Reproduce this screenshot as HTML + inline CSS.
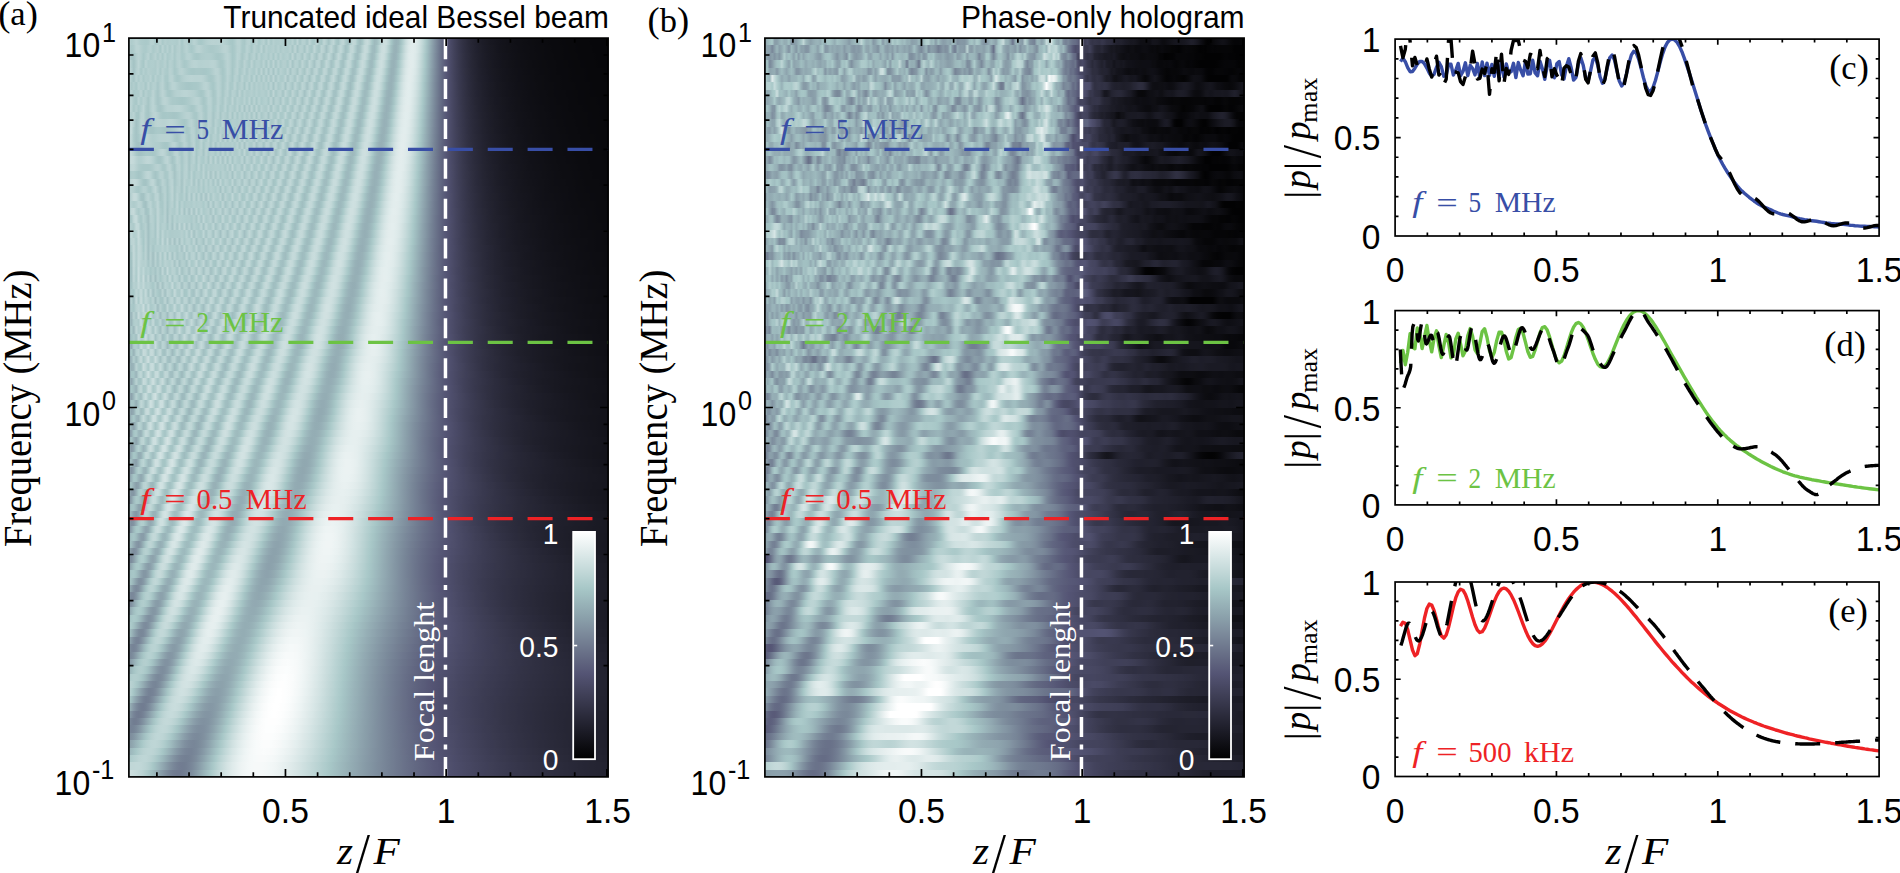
<!DOCTYPE html>
<html><head><meta charset="utf-8"><title>Bessel beam frequency response</title>
<style>
html,body{margin:0;padding:0;background:#fff}
#fig{position:relative;width:1900px;height:873px;overflow:hidden;background:#fff}
.hm{position:absolute;display:flex;flex-direction:column}
.hm i{display:block;flex:1 1 0;min-height:0}
svg{position:absolute;left:0;top:0}
</style></head><body><div id="fig">
<div class="hm" style="left:128.9px;top:38.1px;width:479.2px;height:738.8px">
<i style="background:linear-gradient(90deg,#bad3d3,#afcccc,#b4cfcf,#bad3d3,#b4cfcf,#adcbcb,#accaca,#aac9c9,#accaca,#b6d1d1,#b8d2d2,#a9c9c9,#aecbcb,#b9d2d2,#aac9c9,#b4cfcf,#afcccc,#b1cdcd,#b1cece,#b0cdcd,#aecbcb,#b8d2d2,#a7c7c7,#b5d0d0,#b6d0d0,#a8c8c8,#afcccc,#b9d3d3,#b4cfcf,#aac9c9,#a8c8c8,#adcbcb,#b3cece,#b6d1d1,#b9d2d2,#bad3d3,#b9d2d2,#b9d3d3,#bad3d3,#b8d2d2,#b4cfcf,#afcccc,#a9c8c8,#a7c7c7,#aecccc,#b9d2d2,#b8d2d2,#accaca,#a8c7c7,#b5d0d0,#b8d2d2,#a8c8c8,#afcccc,#bad3d3,#a8c8c8,#b1cece,#b8d2d2,#a6c6c6,#bbd4d4,#a9c8c8,#b5d0d0,#afcccc,#b0cdcd,#b3cece,#afcccc,#b1cece,#b2cece,#adcbcb,#b8d2d2,#a6c6c6,#bdd5d5,#a6c5c6,#b6d1d1,#b5d0d0,#a6c5c6,#bdd5d5,#accaca,#a9c8c8,#bfd6d6,#abc9c9,#a7c7c7,#bfd6d6,#b2cece,#a3c2c3,#b6d1d1,#bfd6d6,#a8c8c8,#a4c3c4,#b9d3d3,#c1d7d7,#accaca,#a2bfc1,#aecccc,#c2d8d8,#bfd6d6,#a8c8c8,#a0bdc0,#a9c8c8,#bfd6d6,#c7dbdb,#bcd4d4,#a7c7c7,#9ebabd,#a1bec0,#b0cdcd,#c4d9d9,#cddfdf,#c9dddd,#bad3d3,#a6c6c6,#9bb7bb,#97b1b7,#9bb6ba,#a4c3c4,#b5d0d0,#c8dcdc,#d6e5e5,#deeaea,#e2ecec,#e0ebeb,#d8e6e6,#cddfdf,#c0d7d7,#b0cdcd,#a2c0c2,#98b1b7,#8da2ac,#8293a2,#788597,#6e788e,#656b85,#5c607c,#555575,#4e4e6c,#474763,#42425b,#3d3d54,#38384d,#343447,#303042,#2d2d3e,#292939,#272735,#242432,#22222f,#20202c,#1e1e29,#1c1c27,#1b1b25,#1a1a23,#181821,#171720,#16161f,#15151d,#14141c,#13131b,#13131a,#121219,#111118,#111117,#101016,#0f0f15,#0f0f15,#0f0f14,#0e0e13,#0e0e13,#0d0d12,#0d0d12,#0d0d11,#0c0c11,#0c0c10,#0b0b10,#0b0b10,#0b0b0f,#0b0b0f,#0a0a0e,#0a0a0e,#0a0a0e,#0a0a0e,#0a0a0d,#09090d,#09090d,#09090c,#09090c,#09090c,#09090c,#08080b,#08080b,#08080b,#08080b,#08080b,#08080b,#07070a,#07070a,#07070a,#07070a,#07070a,#07070a,#070709,#070709)"></i>
<i style="background:linear-gradient(90deg,#b7d1d1,#abc9c9,#afcccc,#bad3d3,#bad3d3,#b3cece,#adcbcb,#abcaca,#b2cece,#b6d1d1,#abcaca,#b1cdcd,#b6d0d0,#a7c7c7,#bad3d3,#aac9c9,#b6d1d1,#a9c8c8,#bad3d3,#a9c8c8,#b3cece,#b6d0d0,#a9c8c8,#b2cece,#b8d2d2,#aecccc,#a8c8c8,#aecccc,#b7d1d1,#bad3d3,#b6d0d0,#b1cdcd,#aecccc,#accaca,#aac9c9,#abc9c9,#adcbcb,#afcccc,#b3cece,#b8d2d2,#bbd3d3,#b7d1d1,#aecbcb,#a7c7c7,#accaca,#b7d1d1,#b8d2d2,#aac9c9,#aac9c9,#b9d3d3,#b2cece,#a7c7c7,#b9d2d2,#b0cccc,#aac9c9,#bbd4d4,#a7c6c6,#b7d1d1,#aecccc,#b0cdcd,#b4cfcf,#accaca,#b6d1d1,#accaca,#b4cfcf,#b0cdcd,#afcccc,#b7d1d1,#a7c6c6,#bed5d5,#a6c5c6,#b6d0d0,#b5d0d0,#a6c5c6,#bdd5d5,#adcbcb,#a7c7c7,#bfd6d6,#adcbcb,#a6c5c5,#bdd5d5,#b6d0d0,#a3c1c3,#b2cece,#c1d7d7,#adcbcb,#a3c1c2,#b4d0d0,#c2d8d8,#b2cece,#a2c0c2,#a8c8c8,#bfd6d6,#c2d8d8,#b0cdcd,#a1bec1,#a4c2c3,#b7d1d1,#c7dbdb,#c3d9d9,#afcccc,#a0bdc0,#9ebabe,#a7c6c6,#bbd4d4,#cadddd,#cddfdf,#c3d9d9,#b1cdcd,#a1bfc1,#99b3b8,#97b1b7,#9ebabd,#a9c8c8,#bcd4d4,#cddfdf,#d9e7e7,#e0ebeb,#e1ecec,#deeaea,#d6e5e5,#cbdede,#bdd5d5,#aecbcb,#a1bec1,#96afb6,#8ba0ab,#8192a1,#778497,#6d778d,#646b84,#5c607c,#555575,#4e4e6b,#484863,#42425b,#3d3d54,#38384e,#343448,#303043,#2d2d3e,#2a2a3a,#272736,#252533,#222230,#20202d,#1f1f2a,#1d1d28,#1b1b26,#1a1a24,#191922,#181821,#17171f,#15151e,#14141c,#14141b,#13131a,#121219,#121218,#111117,#101017,#101016,#0f0f15,#0f0f14,#0e0e14,#0e0e13,#0e0e13,#0d0d12,#0d0d12,#0c0c11,#0c0c11,#0c0c10,#0c0c10,#0b0b10,#0b0b0f,#0b0b0f,#0a0a0e,#0a0a0e,#0a0a0e,#0a0a0e,#0a0a0d,#09090d,#09090d,#09090c,#09090c,#09090c,#08080c,#08080b,#08080b,#08080b,#08080b,#08080b,#08080b,#07070a,#07070a,#07070a,#07070a,#07070a,#07070a,#070709)"></i>
<i style="background:linear-gradient(90deg,#b7d1d1,#a7c6c7,#a5c4c5,#b2cece,#bad3d3,#b3cfcf,#a8c8c8,#b0cdcd,#bad3d3,#a9c8c8,#b0cccc,#b7d1d1,#aac9c9,#b7d1d1,#a9c8c8,#b9d3d3,#abcaca,#b0cdcd,#b6d1d1,#a9c8c8,#b5d0d0,#b5d0d0,#aac9c9,#adcbcb,#b6d1d1,#b8d2d2,#b1cece,#aac9c9,#a7c7c7,#a9c8c8,#aecbcb,#afcccc,#b0cdcd,#b1cdcd,#b0cdcd,#adcbcb,#a9c8c8,#a7c7c7,#a9c8c8,#aecbcb,#b6d1d1,#bad3d3,#b3cfcf,#a7c7c7,#abcaca,#b9d3d3,#b6d0d0,#a7c6c6,#b1cdcd,#bad3d3,#a8c7c7,#b1cdcd,#b8d2d2,#a7c6c6,#bad3d3,#abcaca,#b1cece,#b5d0d0,#aac9c9,#b8d2d2,#a8c8c8,#bad3d3,#a8c8c8,#b7d1d1,#adcbcb,#b1cece,#b5d0d0,#a7c7c7,#bed5d5,#a6c5c6,#b6d1d1,#b5d0d0,#a6c5c5,#bdd5d5,#aecccc,#a7c6c6,#bed6d6,#afcccc,#a4c3c4,#bcd4d4,#b9d2d2,#a4c2c3,#aecbcb,#c1d8d8,#b2cece,#a2c0c2,#afcccc,#c2d8d8,#b8d2d2,#a3c2c3,#a4c3c4,#bad3d3,#c4dada,#b6d1d1,#a3c2c3,#a1bec1,#afcccc,#c2d8d8,#c7dbdb,#b8d2d2,#a5c3c4,#9db9bd,#a2bfc1,#b1cece,#c4d9d9,#cddfdf,#cadddd,#bbd4d4,#a7c7c7,#9db8bc,#97b1b7,#99b3b9,#a1bfc1,#b0cdcd,#c2d8d8,#d1e2e2,#dce9e9,#e1ecec,#e1ecec,#dce9e9,#d4e3e3,#c8dcdc,#bad3d3,#aac9c9,#9fbcbf,#95adb4,#8a9faa,#8090a0,#768396,#6d768d,#646a84,#5c5f7c,#555575,#4e4e6c,#484863,#42425b,#3d3d55,#39394e,#353549,#313143,#2d2d3f,#2b2b3b,#282837,#252533,#232330,#21212e,#1f1f2b,#1d1d29,#1c1c26,#1a1a25,#191923,#181821,#171720,#16161e,#15151d,#14141c,#13131b,#13131a,#121219,#111118,#111117,#101016,#101015,#0f0f15,#0f0f14,#0e0e14,#0e0e13,#0d0d12,#0d0d12,#0d0d11,#0c0c11,#0c0c11,#0c0c10,#0b0b10,#0b0b0f,#0b0b0f,#0b0b0f,#0a0a0e,#0a0a0e,#0a0a0e,#0a0a0d,#09090d,#09090d,#09090d,#09090c,#09090c,#09090c,#08080c,#08080b,#08080b,#08080b,#08080b,#08080b,#08080b,#07070a,#07070a,#07070a,#07070a,#07070a,#07070a)"></i>
<i style="background:linear-gradient(90deg,#c3d9d9,#afcccc,#a4c3c4,#b0cccc,#bdd5d5,#afcccc,#a7c7c7,#bad3d3,#aecccc,#b0cdcd,#b1cece,#aecbcb,#b6d0d0,#aecbcb,#aecccc,#b7d1d1,#a9c8c8,#b6d1d1,#b2cece,#a8c8c8,#b4cfcf,#b8d2d2,#afcccc,#a8c8c8,#abcaca,#b2cece,#b7d1d1,#bad3d3,#b9d3d3,#b6d1d1,#b5d0d0,#b6d1d1,#b7d1d1,#b7d1d1,#b9d3d3,#bad3d3,#b7d1d1,#afcccc,#a8c7c7,#a8c8c8,#b2cece,#bad3d3,#b4cfcf,#a8c7c7,#adcbcb,#bad3d3,#afcccc,#a8c7c7,#bad3d3,#b0cdcd,#a8c8c8,#bcd4d4,#a9c8c8,#b3cfcf,#b3cfcf,#abc9c9,#bad3d3,#a6c6c6,#bbd4d4,#a6c6c6,#bcd4d4,#a6c6c6,#bad3d3,#aac9c9,#b4cfcf,#b3cece,#a8c8c8,#bdd5d5,#a5c4c5,#b7d1d1,#b4d0d0,#a6c5c5,#bdd5d5,#afcccc,#a6c5c6,#bed6d6,#b2cece,#a4c2c4,#b9d3d3,#bbd4d4,#a5c3c4,#aac9c9,#c0d7d7,#b6d1d1,#a3c1c3,#aac9c9,#c0d7d7,#bdd5d5,#a6c5c6,#a2c0c2,#b3cfcf,#c4d9d9,#bdd5d5,#a7c6c7,#a0bdc0,#a8c8c8,#bdd5d5,#c7dbdb,#bfd7d7,#accaca,#9fbcbf,#9ebabe,#a8c8c8,#bcd5d5,#cadddd,#cddfdf,#c4d9d9,#b2cece,#a2c0c2,#99b4b9,#97b1b7,#9cb7bc,#a5c5c5,#b6d1d1,#c8dcdc,#d6e5e5,#deeaea,#e2ecec,#e1ecec,#dbe8e8,#d1e2e2,#c5dada,#b7d1d1,#a8c8c8,#9db9bd,#93abb3,#899da9,#7f8f9f,#758295,#6c758c,#646a84,#5c5f7c,#555575,#4e4e6c,#484864,#43435c,#3e3e55,#39394f,#353549,#313144,#2e2e40,#2b2b3b,#282837,#262634,#242431,#21212e,#1f1f2b,#1e1e29,#1c1c27,#1b1b25,#1a1a23,#181822,#171720,#16161f,#15151e,#14141c,#14141b,#13131a,#121219,#121218,#111117,#101017,#101016,#0f0f15,#0f0f15,#0f0f14,#0e0e13,#0e0e13,#0d0d12,#0d0d12,#0d0d11,#0c0c11,#0c0c10,#0c0c10,#0b0b10,#0b0b0f,#0b0b0f,#0b0b0f,#0a0a0e,#0a0a0e,#0a0a0e,#0a0a0d,#0a0a0d,#09090d,#09090d,#09090c,#09090c,#09090c,#08080c,#08080c,#08080b,#08080b,#08080b,#08080b,#08080a,#07070a,#07070a,#07070a,#07070a,#07070a)"></i>
<i style="background:linear-gradient(90deg,#c4d9d9,#b3cfcf,#a4c2c4,#b3cfcf,#bad3d3,#a8c8c8,#b4d0d0,#accaca,#b5d0d0,#b1cdcd,#afcccc,#adcbcb,#b8d2d2,#a9c8c8,#b7d1d1,#aecccc,#abcaca,#b9d2d2,#b3cfcf,#a7c7c7,#adcbcb,#b7d1d1,#b9d2d2,#b3cfcf,#aecbcb,#a9c9c9,#a7c7c7,#a7c7c7,#a9c8c8,#a9c8c8,#a8c7c7,#a7c6c7,#a7c7c7,#a9c9c9,#adcbcb,#b4cfcf,#bad3d3,#b9d2d2,#aecbcb,#a6c6c6,#aecccc,#bbd4d4,#b4cfcf,#a6c6c6,#b2cece,#bbd3d3,#a8c8c8,#afcccc,#b9d3d3,#a7c6c7,#b7d1d1,#b0cdcd,#abcaca,#bad3d3,#a6c6c6,#bcd4d4,#a6c5c5,#bcd5d5,#a6c5c6,#bcd5d5,#a5c4c5,#bcd5d5,#a7c7c7,#b7d1d1,#b0cdcd,#abc9c9,#bdd5d5,#a5c4c5,#b8d2d2,#b4cfcf,#a6c5c5,#bdd5d5,#afcccc,#a6c5c5,#bed5d5,#b3cfcf,#a4c2c3,#b8d2d2,#bdd5d5,#a6c5c6,#a7c7c7,#bfd6d6,#bad3d3,#a4c3c4,#a7c6c6,#bdd5d5,#c0d7d7,#aac9c9,#a1bfc1,#adcbcb,#c2d8d8,#c1d8d8,#adcbcb,#a0bdc0,#a4c2c4,#b7d1d1,#c6dbdb,#c4dada,#b4cfcf,#a3c1c2,#9db9bd,#a3c1c2,#b3cfcf,#c5dada,#cddfdf,#c9dddd,#bcd4d4,#a9c8c8,#9dbabd,#97b1b7,#98b2b8,#9fbcbf,#abcaca,#bdd5d5,#cddfdf,#d9e7e7,#e0ebeb,#e2ecec,#dfebeb,#d9e7e7,#cfe0e0,#c2d8d8,#b4cfcf,#a6c5c6,#9cb7bc,#91a9b1,#879ba7,#7e8e9e,#758194,#6c758c,#636983,#5c5f7c,#555575,#4e4e6c,#484864,#43435c,#3e3e56,#3a3a50,#35354a,#323245,#2f2f40,#2c2c3c,#292938,#262635,#242432,#22222f,#20202c,#1e1e2a,#1d1d28,#1b1b26,#1a1a24,#191922,#181821,#17171f,#16161e,#15151d,#14141c,#13131b,#13131a,#121219,#111118,#111117,#101017,#101016,#0f0f15,#0f0f14,#0e0e14,#0e0e13,#0e0e13,#0d0d12,#0d0d12,#0c0c11,#0c0c11,#0c0c10,#0c0c10,#0b0b10,#0b0b0f,#0b0b0f,#0a0a0e,#0a0a0e,#0a0a0e,#0a0a0e,#0a0a0e,#0a0a0d,#09090d,#09090d,#09090c,#09090c,#09090c,#09090c,#08080c,#08080b,#08080b,#08080b,#08080b,#08080b,#08080b,#08080a,#07070a,#07070a)"></i>
<i style="background:linear-gradient(90deg,#c4dada,#b0cdcd,#a6c5c6,#b8d2d2,#adcbcb,#b8d2d2,#aac9c9,#b2cece,#afcccc,#b8d2d2,#a7c7c7,#b7d1d1,#accaca,#b0cdcd,#b9d3d3,#aac9c9,#a9c9c9,#b8d2d2,#b9d2d2,#adcbcb,#a7c7c7,#aac9c9,#b1cdcd,#b5d0d0,#b8d2d2,#bad3d3,#bbd4d4,#bad3d3,#b9d3d3,#bad3d3,#bad3d3,#b7d1d1,#b1cdcd,#aac9c9,#a7c7c7,#abc9c9,#b4cfcf,#bad3d3,#b3cece,#a7c7c7,#adcbcb,#bad3d3,#b0cdcd,#a7c7c7,#b8d2d2,#b3cfcf,#a7c6c7,#bbd4d4,#adcbcb,#adcbcb,#b9d2d2,#a6c6c6,#bcd5d5,#a6c6c6,#bad3d3,#a8c7c7,#bad3d3,#a7c7c7,#bbd3d3,#a6c5c6,#bdd5d5,#a6c5c6,#b9d3d3,#adcbcb,#adcbcb,#bcd4d4,#a5c3c4,#b9d3d3,#b3cfcf,#a6c5c6,#bdd5d5,#afcccc,#a5c5c5,#bdd5d5,#b4cfcf,#a3c2c3,#b6d1d1,#bed6d6,#a7c7c7,#a6c5c6,#bdd5d5,#bcd4d4,#a6c5c6,#a5c4c5,#bad3d3,#c2d8d8,#afcccc,#a1bfc1,#a8c8c8,#bed6d6,#c4d9d9,#b4cfcf,#a2c0c2,#a1bec1,#b0cccc,#c3d9d9,#c7dbdb,#bbd3d3,#a7c7c7,#9ebabe,#9fbcbf,#aac9c9,#bed6d6,#cbdede,#cddfdf,#c3d9d9,#b3cfcf,#a3c1c3,#9ab5ba,#97b0b7,#9ab5ba,#a3c1c3,#b2cece,#c3d9d9,#d2e2e2,#dce9e9,#e1ecec,#e2ecec,#deeaea,#d6e5e5,#ccdfdf,#c0d7d7,#b1cdcd,#a4c3c4,#9ab5ba,#90a7b0,#869aa6,#7d8c9d,#748094,#6b748b,#636983,#5c5f7b,#555575,#4e4e6c,#494964,#43435d,#3e3e56,#3a3a50,#36364b,#323246,#2f2f41,#2c2c3d,#292939,#272736,#252532,#22222f,#20202d,#1f1f2b,#1d1d29,#1c1c27,#1a1a25,#191923,#181821,#171720,#16161f,#15151d,#14141c,#14141b,#13131a,#121219,#121218,#111118,#101017,#101016,#101015,#0f0f15,#0f0f14,#0e0e14,#0e0e13,#0d0d12,#0d0d12,#0d0d12,#0d0d11,#0c0c11,#0c0c10,#0b0b10,#0b0b0f,#0b0b0f,#0b0b0f,#0b0b0f,#0a0a0e,#0a0a0e,#0a0a0e,#0a0a0d,#09090d,#09090d,#09090d,#09090d,#09090c,#09090c,#08080c,#08080b,#08080b,#08080b,#08080b,#08080b,#08080b,#08080a,#07070a,#07070a)"></i>
<i style="background:linear-gradient(90deg,#c3d9d9,#abc9c9,#b2cece,#a8c8c8,#b8d2d2,#b0cdcd,#b4cfcf,#a7c7c7,#bad3d3,#abc9c9,#b5d0d0,#b3cfcf,#a7c6c7,#b4cfcf,#bad3d3,#accaca,#a6c6c6,#b0cdcd,#bad3d3,#b9d3d3,#b3cfcf,#aecbcb,#abc9c9,#a9c8c8,#a7c6c7,#a6c6c6,#a7c7c7,#a8c8c8,#a9c8c8,#abcaca,#b1cdcd,#b8d2d2,#bbd4d4,#b6d0d0,#abcaca,#a7c7c7,#b0cdcd,#bad3d3,#b3cfcf,#a7c6c6,#b0cdcd,#bbd4d4,#aac9c9,#abcaca,#bcd4d4,#a9c8c8,#b1cdcd,#b7d1d1,#a6c6c6,#bcd5d5,#a7c7c7,#b8d2d2,#abc9c9,#b5d0d0,#aecbcb,#b4cfcf,#accaca,#b7d1d1,#a8c8c8,#bcd5d5,#a5c4c5,#bcd4d4,#aac9c9,#b0cdcd,#bad3d3,#a4c3c4,#bbd4d4,#b2cece,#a6c5c6,#bdd5d5,#afcccc,#a6c5c5,#bdd5d5,#b5d0d0,#a3c1c3,#b5d0d0,#bfd6d6,#a8c8c8,#a5c4c5,#bbd4d4,#bed6d6,#a8c7c7,#a3c2c3,#b6d1d1,#c2d8d8,#b4cfcf,#a2c0c2,#a5c4c5,#bad3d3,#c5dada,#b9d3d3,#a5c4c5,#9fbcbf,#a9c8c8,#bed5d5,#c8dcdc,#c0d7d7,#aecbcb,#a0bdc0,#9db9bd,#a4c3c4,#b6d0d0,#c7dbdb,#cee0e0,#c9dddd,#bcd4d4,#aac9c9,#9ebbbe,#98b2b8,#97b1b7,#9db9bd,#a7c7c7,#b9d3d3,#c9dddd,#d6e5e5,#deeaea,#e2eded,#e1ecec,#dce9e9,#d4e4e4,#cadddd,#bdd5d5,#aecccc,#a2c0c2,#99b3b8,#8fa5af,#8598a5,#7c8b9c,#737f93,#6b738b,#636983,#5b5e7b,#555574,#4e4e6c,#494965,#44445d,#3f3f57,#3a3a50,#36364b,#333346,#303042,#2c2c3d,#2a2a3a,#272736,#252533,#232330,#21212e,#1f1f2b,#1e1e29,#1c1c27,#1b1b25,#1a1a24,#191922,#171720,#17171f,#16161e,#15151d,#14141c,#13131b,#13131a,#121219,#111118,#111117,#101017,#101016,#0f0f15,#0f0f14,#0e0e14,#0e0e14,#0e0e13,#0d0d12,#0d0d12,#0d0d11,#0c0c11,#0c0c11,#0c0c10,#0c0c10,#0b0b10,#0b0b0f,#0b0b0f,#0a0a0e,#0a0a0e,#0a0a0e,#0a0a0e,#0a0a0e,#0a0a0d,#09090d,#09090d,#09090c,#09090c,#09090c,#09090c,#08080c,#08080b,#08080b,#08080b,#08080b,#08080b,#08080b,#08080a)"></i>
<i style="background:linear-gradient(90deg,#b6d1d1,#b8d2d2,#aac9c9,#aecccc,#afcccc,#bbd4d4,#a8c7c7,#b6d1d1,#accaca,#adcbcb,#bcd4d4,#afcccc,#a6c5c6,#b3cece,#bcd4d4,#b4cfcf,#a8c8c8,#a6c6c6,#accaca,#b3cece,#b6d1d1,#b7d1d1,#b9d3d3,#bbd4d4,#bbd4d4,#b9d2d2,#b7d1d1,#b5d0d0,#b0cdcd,#aac9c9,#a6c6c6,#aac9c9,#b6d0d0,#bcd4d4,#b3cfcf,#a7c6c6,#accaca,#bbd4d4,#b4cfcf,#a6c6c6,#b4cfcf,#b8d2d2,#a7c6c7,#b6d1d1,#b4cfcf,#a7c6c7,#bcd4d4,#a8c7c7,#b6d1d1,#aecbcb,#b0cdcd,#b4cfcf,#adcbcb,#b5d0d0,#adcbcb,#b2cece,#b2cece,#accaca,#b9d2d2,#a5c5c5,#bed5d5,#a7c7c7,#b4cfcf,#b7d1d1,#a5c4c5,#bdd5d5,#b0cdcd,#a6c6c6,#bed5d5,#afcccc,#a6c5c6,#bdd5d5,#b5d0d0,#a3c1c3,#b4cfcf,#c0d7d7,#aac9c9,#a4c3c4,#b9d3d3,#c0d7d7,#aac9c9,#a2c0c2,#b3cfcf,#c3d9d9,#b8d2d2,#a4c2c4,#a3c1c3,#b5d0d0,#c4dada,#bed6d6,#a9c8c8,#9fbcbf,#a5c3c4,#b8d2d2,#c6dbdb,#c5dada,#b5d0d0,#a4c2c4,#9db9bd,#a1bec0,#aecbcb,#c0d7d7,#ccdfdf,#cddfdf,#c3d9d9,#b3cece,#a3c1c3,#9ab5ba,#97b0b7,#99b4b9,#a1bfc1,#aecccc,#c0d7d7,#cee0e0,#d9e7e7,#e0ebeb,#e2eded,#e0ecec,#dae8e8,#d2e2e2,#c7dbdb,#bad3d3,#accaca,#a1bec0,#97b1b7,#8da4ad,#8497a4,#7b8a9b,#727e92,#6a738a,#636882,#5b5e7b,#555575,#4e4e6c,#494965,#44445e,#3f3f57,#3b3b51,#37374c,#333347,#303042,#2d2d3e,#2a2a3a,#282837,#252534,#232331,#22222f,#20202c,#1e1e2a,#1d1d28,#1b1b26,#1a1a24,#191923,#181821,#171720,#16161e,#15151d,#14141c,#14141b,#13131a,#121219,#121218,#111118,#111117,#101016,#101016,#0f0f15,#0f0f14,#0e0e14,#0e0e13,#0e0e13,#0d0d12,#0d0d12,#0d0d12,#0c0c11,#0c0c10,#0c0c10,#0b0b10,#0b0b10,#0b0b0f,#0b0b0f,#0b0b0f,#0a0a0e,#0a0a0e,#0a0a0e,#0a0a0d,#0a0a0d,#09090d,#09090d,#09090d,#09090c,#09090c,#08080c,#08080c,#08080b,#08080b,#08080b,#08080b,#08080b,#08080b)"></i>
<i style="background:linear-gradient(90deg,#b9d2d2,#b9d3d3,#adcbcb,#a7c7c7,#b9d3d3,#abcaca,#b7d1d1,#b3cece,#a6c5c5,#b3cfcf,#bcd5d5,#afcccc,#a6c5c6,#accaca,#b8d2d2,#bcd4d4,#b7d1d1,#afcccc,#abc9c9,#aac9c9,#a9c8c8,#a7c7c7,#a6c6c6,#a7c7c7,#aac9c9,#aecbcb,#b2cece,#b7d1d1,#bad3d3,#b8d2d2,#aecbcb,#a6c6c6,#accaca,#b9d3d3,#b8d2d2,#a9c8c8,#abc9c9,#bad3d3,#b0cdcd,#a8c7c7,#bad3d3,#afcccc,#a9c8c8,#bcd4d4,#a8c7c7,#b6d1d1,#b0cdcd,#accaca,#b8d2d2,#a8c8c8,#bbd4d4,#a6c6c6,#bad3d3,#a7c7c7,#b9d3d3,#abcaca,#b1cece,#b4d0d0,#a8c7c7,#bed5d5,#a5c4c5,#b7d1d1,#b4cfcf,#a6c5c6,#bed6d6,#adcbcb,#a7c7c7,#bfd6d6,#aecbcb,#a6c5c6,#bdd5d5,#b5d0d0,#a3c2c3,#b4cfcf,#c0d7d7,#abc9c9,#a3c2c3,#b8d2d2,#c1d7d7,#accaca,#a2c0c2,#b0cdcd,#c2d8d8,#bbd4d4,#a6c5c5,#a2bfc1,#b1cdcd,#c3d9d9,#c1d8d8,#aecbcb,#a0bec0,#a2c0c2,#b2cece,#c4d9d9,#c7dbdb,#bbd4d4,#a8c8c8,#9ebbbe,#9ebabe,#a7c6c6,#b9d2d2,#c8dcdc,#cee0e0,#c9dddd,#bbd4d4,#aac9c9,#9ebbbe,#98b2b8,#97b1b7,#9cb8bc,#a5c4c5,#b5d0d0,#c6dbdb,#d3e3e3,#dce9e9,#e1ecec,#e2eded,#dfebeb,#d8e6e6,#cfe0e0,#c4d9d9,#b7d1d1,#a9c8c8,#9fbcbf,#95aeb5,#8ca2ac,#8395a3,#7a899a,#727d91,#6a7289,#626882,#5b5e7b,#555575,#4f4f6d,#494965,#44445e,#404058,#3b3b52,#37374c,#343447,#303043,#2e2e3f,#2b2b3b,#282838,#262634,#242432,#22222f,#20202d,#1f1f2b,#1d1d29,#1c1c26,#1b1b25,#191923,#181822,#181821,#17171f,#16161e,#15151d,#14141c,#13131b,#13131a,#121219,#121218,#111117,#101017,#101016,#0f0f15,#0f0f15,#0f0f14,#0e0e14,#0e0e13,#0d0d13,#0d0d12,#0d0d12,#0d0d11,#0c0c11,#0c0c11,#0c0c10,#0b0b10,#0b0b0f,#0b0b0f,#0b0b0f,#0b0b0f,#0a0a0e,#0a0a0e,#0a0a0e,#0a0a0d,#09090d,#09090d,#09090d,#09090c,#09090c,#09090c,#09090c,#09090c,#08080c,#08080b,#08080b,#08080b,#08080b)"></i>
<i style="background:linear-gradient(90deg,#c0d7d7,#b8d2d2,#a9c8c8,#b4cfcf,#a8c8c8,#b2cece,#bdd5d5,#accaca,#a6c5c5,#b3cfcf,#bcd5d5,#b5d0d0,#a8c8c8,#a6c5c6,#abc9c9,#b3cfcf,#b8d2d2,#b8d2d2,#b8d2d2,#bad3d3,#bbd4d4,#bbd4d4,#b8d2d2,#b4cfcf,#b0cdcd,#abcaca,#a7c7c7,#a9c8c8,#b2cece,#bad3d3,#b7d1d1,#aac9c9,#a8c8c8,#b6d1d1,#b8d2d2,#a8c8c8,#aecccc,#bbd4d4,#aac9c9,#accaca,#bbd4d4,#a7c7c7,#b6d1d1,#b1cdcd,#aac9c9,#bbd3d3,#a6c6c6,#bcd5d5,#a5c4c5,#bcd4d4,#a6c5c6,#bdd5d5,#a5c5c5,#bcd4d4,#a6c6c6,#b8d2d2,#b0cccc,#accaca,#bbd4d4,#a4c3c4,#bad3d3,#b1cdcd,#a7c7c7,#bed6d6,#aac9c9,#a9c8c8,#bfd7d7,#accaca,#a6c5c6,#bdd5d5,#b5d0d0,#a4c2c3,#b3cfcf,#c0d7d7,#abcaca,#a3c2c3,#b7d1d1,#c1d8d8,#aecccc,#a2bfc2,#adcbcb,#c1d8d8,#bed5d5,#a7c7c7,#a1bec1,#accaca,#c1d7d7,#c4d9d9,#b3cfcf,#a2c0c2,#a0bdc0,#accaca,#c0d7d7,#c8dcdc,#c0d7d7,#afcccc,#a1bec1,#9db9bd,#a3c1c2,#b1cece,#c3d9d9,#cddfdf,#cddfdf,#c3d9d9,#b2cece,#a3c1c3,#9bb6ba,#97b0b7,#99b3b9,#a0bdc0,#abcaca,#bcd4d4,#cbdede,#d7e5e5,#deeaea,#e2ecec,#e2ecec,#deeaea,#d6e5e5,#ccdfdf,#c1d7d7,#b4cfcf,#a7c6c7,#9db9bd,#94acb4,#8ba0ab,#8294a2,#798899,#717c91,#697189,#626782,#5b5e7b,#555575,#4f4f6d,#494965,#44445e,#404058,#3c3c52,#38384d,#343448,#313143,#2e2e3f,#2b2b3c,#292939,#272735,#242432,#222230,#21212d,#1f1f2b,#1e1e29,#1d1d27,#1b1b25,#1a1a24,#191922,#181821,#171720,#16161f,#15151d,#14141c,#14141b,#13131a,#121219,#121219,#111118,#111117,#101016,#101016,#0f0f15,#0f0f15,#0f0f14,#0e0e14,#0e0e13,#0e0e13,#0d0d12,#0d0d12,#0c0c11,#0c0c11,#0c0c11,#0c0c10,#0c0c10,#0b0b10,#0b0b0f,#0b0b0f,#0a0a0e,#0a0a0e,#0a0a0e,#0a0a0e,#0a0a0e,#0a0a0d,#09090d,#09090d,#09090c,#09090c,#09090c,#09090c,#09090c,#08080c,#08080c,#08080b,#08080b)"></i>
<i style="background:linear-gradient(90deg,#b9d3d3,#b3cfcf,#b9d3d3,#a7c7c7,#a6c6c6,#bad3d3,#bbd4d4,#aac9c9,#a6c5c6,#afcccc,#bad3d3,#bcd4d4,#b5d0d0,#accaca,#a7c7c7,#a7c7c7,#a8c8c8,#a8c7c7,#a6c6c6,#a6c5c6,#a7c7c7,#abcaca,#b0cdcd,#b5d0d0,#b9d2d2,#b9d2d2,#b2cece,#a9c8c8,#a8c8c8,#b4cfcf,#bad3d3,#aecbcb,#a7c7c7,#b7d1d1,#b7d1d1,#a6c5c6,#b2cece,#bad3d3,#a7c6c6,#b7d1d1,#b1cdcd,#a9c8c8,#bcd4d4,#a6c6c6,#bbd4d4,#a7c7c7,#b8d2d2,#aac9c9,#b8d2d2,#aac9c9,#b9d2d2,#a6c6c6,#bdd5d5,#a5c5c5,#bdd5d5,#a9c8c8,#b1cdcd,#b8d2d2,#a5c4c5,#bdd5d5,#accaca,#a9c8c8,#bed6d6,#a9c8c8,#abcaca,#bfd6d6,#aac9c9,#a6c6c6,#bed6d6,#b5d0d0,#a3c2c3,#b3cece,#c0d7d7,#accaca,#a3c2c3,#b5d0d0,#c1d8d8,#b0cdcd,#a2c0c2,#abcaca,#c0d7d7,#bfd6d6,#aac9c9,#a1bec1,#a9c8c8,#bed6d6,#c5dada,#b7d1d1,#a4c3c4,#9fbcbf,#a7c7c7,#bbd4d4,#c7dbdb,#c4dada,#b5d0d0,#a4c3c4,#9db9bd,#9fbcbf,#aac9c9,#bdd5d5,#cadddd,#cee0e0,#c8dcdc,#bad3d3,#a9c8c8,#9ebbbe,#98b2b8,#97b1b7,#9bb7bb,#a4c2c4,#b2cece,#c3d9d9,#d0e1e1,#dae7e7,#e0ebeb,#e2eded,#e1ecec,#dce9e9,#d4e4e4,#cadddd,#bed6d6,#b1cdcd,#a5c4c5,#9cb7bc,#92aab2,#899ea9,#8192a1,#798798,#707b90,#697188,#616781,#5b5e7b,#555575,#4f4f6d,#4a4a66,#44445f,#404058,#3c3c53,#38384e,#353549,#313144,#2e2e40,#2c2c3c,#292939,#272736,#252533,#232330,#21212e,#20202c,#1e1e2a,#1d1d28,#1c1c26,#1a1a25,#191923,#181821,#171720,#16161f,#16161e,#15151d,#14141c,#13131b,#13131a,#121219,#121218,#111118,#111117,#101016,#101016,#0f0f15,#0f0f14,#0e0e14,#0e0e13,#0e0e13,#0e0e13,#0d0d12,#0d0d12,#0c0c11,#0c0c11,#0c0c10,#0c0c10,#0b0b10,#0b0b10,#0b0b0f,#0b0b0f,#0b0b0f,#0a0a0e,#0a0a0e,#0a0a0e,#0a0a0d,#0a0a0d,#0a0a0d,#09090d,#09090d,#09090c,#09090c,#09090c,#08080c,#08080b,#08080b,#08080b)"></i>
<i style="background:linear-gradient(90deg,#b1cece,#c3d9d9,#b4cfcf,#a3c1c3,#abc9c9,#bbd4d4,#bbd3d3,#adcbcb,#a6c5c5,#a7c7c7,#b0cdcd,#b9d2d2,#bcd4d4,#bbd3d3,#b9d2d2,#b9d2d2,#bbd4d4,#bdd5d5,#bcd4d4,#b8d2d2,#b4cfcf,#afcccc,#aac9c9,#a7c7c7,#accaca,#b6d1d1,#bad3d3,#b1cdcd,#a7c7c7,#b0cccc,#bbd4d4,#afcccc,#a6c6c6,#b9d2d2,#b6d0d0,#a6c5c6,#b8d2d2,#b0cdcd,#a9c9c9,#bdd5d5,#a6c6c6,#b8d2d2,#abcaca,#b2cece,#b2cece,#afcccc,#b4cfcf,#adcbcb,#b2cece,#b2cece,#aecbcb,#b9d2d2,#a6c5c6,#bdd5d5,#a6c5c5,#b8d2d2,#b3cfcf,#a7c6c6,#bed5d5,#a8c8c8,#adcbcb,#bfd6d6,#a6c6c6,#adcbcb,#bed6d6,#a8c8c8,#a8c8c8,#bfd6d6,#b3cfcf,#a3c1c3,#b3cfcf,#c0d7d7,#adcbcb,#a3c1c3,#b4cfcf,#c1d8d8,#b2cece,#a2c0c2,#a9c8c8,#bed6d6,#c0d7d7,#adcbcb,#a1bfc1,#a6c6c6,#bbd4d4,#c5dada,#bbd4d4,#a7c7c7,#a0bcbf,#a4c3c4,#b6d0d0,#c5dada,#c7dbdb,#bbd4d4,#a8c8c8,#9ebbbe,#9db9bd,#a5c4c5,#b6d0d0,#c6dbdb,#cee0e0,#ccdede,#c1d8d8,#b1cdcd,#a3c1c3,#9bb6ba,#97b0b7,#98b2b8,#9fbbbf,#a9c8c8,#b9d3d3,#c8dcdc,#d4e4e4,#dde9e9,#e1ecec,#e2eded,#e0ebeb,#dae7e7,#d1e2e2,#c7dbdb,#bbd4d4,#aecccc,#a3c1c3,#9ab5ba,#91a8b1,#889ca8,#8091a0,#788598,#707a90,#687088,#616681,#5b5d7b,#555575,#4f4f6d,#4a4a66,#45455f,#404059,#3c3c53,#39394e,#35354a,#323245,#2f2f41,#2c2c3d,#2a2a3a,#282837,#262634,#242431,#22222f,#20202c,#1f1f2a,#1d1d29,#1c1c27,#1b1b25,#1a1a24,#191922,#181821,#17171f,#16161e,#15151d,#15151d,#14141c,#13131a,#121219,#121219,#111118,#111117,#111117,#101016,#101016,#0f0f15,#0f0f14,#0e0e14,#0e0e13,#0e0e13,#0d0d13,#0d0d12,#0d0d12,#0d0d11,#0c0c11,#0c0c10,#0c0c10,#0b0b10,#0b0b0f,#0b0b0f,#0b0b0f,#0b0b0f,#0a0a0e,#0a0a0e,#0a0a0e,#0a0a0d,#0a0a0d,#09090d,#09090d,#09090d,#09090d,#09090c,#09090c,#09090c,#08080c,#08080b)"></i>
<i style="background:linear-gradient(90deg,#bed6d6,#c3d9d9,#adcbcb,#a4c3c4,#accaca,#bad3d3,#bdd5d5,#b5d0d0,#aac9c9,#a5c4c5,#a5c4c5,#a8c8c8,#abc9c9,#aac9c9,#a8c7c7,#a6c6c6,#a6c6c6,#a7c7c7,#aac9c9,#aecbcb,#b4cfcf,#b9d3d3,#b8d2d2,#b0cccc,#a7c7c7,#accaca,#b8d2d2,#b6d1d1,#a8c7c7,#adcbcb,#bcd5d5,#afcccc,#a7c6c6,#bad3d3,#afcccc,#abc9c9,#bcd5d5,#a6c6c6,#b5d0d0,#b0cdcd,#adcbcb,#b9d3d3,#a7c7c7,#bbd4d4,#a6c5c5,#bcd4d4,#a7c6c7,#bbd4d4,#a9c8c8,#b5d0d0,#b0cdcd,#abcaca,#bcd4d4,#a5c4c5,#bcd4d4,#accaca,#aac9c9,#bed6d6,#a6c6c6,#b1cece,#bcd4d4,#a5c3c4,#b1cdcd,#bfd6d6,#a7c7c7,#a9c8c8,#bfd6d6,#b2cece,#a3c1c3,#b4d0d0,#c1d7d7,#adcbcb,#a2c0c2,#b3cfcf,#c2d8d8,#b4cfcf,#a3c1c3,#a7c7c7,#bcd5d5,#c2d8d8,#b1cdcd,#a2c0c2,#a5c4c5,#b7d1d1,#c4dada,#bfd6d6,#abcaca,#a0bdc0,#a2c0c2,#b0cdcd,#c2d8d8,#c8dcdc,#c0d7d7,#aecbcb,#a0bec0,#9cb8bc,#a1bfc1,#afcccc,#c1d7d7,#ccdede,#cee0e0,#c6dbdb,#b9d2d2,#a8c8c8,#9ebbbe,#98b2b8,#97b0b6,#9bb6bb,#a3c1c3,#b0cdcd,#c0d7d7,#cddfdf,#d8e6e6,#dfebeb,#e2eded,#e2eded,#deeaea,#d8e6e6,#cfe0e0,#c4d9d9,#b8d2d2,#accaca,#a1bfc1,#98b3b8,#90a6af,#879ba7,#7f8f9f,#778497,#6f7a8f,#686f88,#616681,#5b5d7a,#555575,#4f4f6d,#4a4a66,#45455f,#414159,#3d3d54,#39394f,#36364a,#323246,#2f2f41,#2d2d3e,#2a2a3a,#282837,#262635,#242432,#22222f,#21212d,#1f1f2b,#1e1e29,#1d1d27,#1b1b26,#1a1a24,#191923,#181821,#171720,#16161f,#16161e,#15151d,#14141c,#14141b,#13131a,#121219,#121218,#111118,#111117,#101017,#101016,#101015,#0f0f15,#0f0f14,#0e0e14,#0e0e13,#0e0e13,#0d0d12,#0d0d12,#0d0d12,#0d0d11,#0c0c11,#0c0c10,#0c0c10,#0b0b10,#0b0b0f,#0b0b0f,#0b0b0f,#0b0b0f,#0a0a0e,#0a0a0e,#0a0a0e,#0a0a0e,#0a0a0d,#09090d,#09090d,#09090d,#09090c,#09090c,#09090c,#09090c,#09090c)"></i>
<i style="background:linear-gradient(90deg,#c2d8d8,#bed6d6,#accaca,#a5c3c5,#a8c8c8,#b4d0d0,#bdd5d5,#bfd6d6,#bad3d3,#b4cfcf,#b1cece,#b3cfcf,#b6d1d1,#b8d2d2,#b9d2d2,#b9d2d2,#b9d3d3,#b8d2d2,#b3cfcf,#abc9c9,#a7c6c6,#accaca,#b7d1d1,#bad3d3,#aecbcb,#a7c7c7,#b5d0d0,#b9d3d3,#a8c8c8,#abc9c9,#bdd5d5,#adcbcb,#abcaca,#bbd4d4,#a6c6c6,#b4cfcf,#b5d0d0,#a9c8c8,#bcd4d4,#a5c4c5,#bcd4d4,#a6c5c6,#bcd4d4,#a7c7c7,#bcd4d4,#a5c4c5,#bcd5d5,#a5c4c5,#bdd5d5,#a9c8c8,#b3cfcf,#b5d0d0,#a6c5c6,#bed6d6,#a8c8c8,#b1cdcd,#bcd4d4,#a4c3c4,#b5d0d0,#bad3d3,#a4c3c4,#b5d0d0,#bdd5d5,#a5c4c5,#abc9c9,#c0d7d7,#b1cdcd,#a3c2c3,#b5d0d0,#c0d7d7,#accaca,#a3c1c3,#b4cfcf,#c2d8d8,#b4cfcf,#a2c0c2,#a6c5c6,#bcd4d4,#c3d9d9,#b3cfcf,#a2c0c2,#a3c1c3,#b4cfcf,#c4d9d9,#c1d8d8,#afcccc,#a1bfc1,#a0bdc0,#accaca,#bfd6d6,#c8dcdc,#c3d9d9,#b3cfcf,#a3c1c3,#9db8bc,#9fbcbf,#a9c8c8,#bbd4d4,#c8dcdc,#cee0e0,#cadede,#c0d7d7,#b0cdcd,#a2c0c2,#9ab5ba,#96b0b6,#98b2b8,#9ebbbe,#a8c7c7,#b7d1d1,#c6dbdb,#d2e2e2,#dbe8e8,#e1ecec,#e3eded,#e1ecec,#dce9e9,#d5e4e4,#ccdfdf,#c1d8d8,#b6d0d0,#a9c8c8,#9fbcbf,#97b0b7,#8ea5ae,#8699a6,#7e8e9e,#768396,#6e798e,#676f87,#616680,#5b5d7a,#555575,#4f4f6d,#4a4a66,#454560,#41415a,#3d3d54,#3a3a4f,#36364b,#333346,#303042,#2d2d3e,#2b2b3b,#292938,#272735,#252533,#232330,#21212e,#20202c,#1e1e2a,#1d1d28,#1c1c27,#1b1b25,#1a1a24,#191922,#181821,#17171f,#16161e,#15151d,#15151d,#14141c,#13131b,#13131a,#121219,#111118,#111117,#111117,#101016,#101016,#0f0f15,#0f0f15,#0f0f14,#0e0e14,#0e0e13,#0d0d13,#0d0d12,#0d0d12,#0d0d12,#0d0d11,#0c0c11,#0c0c11,#0c0c10,#0b0b10,#0b0b0f,#0b0b0f,#0b0b0f,#0b0b0f,#0a0a0e,#0a0a0e,#0a0a0e,#0a0a0e,#0a0a0d,#0a0a0d,#09090d,#09090d,#09090c,#09090c,#09090c,#09090c)"></i>
<i style="background:linear-gradient(90deg,#c0d7d7,#bdd5d5,#afcccc,#a5c4c5,#a4c2c3,#a8c8c8,#b1cece,#b7d1d1,#b8d2d2,#b5d0d0,#b2cece,#b0cdcd,#b0cdcd,#aecbcb,#a9c8c8,#a6c6c6,#a7c7c7,#b0cdcd,#bad3d3,#bbd4d4,#b0cdcd,#a6c6c6,#accaca,#bad3d3,#b4cfcf,#a7c6c7,#b2cece,#bcd4d4,#a8c8c8,#accaca,#bbd4d4,#a7c7c7,#b4cfcf,#b7d1d1,#a6c5c6,#bbd4d4,#a6c5c6,#b9d2d2,#adcbcb,#b4cfcf,#afcccc,#b1cdcd,#afcccc,#b3cfcf,#adcbcb,#b9d2d2,#a7c6c6,#bdd5d5,#a5c3c4,#bad3d3,#aecccc,#accaca,#bdd5d5,#a5c3c4,#b5d0d0,#b7d1d1,#a4c3c4,#bbd3d3,#b7d1d1,#a4c2c3,#b7d1d1,#bbd4d4,#a5c3c4,#aecccc,#c1d7d7,#aecccc,#a3c1c3,#b6d0d0,#c0d7d7,#accaca,#a3c1c3,#b3cfcf,#c1d8d8,#b4d0d0,#a3c1c3,#a6c5c6,#bbd4d4,#c3d9d9,#b4cfcf,#a3c1c3,#a2c0c2,#b2cece,#c3d9d9,#c3d9d9,#b2cece,#a2c0c2,#9fbcbf,#a8c8c8,#bcd4d4,#c7dcdc,#c6dada,#b8d2d2,#a6c6c6,#9ebabe,#9ebabd,#a5c4c5,#b4d0d0,#c4d9d9,#cddfdf,#cddfdf,#c5dada,#b7d1d1,#a7c6c7,#9db9bd,#97b1b7,#97b0b6,#9bb6bb,#a2c1c2,#aecccc,#bdd5d5,#cbdede,#d6e5e5,#deeaea,#e2eded,#e3eded,#e0ebeb,#dae8e8,#d3e3e3,#cadddd,#bfd6d6,#b2cece,#a6c6c6,#9ebabe,#95aeb5,#8da3ad,#8598a5,#7d8d9d,#758295,#6e788e,#676e87,#606580,#5a5d7a,#555575,#4f4f6d,#4a4a66,#454560,#41415a,#3e3e55,#3a3a50,#37374b,#333347,#303043,#2e2e3f,#2b2b3c,#292939,#272736,#252534,#232331,#22222e,#20202c,#1f1f2a,#1d1d29,#1c1c27,#1b1b26,#1a1a24,#191923,#181821,#171720,#16161f,#16161e,#15151d,#14141c,#14141b,#13131a,#12121a,#121219,#111118,#111117,#101017,#101016,#101016,#0f0f15,#0f0f15,#0f0f14,#0e0e14,#0e0e13,#0d0d12,#0d0d12,#0d0d12,#0d0d12,#0c0c11,#0c0c11,#0c0c11,#0c0c10,#0b0b10,#0b0b0f,#0b0b0f,#0b0b0f,#0b0b0f,#0a0a0e,#0a0a0e,#0a0a0e,#0a0a0e,#0a0a0e,#0a0a0d,#09090d,#09090d,#09090c,#09090c,#09090c)"></i>
<i style="background:linear-gradient(90deg,#bfd6d6,#c2d8d8,#b7d1d1,#aac9c9,#a4c3c4,#a4c2c4,#a7c6c6,#aac9c9,#aac9c9,#a8c8c8,#a7c7c7,#abc9c9,#b2cece,#bbd4d4,#bed6d6,#b9d2d2,#accaca,#a5c4c5,#a9c9c9,#b9d2d2,#bcd4d4,#adcbcb,#a7c7c7,#b6d0d0,#b7d1d1,#a6c6c6,#b1cdcd,#bcd5d5,#a7c7c7,#b2cece,#b7d1d1,#a5c4c5,#bcd4d4,#abcaca,#b3cfcf,#b4cfcf,#a9c9c9,#b8d2d2,#a7c6c7,#bcd4d4,#a7c7c7,#bbd4d4,#a8c7c7,#b6d0d0,#aecbcb,#afcccc,#b9d3d3,#a6c5c6,#bed6d6,#a6c6c6,#b2cece,#b9d2d2,#a5c4c5,#bcd4d4,#b2cece,#a5c4c5,#bcd5d5,#b1cece,#a4c3c4,#bcd4d4,#b9d2d2,#a4c2c3,#b0cdcd,#c0d7d7,#accaca,#a4c2c4,#b8d2d2,#c0d7d7,#abc9c9,#a2c0c2,#b3cfcf,#c2d8d8,#b6d0d0,#a3c2c3,#a5c4c5,#b9d3d3,#c3d9d9,#b6d1d1,#a4c3c4,#a2c0c2,#b0cccc,#c1d8d8,#c4d9d9,#b6d0d0,#a4c3c4,#9fbcbf,#a6c5c6,#b7d1d1,#c5dada,#c7dbdb,#bdd5d5,#abcaca,#a0bdc0,#9db8bc,#a2bfc1,#aecccc,#bfd6d6,#cbdede,#cfe0e0,#cadddd,#bdd5d5,#adcbcb,#a1bec1,#9ab4b9,#96b0b6,#98b2b8,#9ebabe,#a6c6c6,#b5d0d0,#c4d9d9,#d0e1e1,#dae8e8,#e0ebeb,#e3eded,#e2ecec,#deeaea,#d9e7e7,#d1e2e2,#c7dbdb,#bcd4d4,#afcccc,#a4c3c4,#9cb8bc,#94adb4,#8ca1ac,#8496a4,#7c8b9c,#748194,#6d778d,#676e86,#606580,#5a5d7a,#555574,#4f4f6d,#4a4a66,#464660,#42425b,#3e3e56,#3a3a51,#37374c,#343447,#313143,#2e2e40,#2c2c3d,#2a2a3a,#282837,#262634,#242432,#22222f,#21212d,#1f1f2b,#1e1e29,#1d1d28,#1c1c26,#1b1b25,#1a1a23,#181822,#181821,#17171f,#16161e,#15151e,#15151d,#14141c,#14141b,#13131a,#121219,#121218,#111118,#111117,#101017,#101016,#101016,#0f0f15,#0f0f15,#0e0e14,#0e0e13,#0e0e13,#0d0d12,#0d0d12,#0d0d12,#0d0d11,#0c0c11,#0c0c11,#0c0c11,#0c0c10,#0b0b10,#0b0b0f,#0b0b0f,#0b0b0f,#0b0b0f,#0a0a0e,#0a0a0e,#0a0a0e,#0a0a0e,#0a0a0e,#0a0a0d,#0a0a0d,#09090d,#09090d,#09090c)"></i>
<i style="background:linear-gradient(90deg,#bed5d5,#c7dbdb,#c3d9d9,#bad3d3,#b3cfcf,#b3cfcf,#b8d2d2,#bed5d5,#c0d7d7,#bdd5d5,#b6d1d1,#adcbcb,#a6c6c6,#a6c5c6,#adcbcb,#b9d3d3,#bdd5d5,#b1cdcd,#a5c4c5,#abcaca,#bcd4d4,#b5d0d0,#a7c6c7,#b4cfcf,#b9d2d2,#a5c4c5,#b2cece,#b9d3d3,#a6c6c6,#bad3d3,#aecccc,#abcaca,#b9d2d2,#a6c5c5,#bed5d5,#a6c6c6,#bdd5d5,#a6c5c6,#bbd4d4,#a5c4c5,#bdd5d5,#a5c5c5,#bed6d6,#a6c6c6,#b8d2d2,#aecccc,#abc9c9,#bcd5d5,#a5c4c5,#bbd4d4,#b2cece,#a6c5c6,#bed5d5,#abcaca,#a8c8c8,#c0d7d7,#adcbcb,#a6c5c6,#bdd5d5,#b4cfcf,#a3c1c3,#b4d0d0,#c0d7d7,#aac9c9,#a4c3c4,#b9d2d2,#bfd6d6,#aac9c9,#a3c1c3,#b5d0d0,#c2d8d8,#b5d0d0,#a3c1c3,#a5c4c5,#b9d2d2,#c4d9d9,#b8d2d2,#a5c4c5,#a1bec1,#adcbcb,#c0d7d7,#c5dada,#b9d3d3,#a6c5c6,#9fbcbf,#a3c2c3,#b3cfcf,#c3d9d9,#c9dcdc,#c1d7d7,#b0cdcd,#a2bfc2,#9cb8bc,#9fbcbf,#a9c8c8,#bad3d3,#c8dcdc,#cee0e0,#ccdfdf,#c2d8d8,#b4cfcf,#a5c5c5,#9db9bd,#97b1b7,#97b0b6,#9ab5ba,#a2bfc2,#adcbcb,#bcd4d4,#cadddd,#d5e4e4,#dde9e9,#e1ecec,#e3eded,#e1ecec,#ddeaea,#d7e5e5,#cee0e0,#c4d9d9,#b8d2d2,#accaca,#a3c1c3,#9bb6bb,#93abb3,#8a9faa,#8294a2,#7b8a9b,#748093,#6d768d,#666d86,#606580,#5a5c7a,#545574,#4f4f6d,#4a4a67,#464661,#42425b,#3e3e56,#3b3b51,#37374c,#343448,#313144,#2f2f41,#2c2c3d,#2a2a3a,#282838,#262635,#242432,#232330,#21212e,#20202c,#1e1e2a,#1d1d29,#1c1c27,#1b1b25,#1a1a24,#191922,#181821,#171720,#16161f,#16161e,#15151d,#15151c,#14141c,#13131b,#13131a,#121219,#111118,#111118,#111117,#101017,#101016,#101016,#0f0f15,#0f0f14,#0e0e14,#0e0e13,#0e0e13,#0d0d12,#0d0d12,#0d0d12,#0d0d12,#0c0c11,#0c0c11,#0c0c11,#0c0c10,#0b0b10,#0b0b0f,#0b0b0f,#0b0b0f,#0b0b0f,#0a0a0e,#0a0a0e,#0a0a0e,#0a0a0e,#0a0a0e,#0a0a0e,#0a0a0d,#09090d,#09090d)"></i>
<i style="background:linear-gradient(90deg,#b4cfcf,#bfd6d6,#bfd6d6,#b7d1d1,#afcccc,#aac9c9,#a9c8c8,#a9c8c8,#a9c8c8,#abc9c9,#afcccc,#b6d0d0,#b9d2d2,#b3cfcf,#a9c8c8,#a9c8c8,#b7d1d1,#bcd4d4,#accaca,#a5c4c5,#b6d1d1,#b9d2d2,#a7c7c7,#b5d0d0,#bad3d3,#a5c4c5,#b6d0d0,#b2cece,#a8c8c8,#bed6d6,#a7c6c6,#bad3d3,#aac9c9,#b3cece,#afcccc,#b1cdcd,#b3cece,#b2cece,#b0cdcd,#b4cfcf,#a9c8c8,#bad3d3,#a5c4c5,#bfd6d6,#a7c7c7,#b5d0d0,#b5d0d0,#a5c4c5,#bed5d5,#aac9c9,#accaca,#bfd7d7,#a7c6c7,#adcbcb,#bed6d6,#a7c7c7,#a9c8c8,#c0d7d7,#b1cece,#a4c2c4,#b7d1d1,#bed5d5,#a7c7c7,#a5c4c5,#bcd4d4,#bfd6d6,#a9c8c8,#a3c1c3,#b4d0d0,#c2d8d8,#b5d0d0,#a3c2c3,#a5c4c5,#b9d2d2,#c3d9d9,#b8d2d2,#a5c4c5,#a1bec1,#accaca,#bfd6d6,#c6dbdb,#bbd4d4,#a7c7c7,#9fbcbf,#a2c0c2,#b0cdcd,#c2d8d8,#c9dddd,#c3d9d9,#b4cfcf,#a4c3c4,#9db9bd,#9ebabe,#a5c5c5,#b5d0d0,#c4d9d9,#cddfdf,#cee0e0,#c7dcdc,#bbd4d4,#abcaca,#a0bdc0,#99b3b9,#96afb6,#98b2b8,#9ebabe,#a6c6c6,#b5d0d0,#c3d9d9,#cfe0e0,#d8e6e6,#dfeaea,#e2eded,#e3eded,#e1ecec,#dbe8e8,#d4e3e3,#cbdede,#c1d7d7,#b6d0d0,#aac9c9,#a1bfc1,#99b4b9,#91a8b1,#899da9,#8193a1,#7a899a,#737f93,#6c768c,#666d86,#60647f,#5a5c7a,#545574,#4f4f6e,#4b4b67,#474761,#42425c,#3f3f56,#3b3b51,#38384d,#353549,#323245,#2f2f41,#2d2d3e,#2b2b3b,#292938,#272735,#252533,#232330,#22222e,#20202d,#1f1f2b,#1e1e29,#1d1d28,#1b1b26,#1a1a24,#191923,#181822,#181821,#171720,#16161f,#16161e,#15151d,#14141c,#14141b,#13131a,#121219,#121219,#111118,#111117,#111117,#101017,#101016,#101015,#0f0f15,#0f0f14,#0e0e14,#0e0e13,#0e0e13,#0d0d12,#0d0d12,#0d0d12,#0d0d12,#0d0d11,#0c0c11,#0c0c11,#0c0c10,#0b0b10,#0b0b0f,#0b0b0f,#0b0b0f,#0b0b0f,#0a0a0e,#0a0a0e,#0a0a0e,#0a0a0e,#0a0a0e,#0a0a0e,#0a0a0d,#09090d)"></i>
<i style="background:linear-gradient(90deg,#a6c5c6,#afcccc,#afcccc,#a9c9c9,#a6c5c6,#a7c7c7,#b0cdcd,#bad3d3,#bfd6d6,#b9d3d3,#accaca,#a5c4c5,#abcaca,#b8d2d2,#b7d1d1,#a9c8c8,#abcaca,#bcd4d4,#b6d0d0,#a5c3c4,#b2cece,#b8d2d2,#a6c5c6,#b7d1d1,#b8d2d2,#a6c6c6,#bbd4d4,#a7c7c7,#b2cece,#b4cfcf,#aac9c9,#bcd4d4,#a6c6c6,#bcd4d4,#a5c3c4,#bcd4d4,#a6c5c5,#bcd4d4,#a9c8c8,#b7d1d1,#b0cdcd,#abc9c9,#bad3d3,#a4c3c4,#bdd5d5,#adcbcb,#accaca,#bed6d6,#a5c4c5,#b2cece,#bbd4d4,#a4c3c4,#b4d0d0,#bed5d5,#a5c4c5,#adcbcb,#bfd6d6,#abcaca,#a4c3c4,#bbd4d4,#bdd5d5,#a6c5c6,#a6c6c6,#bcd5d5,#bdd5d5,#a7c6c7,#a4c2c3,#b7d1d1,#c3d9d9,#b5d0d0,#a3c1c2,#a4c3c4,#b8d2d2,#c4d9d9,#bad3d3,#a6c6c6,#a1bec1,#a9c9c9,#bdd5d5,#c5dada,#bdd5d5,#aac9c9,#a0bdc0,#a1bfc1,#adcbcb,#bed6d6,#c8dcdc,#c5dada,#b8d2d2,#a7c7c7,#9ebbbe,#9db8bd,#a2c0c2,#afcccc,#bfd6d6,#cbdede,#cfe0e0,#cbdede,#c0d7d7,#b1cdcd,#a3c2c3,#9bb7bb,#97b0b7,#97b0b7,#9bb6bb,#a2c0c2,#adcbcb,#bbd4d4,#c8dcdc,#d3e3e3,#dce9e9,#e1ecec,#e3eded,#e2eded,#deeaea,#d9e7e7,#d1e2e2,#c8dcdc,#bed6d6,#b3cfcf,#a7c7c7,#9fbcbf,#97b1b7,#8fa6af,#889ca8,#8192a1,#798899,#727e92,#6c758b,#656c85,#5f637f,#5a5c7a,#555574,#50506e,#4b4b68,#474762,#42425c,#3f3f56,#3b3b52,#38384d,#353549,#333346,#303042,#2e2e3f,#2b2b3c,#292939,#272736,#252533,#242431,#22222f,#21212d,#20202c,#1e1e2a,#1d1d28,#1c1c26,#1b1b25,#1a1a24,#191922,#181821,#171720,#17171f,#16161e,#15151d,#15151c,#14141b,#13131b,#13131a,#121219,#121219,#111118,#111118,#111117,#101016,#101016,#0f0f15,#0f0f15,#0f0f14,#0e0e14,#0e0e13,#0e0e13,#0d0d12,#0d0d12,#0d0d12,#0d0d12,#0d0d11,#0c0c11,#0c0c11,#0c0c10,#0b0b10,#0b0b0f,#0b0b0f,#0b0b0f,#0b0b0f,#0a0a0e,#0a0a0e,#0a0a0e,#0a0a0e,#0a0a0e,#0a0a0e,#0a0a0d)"></i>
<i style="background:linear-gradient(90deg,#b2cece,#c1d7d7,#c5dada,#c2d8d8,#b9d2d2,#aecbcb,#a5c5c5,#a4c3c4,#adcbcb,#bbd4d4,#c0d7d7,#b2cece,#a4c3c4,#aac9c9,#bad3d3,#b2cece,#a7c6c7,#b7d1d1,#bbd4d4,#a6c5c6,#b1cdcd,#b7d1d1,#a5c3c4,#bad3d3,#b1cdcd,#adcbcb,#bcd4d4,#a5c4c5,#bbd4d4,#a5c4c5,#bad3d3,#a9c8c8,#bad3d3,#aac9c9,#bad3d3,#a6c5c6,#bbd4d4,#a4c3c4,#bed6d6,#a7c7c7,#b8d2d2,#b3cece,#a7c7c7,#bdd5d5,#a5c4c5,#b4cfcf,#b9d3d3,#a5c3c4,#bbd4d4,#b6d0d0,#a4c2c3,#b9d2d2,#b8d2d2,#a3c2c3,#b4cfcf,#c0d7d7,#a8c8c8,#a6c6c6,#bdd5d5,#b9d3d3,#a4c3c4,#a8c8c8,#bfd6d6,#bdd5d5,#a6c5c6,#a4c2c4,#b7d1d1,#c2d8d8,#b3cfcf,#a3c1c3,#a5c4c5,#b9d2d2,#c4d9d9,#bad3d3,#a6c5c6,#a0bdc0,#a8c8c8,#bcd5d5,#c6dbdb,#bfd6d6,#accaca,#a0bdc0,#a0bcbf,#a9c8c8,#bcd4d4,#c8dcdc,#c8dcdc,#bcd4d4,#aac9c9,#9fbcbf,#9cb7bc,#a0bdc0,#abc9c9,#bcd4d4,#c9dcdc,#cee0e0,#cddfdf,#c4d9d9,#b7d1d1,#a8c8c8,#9fbbbf,#99b3b8,#96b0b6,#98b2b8,#9ebabe,#a6c5c6,#b3cfcf,#c2d8d8,#cee0e0,#d8e6e6,#dfeaea,#e2eded,#e3eded,#e1ecec,#dde9e9,#d7e6e6,#cfe1e1,#c6dbdb,#bbd4d4,#afcccc,#a5c4c5,#9ebabd,#96afb6,#8fa5ae,#879ba7,#80909f,#788698,#717d91,#6b748b,#656b85,#5f647f,#5a5c7a,#555575,#50506e,#4b4b68,#474761,#43435c,#3f3f57,#3c3c53,#39394e,#36364a,#333346,#303043,#2e2e3f,#2b2b3c,#292939,#282837,#262634,#242432,#232330,#21212e,#20202c,#1f1f2a,#1d1d28,#1c1c27,#1b1b26,#1a1a24,#191923,#191922,#181821,#171720,#16161f,#16161e,#15151d,#14141c,#14141b,#13131a,#13131a,#121219,#121219,#111118,#111117,#111117,#101016,#101016,#0f0f15,#0f0f14,#0e0e14,#0e0e14,#0e0e13,#0e0e13,#0e0e13,#0d0d12,#0d0d12,#0d0d12,#0d0d11,#0c0c11,#0c0c10,#0c0c10,#0b0b10,#0b0b0f,#0b0b0f,#0b0b0f,#0b0b0f,#0b0b0f,#0b0b0f,#0a0a0e,#0a0a0e,#0a0a0e,#0a0a0e)"></i>
<i style="background:linear-gradient(90deg,#b3cece,#b8d2d2,#b4cfcf,#abcaca,#a8c8c8,#aecccc,#b6d1d1,#b5d0d0,#abcaca,#a8c8c8,#b6d1d1,#bfd6d6,#afcccc,#a4c2c4,#b3cfcf,#b8d2d2,#a6c6c6,#b3cfcf,#bed5d5,#a7c6c6,#b5d0d0,#b4cfcf,#a5c4c5,#bcd4d4,#a7c7c7,#b8d2d2,#b1cdcd,#afcccc,#b6d0d0,#a8c8c8,#b7d1d1,#a8c8c8,#b8d2d2,#adcbcb,#b5d0d0,#b2cece,#abcaca,#b9d3d3,#a4c3c4,#bdd5d5,#a8c7c7,#b3cfcf,#bad3d3,#a4c3c4,#bcd4d4,#afcccc,#a5c4c5,#bed6d6,#aecccc,#a6c6c6,#bfd6d6,#b3cece,#a3c2c3,#b8d2d2,#bcd4d4,#a5c4c5,#a9c9c9,#c0d7d7,#b7d1d1,#a3c2c3,#abc9c9,#bfd7d7,#b9d2d2,#a5c3c4,#a5c4c5,#bad3d3,#c3d9d9,#b3cfcf,#a2c0c2,#a5c3c4,#b8d2d2,#c4d9d9,#bbd4d4,#a7c7c7,#a1bec0,#a8c7c7,#bbd4d4,#c5dada,#bfd7d7,#aecccc,#a1bfc1,#a0bdc0,#a8c7c7,#b9d3d3,#c6dbdb,#c8dcdc,#bed6d6,#aecbcb,#a2bfc2,#9db8bc,#9fbbbf,#a7c6c7,#b6d1d1,#c4dada,#cddfdf,#cee0e0,#c9dcdc,#bdd5d5,#aecccc,#a2c0c2,#9ab5ba,#96afb6,#96b0b6,#9bb6bb,#a2c0c2,#adcbcb,#bbd4d4,#c8dcdc,#d2e3e3,#dae8e8,#e0ebeb,#e3eded,#e3eded,#e1ecec,#dce8e8,#d4e4e4,#ccdede,#c2d8d8,#b8d2d2,#adcbcb,#a4c2c4,#9cb8bc,#95adb4,#8da3ad,#8598a5,#7e8e9e,#778597,#717c91,#6b748b,#656b85,#5f637f,#595c79,#545474,#4f4f6e,#4b4b68,#474762,#43435d,#404058,#3c3c53,#39394f,#36364b,#333347,#313143,#2e2e40,#2c2c3d,#2a2a3a,#282838,#272735,#252533,#232331,#22222f,#20202d,#1f1f2b,#1e1e29,#1d1d28,#1c1c26,#1b1b25,#1a1a24,#191923,#181822,#171720,#17171f,#16161e,#15151d,#15151c,#14141c,#14141b,#13131a,#13131a,#121219,#121218,#111118,#111117,#101016,#101016,#0f0f15,#0f0f15,#0f0f14,#0f0f14,#0e0e14,#0e0e13,#0e0e13,#0e0e13,#0d0d12,#0d0d12,#0d0d12,#0c0c11,#0c0c11,#0c0c10,#0c0c10,#0b0b10,#0b0b10,#0b0b0f,#0b0b0f,#0b0b0f,#0b0b0f,#0b0b0f,#0a0a0e,#0a0a0e,#0a0a0e)"></i>
<i style="background:linear-gradient(90deg,#a5c3c5,#b9d2d2,#c6dada,#c4dada,#b5d0d0,#a4c3c4,#a3c2c3,#b2cece,#bbd4d4,#afcccc,#a9c8c8,#bad3d3,#bbd4d4,#a6c5c5,#accaca,#bad3d3,#a6c6c6,#b1cece,#bdd5d5,#a7c6c6,#bbd4d4,#aecbcb,#aac9c9,#b8d2d2,#a5c4c5,#bed6d6,#a6c5c6,#bfd6d6,#a6c6c6,#bdd5d5,#a4c3c4,#bcd4d4,#a4c2c4,#bed5d5,#a6c6c6,#bad3d3,#b0cdcd,#accaca,#bbd4d4,#a3c2c3,#bbd3d3,#afcccc,#a8c8c8,#c0d7d7,#a9c8c8,#adcbcb,#bfd6d6,#a6c6c6,#aac9c9,#bfd7d7,#accaca,#a6c5c6,#bed6d6,#b9d2d2,#a3c2c3,#adcbcb,#c0d7d7,#b2cece,#a3c1c2,#afcccc,#c2d8d8,#b8d2d2,#a4c2c4,#a5c4c5,#bad3d3,#c1d8d8,#b1cdcd,#a2c0c2,#a6c5c6,#bad3d3,#c4dada,#bad3d3,#a6c6c6,#a0bdc0,#a7c6c6,#bad3d3,#c6dbdb,#c2d8d8,#b0cdcd,#a2c0c2,#9fbbbe,#a5c4c5,#b6d1d1,#c5dada,#c9dddd,#c2d8d8,#b2cece,#a3c2c3,#9cb8bc,#9db9bd,#a4c2c4,#b2cece,#c2d8d8,#ccdfdf,#cfe1e1,#cbdede,#c1d7d7,#b3cece,#a5c4c5,#9db9bd,#98b2b8,#96b0b6,#99b3b9,#9fbbbe,#a6c6c6,#b3cfcf,#c1d7d7,#cddfdf,#d7e5e5,#deeaea,#e2eded,#e4eeee,#e2eded,#deeaea,#d9e7e7,#d2e2e2,#c9dddd,#c0d7d7,#b6d0d0,#aac9c9,#a2bfc2,#9ab5ba,#93abb3,#8ba1ab,#8497a4,#7e8e9e,#778497,#707b90,#6a738a,#646a84,#5e627e,#595b79,#545474,#50506e,#4c4c68,#474763,#44445d,#404058,#3c3c53,#39394f,#36364b,#343447,#313144,#2f2f41,#2d2d3e,#2b2b3b,#292938,#272736,#252533,#242431,#22222f,#21212d,#20202c,#1f1f2a,#1d1d29,#1c1c27,#1b1b26,#1a1a24,#191923,#181822,#181821,#171720,#16161f,#16161e,#15151d,#15151d,#14141c,#14141b,#13131a,#121219,#121219,#111118,#111117,#101017,#101016,#101016,#101015,#0f0f15,#0f0f15,#0f0f14,#0e0e14,#0e0e14,#0e0e13,#0d0d13,#0d0d12,#0d0d12,#0d0d11,#0c0c11,#0c0c11,#0c0c10,#0c0c10,#0c0c10,#0b0b10,#0b0b10,#0b0b0f,#0b0b0f,#0b0b0f,#0b0b0f,#0a0a0e,#0a0a0e)"></i>
<i style="background:linear-gradient(90deg,#b2cece,#b3cfcf,#afcccc,#b3cfcf,#bcd5d5,#b9d2d2,#a6c5c6,#a2c0c2,#b4d0d0,#bbd4d4,#aac9c9,#b1cdcd,#c0d7d7,#aac9c9,#a9c8c8,#bad3d3,#a5c4c5,#b2cece,#b9d2d2,#a7c7c7,#c0d7d7,#a7c7c7,#b8d2d2,#abcaca,#b0cccc,#b1cdcd,#aecccc,#b5d0d0,#b0cdcd,#b3cfcf,#b3cece,#abcaca,#b8d2d2,#a5c3c4,#bed6d6,#a5c4c5,#bad3d3,#b3cece,#a8c8c8,#bfd6d6,#a5c4c5,#b0cdcd,#bbd4d4,#a4c2c4,#b6d1d1,#bcd4d4,#a4c3c4,#b3cfcf,#bed6d6,#a5c5c5,#a8c8c8,#bfd7d7,#b3cece,#a3c2c3,#b4cfcf,#c2d8d8,#aecbcb,#a2c0c2,#b1cece,#c1d8d8,#b4cfcf,#a3c1c3,#a7c7c7,#bed5d5,#c2d8d8,#afcccc,#a1bfc1,#a5c4c5,#b9d3d3,#c4dada,#bbd4d4,#a7c7c7,#a0bec0,#a7c6c7,#b9d3d3,#c5dada,#c1d8d8,#b1cece,#a3c1c3,#9fbcbf,#a5c4c5,#b5d0d0,#c4d9d9,#c9dcdc,#c3d9d9,#b4d0d0,#a5c4c5,#9ebabe,#9db9bd,#a2c0c2,#aecccc,#bdd5d5,#c9dddd,#cee0e0,#cddfdf,#c5dada,#b9d2d2,#aac9c9,#a0bdc0,#99b4b9,#96afb6,#97b0b6,#9bb6bb,#a2c0c2,#adcbcb,#bbd4d4,#c8dcdc,#d2e3e3,#dae8e8,#e0ebeb,#e2eded,#e3eded,#e1ecec,#ddeaea,#d7e6e6,#d0e1e1,#c7dbdb,#bcd5d5,#b2cece,#a7c7c7,#a0bdc0,#99b3b9,#92a9b2,#8ba0aa,#8396a3,#7c8c9c,#768396,#6f7a8f,#697289,#646a84,#5e637e,#595c79,#555574,#50506e,#4b4b68,#474762,#43435d,#404058,#3d3d54,#3a3a50,#37374c,#343448,#323245,#2f2f42,#2d2d3e,#2b2b3b,#292939,#272736,#262634,#242432,#232330,#22222e,#20202d,#1f1f2b,#1e1e29,#1d1d28,#1c1c26,#1b1b25,#1a1a23,#191922,#181821,#181820,#171720,#16161f,#16161e,#15151d,#14141c,#14141b,#13131a,#13131a,#121219,#121218,#111118,#111117,#111117,#101017,#101016,#101016,#0f0f15,#0f0f15,#0f0f14,#0e0e14,#0e0e13,#0e0e13,#0d0d12,#0d0d12,#0d0d12,#0d0d11,#0c0c11,#0c0c11,#0c0c11,#0c0c11,#0c0c10,#0c0c10,#0b0b10,#0b0b0f,#0b0b0f,#0b0b0f,#0b0b0f,#0a0a0e)"></i>
<i style="background:linear-gradient(90deg,#a6c6c6,#c1d7d7,#c5dada,#b4cfcf,#aac9c9,#b5d0d0,#b6d1d1,#a4c2c4,#a6c6c6,#bcd5d5,#b1cdcd,#abc9c9,#c1d7d7,#afcccc,#a9c8c8,#bad3d3,#a3c2c3,#b6d0d0,#b0cdcd,#adcbcb,#bdd5d5,#a7c7c7,#bfd6d6,#a4c3c4,#bcd5d5,#a3c1c3,#bdd5d5,#a4c3c4,#bfd6d6,#a6c6c6,#bcd5d5,#abcaca,#b1cdcd,#b6d0d0,#a5c3c4,#bed6d6,#a6c6c6,#b4cfcf,#bbd4d4,#a5c3c4,#bcd4d4,#b3cfcf,#a4c2c4,#bcd4d4,#b2cece,#a4c2c4,#bbd4d4,#bbd4d4,#a4c3c4,#b0cdcd,#c0d7d7,#abcaca,#a3c1c3,#b7d1d1,#c0d7d7,#aac9c9,#a4c2c4,#b7d1d1,#c2d8d8,#b1cdcd,#a1bfc1,#a8c8c8,#bed6d6,#c1d7d7,#aecccc,#a2c0c2,#a7c7c7,#bbd4d4,#c4dada,#b9d3d3,#a6c5c6,#a0bdc0,#a6c6c6,#bad3d3,#c6dbdb,#c3d9d9,#b3cfcf,#a3c1c3,#9ebabe,#a3c1c3,#b2cece,#c2d8d8,#cadddd,#c6dbdb,#b8d2d2,#a7c7c7,#9ebbbe,#9cb7bb,#a0bdc0,#a9c9c9,#bad3d3,#c7dbdb,#cfe0e0,#cfe0e0,#c9dcdc,#bdd5d5,#aecccc,#a3c1c2,#9bb6bb,#97b0b7,#96afb6,#99b4b9,#9fbcbf,#a7c7c7,#b4cfcf,#c1d7d7,#ccdfdf,#d6e5e5,#ddeaea,#e2eded,#e4eeee,#e3eded,#e0ebeb,#dbe8e8,#d4e4e4,#ccdfdf,#c3d9d9,#bad3d3,#b0cdcd,#a6c5c6,#9fbbbe,#97b1b7,#90a7b0,#899da9,#8294a2,#7b8b9b,#758295,#6f7a8f,#697289,#646a84,#5e627e,#595b79,#545474,#50506e,#4b4b68,#484863,#44445e,#414159,#3d3d55,#3a3a51,#37374c,#353549,#323245,#303042,#2d2d3f,#2c2c3c,#2a2a3a,#282837,#272735,#252533,#232331,#22222f,#21212d,#1f1f2b,#1e1e29,#1d1d28,#1c1c27,#1b1b26,#1a1a24,#1a1a23,#191922,#181821,#171720,#17171f,#16161e,#15151d,#15151c,#14141c,#13131b,#13131a,#13131a,#121219,#121219,#111118,#111118,#111117,#101017,#101016,#0f0f15,#0f0f15,#0f0f14,#0e0e14,#0e0e13,#0e0e13,#0e0e13,#0d0d12,#0d0d12,#0d0d12,#0d0d12,#0d0d12,#0c0c11,#0c0c11,#0c0c11,#0c0c10,#0b0b10,#0b0b10,#0b0b0f,#0b0b0f,#0b0b0f,#0a0a0e)"></i>
<i style="background:linear-gradient(90deg,#a2c0c2,#a9c8c8,#c0d7d7,#c7dcdc,#b1cdcd,#a7c7c7,#b7d1d1,#aecbcb,#a2bfc1,#b7d1d1,#b5d0d0,#a8c8c8,#c1d7d7,#afcccc,#adcbcb,#bad3d3,#a3c1c3,#bad3d3,#a6c5c5,#b8d2d2,#aecccc,#b5d0d0,#b3cfcf,#b1cece,#b0cdcd,#b1cdcd,#abcaca,#b6d0d0,#a7c6c6,#bed6d6,#a5c4c5,#bfd6d6,#aac9c9,#b1cdcd,#b9d2d2,#a3c1c3,#bcd4d4,#aecbcb,#a7c7c7,#c1d7d7,#aac9c9,#abc9c9,#c0d7d7,#a9c9c9,#a6c5c6,#bed6d6,#b1cece,#a3c1c3,#b8d2d2,#c0d7d7,#a8c7c7,#a6c5c6,#bdd5d5,#bcd4d4,#a5c4c5,#a4c3c4,#bad3d3,#c1d8d8,#aecccc,#a2c0c2,#adcbcb,#c0d7d7,#bfd6d6,#abc9c9,#a0bec0,#a7c7c7,#bcd4d4,#c5dada,#bad3d3,#a6c6c6,#a0bdc0,#a6c6c6,#b8d2d2,#c5dada,#c2d8d8,#b4cfcf,#a4c3c4,#9fbcbf,#a3c1c3,#b1cdcd,#c1d7d7,#c9dcdc,#c6dbdb,#bad3d3,#aac9c9,#a0bdc0,#9cb8bc,#9fbcbf,#a7c7c7,#b6d1d1,#c4d9d9,#ccdfdf,#cfe0e0,#cbdede,#c1d8d8,#b4d0d0,#a6c6c6,#9ebabe,#98b2b8,#96afb5,#97b1b7,#9cb7bc,#a3c1c3,#aecbcb,#bbd4d4,#c8dcdc,#d2e3e3,#dae8e8,#e0ebeb,#e3eded,#e3eded,#e2ecec,#deeaea,#d9e7e7,#d3e3e3,#cadede,#c1d8d8,#b7d1d1,#accaca,#a3c2c3,#9cb8bc,#96afb5,#8fa5af,#889ca8,#8193a1,#7b8a9b,#748194,#6e788e,#687088,#636983,#5e617e,#595b79,#545574,#50506f,#4c4c69,#484864,#44445e,#414159,#3d3d55,#3a3a50,#37374d,#353549,#333346,#303043,#2e2e40,#2c2c3d,#2a2a3b,#292938,#272736,#252533,#242431,#22222f,#21212d,#20202c,#1f1f2b,#1e1e29,#1d1d28,#1c1c27,#1b1b25,#1a1a24,#191923,#181821,#171720,#17171f,#16161e,#15151e,#15151d,#15151c,#14141c,#14141b,#13131b,#13131a,#121219,#121219,#111118,#111117,#101017,#101016,#101015,#0f0f15,#0f0f15,#0f0f14,#0f0f14,#0e0e14,#0e0e13,#0e0e13,#0e0e13,#0d0d13,#0d0d12,#0d0d12,#0d0d11,#0c0c11,#0c0c11,#0c0c10,#0c0c10,#0b0b10,#0b0b0f,#0b0b0f,#0b0b0f,#0b0b0f)"></i>
<i style="background:linear-gradient(90deg,#b2cece,#b1cdcd,#aecbcb,#c3d9d9,#c1d8d8,#a7c6c7,#afcccc,#b6d0d0,#a1bfc1,#b2cece,#b6d1d1,#a7c6c7,#c2d8d8,#accaca,#b5d0d0,#b5d0d0,#a6c6c6,#b9d3d3,#a3c1c3,#bdd5d5,#a4c3c4,#c0d7d7,#a6c5c6,#c1d7d7,#a5c4c5,#bdd5d5,#a6c5c6,#b5d0d0,#aecccc,#aac9c9,#bdd5d5,#a5c4c5,#bfd6d6,#aecbcb,#abc9c9,#bed6d6,#a4c3c4,#b1cdcd,#bbd4d4,#a4c2c4,#b4d0d0,#bed6d6,#a5c4c5,#b0cdcd,#c1d7d7,#a9c9c9,#a4c3c4,#bcd4d4,#b9d3d3,#a4c2c4,#aac9c9,#c1d8d8,#bad3d3,#a4c3c4,#a7c7c7,#bdd5d5,#bed6d6,#a9c8c8,#a1bfc1,#afcccc,#c2d8d8,#bfd6d6,#aac9c9,#a1bfc1,#a9c8c8,#bdd5d5,#c3d9d9,#b8d2d2,#a5c5c5,#a0bdc0,#a7c6c7,#bad3d3,#c6dbdb,#c4d9d9,#b4cfcf,#a4c2c4,#9ebabe,#a2bfc1,#afcccc,#c0d7d7,#c9dddd,#c8dcdc,#bdd5d5,#accaca,#a1bec1,#9cb7bb,#9db9bd,#a4c3c4,#b2cece,#c1d8d8,#ccdede,#d0e1e1,#cddfdf,#c5dada,#b8d2d2,#aac9c9,#a0bdc0,#99b4b9,#96afb6,#96b0b6,#9ab5ba,#a0bdc0,#a8c8c8,#b5d0d0,#c1d8d8,#ccdfdf,#d6e5e5,#dde9e9,#e2ecec,#e4eeee,#e4eeee,#e1ecec,#dde9e9,#d7e5e5,#cfe0e0,#c7dbdb,#bdd5d5,#b4cfcf,#aac9c9,#a2c0c2,#9bb7bb,#94adb4,#8da3ad,#869aa6,#8091a0,#798899,#738093,#6e788e,#687088,#636983,#5e627e,#595b79,#545474,#50506e,#4c4c68,#484863,#44445e,#41415a,#3e3e56,#3b3b52,#38384e,#36364a,#333347,#313143,#2f2f40,#2c2c3d,#2a2a3b,#292938,#272736,#262634,#242432,#232330,#22222f,#21212d,#1f1f2b,#1e1e2a,#1d1d28,#1c1c27,#1b1b25,#1a1a24,#191923,#191922,#181821,#171720,#171720,#16161f,#16161e,#15151d,#15151c,#14141c,#13131b,#13131a,#121219,#121219,#111118,#111117,#111117,#101017,#101016,#101016,#101016,#0f0f15,#0f0f15,#0f0f14,#0e0e14,#0e0e13,#0e0e13,#0d0d13,#0d0d12,#0d0d12,#0d0d11,#0c0c11,#0c0c11,#0c0c11,#0c0c10,#0c0c10,#0c0c10,#0b0b10,#0b0b10,#0b0b10)"></i>
<i style="background:linear-gradient(90deg,#a6c5c6,#bfd6d6,#b2cece,#b5d0d0,#c7dbdb,#afcccc,#a9c8c8,#b9d2d2,#a2c0c2,#b0cdcd,#b4cfcf,#a7c6c7,#c2d8d8,#a8c7c7,#bed6d6,#accaca,#b4cfcf,#adcbcb,#aecbcb,#afcccc,#afcccc,#b0cdcd,#b6d0d0,#adcbcb,#bcd5d5,#a6c5c6,#bfd6d6,#a3c2c3,#b8d2d2,#adcbcb,#a9c8c8,#bed6d6,#a5c4c5,#b9d3d3,#b8d2d2,#a4c3c4,#bdd5d5,#b2cece,#a3c1c3,#bbd4d4,#b4cfcf,#a3c1c3,#b8d2d2,#bed6d6,#a6c5c6,#abcaca,#c1d7d7,#b3cfcf,#a2bfc2,#afcccc,#c1d7d7,#b3cfcf,#a3c1c2,#accaca,#c2d8d8,#bdd5d5,#a7c6c6,#a2c0c2,#b2cece,#c2d8d8,#bbd4d4,#a7c7c7,#a1bec1,#accaca,#c0d7d7,#c5dada,#b8d2d2,#a5c4c5,#9fbcbf,#a6c5c6,#b8d2d2,#c5dada,#c4d9d9,#b6d0d0,#a5c4c5,#9fbcbf,#a2bfc2,#adcbcb,#bed5d5,#c8dcdc,#c8dcdc,#bed6d6,#afcccc,#a3c1c2,#9db9bd,#9db9bd,#a3c1c3,#afcccc,#bed5d5,#c9dcdc,#cee0e0,#cee0e0,#c8dcdc,#bdd5d5,#afcccc,#a4c2c3,#9cb7bc,#97b1b7,#95aeb5,#97b1b7,#9db8bc,#a4c2c4,#afcccc,#bcd4d4,#c8dcdc,#d3e3e3,#dae8e8,#e0ebeb,#e3eded,#e3eded,#e2eded,#dfebeb,#dbe8e8,#d5e4e4,#cddfdf,#c5dada,#bbd4d4,#b1cdcd,#a7c6c7,#a0bdc0,#99b4b9,#92aab2,#8ca1ac,#8699a6,#7f909f,#798799,#737f93,#6d778d,#686f87,#626882,#5d617d,#585a78,#545474,#50506e,#4c4c69,#494964,#45455f,#42425b,#3e3e56,#3b3b52,#38384e,#36364a,#333347,#313144,#2f2f41,#2d2d3e,#2b2b3c,#2a2a3a,#282837,#262635,#252533,#232331,#22222f,#21212d,#1f1f2b,#1e1e2a,#1d1d29,#1d1d27,#1c1c26,#1b1b25,#1a1a24,#191923,#191922,#181821,#171720,#16161f,#16161e,#15151d,#15151c,#14141c,#14141b,#13131a,#13131a,#121219,#121219,#121218,#111118,#111117,#111117,#101016,#101016,#0f0f15,#0f0f15,#0f0f14,#0e0e14,#0e0e13,#0e0e13,#0e0e13,#0d0d12,#0d0d12,#0d0d12,#0d0d12,#0d0d12,#0d0d11,#0c0c11,#0c0c11,#0c0c11,#0c0c10,#0c0c10,#0b0b10)"></i>
<i style="background:linear-gradient(90deg,#9bb7bb,#bad3d3,#bed5d5,#aecccc,#c5dada,#b6d1d1,#a7c7c7,#bbd3d3,#a2c0c2,#b1cdcd,#aecbcb,#aac9c9,#bdd5d5,#a7c7c7,#c3d9d9,#a6c5c6,#c0d7d7,#a4c2c3,#bcd4d4,#a2c0c2,#bcd5d5,#a4c2c3,#bdd5d5,#aac9c9,#b7d1d1,#b6d1d1,#a9c8c8,#bfd6d6,#a3c2c3,#b7d1d1,#b1cdcd,#a4c3c4,#bfd6d6,#abc9c9,#accaca,#c2d8d8,#a9c8c8,#abcaca,#c0d7d7,#aac9c9,#a5c3c4,#bdd5d5,#b5d0d0,#a3c1c3,#b3cfcf,#c2d8d8,#adcbcb,#a4c2c3,#b7d1d1,#c1d7d7,#accaca,#a1bfc1,#b0cccc,#c2d8d8,#b9d2d2,#a5c4c5,#a4c3c4,#b7d1d1,#c4dada,#b9d3d3,#a5c4c5,#a0bec0,#accaca,#bfd7d7,#c4d9d9,#b7d1d1,#a5c4c5,#a0bec0,#a8c7c7,#bad3d3,#c6dada,#c3d9d9,#b4d0d0,#a4c3c4,#9ebbbe,#a1bfc1,#adcbcb,#bed6d6,#c9dcdc,#c9dddd,#c0d7d7,#b0cdcd,#a3c1c3,#9cb8bc,#9cb7bc,#a1bfc1,#accaca,#bcd4d4,#c8dcdc,#cfe0e0,#d0e1e1,#cadddd,#c0d7d7,#b2cece,#a6c5c5,#9ebabe,#98b2b8,#96afb6,#97b1b7,#9bb6bb,#a1bfc1,#aac9c9,#b6d1d1,#c2d8d8,#cddfdf,#d6e5e5,#dde9e9,#e2ecec,#e4eeee,#e4eeee,#e2eded,#deeaea,#d8e6e6,#d1e2e2,#c9dddd,#c1d7d7,#b8d2d2,#aecccc,#a5c5c5,#9fbcbf,#98b2b8,#91a9b1,#8ba0ab,#8497a4,#7e8e9e,#788598,#727d92,#6c768c,#676f87,#626882,#5e617d,#595b79,#545574,#50506f,#4c4c69,#484864,#45455f,#41415a,#3e3e56,#3c3c52,#39394f,#37374b,#343448,#323245,#303042,#2e2e3f,#2c2c3c,#2a2a3a,#282837,#262635,#252533,#242431,#232330,#21212e,#20202d,#1f1f2b,#1e1e2a,#1d1d28,#1c1c27,#1b1b26,#1a1a24,#191923,#191922,#181821,#171720,#17171f,#16161f,#16161e,#15151d,#15151d,#14141c,#14141b,#13131b,#13131a,#121219,#121219,#111118,#111117,#111117,#101016,#101016,#101015,#0f0f15,#0f0f15,#0f0f14,#0f0f14,#0e0e14,#0e0e14,#0e0e13,#0e0e13,#0e0e13,#0d0d12,#0d0d12,#0d0d12,#0c0c11,#0c0c11,#0c0c11,#0c0c10,#0b0b10,#0b0b10)"></i>
<i style="background:linear-gradient(90deg,#9cb7bc,#aecbcb,#c4d9d9,#aecbcb,#c2d8d8,#bbd3d3,#a8c8c8,#bcd4d4,#a1bfc1,#b5d0d0,#a6c5c6,#b2cece,#b1cece,#b1cece,#b9d2d2,#b0cdcd,#b8d2d2,#aecccc,#b0cdcd,#b0cdcd,#a8c7c7,#b8d2d2,#a4c2c4,#c0d7d7,#a6c5c6,#bad3d3,#b5d0d0,#a8c7c7,#c0d7d7,#a5c4c5,#b0cdcd,#bad3d3,#a2c0c2,#b6d0d0,#bbd3d3,#a4c2c4,#b7d1d1,#bfd6d6,#a5c4c5,#aecbcb,#c0d7d7,#abcaca,#a3c1c2,#b9d2d2,#bdd5d5,#a6c5c6,#a6c5c6,#bed6d6,#c0d7d7,#a8c8c8,#a3c1c3,#b6d0d0,#c2d8d8,#b3cfcf,#a2c0c2,#a5c4c5,#bad3d3,#c4dada,#b8d2d2,#a5c3c4,#a2c0c2,#b0cdcd,#c1d8d8,#c3d9d9,#b3cfcf,#a3c1c3,#9fbcbf,#a8c7c7,#bbd4d4,#c7dbdb,#c5dada,#b6d1d1,#a5c4c5,#9ebbbe,#a0bdc0,#abc9c9,#bbd4d4,#c7dbdb,#c9dddd,#c2d8d8,#b4cfcf,#a5c4c5,#9ebabe,#9cb7bc,#a0bdc0,#a8c8c8,#b7d1d1,#c4dada,#cddfdf,#d0e1e1,#cddfdf,#c4dada,#b8d2d2,#aac9c9,#a0bec0,#9ab4b9,#96afb6,#95aeb5,#98b2b8,#9ebabe,#a5c4c5,#b1cdcd,#bed5d5,#c9dddd,#d3e3e3,#dae8e8,#dfebeb,#e2eded,#e3eded,#e3eded,#e0ebeb,#dce9e9,#d7e5e5,#d0e1e1,#c8dcdc,#bfd6d6,#b5d0d0,#abc9c9,#a3c1c3,#9cb8bc,#96afb6,#90a7b0,#8a9ea9,#8396a3,#7d8d9d,#778597,#727d92,#6c758c,#676e86,#616781,#5d607c,#585a78,#545474,#50506e,#4c4c69,#494965,#454560,#42425b,#3f3f57,#3c3c53,#39394f,#37374b,#343448,#323245,#303042,#2e2e3f,#2c2c3d,#2b2b3b,#292939,#282837,#262635,#252533,#232331,#22222f,#21212d,#1f1f2b,#1e1e2a,#1d1d28,#1c1c27,#1c1c26,#1b1b25,#1a1a24,#191923,#191922,#181821,#181821,#171720,#16161f,#16161e,#15151d,#14141c,#14141b,#13131b,#13131a,#121219,#121219,#121218,#111118,#111118,#111117,#111117,#101016,#101016,#101016,#0f0f15,#0f0f15,#0f0f14,#0e0e14,#0e0e13,#0e0e13,#0d0d13,#0d0d12,#0d0d12,#0d0d12,#0c0c11,#0c0c11,#0c0c11,#0c0c11,#0c0c10,#0c0c10)"></i>
<i style="background:linear-gradient(90deg,#a1bec0,#a6c5c5,#c5dada,#afcccc,#c2d8d8,#bbd4d4,#accaca,#bcd4d4,#a1bfc1,#b9d2d2,#a1bec0,#bad3d3,#a4c3c4,#bfd6d6,#a7c7c7,#c2d8d8,#a6c6c6,#c2d8d8,#a4c3c4,#bcd4d4,#a6c5c6,#b1cdcd,#b3cece,#a5c4c5,#c0d7d7,#a6c5c6,#b8d2d2,#bad3d3,#a5c4c5,#bfd6d6,#afcccc,#a4c3c4,#bed5d5,#accaca,#a4c3c4,#bed6d6,#b5d0d0,#a4c2c4,#bad3d3,#bfd7d7,#a6c5c6,#a8c8c8,#bfd6d6,#b6d1d1,#a2c0c2,#a9c8c8,#c0d7d7,#bad3d3,#a5c3c4,#a6c5c6,#bdd5d5,#c3d9d9,#afcccc,#a1bfc1,#a7c7c7,#bcd4d4,#c2d8d8,#b2cece,#a2c0c2,#a3c1c3,#b3cfcf,#c4d9d9,#c4d9d9,#b3cfcf,#a3c1c3,#a0bcbf,#a8c7c7,#bad3d3,#c5dada,#c3d9d9,#b5d0d0,#a5c4c5,#9fbcbf,#a1bfc1,#accaca,#bcd4d4,#c7dbdb,#c9dddd,#c2d8d8,#b4cfcf,#a5c4c5,#9ebabe,#9cb7bc,#9fbcbf,#a7c7c7,#b6d1d1,#c3d9d9,#ccdfdf,#cfe1e1,#cddfdf,#c5dada,#bad3d3,#adcbcb,#a3c1c3,#9cb7bc,#97b1b7,#96afb6,#98b1b7,#9cb8bc,#a2c0c2,#abcaca,#b7d1d1,#c3d9d9,#cee0e0,#d7e5e5,#ddeaea,#e2eded,#e4eeee,#e5eeee,#e3eded,#dfebeb,#dae7e7,#d3e3e3,#ccdede,#c4d9d9,#bbd4d4,#b2cece,#a9c8c8,#a2c0c2,#9cb7bb,#95aeb5,#8ea5ae,#889ca8,#8293a2,#7c8b9c,#768396,#717c90,#6b748b,#666e86,#626782,#5d617d,#595a78,#545574,#50506f,#4c4c69,#484864,#45455f,#42425b,#3f3f57,#3c3c53,#3a3a50,#37374c,#353549,#333346,#313143,#2f2f41,#2d2d3e,#2b2b3b,#292939,#272737,#262634,#252533,#232331,#22222f,#21212e,#20202c,#1f1f2b,#1e1e2a,#1d1d29,#1c1c27,#1c1c26,#1b1b25,#1a1a24,#191922,#181821,#171720,#17171f,#16161f,#16161e,#15151d,#15151d,#14141c,#14141c,#14141b,#13131b,#13131a,#121219,#121219,#121218,#111118,#111117,#101016,#101016,#101015,#0f0f15,#0f0f15,#0f0f14,#0e0e14,#0e0e14,#0e0e13,#0e0e13,#0e0e13,#0d0d13,#0d0d12,#0d0d12,#0d0d12,#0d0d12,#0d0d11,#0c0c11,#0c0c11)"></i>
<i style="background:linear-gradient(90deg,#a4c2c4,#a2c1c2,#c4dada,#aecbcb,#c4dada,#b7d1d1,#b4cfcf,#b8d2d2,#a6c5c6,#b5d0d0,#a2c0c2,#b7d1d1,#a5c4c5,#bad3d3,#abcaca,#bad3d3,#b4cfcf,#b0cdcd,#bcd4d4,#a5c3c4,#bed6d6,#a3c1c3,#b4cfcf,#b2cece,#a4c3c4,#c0d7d7,#a9c9c9,#afcccc,#c2d8d8,#a6c5c6,#b2cece,#bfd6d6,#a4c2c4,#accaca,#bfd6d6,#a7c7c7,#a5c5c5,#bfd7d7,#b7d1d1,#a3c2c3,#b3cece,#c3d9d9,#b0cdcd,#a2c0c2,#b1cece,#c1d8d8,#b1cece,#a1bfc1,#a9c8c8,#c0d7d7,#c0d7d7,#abcaca,#a2c0c2,#adcbcb,#c1d8d8,#c1d8d8,#aecccc,#a1bec0,#a3c1c3,#b4cfcf,#c3d9d9,#c2d8d8,#b1cece,#a3c1c3,#a1bec1,#abc9c9,#bdd5d5,#c7dbdb,#c3d9d9,#b4cfcf,#a4c3c4,#9ebabe,#a0bdc0,#aac9c9,#bcd4d4,#c8dcdc,#cbdede,#c4dada,#b6d1d1,#a7c6c6,#9ebbbe,#9bb6bb,#9dbabd,#a5c4c5,#b2cece,#c1d7d7,#cbdede,#d1e1e1,#d0e1e1,#c9dddd,#bed6d6,#b1cdcd,#a5c3c5,#9db9bd,#97b1b7,#95aeb5,#96afb6,#9ab4ba,#a0bdc0,#a7c7c7,#b4cfcf,#bfd7d7,#cadddd,#d3e3e3,#dae8e8,#dfebeb,#e2eded,#e4eeee,#e3eded,#e1ecec,#deeaea,#d8e6e6,#d2e2e2,#cadddd,#c1d8d8,#b8d2d2,#afcccc,#a6c5c6,#a0bcbf,#99b4b9,#93abb3,#8da3ad,#879ba7,#8193a1,#7c8b9b,#768396,#707b90,#6b748b,#666c85,#616681,#5c5f7c,#585978,#545474,#50506f,#4d4d6a,#494965,#464661,#43435c,#404058,#3d3d54,#3a3a50,#37374d,#353549,#333346,#313143,#2f2f41,#2d2d3e,#2b2b3c,#2a2a3a,#282838,#272736,#262634,#242432,#232330,#22222f,#21212d,#1f1f2b,#1e1e2a,#1d1d28,#1c1c27,#1c1c26,#1b1b25,#1a1a24,#191923,#191922,#181822,#181821,#171720,#17171f,#16161e,#15151e,#15151d,#14141c,#14141b,#13131a,#13131a,#121219,#121219,#111118,#111118,#111117,#111117,#101017,#101016,#101016,#101016,#0f0f15,#0f0f15,#0f0f15,#0f0f14,#0e0e14,#0e0e13,#0e0e13,#0d0d13,#0d0d12,#0d0d12,#0d0d11,#0c0c11,#0c0c11,#0c0c11)"></i>
<i style="background:linear-gradient(90deg,#a4c3c4,#a1bfc1,#c3d9d9,#abcaca,#c9dddd,#b0cdcd,#bfd7d7,#adcbcb,#b4d0d0,#a7c7c7,#b1cdcd,#a5c4c5,#b6d1d1,#a4c3c4,#c0d7d7,#a5c4c5,#c3d9d9,#aac9c9,#b9d2d2,#b6d1d1,#a6c5c6,#bed6d6,#a3c2c3,#b1cdcd,#b8d2d2,#a2c0c2,#bcd4d4,#b6d0d0,#a5c4c5,#c0d7d7,#b7d1d1,#a4c2c4,#bbd4d4,#bad3d3,#a2c0c2,#aecbcb,#bfd7d7,#aac9c9,#a3c1c3,#bad3d3,#c1d7d7,#a9c8c8,#a5c4c5,#bbd4d4,#c2d8d8,#abcaca,#a1bec1,#aecccc,#c1d7d7,#bad3d3,#a5c4c5,#a2bfc2,#b2cece,#c4d9d9,#c1d7d7,#accaca,#a1bec1,#a5c4c5,#b8d2d2,#c4d9d9,#bfd6d6,#adcbcb,#a1bec0,#a0bdc0,#accaca,#bed6d6,#c8dcdc,#c4dada,#b5d0d0,#a5c3c5,#9ebabe,#a0bdc0,#a9c8c8,#bad3d3,#c6dbdb,#cadddd,#c4dada,#b8d2d2,#a8c8c8,#a0bdc0,#9cb7bc,#9ebabe,#a4c3c4,#b0cdcd,#bed6d6,#c9dcdc,#cee0e0,#cfe0e0,#cadddd,#c1d8d8,#b5d0d0,#a8c8c8,#a0bdc0,#9ab4b9,#96afb6,#95aeb5,#98b2b8,#9db9bd,#a3c2c3,#adcbcb,#bad3d3,#c5dada,#cfe1e1,#d8e6e6,#deeaea,#e3eded,#e4eeee,#e4eeee,#e2eded,#dfebeb,#dae8e8,#d5e4e4,#cee0e0,#c7dbdb,#bfd6d6,#b6d1d1,#adcbcb,#a5c4c5,#9ebbbe,#98b2b8,#92a9b2,#8ba1ab,#8598a5,#80909f,#7a899a,#758195,#707a8f,#6b738a,#666d86,#616681,#5d607d,#585a78,#545474,#50506f,#4c4c69,#494964,#454560,#42425c,#404058,#3d3d54,#3b3b51,#38384e,#36364b,#343448,#323245,#303042,#2e2e3f,#2c2c3d,#2a2a3a,#282838,#272736,#262634,#242432,#232330,#22222f,#21212e,#20202c,#1f1f2b,#1e1e2a,#1d1d29,#1d1d27,#1c1c26,#1b1b25,#1a1a24,#191923,#181822,#181821,#171720,#16161f,#16161e,#15151e,#15151d,#15151c,#14141c,#14141b,#13131b,#13131a,#13131a,#121219,#121219,#121218,#111118,#111117,#101017,#101016,#101016,#0f0f15,#0f0f15,#0f0f14,#0e0e14,#0e0e14,#0e0e13,#0e0e13,#0e0e13,#0d0d12,#0d0d12,#0d0d12,#0d0d12,#0d0d12,#0d0d11)"></i>
<i style="background:linear-gradient(90deg,#a3c1c3,#a1bfc1,#c0d7d7,#aac9c9,#cbdede,#accaca,#c8dcdc,#a6c5c6,#c0d7d7,#a1bfc1,#bad3d3,#a1bec0,#b6d1d1,#a7c7c7,#b1cdcd,#b9d2d2,#a8c7c7,#c4dada,#a7c6c7,#bbd4d4,#b6d1d1,#a4c3c4,#bed6d6,#a7c6c7,#a7c7c7,#bed6d6,#a5c4c5,#accaca,#c2d8d8,#a9c8c8,#abcaca,#c4d9d9,#b1cdcd,#a4c2c4,#bbd3d3,#bbd4d4,#a3c1c3,#a6c6c6,#bfd6d6,#b8d2d2,#a3c1c3,#a9c8c8,#c1d8d8,#bfd6d6,#a7c7c7,#a4c2c4,#b7d1d1,#c3d9d9,#b5d0d0,#a2c0c2,#a2c0c2,#b5d0d0,#c3d9d9,#bcd4d4,#a8c8c8,#a1bec1,#a8c8c8,#bdd5d5,#c7dbdb,#bfd6d6,#abcaca,#a0bdc0,#a0bdc0,#accaca,#bed5d5,#c7dbdb,#c2d8d8,#b4cfcf,#a5c3c5,#9fbbbf,#a1bec1,#abc9c9,#bbd4d4,#c7dbdb,#cadddd,#c4d9d9,#b7d1d1,#a8c8c8,#9fbcbf,#9bb7bb,#9db9bd,#a3c2c3,#afcccc,#bed5d5,#c9dddd,#cfe1e1,#d0e1e1,#cbdede,#c3d9d9,#b7d1d1,#aac9c9,#a1bfc1,#9bb6bb,#97b0b6,#96afb5,#97b1b7,#9cb7bc,#a2c0c2,#aac9c9,#b5d0d0,#c0d7d7,#cbdede,#d3e3e3,#dae8e8,#e0ebeb,#e3eded,#e5eeee,#e4eeee,#e2eded,#dfeaea,#d9e7e7,#d3e3e3,#cbdede,#c3d9d9,#bbd4d4,#b2cece,#a9c8c8,#a2c0c2,#9db8bc,#97b0b7,#91a8b1,#8ba0ab,#8598a5,#7f909f,#798899,#748094,#6e798e,#697289,#656b84,#606580,#5c5f7c,#585a78,#545474,#50506f,#4d4d6a,#4a4a66,#464661,#43435d,#404059,#3d3d55,#3b3b51,#38384d,#36364a,#343447,#323245,#303042,#2e2e40,#2c2c3d,#2b2b3b,#2a2a39,#282837,#272735,#252534,#242432,#232330,#22222e,#20202d,#1f1f2b,#1e1e2a,#1d1d28,#1c1c27,#1c1c26,#1b1b25,#1a1a24,#1a1a23,#191923,#191922,#181821,#171720,#171720,#16161f,#16161e,#15151d,#15151c,#14141c,#14141b,#13131a,#13131a,#121219,#121219,#111118,#111118,#111117,#111117,#101016,#101016,#101016,#101016,#0f0f15,#0f0f15,#0f0f15,#0f0f14,#0e0e14,#0e0e14,#0e0e13,#0e0e13,#0d0d13,#0d0d12,#0d0d12,#0d0d11)"></i>
<i style="background:linear-gradient(90deg,#9fbcbf,#a4c3c4,#b8d2d2,#b1cdcd,#c4dada,#b3cfcf,#c2d8d8,#b0cdcd,#b6d1d1,#afcccc,#a7c7c7,#b5d0d0,#a1bec0,#bcd4d4,#a3c1c2,#b9d3d3,#b4cfcf,#aac9c9,#c5dada,#a7c7c7,#b7d1d1,#bcd4d4,#a2c0c2,#b9d2d2,#b4cfcf,#a1bec1,#b8d2d2,#b7d1d1,#a2c0c2,#b7d1d1,#c1d7d7,#a6c6c6,#accaca,#c4d9d9,#b4cfcf,#a2c0c2,#b2cece,#c1d7d7,#adcbcb,#a0bdc0,#afcccc,#c2d8d8,#b6d1d1,#a3c1c3,#a7c7c7,#bed6d6,#c4dada,#b1cdcd,#a2bfc1,#a6c5c6,#bad3d3,#c3d9d9,#b7d1d1,#a4c2c4,#a0bdc0,#aac9c9,#bed6d6,#c7dbdb,#bdd5d5,#aac9c9,#a0bec0,#a2c0c2,#b0cccc,#c0d7d7,#c7dbdb,#c1d7d7,#b1cdcd,#a3c1c3,#9dbabd,#a0bdc0,#abc9c9,#bcd4d4,#c8dcdc,#ccdede,#c6dbdb,#b9d3d3,#a9c9c9,#a0bdc0,#9bb6bb,#9cb7bb,#a1bfc1,#accaca,#bad3d3,#c7dbdb,#cfe0e0,#d1e2e2,#cee0e0,#c7dbdb,#bbd4d4,#aecbcb,#a3c1c3,#9cb7bc,#97b0b7,#94adb4,#95aeb5,#99b3b9,#9fbbbf,#a6c5c6,#b1cece,#bdd5d5,#c8dcdc,#d1e2e2,#d9e7e7,#deeaea,#e2ecec,#e4eeee,#e4eeee,#e2eded,#e0ebeb,#dce9e9,#d7e5e5,#d1e2e2,#cadddd,#c2d8d8,#b9d3d3,#b0cdcd,#a7c6c7,#a1bec1,#9bb5ba,#94adb4,#8fa5ae,#899da9,#8395a3,#7e8e9e,#798799,#748093,#6f798e,#6a728a,#656c85,#606580,#5c5f7c,#585977,#545473,#50506e,#4c4c69,#494965,#464661,#43435d,#414159,#3e3e56,#3c3c52,#39394f,#37374c,#353549,#333346,#313143,#2f2f40,#2d2d3e,#2b2b3b,#292939,#282837,#272735,#252534,#242432,#232330,#22222f,#21212e,#20202c,#1f1f2b,#1e1e2a,#1e1e29,#1d1d28,#1c1c26,#1b1b25,#1a1a24,#191923,#191922,#181821,#171720,#17171f,#16161f,#16161e,#15151d,#15151d,#14141c,#14141c,#14141b,#13131b,#13131a,#13131a,#121219,#121219,#121218,#111118,#111117,#101017,#101016,#101016,#0f0f15,#0f0f15,#0f0f14,#0e0e14,#0e0e14,#0e0e13,#0e0e13,#0e0e13,#0d0d13,#0d0d12,#0d0d12,#0d0d12)"></i>
<i style="background:linear-gradient(90deg,#98b3b8,#accaca,#a9c9c9,#bed6d6,#b3cfcf,#c6dbdb,#afcccc,#c6dbdb,#a5c4c5,#c0d7d7,#a2c0c2,#b4cfcf,#aac9c9,#a5c3c4,#bcd4d4,#a2c0c2,#bbd4d4,#b6d0d0,#a7c7c7,#c5dada,#adcbcb,#accaca,#c2d8d8,#a6c6c6,#a8c8c8,#bfd6d6,#a7c6c7,#a4c2c4,#bed6d6,#b3cfcf,#a2c0c2,#b7d1d1,#c3d9d9,#aac9c9,#a6c5c5,#bed6d6,#c0d7d7,#a6c6c6,#a3c1c3,#b8d2d2,#c0d7d7,#accaca,#a0bdc0,#abcaca,#c1d8d8,#c0d7d7,#abcaca,#a2bfc2,#accaca,#c1d7d7,#c4dada,#b3cfcf,#a2c0c2,#a0bec0,#adcbcb,#bfd7d7,#c4dada,#b9d2d2,#a7c6c6,#a0bcbf,#a3c2c3,#b3cfcf,#c3d9d9,#c9dddd,#c1d8d8,#b1cdcd,#a3c1c2,#9db9bd,#a0bdbf,#a9c8c8,#bad3d3,#c6dbdb,#cbdede,#c6dbdb,#bbd4d4,#accaca,#a1bfc1,#9cb8bc,#9cb8bc,#a1bfc1,#aac9c9,#b8d2d2,#c4dada,#ccdfdf,#d0e1e1,#cee0e0,#c8dcdc,#bed6d6,#b2cece,#a6c5c6,#9ebbbe,#99b3b9,#96afb6,#95aeb5,#98b2b8,#9cb8bc,#a3c1c3,#abcaca,#b7d1d1,#c2d8d8,#cddfdf,#d5e5e5,#dce9e9,#e1ecec,#e4eeee,#e5efef,#e5eeee,#e2eded,#deeaea,#d9e7e7,#d3e3e3,#cddfdf,#c5dada,#bed5d5,#b6d0d0,#adcbcb,#a5c5c5,#a0bdbf,#9ab4ba,#94acb4,#8ea4ae,#889ca8,#8294a2,#7d8c9c,#778597,#727e92,#6d778d,#697188,#646a84,#606580,#5c5f7c,#585a78,#545574,#51516f,#4d4d6b,#4a4a66,#464661,#43435d,#404059,#3e3e55,#3b3b52,#39394e,#37374b,#353549,#333346,#313144,#2f2f41,#2e2e3f,#2c2c3d,#2b2b3b,#292939,#282837,#262635,#252533,#242431,#22222f,#21212e,#20202c,#1f1f2b,#1e1e2a,#1d1d29,#1d1d27,#1c1c27,#1b1b26,#1b1b25,#1a1a24,#191923,#191922,#181822,#181821,#171720,#17171f,#16161e,#15151e,#15151d,#14141c,#14141b,#13131b,#13131a,#121219,#121219,#121218,#111118,#111118,#111117,#111117,#101017,#101016,#101016,#101016,#101015,#0f0f15,#0f0f15,#0f0f14,#0f0f14,#0e0e14,#0e0e13,#0e0e13,#0e0e13,#0d0d12)"></i>
<i style="background:linear-gradient(90deg,#92aab2,#b3cfcf,#a1bfc1,#c6dbdb,#aac9c9,#cadddd,#b0cdcd,#c0d7d7,#b6d0d0,#abc9c9,#bcd4d4,#a0bdbf,#b8d2d2,#a7c6c6,#a6c5c6,#bdd5d5,#a3c1c3,#b7d1d1,#bdd5d5,#a5c4c5,#bfd6d6,#bbd4d4,#a4c3c4,#bbd4d4,#bad3d3,#a1bfc1,#b0cdcd,#bed5d5,#a5c4c5,#a4c3c4,#bed6d6,#b9d2d2,#a3c1c3,#adcbcb,#c5dada,#b9d3d3,#a4c2c3,#aac9c9,#c1d7d7,#bdd5d5,#a5c5c5,#a1bec1,#b2cece,#c2d8d8,#b9d2d2,#a4c3c4,#a1bfc1,#b1cece,#c4dada,#c3d9d9,#b0cdcd,#a2c0c2,#a3c1c3,#b3cfcf,#c3d9d9,#c3d9d9,#b5d0d0,#a4c2c4,#9ebabe,#a3c2c3,#b3cfcf,#c4d9d9,#c9dcdc,#c1d8d8,#b1cdcd,#a3c1c3,#9ebabe,#a1bec1,#abcaca,#bbd4d4,#c6dbdb,#cadddd,#c5dada,#b9d3d3,#aac9c9,#a1bec1,#9cb7bc,#9cb8bc,#a1bfc1,#aac9c9,#b9d2d2,#c5dada,#cddfdf,#d0e1e1,#cfe0e0,#c8dcdc,#bfd6d6,#b3cfcf,#a7c6c7,#9fbcbf,#9ab4b9,#96afb6,#95aeb5,#97b1b7,#9cb7bc,#a2bfc1,#a9c8c8,#b4cfcf,#bfd6d6,#c9dcdc,#d1e2e2,#d8e6e6,#deeaea,#e2eded,#e4eeee,#e5eeee,#e4eeee,#e2ecec,#deeaea,#d8e6e6,#d2e2e2,#cbdede,#c3d9d9,#bad3d3,#b2cece,#a9c8c8,#a3c1c3,#9db9bd,#98b1b7,#92aab2,#8da2ac,#879ba7,#8293a2,#7c8c9c,#778597,#727e92,#6d778d,#687088,#646a83,#5f647f,#5b5e7b,#575877,#535373,#50506f,#4d4d6a,#4a4a66,#474762,#44445e,#41415a,#3f3f57,#3c3c53,#3a3a50,#37374d,#353549,#333347,#313144,#2f2f41,#2d2d3f,#2c2c3d,#2a2a3a,#292939,#282837,#272735,#252534,#242432,#232331,#22222f,#21212e,#20202d,#1f1f2b,#1e1e2a,#1d1d29,#1d1d27,#1c1c26,#1b1b25,#1a1a24,#191923,#191922,#181821,#171720,#171720,#16161f,#16161e,#16161e,#15151d,#15151d,#15151c,#14141c,#14141b,#13131b,#13131a,#13131a,#121219,#121219,#121218,#111118,#111117,#101017,#101016,#101016,#0f0f15,#0f0f15,#0f0f14,#0f0f14,#0e0e14,#0e0e13,#0e0e13,#0e0e13,#0e0e13,#0d0d12)"></i>
<i style="background:linear-gradient(90deg,#93acb3,#accaca,#a7c6c7,#b7d1d1,#bdd5d5,#b3cfcf,#cadddd,#a9c8c8,#c6dbdb,#aac9c9,#b0cdcd,#b8d2d2,#9fbcbf,#b9d2d2,#a9c8c8,#a3c2c3,#bfd6d6,#a7c7c7,#accaca,#c5dada,#aac9c9,#adcbcb,#c6dbdb,#aecbcb,#a5c4c5,#bfd6d6,#b6d0d0,#a0bdc0,#aecccc,#bfd7d7,#aac9c9,#a1bec1,#b6d1d1,#c3d9d9,#aecbcb,#a3c1c3,#b5d0d0,#c6dbdb,#b8d2d2,#a3c1c3,#a5c4c5,#bbd3d3,#c2d8d8,#b1cece,#a1bec0,#a2c0c2,#b5d0d0,#c4dada,#bed6d6,#aac9c9,#a1bec1,#a6c5c6,#b9d2d2,#c7dbdb,#c4d9d9,#b3cfcf,#a3c1c2,#9ebbbe,#a4c3c4,#b5d0d0,#c3d9d9,#c7dbdb,#bed6d6,#aecbcb,#a2c0c2,#9ebabe,#a2c0c2,#adcbcb,#bdd5d5,#c8dcdc,#cbdede,#c6dbdb,#bad3d3,#aac9c9,#a0bdc0,#9bb6bb,#9bb6ba,#9fbcbf,#a8c7c7,#b6d1d1,#c3d9d9,#cddfdf,#d2e2e2,#d1e2e2,#ccdede,#c2d8d8,#b6d1d1,#a9c8c8,#a1bec0,#9ab5ba,#96afb6,#94adb4,#95aeb5,#99b4b9,#9fbbbf,#a6c5c6,#b0cdcd,#bcd4d4,#c6dbdb,#d0e1e1,#d7e6e6,#dde9e9,#e1ecec,#e3eded,#e4eeee,#e4eeee,#e2ecec,#dfeaea,#dae8e8,#d5e4e4,#cfe1e1,#c8dcdc,#c1d8d8,#b9d2d2,#b0cdcd,#a7c7c7,#a1bfc1,#9cb7bb,#96afb6,#90a7b0,#8a9faa,#8598a5,#8091a0,#7b8a9b,#768396,#717d91,#6d768d,#687088,#646a84,#606480,#5c5f7b,#585978,#545474,#50506f,#4d4d6a,#494965,#464661,#44445d,#41415a,#3e3e56,#3c3c53,#3a3a50,#38384d,#36364a,#343448,#323245,#303043,#2f2f40,#2d2d3e,#2b2b3c,#2a2a3a,#282838,#272736,#262634,#242432,#232330,#22222f,#21212e,#20202c,#1f1f2b,#1e1e2a,#1e1e29,#1d1d28,#1c1c27,#1c1c26,#1b1b25,#1a1a25,#1a1a24,#191923,#191922,#181821,#171720,#17171f,#16161e,#15151e,#15151d,#14141c,#14141c,#14141b,#13131a,#13131a,#121219,#121219,#121219,#121218,#111118,#111118,#111117,#111117,#101017,#101016,#101016,#101016,#0f0f15,#0f0f15,#0f0f15,#0f0f14,#0e0e14,#0e0e14,#0e0e13)"></i>
<i style="background:linear-gradient(90deg,#9fbbbf,#9cb7bc,#bad3d3,#a4c2c4,#c9dcdc,#b0cccc,#c0d7d7,#c0d7d7,#aac9c9,#c6dbdb,#a6c5c6,#b0cccc,#b9d2d2,#9ebbbe,#b4cfcf,#b2cece,#a0bdc0,#bbd3d3,#b7d1d1,#a3c1c3,#bdd5d5,#c0d7d7,#a5c4c5,#b5d0d0,#c5dada,#aac9c9,#a4c3c4,#bcd5d5,#bad3d3,#a2c0c2,#a5c4c5,#bdd5d5,#bad3d3,#a4c2c4,#a4c3c4,#bdd5d5,#c4dada,#b0cdcd,#a2c0c2,#adcbcb,#c3d9d9,#c2d8d8,#accaca,#a0bdc0,#a6c5c6,#bad3d3,#c3d9d9,#b7d1d1,#a5c3c4,#9fbcbf,#a7c7c7,#bcd4d4,#c8dcdc,#c2d8d8,#b1cdcd,#a2c0c2,#a0bdc0,#a8c7c7,#b9d3d3,#c5dada,#c6dbdb,#bbd4d4,#aac9c9,#a0bdc0,#9db8bc,#a1bfc1,#adcbcb,#bdd5d5,#c9dddd,#cddfdf,#c8dcdc,#bcd4d4,#accaca,#a1bfc1,#9cb7bb,#9bb6bb,#9fbbbf,#a6c6c6,#b4cfcf,#c0d7d7,#cadede,#d0e1e1,#d1e1e1,#cddfdf,#c5dada,#bad3d3,#adcbcb,#a3c2c3,#9cb8bc,#97b1b7,#95aeb5,#95aeb5,#98b2b8,#9cb8bc,#a3c1c2,#abc9c9,#b6d1d1,#c1d8d8,#cbdede,#d4e4e4,#dbe8e8,#e1ecec,#e4eeee,#e6efef,#e6efef,#e4eeee,#e1ecec,#dde9e9,#d8e6e6,#d2e2e2,#cbdede,#c4dada,#bdd5d5,#b5d0d0,#adcbcb,#a6c5c6,#a0bdc0,#9bb6bb,#95aeb5,#8fa6af,#8a9faa,#8497a4,#7f8f9f,#7a889a,#758195,#707b90,#6b748b,#676e87,#636983,#5f637f,#5b5e7b,#585977,#545474,#515170,#4e4e6b,#4a4a67,#474763,#44445f,#42425b,#3f3f57,#3c3c53,#3a3a50,#38384d,#36364a,#343447,#323245,#303043,#2f2f40,#2d2d3e,#2c2c3c,#2a2a3b,#292939,#282837,#272735,#262634,#242432,#232331,#22222f,#21212e,#20202c,#1f1f2b,#1e1e29,#1d1d28,#1c1c27,#1c1c26,#1b1b25,#1a1a24,#1a1a23,#191922,#181822,#181821,#181820,#171720,#17171f,#16161f,#16161e,#15151e,#15151d,#15151c,#14141c,#14141b,#13131b,#13131a,#12121a,#121219,#121218,#111118,#111117,#111117,#101016,#101016,#101016,#0f0f15,#0f0f15,#0f0f15,#0f0f14,#0e0e14,#0e0e14,#0e0e14,#0e0e13)"></i>
<i style="background:linear-gradient(90deg,#a4c3c4,#99b4b9,#b0cdcd,#b4cfcf,#adcbcb,#cbdede,#abcaca,#c6dbdb,#bcd4d4,#a9c8c8,#c5dada,#a7c6c7,#a8c8c8,#bcd5d5,#a1bec1,#a8c8c8,#bcd5d5,#a3c1c3,#a8c8c8,#c3d9d9,#adcbcb,#a6c5c6,#c3d9d9,#bdd5d5,#a4c3c4,#b2cece,#c5dada,#b1cdcd,#a1bec0,#b0cdcd,#c1d7d7,#afcccc,#9fbcbf,#a9c8c8,#c1d7d7,#bcd5d5,#a6c5c6,#a3c1c3,#b6d0d0,#c7dbdb,#bed6d6,#a7c7c7,#a1bfc1,#aecbcb,#c1d8d8,#c3d9d9,#b2cece,#a1bfc1,#9fbcbf,#aac9c9,#bed6d6,#c6dbdb,#bed5d5,#accaca,#a1bec1,#a1bec1,#accaca,#bed5d5,#c9dcdc,#c7dcdc,#bbd4d4,#a9c9c9,#9fbcbf,#9cb8bc,#a1bec1,#accaca,#bcd5d5,#c7dcdc,#cbdede,#c6dbdb,#bbd4d4,#adcbcb,#a2c0c2,#9db8bc,#9cb7bc,#a0bdc0,#a7c7c7,#b4cfcf,#c0d7d7,#cadddd,#cfe0e0,#d0e1e1,#ccdede,#c4dada,#bad3d3,#afcccc,#a4c3c4,#9ebabe,#99b3b8,#96afb6,#95afb5,#98b2b8,#9cb7bc,#a2bfc1,#a8c8c8,#b3cfcf,#bdd5d5,#c7dbdb,#d0e1e1,#d7e6e6,#dde9e9,#e2ecec,#e4eeee,#e6efef,#e5efef,#e4eeee,#e1ecec,#dce9e9,#d7e5e5,#d0e1e1,#c9dddd,#c1d8d8,#b9d3d3,#b1cdcd,#a9c8c8,#a3c1c3,#9ebabe,#98b3b8,#93abb3,#8ea4ae,#899da9,#8496a4,#7f8f9f,#7a889a,#758195,#707b90,#6b748b,#676e87,#626882,#5e627e,#5a5d7a,#575877,#535373,#50506e,#4d4d6a,#4a4a66,#474762,#45455f,#42425b,#404058,#3d3d55,#3b3b52,#39394f,#37374c,#353549,#333346,#313143,#2f2f41,#2d2d3f,#2c2c3c,#2a2a3a,#292938,#282837,#262635,#252534,#242432,#232331,#222230,#22222e,#21212d,#20202c,#1f1f2b,#1e1e2a,#1e1e29,#1d1d28,#1c1c27,#1b1b26,#1a1a25,#1a1a24,#191923,#181822,#181821,#171720,#17171f,#16161e,#16161e,#15151d,#15151d,#14141c,#14141c,#14141b,#13131b,#13131a,#13131a,#121219,#121219,#121219,#121218,#111118,#111118,#111117,#111117,#101017,#101016,#101016,#0f0f15,#0f0f15,#0f0f15,#0f0f14,#0e0e14)"></i>
<i style="background:linear-gradient(90deg,#96afb6,#abc9c9,#9cb8bc,#c0d7d7,#afcccc,#b6d1d1,#cbdede,#aac9c9,#c4dada,#bdd5d5,#a5c4c5,#c1d8d8,#afcccc,#a1bec1,#bbd3d3,#adcbcb,#9ebbbe,#b7d1d1,#b8d2d2,#a1bec1,#b1cdcd,#c5dada,#adcbcb,#a6c5c5,#c0d7d7,#c3d9d9,#a7c7c7,#a6c5c6,#bfd6d6,#bfd6d6,#a5c5c5,#a0bec0,#b4cfcf,#c1d8d8,#b1cece,#a0bdc0,#a5c3c4,#bcd4d4,#c5dada,#b6d1d1,#a4c2c3,#a4c3c4,#b7d1d1,#c7dbdb,#c2d8d8,#aecbcb,#a0bdc0,#a1bfc1,#b0cdcd,#c1d7d7,#c4d9d9,#b8d2d2,#a6c6c6,#9ebbbe,#a1bec1,#adcbcb,#c0d7d7,#cadddd,#c8dcdc,#bbd4d4,#a9c8c8,#a0bdc0,#9ebabe,#a3c1c3,#afcccc,#bed5d5,#c8dcdc,#cadddd,#c4dada,#b9d2d2,#abc9c9,#a1bec1,#9cb7bc,#9bb6bb,#9fbcbf,#a7c7c7,#b4d0d0,#c1d8d8,#cbdede,#d1e1e1,#d1e2e2,#cee0e0,#c6dbdb,#bbd4d4,#afcccc,#a5c4c5,#9ebabe,#98b2b8,#95aeb5,#94adb4,#96b0b6,#9ab5ba,#a0bdc0,#a7c6c6,#b1cdcd,#bcd4d4,#c6dada,#cee0e0,#d6e5e5,#dce8e8,#e0ebeb,#e3eded,#e4eeee,#e4eeee,#e3eded,#e1ecec,#deeaea,#d9e7e7,#d4e4e4,#cee0e0,#c7dcdc,#c0d7d7,#b8d2d2,#b0cccc,#a7c7c7,#a2bfc1,#9cb8bc,#96b0b6,#91a8b1,#8ca1ac,#879aa7,#8293a2,#7d8d9d,#788698,#748094,#6f7a8f,#6b748b,#676e87,#636983,#5f637f,#5b5e7b,#575977,#545474,#50506f,#4d4d6a,#4a4a66,#474762,#44445e,#42425b,#3f3f57,#3d3d54,#3b3b51,#39394e,#37374c,#353549,#333347,#323245,#303043,#2f2f40,#2d2d3e,#2c2c3c,#2a2a3a,#292938,#272736,#262635,#252533,#242431,#222230,#21212e,#20202d,#20202c,#1f1f2a,#1e1e29,#1d1d28,#1d1d28,#1c1c27,#1b1b26,#1b1b25,#1a1a24,#1a1a24,#191923,#191922,#181821,#181821,#171720,#17171f,#16161f,#16161e,#15151d,#15151d,#14141c,#14141b,#13131b,#13131a,#121219,#121219,#121218,#111118,#111118,#111117,#101017,#101016,#101016,#101016,#101016,#0f0f15,#0f0f15,#0f0f15,#0f0f15,#0f0f14)"></i>
<i style="background:linear-gradient(90deg,#8ea5ae,#a4c3c4,#accaca,#a2c0c2,#c6dbdb,#b0cdcd,#b7d1d1,#ccdfdf,#abc9c9,#bcd5d5,#c4dada,#a4c2c4,#b4cfcf,#bdd5d5,#a0bdc0,#a8c8c8,#bdd5d5,#a5c4c5,#a1bfc1,#bcd5d5,#b9d2d2,#a2c0c2,#afcccc,#c7dbdb,#b7d1d1,#a4c2c3,#b3cfcf,#c7dbdb,#b8d2d2,#a2c0c2,#a7c7c7,#bed6d6,#bed6d6,#a7c7c7,#9ebbbe,#aac9c9,#c0d7d7,#c0d7d7,#abcaca,#a0bdc0,#a6c6c6,#bdd5d5,#c8dcdc,#bfd6d6,#aac9c9,#a1bec0,#a5c4c5,#b8d2d2,#c5dada,#c4d9d9,#b4cfcf,#a3c1c3,#9db9bd,#a1bfc1,#afcccc,#c0d7d7,#c8dcdc,#c5dada,#b7d1d1,#a7c7c7,#9fbcbf,#9fbbbe,#a5c4c5,#b2cece,#c1d8d8,#cadddd,#cbdede,#c5dada,#b8d2d2,#a9c9c9,#a0bdc0,#9bb5ba,#9ab4ba,#9ebabe,#a5c4c5,#b2cece,#c0d7d7,#cadede,#d1e2e2,#d3e3e3,#d0e1e1,#c9dddd,#bfd6d6,#b3cfcf,#a7c6c7,#9fbcbf,#99b3b9,#95aeb5,#94acb3,#95adb4,#98b2b8,#9db9bd,#a4c2c3,#accaca,#b8d2d2,#c2d8d8,#ccdfdf,#d4e4e4,#dbe8e8,#e0ebeb,#e3eded,#e5efef,#e6efef,#e4eeee,#e2eded,#dfeaea,#dbe8e8,#d6e5e5,#d0e1e1,#cadddd,#c3d9d9,#bcd5d5,#b5d0d0,#adcbcb,#a6c5c6,#a1bec0,#9bb7bb,#96afb6,#90a8b0,#8ba0ab,#8699a6,#8192a0,#7c8b9b,#778497,#727e92,#6e788e,#6a728a,#666d86,#626782,#5e627e,#5b5d7b,#575977,#545474,#515170,#4e4e6c,#4b4b67,#484863,#454560,#42425c,#404058,#3d3d55,#3b3b52,#39394f,#37374c,#353549,#333346,#313144,#303042,#2e2e40,#2d2d3e,#2c2c3c,#2a2a3b,#292939,#282837,#272736,#262634,#252533,#242431,#232330,#22222f,#21212d,#20202c,#1f1f2b,#1e1e29,#1d1d28,#1c1c27,#1c1c26,#1b1b25,#1a1a24,#1a1a23,#191922,#181822,#181821,#171720,#171720,#17171f,#16161f,#16161e,#15151e,#15151d,#15151d,#14141c,#14141c,#14141b,#13131b,#13131a,#13131a,#121219,#121219,#121218,#111118,#111118,#111117,#101017,#101016,#101016,#0f0f15,#0f0f15,#0f0f15,#0f0f14)"></i>
<i style="background:linear-gradient(90deg,#a1bfc1,#93abb3,#afcccc,#b1cdcd,#a5c4c5,#c9dddd,#b6d0d0,#b1cdcd,#cee0e0,#b2cece,#adcbcb,#c7dcdc,#aecccc,#a3c1c2,#bcd5d5,#b3cece,#9db9bd,#adcbcb,#bdd5d5,#a6c5c6,#a1bec1,#bbd4d4,#c1d7d7,#a7c7c7,#a5c4c5,#c0d7d7,#c6dbdb,#aecbcb,#a3c1c3,#b5d0d0,#c6dbdb,#b9d2d2,#a2c0c2,#a1bfc1,#b4cfcf,#c2d8d8,#b8d2d2,#a3c2c3,#9fbbbe,#abc9c9,#c0d7d7,#c6dbdb,#b8d2d2,#a5c4c5,#a1bec1,#aac9c9,#bed6d6,#c9dddd,#c3d9d9,#b2cece,#a2c0c2,#9ebabe,#a3c2c3,#b3cece,#c2d8d8,#c7dbdb,#c1d8d8,#b3cece,#a4c3c4,#9ebabd,#9ebabe,#a5c4c5,#b4cfcf,#c3d9d9,#ccdfdf,#cddfdf,#c6dbdb,#bad3d3,#abc9c9,#a1bec0,#9bb6bb,#9ab4ba,#9db9bd,#a4c3c4,#b0cdcd,#bdd5d5,#c8dcdc,#cfe0e0,#d2e2e2,#d0e1e1,#cadddd,#c1d8d8,#b6d0d0,#aac9c9,#a1bfc1,#9bb6bb,#97b0b7,#94adb4,#95aeb5,#97b1b7,#9cb7bc,#a1bfc1,#a8c8c8,#b3cece,#bdd5d5,#c7dbdb,#d0e1e1,#d8e6e6,#deeaea,#e2eded,#e5efef,#e7f0f0,#e7f0f0,#e5efef,#e2eded,#deeaea,#d9e7e7,#d4e3e3,#cddfdf,#c7dbdb,#bfd6d6,#b8d2d2,#b0cdcd,#a9c8c8,#a3c2c3,#9ebbbe,#99b4b9,#94adb4,#8fa6af,#8a9faa,#8598a5,#8092a0,#7c8b9b,#778497,#727e92,#6e778d,#697189,#656c85,#616681,#5d617d,#5a5c7a,#565776,#535373,#50506f,#4d4d6b,#4b4b67,#484863,#454560,#43435d,#414159,#3e3e56,#3c3c53,#3a3a50,#38384d,#36364b,#343448,#323245,#303043,#2f2f41,#2d2d3e,#2c2c3c,#2a2a3a,#292939,#282837,#272735,#262634,#252532,#242431,#232330,#22222f,#21212e,#20202d,#20202c,#1f1f2b,#1e1e2a,#1d1d29,#1d1d28,#1c1c27,#1b1b26,#1b1b25,#1a1a24,#191923,#191922,#181821,#181820,#171720,#16161f,#16161e,#15151e,#15151d,#15151c,#14141c,#14141b,#13131b,#13131a,#13131a,#12121a,#121219,#121219,#121219,#121218,#111118,#111118,#111117,#111117,#101017,#101016,#101016,#101016,#101016)"></i>
<i style="background:linear-gradient(90deg,#98b1b7,#a7c7c7,#98b3b8,#b4d0d0,#bbd4d4,#a5c4c5,#c7dbdb,#c2d8d8,#a9c8c8,#c6dbdb,#c4d9d9,#a5c4c5,#b7d1d1,#c3d9d9,#a4c3c4,#a3c1c3,#bcd5d5,#b2cece,#9db9bd,#a8c8c8,#c0d7d7,#b1cdcd,#a0bdc0,#aecbcb,#c6dbdb,#bcd4d4,#a5c4c5,#a8c7c7,#c1d8d8,#c7dbdb,#b1cdcd,#a1bfc1,#a8c8c8,#bfd6d6,#c3d9d9,#b0cdcd,#9fbcbf,#a0bdc0,#b1cdcd,#c2d8d8,#c0d7d7,#aecccc,#a1bec1,#a1bec1,#afcccc,#c3d9d9,#cadddd,#c1d8d8,#afcccc,#a1bfc1,#a0bdbf,#a7c7c7,#b8d2d2,#c5dada,#c8dcdc,#bfd6d6,#afcccc,#a2bfc2,#9cb7bc,#9db9bd,#a5c4c5,#b4cfcf,#c3d9d9,#ccdede,#cddfdf,#c6dbdb,#bad3d3,#abcaca,#a1bfc1,#9cb7bc,#9bb6bb,#9ebbbe,#a5c4c5,#b1cdcd,#bdd5d5,#c7dcdc,#cee0e0,#d0e1e1,#cfe0e0,#c9dddd,#c1d7d7,#b6d1d1,#abc9c9,#a2c0c2,#9cb8bc,#98b2b8,#95aeb5,#95aeb5,#98b1b7,#9cb7bb,#a1bec1,#a7c7c7,#b1cdcd,#bbd4d4,#c4dada,#cddfdf,#d4e4e4,#dae8e8,#dfebeb,#e3eded,#e5eeee,#e6efef,#e6efef,#e4eeee,#e1ecec,#dde9e9,#d8e6e6,#d2e3e3,#ccdfdf,#c5dada,#bdd5d5,#b6d0d0,#aecbcb,#a6c6c6,#a1bec1,#9cb7bc,#97b0b7,#92aab2,#8da3ad,#889ca8,#8496a4,#7f909f,#7b899b,#768396,#727d92,#6e788e,#6a7289,#666c85,#626782,#5e627e,#5a5d7a,#575876,#535373,#50506e,#4d4d6a,#4a4a66,#474762,#45455f,#42425c,#404059,#3e3e56,#3c3c53,#3a3a50,#38384e,#36364b,#353549,#333347,#323244,#303042,#2f2f40,#2d2d3e,#2c2c3c,#2a2a3a,#292938,#282837,#262635,#252533,#242432,#232330,#22222f,#21212e,#20202c,#1f1f2b,#1f1f2a,#1e1e29,#1d1d28,#1d1d27,#1c1c27,#1b1b26,#1b1b25,#1a1a24,#1a1a24,#191923,#191922,#181822,#181821,#181820,#171720,#17171f,#16161f,#16161e,#15151d,#15151d,#14141c,#14141b,#13131b,#13131a,#13131a,#121219,#121219,#121218,#111118,#111117,#111117,#101017,#101016,#101016,#101016,#0f0f15,#0f0f15)"></i>
<i style="background:linear-gradient(90deg,#8ea4ad,#9cb7bc,#b2cece,#9ebbbe,#b1cdcd,#c7dbdb,#a9c8c8,#b9d2d2,#cfe0e0,#b0cdcd,#afcccc,#cadddd,#b7d1d1,#a2c0c2,#b7d1d1,#c0d7d7,#a4c2c4,#a0bdc0,#b7d1d1,#bad3d3,#a2c0c2,#a0bdc0,#b8d2d2,#c2d8d8,#accaca,#a1bfc1,#b2cece,#c8dcdc,#c1d7d7,#a8c8c8,#a3c1c3,#b5d0d0,#c7dbdb,#c1d7d7,#a9c8c8,#9fbbbe,#a5c4c5,#b9d3d3,#c4d9d9,#bad3d3,#a6c5c6,#9dbabd,#a2bfc2,#b3cfcf,#c4dada,#c8dcdc,#bcd4d4,#a9c9c9,#a0bdc0,#a1bfc1,#adcbcb,#bed6d6,#c9dddd,#c9dddd,#bed6d6,#adcbcb,#a1bec1,#9cb7bb,#9ebabe,#a6c5c5,#b4d0d0,#c2d8d8,#cadddd,#cadede,#c4d9d9,#b8d2d2,#aac9c9,#a1bec1,#9cb8bc,#9bb7bb,#9fbcbf,#a6c6c6,#b3cece,#bfd6d6,#c9dddd,#cfe1e1,#d1e2e2,#cfe1e1,#c9dddd,#c1d7d7,#b6d0d0,#aac9c9,#a2c0c2,#9cb7bc,#97b1b7,#95adb5,#94adb4,#96b0b6,#9ab5ba,#a0bdc0,#a6c5c6,#afcccc,#bad3d3,#c3d9d9,#ccdfdf,#d3e3e3,#dae7e7,#deeaea,#e2ecec,#e4eeee,#e5eeee,#e4eeee,#e3eded,#e1ecec,#deeaea,#dae7e7,#d5e4e4,#d0e1e1,#c9dddd,#c3d9d9,#bcd4d4,#b4cfcf,#accaca,#a5c4c5,#a0bdc0,#9bb6bb,#96afb5,#90a8b0,#8ba1ab,#879aa6,#8293a2,#7d8d9d,#798799,#758194,#707b90,#6c768c,#697189,#656c85,#616781,#5e627e,#5b5d7a,#575977,#545474,#515170,#4e4e6c,#4b4b68,#484864,#454560,#43435c,#404059,#3e3e56,#3c3c53,#3a3a50,#38384d,#36364b,#343448,#333346,#313144,#303042,#2e2e40,#2d2d3e,#2c2c3d,#2b2b3b,#2a2a39,#282838,#272736,#262635,#252533,#242432,#232331,#22222f,#21212e,#20202d,#1f1f2b,#1f1f2a,#1e1e29,#1d1d28,#1c1c27,#1b1b26,#1b1b25,#1a1a24,#1a1a23,#191923,#191922,#181821,#181821,#171720,#17171f,#16161f,#16161e,#16161e,#15151e,#15151d,#15151d,#14141c,#14141c,#14141b,#14141b,#13131b,#13131a,#13131a,#121219,#121219,#121218,#111118,#111118,#111117,#101017,#101016,#101016)"></i>
<i style="background:linear-gradient(90deg,#a2c0c2,#97b1b7,#9bb6bb,#bbd4d4,#aac9c9,#a6c6c6,#cadddd,#bdd5d5,#a8c8c8,#c6dbdb,#c9dddd,#a9c8c8,#b0cccc,#c8dcdc,#b5d0d0,#a0bcbf,#adcbcb,#c0d7d7,#accaca,#9cb8bc,#a7c7c7,#bfd6d6,#b6d1d1,#a1bec1,#a3c1c3,#bcd4d4,#c7dbdb,#b5d0d0,#a3c1c3,#a8c7c7,#c0d7d7,#cadddd,#bbd4d4,#a5c4c5,#a1bfc1,#afcccc,#c2d8d8,#c4dada,#b4cfcf,#a2c0c2,#9db8bd,#a4c3c4,#b7d1d1,#c5dada,#c3d9d9,#b5d0d0,#a4c3c4,#9ebbbe,#a2c0c2,#b1cdcd,#c2d8d8,#ccdede,#cadddd,#bdd5d5,#accaca,#a1bec1,#9db8bc,#a0bdc0,#a8c8c8,#b7d1d1,#c4d9d9,#cadddd,#c9dddd,#c1d8d8,#b5d0d0,#a7c7c7,#9fbcbf,#9bb6ba,#9bb6ba,#9fbbbf,#a6c5c6,#b3cfcf,#c0d7d7,#cadddd,#d1e2e2,#d4e3e3,#d2e2e2,#ccdede,#c3d9d9,#b8d2d2,#accaca,#a3c1c3,#9cb8bc,#97b1b7,#94acb4,#93abb3,#95adb4,#98b2b8,#9db9bd,#a3c2c3,#accaca,#b6d1d1,#c1d7d7,#cadddd,#d2e3e3,#d9e7e7,#dfeaea,#e2eded,#e5eeee,#e6efef,#e6efef,#e4eeee,#e2eded,#dfeaea,#dbe8e8,#d6e5e5,#d1e2e2,#cbdede,#c5dada,#bfd6d6,#b8d2d2,#b1cdcd,#a9c9c9,#a4c2c4,#9fbcbf,#9ab5ba,#95aeb5,#90a7b0,#8ba0ab,#8699a6,#8193a1,#7d8c9c,#788698,#748093,#6f7a8f,#6b748b,#676f87,#646a84,#606580,#5d607d,#5a5c79,#575876,#545473,#515170,#4e4e6c,#4b4b68,#494965,#464661,#44445e,#42425b,#3f3f57,#3d3d54,#3b3b51,#39394f,#37374c,#353549,#333347,#313144,#303042,#2e2e40,#2d2d3e,#2c2c3c,#2a2a3b,#292939,#282837,#272736,#262635,#252533,#242432,#232331,#232330,#22222f,#21212e,#20202d,#20202c,#1f1f2b,#1e1e2a,#1d1d29,#1d1d28,#1c1c27,#1b1b26,#1b1b25,#1a1a24,#191923,#191922,#181822,#181821,#171720,#17171f,#16161f,#16161e,#15151d,#15151d,#14141c,#14141c,#14141b,#13131b,#13131a,#13131a,#13131a,#121219,#121219,#121219,#121218,#111118,#111118,#111118,#111117,#111117,#101017)"></i>
<i style="background:linear-gradient(90deg,#8a9ea9,#a5c4c5,#a6c5c6,#9ab4ba,#b6d1d1,#c1d8d8,#a6c5c6,#b7d1d1,#d0e1e1,#b7d1d1,#a9c8c8,#c6dbdb,#c8dcdc,#a7c7c7,#a7c6c7,#c1d7d7,#bdd5d5,#a2bfc2,#a0bdc0,#b7d1d1,#bdd5d5,#a6c6c6,#9cb8bc,#a9c8c8,#c1d8d8,#bed6d6,#a7c6c7,#a1bec0,#b0cdcd,#c7dbdb,#c7dbdb,#b2cece,#a2c0c2,#a6c5c5,#bad3d3,#c8dcdc,#c3d9d9,#afcccc,#a0bdc0,#9fbbbf,#aac9c9,#bdd5d5,#c5dada,#bed6d6,#adcbcb,#a0bdc0,#9db8bc,#a3c1c3,#b3cfcf,#c4d9d9,#cbdede,#c8dcdc,#bad3d3,#aac9c9,#a0bdc0,#9ebabe,#a2c0c2,#adcbcb,#bcd4d4,#c7dcdc,#ccdfdf,#c9dddd,#c0d7d7,#b3cfcf,#a5c5c5,#9ebabd,#99b4b9,#99b4b9,#9ebabd,#a5c4c5,#b1cdcd,#bed6d6,#c9dddd,#d1e2e2,#d4e4e4,#d3e3e3,#cee0e0,#c6dbdb,#bbd4d4,#afcccc,#a5c3c5,#9ebabe,#98b2b8,#94adb4,#93abb3,#94acb4,#97b0b7,#9bb7bb,#a1bec1,#a7c7c7,#b2cece,#bcd4d4,#c6dbdb,#cfe0e0,#d6e5e5,#dde9e9,#e2ecec,#e5efef,#e7f0f0,#e8f0f0,#e7f0f0,#e5eeee,#e2eded,#deeaea,#d9e7e7,#d4e4e4,#cee0e0,#c8dcdc,#c1d8d8,#bad3d3,#b3cfcf,#accaca,#a6c5c6,#a1bfc1,#9db8bd,#98b2b8,#93acb3,#8fa5af,#8a9faa,#8699a5,#8192a1,#7c8c9c,#788698,#748094,#6f7a8f,#6b748b,#676f87,#636983,#606480,#5c5f7c,#595b79,#565676,#535372,#50506e,#4d4d6b,#4b4b67,#484864,#464660,#44445d,#42425a,#3f3f58,#3e3e55,#3c3c52,#3a3a50,#38384d,#36364b,#343448,#333346,#313144,#303042,#2e2e40,#2d2d3e,#2b2b3c,#2a2a3a,#292938,#272736,#262635,#252533,#242432,#232331,#22222f,#21212e,#21212d,#20202c,#1f1f2b,#1f1f2a,#1e1e29,#1d1d29,#1d1d28,#1c1c27,#1c1c26,#1b1b26,#1b1b25,#1a1a24,#1a1a24,#191923,#191922,#181822,#181821,#171720,#171720,#16161f,#16161e,#15151e,#15151d,#15151c,#14141c,#14141b,#13131b,#13131a,#13131a,#121219,#121219,#121218,#111118,#111117,#111117,#101017,#101016,#101016)"></i>
<i style="background:linear-gradient(90deg,#9ebbbe,#8fa5af,#9fbcbf,#b9d2d2,#a4c3c4,#a4c3c4,#c7dbdb,#c1d8d8,#a7c7c7,#bbd4d4,#d0e1e1,#b9d2d2,#a6c5c6,#bcd4d4,#cadddd,#b1cdcd,#a0bdbf,#adcbcb,#c1d8d8,#b4cfcf,#9ebbbe,#9fbcbf,#b5d0d0,#c1d7d7,#b0cdcd,#9fbcbf,#a2c0c2,#b9d2d2,#c8dcdc,#bed6d6,#a8c7c7,#a1bfc1,#adcbcb,#c3d9d9,#cbdede,#bfd7d7,#a9c8c8,#9fbcbf,#a3c1c3,#b3cfcf,#c3d9d9,#c6dbdb,#bad3d3,#a7c6c7,#9db9bd,#9cb8bc,#a5c3c4,#b6d0d0,#c4dada,#c9dddd,#c3d9d9,#b5d0d0,#a6c5c6,#9fbbbf,#9ebabe,#a4c2c4,#b1cdcd,#c0d7d7,#cbdede,#cfe0e0,#cbdede,#c1d8d8,#b3cfcf,#a5c4c5,#9db9bd,#99b3b9,#99b3b9,#9db9bd,#a4c3c4,#b0cdcd,#bdd5d5,#c7dcdc,#cfe0e0,#d2e3e3,#d2e2e2,#cee0e0,#c6dbdb,#bcd5d5,#b1cdcd,#a6c6c6,#9fbcbf,#9ab5ba,#96afb6,#94adb4,#95adb5,#97b1b7,#9bb6bb,#a0bdc0,#a6c5c6,#afcccc,#b9d2d2,#c2d8d8,#cbdede,#d3e3e3,#d9e7e7,#dfeaea,#e3eded,#e6efef,#e7f0f0,#e7f0f0,#e6efef,#e4eeee,#e1ecec,#ddeaea,#d9e7e7,#d3e3e3,#cddfdf,#c6dbdb,#bfd6d6,#b8d2d2,#b0cdcd,#a9c8c8,#a4c2c3,#9fbbbf,#9ab5ba,#95afb5,#91a8b1,#8ca2ac,#889ca8,#8496a4,#80909f,#7b8a9b,#778597,#737f93,#6f7a8f,#6b758b,#686f88,#646a84,#606580,#5d607d,#595c79,#565776,#535373,#50506f,#4d4d6b,#4a4a67,#484863,#454560,#43435d,#41415a,#3f3f57,#3d3d54,#3b3b52,#39394f,#38384d,#36364b,#353549,#333347,#323245,#303043,#2f2f41,#2e2e3f,#2c2c3d,#2b2b3c,#2a2a3a,#292938,#282837,#272735,#252534,#242432,#232331,#222230,#21212e,#21212d,#20202c,#1f1f2b,#1e1e2a,#1d1d29,#1d1d28,#1c1c27,#1b1b26,#1b1b25,#1a1a24,#1a1a24,#191923,#191922,#191922,#181821,#181821,#171720,#171720,#17171f,#16161f,#16161e,#16161e,#15151d,#15151d,#15151d,#14141c,#14141c,#14141b,#13131b,#13131a,#13131a,#121219,#121219,#121219,#111118,#111118,#111117)"></i>
<i style="background:linear-gradient(90deg,#8da3ad,#a6c6c6,#a1bec1,#97b1b7,#b2cece,#c2d8d8,#a7c7c7,#abc9c9,#ccdede,#c7dbdb,#a9c8c8,#b2cece,#cddfdf,#c4d9d9,#a6c5c6,#a7c7c7,#c0d7d7,#c3d9d9,#a7c7c7,#9db9bd,#a9c8c8,#bfd6d6,#bad3d3,#a3c2c3,#9cb7bc,#a7c7c7,#bfd6d6,#c3d9d9,#b1cece,#a1bfc1,#a2c0c2,#b5d0d0,#c8dcdc,#cadddd,#b9d2d2,#a5c4c5,#a1bec1,#a9c8c8,#bdd5d5,#c9dddd,#c6dbdb,#b6d1d1,#a4c3c4,#9cb8bc,#9ebabe,#a8c8c8,#bad3d3,#c5dada,#c7dbdb,#bed6d6,#afcccc,#a2c0c2,#9cb8bc,#9db9bd,#a4c3c4,#b3cece,#c2d8d8,#ccdfdf,#d0e1e1,#ccdede,#c2d8d8,#b3cfcf,#a6c5c6,#9ebabe,#9ab5ba,#9ab5ba,#9ebbbe,#a5c4c5,#b1cdcd,#bdd5d5,#c7dbdb,#cee0e0,#d1e2e2,#d0e1e1,#ccdfdf,#c5dada,#bcd4d4,#b1cdcd,#a6c6c6,#a0bdc0,#9ab5ba,#97b0b7,#95aeb5,#95aeb5,#97b1b7,#9bb6bb,#a0bdc0,#a6c5c6,#afcccc,#b8d2d2,#c1d8d8,#c9dddd,#d1e2e2,#d7e6e6,#dce9e9,#e0ecec,#e3eded,#e5efef,#e6efef,#e5efef,#e4eeee,#e2eded,#dfebeb,#dbe8e8,#d6e5e5,#d1e2e2,#cbdede,#c5dada,#bed5d5,#b6d1d1,#afcccc,#a7c7c7,#a2c1c2,#9ebabd,#99b3b9,#94acb4,#8fa6af,#8b9faa,#8699a6,#8293a2,#7e8d9d,#798899,#768295,#727d92,#6e788e,#6a738a,#676e87,#646a83,#606580,#5d617d,#5a5c7a,#575877,#545474,#515170,#4e4e6c,#4b4b68,#494965,#464661,#44445e,#41415a,#3f3f57,#3d3d54,#3b3b52,#39394f,#37374d,#36364a,#343448,#333346,#313144,#303042,#2f2f40,#2d2d3f,#2c2c3d,#2b2b3c,#2a2a3a,#292939,#282837,#272736,#262635,#252534,#242432,#242431,#232330,#22222f,#21212e,#20202d,#1f1f2b,#1f1f2a,#1e1e29,#1d1d28,#1c1c27,#1c1c26,#1b1b25,#1a1a25,#1a1a24,#191923,#191922,#181821,#181821,#171720,#17171f,#16161f,#16161e,#16161e,#15151d,#15151d,#15151c,#14141c,#14141c,#14141b,#13131b,#13131b,#13131a,#13131a,#13131a,#121219,#121219,#121219,#121218,#111118)"></i>
<i style="background:linear-gradient(90deg,#9bb6bb,#8ca2ac,#9db9bd,#b7d1d1,#a6c6c6,#9fbbbe,#bbd4d4,#cadede,#b0cdcd,#a8c8c8,#c6dbdb,#d0e1e1,#b5d0d0,#a5c5c5,#bad3d3,#ccdede,#bad3d3,#a2bfc1,#a3c1c3,#b9d3d3,#c2d8d8,#afcccc,#9db9bd,#9ebbbe,#b2cece,#c2d8d8,#bad3d3,#a5c4c5,#9db9bd,#a5c4c5,#bcd4d4,#c9dddd,#c3d9d9,#afcccc,#a2c0c2,#a3c1c2,#b2cece,#c5dada,#ccdfdf,#c5dada,#b2cece,#a2c0c2,#9db9bd,#a2bfc2,#afcccc,#bfd6d6,#c7dcdc,#c5dada,#bad3d3,#a9c8c8,#9fbcbf,#9ab5ba,#9db8bd,#a5c3c4,#b3cfcf,#c2d8d8,#ccdfdf,#cfe0e0,#cadede,#c0d7d7,#b3cece,#a6c5c5,#9ebbbe,#9bb6bb,#9cb7bb,#a0bdc0,#a7c7c7,#b3cfcf,#bfd6d6,#c8dcdc,#cfe0e0,#d1e2e2,#d0e1e1,#cbdede,#c4d9d9,#bad3d3,#b0cccc,#a6c5c5,#9fbcbf,#9ab4ba,#96afb6,#94adb4,#94adb4,#97b0b6,#9ab5ba,#9fbcbf,#a5c4c5,#aecbcb,#b8d2d2,#c1d7d7,#c9dddd,#d1e2e2,#d7e6e6,#dce9e9,#e0ebeb,#e3eded,#e5eeee,#e5efef,#e5eeee,#e4eeee,#e2ecec,#dfeaea,#dbe8e8,#d7e6e6,#d2e3e3,#cddfdf,#c7dcdc,#c1d8d8,#bbd4d4,#b4cfcf,#adcbcb,#a6c6c6,#a2bfc2,#9db9bd,#98b2b8,#93acb3,#8fa5ae,#8a9eaa,#8598a5,#8192a1,#7c8c9c,#788698,#748194,#707b90,#6d768c,#697189,#666c85,#626882,#5f637f,#5c5f7c,#595b79,#565776,#545473,#515170,#4e4e6c,#4c4c69,#4a4a66,#474762,#45455f,#43435c,#404059,#3e3e56,#3c3c53,#3a3a51,#38384e,#37374b,#353549,#333347,#323245,#303042,#2f2f41,#2d2d3f,#2c2c3d,#2b2b3b,#2a2a3a,#292938,#282837,#272735,#262634,#252533,#242432,#232331,#232330,#22222f,#21212e,#21212d,#20202c,#1f1f2b,#1f1f2a,#1e1e2a,#1d1d29,#1d1d28,#1c1c27,#1c1c26,#1b1b25,#1b1b25,#1a1a24,#191923,#191922,#181822,#181821,#171720,#171720,#16161f,#16161e,#15151e,#15151d,#15151c,#14141c,#14141b,#13131b,#13131a,#13131a,#12121a,#121219,#121219,#121218,#111118,#111118,#111117)"></i>
<i style="background:linear-gradient(90deg,#8ca2ac,#a5c4c5,#a3c1c3,#95aeb5,#a5c4c5,#c2d8d8,#b5d0d0,#a2c0c2,#b6d1d1,#d0e1e1,#c2d8d8,#a7c7c7,#b1cdcd,#ccdfdf,#cbdede,#aecbcb,#a2c0c2,#b3cece,#c6dbdb,#bed6d6,#a5c4c5,#9cb7bc,#a6c6c6,#bcd4d4,#c0d7d7,#aecbcb,#9ebabe,#9db9bd,#abc9c9,#c1d7d7,#c6dbdb,#b9d3d3,#a6c5c6,#9fbcbf,#a5c4c5,#b9d2d2,#cadddd,#cddfdf,#c1d8d8,#aecbcb,#a1bfc1,#9fbcbf,#a6c6c6,#b7d1d1,#c5dada,#cadddd,#c4dada,#b6d1d1,#a6c5c6,#9db9bd,#9ab4b9,#9db9bd,#a6c5c5,#b5d0d0,#c2d8d8,#cbdede,#cddfdf,#c7dcdc,#bdd5d5,#b0cccc,#a4c3c4,#9ebabe,#9bb6bb,#9cb8bc,#a1bfc1,#a9c8c8,#b6d0d0,#c2d8d8,#cbdede,#d1e2e2,#d3e3e3,#d2e2e2,#ccdfdf,#c5dada,#bbd3d3,#afcccc,#a5c4c5,#9fbbbe,#99b3b9,#95aeb5,#93abb3,#93abb3,#95aeb5,#98b3b8,#9dbabd,#a3c2c3,#abcaca,#b5d0d0,#bfd6d6,#c8dcdc,#d0e1e1,#d7e6e6,#dde9e9,#e1ecec,#e4eeee,#e6efef,#e7f0f0,#e7efef,#e5efef,#e3eded,#e0ebeb,#dce9e9,#d8e6e6,#d3e3e3,#cee0e0,#c9dcdc,#c3d9d9,#bdd5d5,#b6d1d1,#b0cdcd,#a9c8c8,#a4c3c4,#a0bdc0,#9bb7bb,#97b1b7,#92aab2,#8ea4ae,#899ea9,#8598a5,#8192a1,#7c8c9c,#788698,#748094,#707b90,#6c758c,#687088,#656b85,#616781,#5e627e,#5b5e7b,#585a78,#555675,#535372,#50506e,#4e4e6b,#4b4b68,#494965,#474762,#45455f,#43435c,#414159,#3f3f57,#3d3d54,#3b3b52,#3a3a4f,#38384d,#36364b,#353549,#333346,#323244,#303042,#2f2f40,#2d2d3e,#2c2c3d,#2b2b3b,#292939,#282838,#272736,#262635,#252533,#242432,#232331,#222230,#22222e,#21212d,#20202c,#1f1f2b,#1f1f2b,#1e1e2a,#1e1e29,#1d1d28,#1d1d28,#1c1c27,#1c1c26,#1b1b26,#1b1b25,#1a1a24,#1a1a24,#191923,#191923,#191922,#181821,#181821,#171720,#171720,#17171f,#16161f,#16161e,#15151e,#15151d,#15151d,#14141c,#14141b,#14141b,#13131a,#13131a,#12121a,#121219,#121219,#121218)"></i>
<i style="background:linear-gradient(90deg,#9db9bd,#8da3ad,#94adb4,#b0cdcd,#b3cfcf,#9fbbbe,#a4c3c4,#c5dada,#c9dcdc,#adcbcb,#a7c7c7,#c3d9d9,#d2e3e3,#bfd6d6,#a6c5c6,#abcaca,#c5dada,#cbdede,#b5d0d0,#a0bdc0,#a1bfc1,#b5d0d0,#c3d9d9,#bad3d3,#a4c3c4,#9ab5ba,#a0bec0,#b4cfcf,#c3d9d9,#c0d7d7,#adcbcb,#a0bcbf,#9ebabe,#a9c8c8,#bed6d6,#cbdede,#cadddd,#bbd4d4,#a8c8c8,#a0bdc0,#a2bfc1,#adcbcb,#bed6d6,#cbdede,#ccdfdf,#c4d9d9,#b4cfcf,#a4c3c4,#9cb8bc,#9ab5ba,#9fbcbf,#a8c8c8,#b7d1d1,#c4d9d9,#cadddd,#cadddd,#c4d9d9,#b9d2d2,#abcaca,#a2bfc2,#9cb7bc,#9ab4ba,#9cb7bc,#a1bfc1,#aac9c9,#b7d1d1,#c3d9d9,#cddfdf,#d3e3e3,#d5e4e4,#d4e4e4,#cfe0e0,#c7dbdb,#bdd5d5,#b1cece,#a6c6c6,#9fbcbf,#99b4b9,#95aeb5,#92aab2,#92aab2,#93acb3,#97b0b7,#9bb7bb,#a1bec1,#a7c7c7,#b1cece,#bbd4d4,#c5dada,#cddfdf,#d5e4e4,#dbe8e8,#e1ecec,#e4eeee,#e7f0f0,#e9f1f1,#e9f1f1,#e8f0f0,#e6efef,#e3eded,#dfebeb,#dbe8e8,#d6e5e5,#d1e2e2,#cbdede,#c5dada,#bfd6d6,#b9d2d2,#b2cece,#accaca,#a6c5c6,#a2bfc1,#9db9bd,#99b3b9,#95aeb5,#91a8b1,#8ca2ac,#889ca8,#8497a4,#8091a0,#7c8b9c,#788698,#748194,#707b90,#6d768c,#697189,#656c85,#626782,#5e637e,#5b5e7b,#585a78,#555675,#525272,#50506e,#4d4d6a,#4b4b67,#484864,#464661,#44445e,#42425b,#404058,#3e3e56,#3d3d54,#3b3b51,#39394f,#38384d,#36364b,#353549,#343447,#323245,#313144,#303042,#2e2e40,#2d2d3e,#2c2c3d,#2b2b3b,#2a2a3a,#292938,#272737,#262635,#252534,#242432,#232331,#232330,#22222f,#21212d,#20202c,#1f1f2b,#1f1f2a,#1e1e29,#1d1d28,#1d1d27,#1c1c27,#1b1b26,#1b1b25,#1a1a24,#1a1a24,#191923,#191923,#191922,#181821,#181821,#181820,#171720,#171720,#17171f,#16161f,#16161e,#16161e,#15151e,#15151d,#15151d,#15151c,#14141c,#14141c,#14141b,#13131b,#13131a,#13131a,#13131a)"></i>
<i style="background:linear-gradient(90deg,#869aa6,#9fbbbe,#a9c9c9,#9bb6bb,#97b1b7,#b1cdcd,#c5dada,#b2cece,#a2c0c2,#b4cfcf,#cfe1e1,#cbdede,#afcccc,#a6c6c6,#bdd5d5,#d0e1e1,#c6dbdb,#aac9c9,#a1bec1,#adcbcb,#c3d9d9,#c5dada,#b1cdcd,#9ebbbe,#9cb7bb,#a7c7c7,#bcd4d4,#c3d9d9,#b7d1d1,#a4c2c4,#9bb6bb,#9fbbbf,#aecccc,#c2d8d8,#cadddd,#c3d9d9,#b2cece,#a3c2c3,#9fbbbf,#a4c2c4,#b3cfcf,#c4dada,#cee0e0,#cddfdf,#c3d9d9,#b2cece,#a3c1c3,#9cb8bc,#9cb8bc,#a2c0c2,#adcbcb,#bcd4d4,#c6dbdb,#cbdede,#c9dddd,#c1d7d7,#b5d0d0,#a7c7c7,#9fbcbf,#9ab4ba,#98b2b8,#9bb6ba,#a1bec0,#a9c8c8,#b7d1d1,#c3d9d9,#cddfdf,#d3e3e3,#d6e5e5,#d5e4e4,#d0e1e1,#c9dcdc,#bfd6d6,#b4cfcf,#a8c8c8,#a1bec1,#9bb6bb,#96afb6,#93abb3,#92aab2,#93acb3,#96b0b6,#9ab5ba,#a0bdbf,#a5c5c5,#aecbcb,#b8d2d2,#c1d8d8,#cadddd,#d1e2e2,#d8e6e6,#deeaea,#e2eded,#e6efef,#e8f0f0,#e9f1f1,#e9f1f1,#e8f0f0,#e6efef,#e3eded,#dfebeb,#dae8e8,#d5e4e4,#d0e1e1,#cadddd,#c3d9d9,#bdd5d5,#b6d1d1,#afcccc,#a8c8c8,#a3c2c3,#9fbcbf,#9bb6bb,#97b0b6,#92aab2,#8ea4ae,#8a9faa,#8699a6,#8294a2,#7e8f9e,#7b8a9b,#778497,#737f93,#707b90,#6c768c,#697189,#666c85,#626882,#5f637f,#5c5f7c,#595b79,#565776,#535373,#50506f,#4e4e6b,#4b4b68,#494964,#464661,#44445e,#42425b,#404058,#3e3e56,#3c3c53,#3a3a51,#39394e,#37374c,#36364a,#343448,#333346,#323245,#313143,#2f2f41,#2e2e40,#2d2d3e,#2c2c3d,#2b2b3c,#2a2a3a,#292939,#282838,#272736,#262635,#262634,#252533,#242432,#232330,#22222f,#21212e,#21212d,#20202c,#1f1f2b,#1e1e2a,#1e1e29,#1d1d28,#1c1c27,#1c1c26,#1b1b25,#1a1a25,#1a1a24,#191923,#191922,#181822,#181821,#171720,#171720,#17171f,#16161f,#16161e,#16161e,#15151d,#15151d,#15151c,#14141c,#14141c,#14141b,#14141b,#13131b,#13131a,#13131a,#13131a,#12121a)"></i>
<i style="background:linear-gradient(90deg,#a1bec1,#96b0b6,#8ca2ac,#9ebabe,#b8d2d2,#b2cece,#9fbbbf,#a4c2c3,#c2d8d8,#cee0e0,#b8d2d2,#a5c4c5,#b2cece,#cddfdf,#d1e2e2,#bbd3d3,#a5c3c4,#a7c7c7,#bfd6d6,#ccdede,#c1d8d8,#a8c7c7,#9db9bd,#a2bfc1,#b4cfcf,#c3d9d9,#bfd6d6,#adcbcb,#9ebabd,#9ab4ba,#a2c0c2,#b5d0d0,#c4dada,#c6dbdb,#bbd4d4,#a8c8c8,#9fbcbf,#9ebabe,#a6c5c6,#b8d2d2,#c8dcdc,#d0e1e1,#ccdfdf,#c0d7d7,#aecccc,#a2c0c2,#9db9bd,#9fbbbf,#a6c5c6,#b4cfcf,#c1d8d8,#cadddd,#cddfdf,#c9dddd,#bfd7d7,#b2cece,#a5c4c5,#9db9bd,#98b2b8,#97b1b7,#9ab5ba,#a0bdc0,#a8c8c8,#b6d0d0,#c2d8d8,#ccdede,#d2e3e3,#d5e4e4,#d4e4e4,#d0e1e1,#c9dddd,#c0d7d7,#b5d0d0,#aac9c9,#a2c0c2,#9cb8bc,#97b1b7,#94adb4,#93acb3,#94adb4,#97b0b7,#9bb6bb,#a0bcbf,#a5c4c5,#adcbcb,#b6d1d1,#bfd6d6,#c7dbdb,#cfe0e0,#d5e4e4,#dbe8e8,#e0ebeb,#e3eded,#e6efef,#e7f0f0,#e8f0f0,#e7f0f0,#e6efef,#e4eeee,#e1ecec,#dde9e9,#d9e7e7,#d4e3e3,#cee0e0,#c8dcdc,#c2d8d8,#bbd4d4,#b4d0d0,#adcbcb,#a7c6c7,#a2c0c2,#9ebabe,#99b4b9,#95aeb5,#90a8b0,#8ca2ac,#889ca8,#8497a4,#8091a0,#7c8c9c,#798799,#758295,#727d92,#6e798e,#6b748b,#687088,#656b85,#626782,#5f637f,#5c5f7c,#595b79,#565876,#545474,#515170,#4f4f6d,#4c4c69,#4a4a66,#474763,#454560,#43435d,#41415a,#3f3f57,#3d3d54,#3b3b52,#39394f,#38384d,#36364b,#343448,#333346,#323244,#303043,#2f2f41,#2e2e3f,#2d2d3e,#2c2c3c,#2b2b3b,#2a2a3a,#292938,#282837,#272736,#262635,#252534,#252533,#242432,#232331,#232330,#22222f,#21212e,#21212d,#20202c,#1f1f2b,#1f1f2b,#1e1e2a,#1e1e29,#1d1d28,#1c1c27,#1c1c26,#1b1b26,#1b1b25,#1a1a24,#1a1a23,#191923,#191922,#181821,#181821,#171720,#17171f,#16161f,#16161e,#15151e,#15151d,#15151d,#14141c,#14141c,#14141b,#13131b,#13131a,#13131a,#121219,#121219)"></i>
<i style="background:linear-gradient(90deg,#8497a4,#8fa5af,#a6c5c6,#accaca,#9cb7bc,#98b2b8,#afcccc,#c7dcdc,#bed5d5,#a6c5c5,#a6c5c6,#c1d8d8,#d3e3e3,#c8dcdc,#adcbcb,#a5c4c5,#b7d1d1,#cddfdf,#cee0e0,#b9d2d2,#a3c1c3,#a0bdbf,#accaca,#c1d7d7,#c6dbdb,#bad3d3,#a5c3c4,#9ab5ba,#9cb7bc,#a7c7c7,#bbd4d4,#c5dada,#c1d7d7,#b1cdcd,#a2c0c2,#9bb7bb,#9ebabe,#a9c8c8,#bcd4d4,#cadddd,#cfe0e0,#c9dcdc,#bbd4d4,#aac9c9,#a1bec0,#9ebabd,#a1bfc1,#aac9c9,#bad3d3,#c7dbdb,#cee0e0,#cfe1e1,#cadddd,#bfd6d6,#b1cdcd,#a4c3c4,#9cb8bc,#98b2b8,#97b1b7,#9ab5ba,#a0bdc0,#a9c8c8,#b5d0d0,#c1d8d8,#cadede,#d1e1e1,#d3e3e3,#d2e3e3,#cee0e0,#c8dcdc,#bfd6d6,#b5d0d0,#aac9c9,#a2c0c2,#9db8bd,#98b2b8,#95aeb5,#94adb4,#95aeb5,#98b1b7,#9bb7bb,#a0bdc0,#a5c5c5,#adcbcb,#b6d1d1,#bfd6d6,#c7dbdb,#cee0e0,#d4e4e4,#dae7e7,#deeaea,#e2ecec,#e4eeee,#e6efef,#e6efef,#e6efef,#e5efef,#e3eded,#e1ecec,#deeaea,#dae7e7,#d6e5e5,#d1e2e2,#cbdede,#c6dbdb,#c0d7d7,#b9d3d3,#b3cece,#accaca,#a6c5c6,#a1bfc1,#9db9bd,#98b3b8,#94adb4,#90a6b0,#8ba1ab,#879ba7,#8395a3,#7f8f9f,#7b8a9b,#778597,#748094,#707b90,#6d768d,#6a7289,#666e86,#636983,#616580,#5e627e,#5b5e7b,#585a78,#565776,#535373,#515170,#4f4f6d,#4c4c6a,#4a4a67,#484864,#464661,#44445e,#42425b,#404059,#3e3e56,#3c3c53,#3b3b51,#39394f,#37374c,#36364a,#343448,#333346,#313144,#303042,#2e2e40,#2d2d3e,#2c2c3d,#2b2b3b,#2a2a3a,#292938,#282837,#272736,#262634,#252533,#242432,#242431,#232330,#22222f,#22222e,#21212d,#20202d,#20202c,#1f1f2b,#1f1f2a,#1e1e2a,#1e1e29,#1d1d28,#1d1d28,#1c1c27,#1c1c26,#1b1b26,#1b1b25,#1a1a24,#1a1a24,#1a1a23,#191923,#191922,#181822,#181821,#171720,#171720,#17171f,#16161f,#16161e,#16161e,#15151d,#15151d,#14141c,#14141c,#14141b,#13131b,#13131a)"></i>
<i style="background:linear-gradient(90deg,#9bb6ba,#a4c2c4,#98b2b8,#8ea5ae,#9db9bd,#b9d2d2,#bdd5d5,#a6c6c6,#9fbbbf,#b0cdcd,#ccdfdf,#cee0e0,#b8d2d2,#a5c4c5,#adcbcb,#c6dbdb,#d4e3e3,#c9dcdc,#afcccc,#a1bfc1,#a6c6c6,#bcd4d4,#cadddd,#c6dbdb,#b2cece,#a0bdc0,#9ab5ba,#a1bec1,#b1cece,#c1d8d8,#c4dada,#bad3d3,#a7c7c7,#9db8bc,#99b4b9,#9fbcbf,#adcbcb,#bfd6d6,#cadede,#ccdede,#c3d9d9,#b4cfcf,#a5c4c5,#9ebbbe,#9ebabd,#a3c1c3,#afcccc,#bfd6d6,#cbdede,#d2e2e2,#d1e2e2,#cbdede,#bfd6d6,#b0cdcd,#a4c2c4,#9cb8bc,#98b2b8,#98b2b8,#9bb7bb,#a2bfc2,#abc9c9,#b7d1d1,#c2d8d8,#cadddd,#d0e1e1,#d2e2e2,#d0e1e1,#ccdfdf,#c5dada,#bdd5d5,#b3cece,#a8c8c8,#a2bfc1,#9cb8bc,#98b2b8,#95aeb5,#94adb4,#95aeb5,#98b1b7,#9bb7bb,#a0bdc0,#a6c5c6,#aecbcb,#b7d1d1,#bfd6d6,#c7dcdc,#cfe0e0,#d5e4e4,#dae8e8,#deeaea,#e2ecec,#e4eeee,#e5efef,#e6efef,#e6efef,#e5eeee,#e3eded,#e0ebeb,#ddeaea,#dae7e7,#d6e5e5,#d1e2e2,#cddfdf,#c7dcdc,#c2d8d8,#bcd4d4,#b6d1d1,#b0cdcd,#a9c9c9,#a5c3c4,#a0bec0,#9cb8bc,#98b2b8,#93acb3,#8fa6af,#8ba0ab,#879aa7,#8395a3,#7f8f9f,#7b8a9b,#778497,#737f93,#707a8f,#6c758c,#697189,#656c85,#626882,#5f647f,#5d607c,#5a5c7a,#575977,#555575,#525272,#50506f,#4e4e6c,#4c4c69,#4a4a66,#484863,#464660,#44445e,#42425b,#404059,#3f3f57,#3d3d54,#3b3b52,#3a3a50,#38384e,#37374c,#35354a,#343448,#333346,#313144,#303042,#2f2f40,#2d2d3f,#2c2c3d,#2b2b3b,#2a2a3a,#292938,#282837,#272735,#262634,#252533,#242432,#232330,#22222f,#22222e,#21212d,#20202c,#1f1f2b,#1f1f2b,#1e1e2a,#1e1e29,#1d1d28,#1d1d28,#1c1c27,#1c1c26,#1b1b26,#1b1b25,#1a1a25,#1a1a24,#1a1a24,#191923,#191923,#191922,#181822,#181821,#181821,#171720,#171720,#17171f,#16161f,#16161f,#16161e,#16161e,#15151d,#15151d,#15151d,#14141c,#14141c)"></i>
<i style="background:linear-gradient(90deg,#95adb5,#879aa6,#8fa6af,#a6c5c6,#b5d0d0,#a6c5c5,#99b3b9,#a1bec1,#bdd5d5,#cddfdf,#bfd6d6,#a7c6c7,#a5c4c5,#bbd3d3,#d1e2e2,#d2e3e3,#bed5d5,#a6c6c6,#a4c3c4,#b4d0d0,#c9dddd,#cfe0e0,#c2d8d8,#aac9c9,#9ebabe,#9ebabe,#a9c8c8,#bcd4d4,#c6dbdb,#c2d8d8,#b2cece,#a2bfc1,#99b3b9,#99b4b9,#a2c0c2,#b2cece,#c2d8d8,#c9dddd,#c7dbdb,#bcd4d4,#accaca,#a1bec1,#9cb8bc,#9db9bd,#a4c3c4,#b2cece,#c2d8d8,#cee0e0,#d3e3e3,#d2e2e2,#cadddd,#bed6d6,#b0cccc,#a4c2c4,#9db9bd,#99b4b9,#9ab4ba,#9ebabe,#a4c3c4,#aecccc,#bad3d3,#c4d9d9,#ccdede,#d0e1e1,#d1e2e2,#cfe1e1,#cbdede,#c3d9d9,#bad3d3,#b0cdcd,#a6c6c6,#a0bdc0,#9bb6bb,#96b0b6,#94acb4,#93abb3,#94acb4,#96b0b6,#9ab5ba,#9fbcbf,#a5c4c5,#adcbcb,#b6d1d1,#bfd6d6,#c7dcdc,#cfe0e0,#d6e5e5,#dbe8e8,#e0ebeb,#e3eded,#e6efef,#e7f0f0,#e7f0f0,#e7f0f0,#e6efef,#e4eeee,#e1ecec,#deeaea,#dae8e8,#d6e5e5,#d2e2e2,#cddfdf,#c8dcdc,#c3d9d9,#bdd5d5,#b8d2d2,#b2cece,#accaca,#a6c6c6,#a2c0c2,#9ebbbe,#9ab5ba,#96b0b6,#92aab2,#8ea5ae,#8a9faa,#869aa6,#8294a2,#7f8f9e,#7b8a9b,#778497,#737f93,#707a90,#6c768c,#697189,#666c85,#626882,#5f647f,#5c607c,#595c79,#575877,#545474,#525271,#4f4f6e,#4d4d6a,#4b4b67,#494965,#474762,#45455f,#43435d,#41415a,#404058,#3e3e56,#3d3d54,#3b3b52,#3a3a50,#38384e,#37374c,#36364a,#343448,#333347,#323245,#313143,#303042,#2e2e40,#2d2d3f,#2c2c3d,#2b2b3c,#2a2a3a,#292939,#282837,#272736,#262635,#252534,#242432,#242431,#232330,#22222f,#21212e,#20202d,#20202c,#1f1f2b,#1e1e2a,#1e1e29,#1d1d28,#1c1c27,#1c1c26,#1b1b26,#1b1b25,#1a1a24,#1a1a24,#191923,#191923,#191922,#181821,#181821,#181820,#171720,#171720,#17171f,#16161f,#16161e,#16161e,#15151e,#15151d,#15151d,#15151d,#14141c,#14141c,#14141c)"></i>
<i style="background:linear-gradient(90deg,#8497a4,#99b4b9,#a8c8c8,#a3c1c3,#94adb4,#95aeb5,#a9c8c8,#c3d9d9,#c1d7d7,#aac9c9,#a0bdc0,#accaca,#c7dcdc,#d4e4e4,#c9dddd,#b0cdcd,#a4c2c4,#accaca,#c3d9d9,#d2e2e2,#cfe0e0,#bbd4d4,#a5c4c5,#9ebbbe,#a4c3c4,#b6d0d0,#c5dada,#c9dcdc,#bed6d6,#abc9c9,#9db9bd,#98b2b8,#9cb7bc,#a6c6c6,#b8d2d2,#c4dada,#c8dcdc,#c1d8d8,#b4cfcf,#a5c4c5,#9db9bd,#9ab4ba,#9db9bd,#a6c5c5,#b5d0d0,#c4dada,#cfe0e0,#d3e3e3,#d1e1e1,#c8dcdc,#bcd4d4,#aecbcb,#a3c1c3,#9db9bd,#9ab5ba,#9bb7bb,#a0bdc0,#a7c6c7,#b2cece,#bed6d6,#c7dcdc,#cee0e0,#d2e3e3,#d3e3e3,#d0e1e1,#cbdede,#c3d9d9,#b9d3d3,#afcccc,#a5c4c5,#9fbcbf,#99b4b9,#95aeb5,#92aab2,#92a9b1,#92aab2,#95aeb5,#99b3b9,#9ebabe,#a3c2c3,#aac9c9,#b4cfcf,#bdd5d5,#c6dbdb,#cee0e0,#d5e4e4,#dbe8e8,#e0ebeb,#e4eeee,#e7f0f0,#e9f1f1,#e9f1f1,#e9f1f1,#e8f0f0,#e6efef,#e4eeee,#e0ecec,#dde9e9,#d8e6e6,#d4e4e4,#cfe0e0,#cadddd,#c4dada,#bfd6d6,#b9d2d2,#b3cfcf,#adcbcb,#a7c7c7,#a3c2c3,#a0bdc0,#9cb7bc,#98b2b8,#94adb4,#90a8b0,#8da2ad,#899da9,#8598a5,#8293a1,#7e8e9e,#7a899a,#778497,#737f93,#707b90,#6d768c,#697189,#666d86,#636983,#606580,#5d607d,#5a5c7a,#575977,#555574,#525271,#50506e,#4d4d6b,#4b4b67,#494964,#474762,#45455f,#43435c,#41415a,#3f3f57,#3e3e55,#3c3c53,#3a3a51,#39394f,#38384d,#36364b,#353549,#343448,#333346,#323245,#313143,#2f2f42,#2e2e40,#2d2d3f,#2d2d3d,#2c2c3c,#2b2b3b,#2a2a3a,#292938,#282837,#272736,#262635,#262634,#252533,#242432,#232331,#232330,#22222f,#21212e,#20202d,#20202c,#1f1f2b,#1e1e2a,#1e1e29,#1d1d28,#1c1c27,#1c1c27,#1b1b26,#1b1b25,#1a1a24,#1a1a24,#191923,#191922,#181822,#181821,#171720,#171720,#17171f,#16161f,#16161e,#16161e,#15151d,#15151d,#15151c,#14141c,#14141c,#14141b,#14141b)"></i>
<i style="background:linear-gradient(90deg,#a1bec1,#9fbbbf,#90a7b0,#8ba0ab,#9bb6bb,#b3cfcf,#bcd5d5,#abcaca,#9db9bd,#a0bdc0,#b8d2d2,#cfe0e0,#cee0e0,#bad3d3,#a6c5c5,#a5c5c5,#b9d2d2,#cfe0e0,#d6e5e5,#c9dddd,#b2cece,#a2c0c2,#a2c0c2,#afcccc,#c2d8d8,#cddfdf,#c9dddd,#b9d3d3,#a5c4c5,#9bb6bb,#99b4b9,#a0bdc0,#aecbcb,#bed6d6,#c6dbdb,#c5dada,#bbd4d4,#accaca,#a0bdc0,#99b4b9,#98b2b8,#9ebabd,#a7c7c7,#b7d1d1,#c5dada,#cfe0e0,#d1e2e2,#cee0e0,#c5dada,#b8d2d2,#aac9c9,#a1bfc1,#9cb8bc,#9bb6ba,#9db9bd,#a2c0c2,#aac9c9,#b6d1d1,#c2d8d8,#cbdede,#d2e2e2,#d5e4e4,#d5e4e4,#d2e2e2,#ccdede,#c3d9d9,#b9d3d3,#afcccc,#a5c4c5,#9ebbbe,#99b3b9,#94adb4,#91a9b1,#90a8b0,#91a8b1,#93acb3,#97b1b7,#9cb7bc,#a1bfc1,#a7c7c7,#b1cdcd,#bad3d3,#c3d9d9,#ccdede,#d3e3e3,#dae7e7,#dfebeb,#e4eeee,#e7f0f0,#e9f1f1,#ebf2f2,#ebf2f2,#eaf2f2,#e9f1f1,#e7f0f0,#e4eeee,#e0ebeb,#dce9e9,#d7e6e6,#d2e3e3,#cddfdf,#c7dcdc,#c2d8d8,#bcd4d4,#b6d0d0,#b0cccc,#a9c9c9,#a5c4c5,#a1bec1,#9db9bd,#99b4b9,#95aeb5,#92a9b2,#8ea4ae,#8a9faa,#879aa7,#8395a3,#8091a0,#7c8c9c,#798799,#768396,#737e92,#6f7a8f,#6c768c,#697189,#666d86,#636983,#606580,#5e617d,#5b5e7b,#585a78,#565675,#535373,#51516f,#4e4e6c,#4c4c69,#4a4a66,#474763,#454560,#43435d,#41415a,#404058,#3e3e55,#3c3c53,#3a3a51,#39394f,#37374d,#36364b,#353549,#333347,#323245,#313144,#303042,#2f2f41,#2e2e3f,#2d2d3e,#2c2c3d,#2b2b3c,#2a2a3a,#292939,#292938,#282837,#272736,#262635,#262634,#252533,#242432,#242431,#232330,#222230,#22222f,#21212e,#21212d,#20202c,#1f1f2b,#1f1f2b,#1e1e2a,#1e1e29,#1d1d28,#1d1d28,#1c1c27,#1c1c26,#1b1b25,#1b1b25,#1a1a24,#1a1a23,#191923,#191922,#181821,#181821,#171720,#171720,#17171f,#16161f,#16161e,#15151e,#15151d,#15151d,#14141c,#14141c)"></i>
<i style="background:linear-gradient(90deg,#8ea4ae,#8395a3,#8ea4ae,#a3c2c3,#b3cece,#a9c8c8,#9ab5ba,#97b1b7,#a6c5c6,#c2d8d8,#cddfdf,#c0d7d7,#a9c8c8,#a2bfc2,#accaca,#c6dada,#d6e5e5,#d3e3e3,#bfd7d7,#a9c8c8,#a2c0c2,#a8c8c8,#bcd5d5,#cddfdf,#d1e2e2,#c7dbdb,#b3cfcf,#a2c0c2,#9bb6bb,#9db9bd,#a6c6c6,#b7d1d1,#c4d9d9,#c8dcdc,#c3d9d9,#b5d0d0,#a5c5c5,#9cb7bc,#97b0b7,#98b2b8,#9fbbbf,#a9c9c9,#bad3d3,#c6dbdb,#cee0e0,#cfe0e0,#cadddd,#c0d7d7,#b3cfcf,#a6c6c6,#9fbcbf,#9bb6bb,#9ab5ba,#9db9bd,#a3c1c3,#adcbcb,#b9d3d3,#c5dada,#cee0e0,#d5e4e4,#d8e6e6,#d7e6e6,#d4e3e3,#cddfdf,#c5dada,#bbd3d3,#b0cccc,#a5c5c5,#9fbbbf,#99b3b9,#94adb4,#91a9b1,#90a7b0,#91a8b0,#93abb3,#96afb6,#9bb6bb,#a0bdc0,#a6c5c6,#aecbcb,#b7d1d1,#c0d7d7,#c9dcdc,#d0e1e1,#d7e6e6,#dde9e9,#e2ecec,#e6efef,#e8f1f1,#eaf2f2,#ebf2f2,#ebf2f2,#eaf2f2,#e9f1f1,#e6efef,#e3eded,#dfebeb,#dbe8e8,#d6e5e5,#d1e2e2,#ccdede,#c6dbdb,#c0d7d7,#bad3d3,#b4cfcf,#adcbcb,#a7c7c7,#a3c1c3,#9fbcbf,#9bb6bb,#97b1b7,#93abb3,#8fa6af,#8ca1ac,#889ca8,#8597a4,#8192a1,#7e8e9e,#7a899a,#778597,#748094,#717c91,#6e788e,#6b748b,#687088,#656c85,#636983,#606580,#5d617d,#5b5e7b,#585a78,#565776,#545473,#515170,#4f4f6d,#4d4d6a,#4b4b67,#494964,#464661,#44445f,#43435c,#414159,#3f3f57,#3d3d54,#3b3b52,#3a3a50,#38384e,#37374c,#35354a,#343448,#333346,#313144,#303042,#2f2f41,#2e2e3f,#2d2d3e,#2c2c3c,#2b2b3b,#2a2a3a,#292939,#282838,#272736,#272735,#262634,#252533,#252532,#242432,#232331,#232330,#22222f,#22222e,#21212e,#20202d,#20202c,#1f1f2b,#1f1f2b,#1e1e2a,#1e1e29,#1e1e29,#1d1d28,#1d1d28,#1c1c27,#1c1c26,#1b1b26,#1b1b25,#1b1b25,#1a1a24,#1a1a24,#191923,#191922,#191922,#181821,#181821,#171720,#171720,#17171f,#16161f,#16161e,#16161e,#15151d)"></i>
<i style="background:linear-gradient(90deg,#8598a5,#98b2b8,#a7c6c7,#a5c4c5,#98b2b8,#8fa6af,#99b4b9,#b1cdcd,#c5dada,#c1d8d8,#accaca,#9fbcbf,#a2c1c2,#b8d2d2,#cfe0e0,#d6e5e5,#cadddd,#b3cfcf,#a4c3c4,#a4c3c4,#b4cfcf,#c8dcdc,#d4e4e4,#d2e2e2,#c2d8d8,#adcbcb,#a0bdc0,#9db8bc,#a2c0c2,#b0cdcd,#c1d7d7,#cadddd,#c9dddd,#c0d7d7,#b0cdcd,#a2bfc1,#99b3b9,#96afb6,#99b3b9,#a1bec1,#adcbcb,#bcd5d5,#c7dbdb,#ccdfdf,#cbdede,#c5dada,#bad3d3,#adcbcb,#a3c1c3,#9cb8bc,#99b4b9,#99b4b9,#9db9bd,#a4c2c4,#aecccc,#bbd4d4,#c7dbdb,#d0e1e1,#d6e5e5,#d9e7e7,#d9e7e7,#d5e4e4,#cfe0e0,#c6dbdb,#bcd4d4,#b1cdcd,#a6c6c6,#a0bdc0,#9ab5ba,#95aeb5,#92aab2,#91a8b1,#91a8b1,#93abb3,#96afb6,#9ab5ba,#9fbcbf,#a5c4c5,#accaca,#b5d0d0,#bed6d6,#c6dbdb,#cddfdf,#d4e4e4,#dae7e7,#dfebeb,#e3eded,#e6efef,#e9f1f1,#eaf2f2,#eaf2f2,#eaf2f2,#e9f1f1,#e7f0f0,#e5eeee,#e1ecec,#deeaea,#d9e7e7,#d5e4e4,#d0e1e1,#cadddd,#c4dada,#bed6d6,#b8d2d2,#b2cece,#accaca,#a6c5c6,#a2c0c2,#9ebabe,#9ab4ba,#96afb6,#92a9b2,#8ea4ae,#8a9faa,#869aa6,#8395a3,#7f909f,#7c8b9c,#798798,#758295,#727e92,#6f7a8f,#6c768c,#6a7289,#676e87,#646a84,#626781,#5f637f,#5d607c,#5a5d7a,#585978,#565675,#535373,#515170,#4f4f6d,#4d4d6a,#4b4b68,#494965,#474762,#454560,#44445d,#42425b,#404058,#3e3e56,#3d3d54,#3b3b52,#3a3a50,#38384d,#37374b,#353549,#343448,#323246,#313144,#303042,#2f2f41,#2e2e3f,#2d2d3d,#2b2b3c,#2a2a3b,#292939,#292938,#282837,#272736,#262634,#252533,#242432,#242431,#232330,#22222f,#22222f,#21212e,#21212d,#20202c,#1f1f2b,#1f1f2b,#1e1e2a,#1e1e29,#1e1e29,#1d1d28,#1d1d28,#1c1c27,#1c1c27,#1c1c26,#1b1b26,#1b1b25,#1a1a25,#1a1a24,#1a1a24,#191923,#191923,#191922,#181822,#181821,#181821,#181821,#171720,#171720,#17171f,#16161f,#16161e)"></i>
<i style="background:linear-gradient(90deg,#a1bec1,#a1bfc1,#95aeb5,#899ea9,#8ea4ae,#a1bec1,#b8d2d2,#bdd5d5,#aecbcb,#9ebabe,#9bb7bb,#a7c7c7,#c2d8d8,#d2e3e3,#cfe1e1,#bdd5d5,#a8c7c7,#a2c0c2,#aac9c9,#c0d7d7,#d2e2e2,#d8e6e6,#cfe0e0,#bcd4d4,#a7c7c7,#9fbcbf,#a0bec0,#aac9c9,#bcd4d4,#c9dddd,#cee0e0,#c9dddd,#bcd5d5,#abc9c9,#9fbbbe,#98b1b7,#97b0b6,#9cb7bb,#a4c3c4,#b2cece,#c0d7d7,#c8dcdc,#cbdede,#c8dcdc,#c0d7d7,#b4cfcf,#a7c7c7,#9fbcbf,#99b4b9,#97b1b7,#98b2b8,#9db9bd,#a4c3c4,#afcccc,#bcd4d4,#c8dcdc,#d1e2e2,#d7e6e6,#dae7e7,#d9e7e7,#d6e5e5,#d0e1e1,#c7dbdb,#bdd5d5,#b2cece,#a7c7c7,#a1bec1,#9bb6bb,#96b0b6,#93abb3,#92aab2,#92aab2,#94acb4,#97b1b7,#9bb6bb,#a0bdc0,#a5c4c5,#accaca,#b5d0d0,#bdd5d5,#c5dada,#ccdfdf,#d2e3e3,#d8e6e6,#dde9e9,#e1ecec,#e4eeee,#e6efef,#e8f0f0,#e9f1f1,#e9f1f1,#e8f0f0,#e6efef,#e4eeee,#e2ecec,#dfeaea,#dbe8e8,#d7e5e5,#d2e2e2,#cddfdf,#c8dcdc,#c2d8d8,#bdd5d5,#b7d1d1,#b0cdcd,#aac9c9,#a5c4c5,#a1bfc1,#9db9bd,#99b4b9,#95aeb5,#91a9b1,#8da3ad,#899ea9,#8699a5,#8294a2,#7e8f9e,#7b8a9b,#778597,#748194,#717c91,#6e788e,#6b748b,#687088,#656c85,#636883,#606580,#5e617e,#5b5e7b,#595b79,#575877,#555574,#525272,#50506f,#4e4e6c,#4d4d6a,#4b4b67,#494965,#474762,#454560,#44445e,#42425b,#414159,#3f3f57,#3e3e55,#3c3c53,#3b3b51,#39394f,#38384d,#36364b,#353549,#343448,#333346,#313144,#303043,#2f2f41,#2e2e3f,#2d2d3e,#2c2c3c,#2b2b3b,#2a2a3a,#292938,#282837,#272736,#262635,#252533,#242432,#242431,#232330,#22222f,#21212e,#21212d,#20202c,#20202c,#1f1f2b,#1e1e2a,#1e1e29,#1d1d29,#1d1d28,#1c1c27,#1c1c27,#1c1c26,#1b1b25,#1b1b25,#1a1a24,#1a1a24,#1a1a23,#191923,#191922,#191922,#181822,#181821,#181821,#171720,#171720,#171720,#17171f,#16161f,#16161f,#16161e)"></i>
<i style="background:linear-gradient(90deg,#94acb4,#8598a5,#8497a4,#95adb4,#a8c8c8,#b5d0d0,#accaca,#9db9bd,#95aeb5,#9db9bd,#b2cece,#c9dddd,#cfe0e0,#c3d9d9,#adcbcb,#a2bfc1,#a3c2c3,#b4cfcf,#cadddd,#d7e6e6,#d6e5e5,#c8dcdc,#b3cfcf,#a4c2c4,#a0bdc0,#a5c5c5,#b5d0d0,#c6dbdb,#d0e1e1,#d1e2e2,#c8dcdc,#b9d2d2,#a7c6c6,#9db8bc,#98b1b7,#99b3b9,#9fbcbf,#aac9c9,#b8d2d2,#c4d9d9,#cadddd,#cadddd,#c5dada,#bbd4d4,#aecccc,#a3c1c3,#9cb7bc,#97b0b7,#95aeb5,#97b1b7,#9db8bd,#a4c3c4,#afcccc,#bcd5d5,#c8dcdc,#d1e1e1,#d7e5e5,#d9e7e7,#d9e7e7,#d5e4e4,#cfe0e0,#c7dbdb,#bdd5d5,#b2cece,#a8c7c7,#a1bfc1,#9cb7bb,#97b1b7,#94adb4,#93abb3,#93acb3,#95aeb5,#98b2b8,#9cb8bc,#a1bec1,#a6c5c6,#aecbcb,#b6d0d0,#bed5d5,#c5dada,#ccdfdf,#d2e2e2,#d8e6e6,#dce9e9,#e0ebeb,#e3eded,#e5eeee,#e6efef,#e7f0f0,#e7f0f0,#e6efef,#e5efef,#e3eded,#e1ecec,#deeaea,#dbe8e8,#d7e6e6,#d3e3e3,#cee0e0,#cadddd,#c5dada,#bfd6d6,#bad3d3,#b4cfcf,#aecccc,#a8c8c8,#a4c3c4,#a0bdc0,#9cb8bc,#98b3b8,#95adb4,#91a8b1,#8da3ad,#899da9,#8598a5,#8293a2,#7e8e9e,#7b899a,#778597,#748094,#717c90,#6d778d,#6a738a,#676f87,#656b84,#626782,#5f647f,#5d607d,#5a5d7a,#585a78,#565676,#535373,#515170,#4f4f6e,#4d4d6b,#4c4c68,#4a4a66,#484864,#464661,#45455f,#43435d,#42425b,#404059,#3f3f57,#3d3d55,#3c3c53,#3b3b51,#39394f,#38384e,#37374c,#36364a,#353549,#333347,#323245,#313144,#303042,#2f2f41,#2e2e40,#2d2d3e,#2c2c3d,#2b2b3c,#2a2a3a,#292939,#282838,#272737,#272735,#262634,#252533,#242432,#232331,#232330,#22222f,#21212e,#21212d,#20202c,#1f1f2b,#1f1f2a,#1e1e2a,#1e1e29,#1d1d28,#1c1c27,#1c1c27,#1b1b26,#1b1b25,#1a1a25,#1a1a24,#1a1a23,#191923,#191922,#181822,#181821,#181821,#171720,#171720,#17171f,#16161f,#16161f,#16161e,#16161e,#15151e)"></i>
<i style="background:linear-gradient(90deg,#7f8f9f,#8ba0aa,#9ebabe,#abc9c9,#a8c7c7,#9cb7bb,#91a8b0,#93abb3,#a2c0c2,#bbd4d4,#c9dddd,#c4dada,#b2cece,#a2c0c2,#9fbbbe,#a7c7c7,#bed6d6,#d2e2e2,#d9e7e7,#d1e2e2,#bfd6d6,#abc9c9,#a2bfc2,#a3c1c3,#aecbcb,#c0d7d7,#cfe0e0,#d6e5e5,#d2e3e3,#c6dbdb,#b4cfcf,#a4c3c4,#9cb7bc,#99b3b9,#9cb8bc,#a4c3c4,#b1cece,#bfd6d6,#c8dcdc,#ccdfdf,#cadddd,#c2d8d8,#b7d1d1,#a9c8c8,#a0bdc0,#99b3b9,#94adb4,#94acb4,#97b0b7,#9db9bd,#a4c3c4,#b0cdcd,#bcd5d5,#c7dcdc,#d0e1e1,#d5e5e5,#d8e6e6,#d7e6e6,#d3e3e3,#cddfdf,#c5dada,#bcd4d4,#b1cece,#a7c7c7,#a1bec1,#9cb7bc,#98b1b7,#95aeb5,#94acb4,#94adb4,#96afb6,#99b4b9,#9db9bd,#a2c0c2,#a7c7c7,#afcccc,#b7d1d1,#bfd6d6,#c7dbdb,#cddfdf,#d3e3e3,#d8e6e6,#dde9e9,#e0ebeb,#e3eded,#e5eeee,#e6efef,#e7efef,#e6efef,#e6efef,#e4eeee,#e3eded,#e0ebeb,#ddeaea,#dae8e8,#d7e5e5,#d3e3e3,#cfe0e0,#cadddd,#c5dada,#c0d7d7,#bbd4d4,#b6d1d1,#b1cdcd,#abcaca,#a6c6c6,#a2c0c2,#9fbbbf,#9bb6bb,#97b1b7,#94acb4,#90a7b0,#8ca2ac,#899da9,#8598a5,#8293a1,#7e8e9e,#7b899a,#778597,#748094,#717c91,#6e778d,#6a738a,#676f87,#656b84,#626782,#5f637f,#5c607c,#5a5c7a,#585977,#555675,#535373,#515170,#4f4f6d,#4d4d6a,#4b4b67,#494965,#474762,#464660,#44445e,#42425c,#41415a,#3f3f58,#3e3e56,#3d3d54,#3b3b52,#3a3a50,#39394f,#38384d,#37374b,#36364a,#343448,#333347,#323246,#313144,#303043,#2f2f42,#2f2f40,#2e2e3f,#2d2d3e,#2c2c3d,#2b2b3b,#2a2a3a,#292939,#292938,#282837,#272736,#262635,#262634,#252533,#242432,#232331,#232330,#22222f,#21212e,#21212d,#20202c,#1f1f2b,#1f1f2b,#1e1e2a,#1e1e29,#1d1d28,#1d1d28,#1c1c27,#1c1c26,#1b1b25,#1b1b25,#1a1a24,#1a1a23,#191923,#191922,#181822,#181821,#181821,#171720,#171720,#17171f,#16161f,#16161e,#16161e)"></i>
<i style="background:linear-gradient(90deg,#97b1b7,#a3c2c3,#a4c2c4,#9ab4b9,#8da3ad,#8a9faa,#97b0b7,#aac9c9,#bfd6d6,#c2d8d8,#b4cfcf,#a3c1c2,#9bb6bb,#9fbcbf,#b0cdcd,#c7dcdc,#d5e4e4,#d5e4e4,#c8dcdc,#b4cfcf,#a5c3c4,#a1bfc1,#a7c6c6,#b8d2d2,#cadddd,#d6e5e5,#d8e6e6,#d1e2e2,#c2d8d8,#b0cccc,#a2c0c2,#9cb7bc,#9cb7bb,#a1bec1,#abcaca,#bad3d3,#c6dbdb,#cddfdf,#cee0e0,#c9dddd,#c0d7d7,#b3cfcf,#a6c5c6,#9db9bd,#97b0b6,#93abb3,#93acb3,#97b1b7,#9dbabd,#a5c4c5,#b1cdcd,#bdd5d5,#c7dcdc,#cfe0e0,#d4e4e4,#d6e5e5,#d4e4e4,#d1e1e1,#cadede,#c2d8d8,#b9d2d2,#afcccc,#a6c5c6,#a0bdc0,#9bb6bb,#97b1b7,#95aeb5,#94acb4,#95adb4,#97b0b6,#9ab5ba,#9ebabe,#a3c1c3,#a8c8c8,#b1cdcd,#b9d2d2,#c1d7d7,#c8dcdc,#cfe0e0,#d5e4e4,#dae7e7,#deeaea,#e2ecec,#e4eeee,#e6efef,#e7f0f0,#e7f0f0,#e7f0f0,#e6efef,#e5eeee,#e3eded,#e0ebeb,#ddeaea,#dae7e7,#d6e5e5,#d3e3e3,#cee0e0,#cadddd,#c5dada,#c1d7d7,#bcd4d4,#b7d1d1,#b2cece,#accaca,#a7c7c7,#a4c2c4,#a0bdc0,#9db9bd,#99b4b9,#96afb6,#92aab2,#8fa5af,#8ba1ab,#889ca8,#8497a4,#8192a1,#7e8e9e,#7a899a,#778597,#748094,#717c91,#6e788e,#6b748b,#687088,#656c85,#626882,#60647f,#5d617d,#5a5d7a,#585a78,#565675,#535373,#515170,#4f4f6d,#4d4d6a,#4b4b67,#494965,#474762,#454560,#44445d,#42425b,#404059,#3f3f57,#3d3d55,#3c3c53,#3b3b51,#39394f,#38384e,#37374c,#36364b,#353549,#343448,#333346,#323245,#313143,#303042,#2f2f41,#2e2e40,#2d2d3f,#2d2d3e,#2c2c3c,#2b2b3b,#2a2a3a,#2a2a39,#292938,#282837,#272736,#272735,#262635,#252534,#252533,#242432,#242431,#232330,#22222f,#22222f,#21212e,#21212d,#20202c,#20202c,#1f1f2b,#1e1e2a,#1e1e29,#1d1d29,#1d1d28,#1c1c27,#1c1c27,#1b1b26,#1b1b25,#1b1b25,#1a1a24,#1a1a23,#191923,#191922,#181822,#181821,#181821,#171720,#171720,#17171f)"></i>
<i style="background:linear-gradient(90deg,#a2c0c2,#98b2b8,#8a9eaa,#8396a3,#8ca1ac,#9ebabe,#b2cece,#bbd4d4,#b3cfcf,#a3c1c3,#98b2b8,#98b2b8,#a3c1c3,#b9d3d3,#cddfdf,#d4e4e4,#cddfdf,#bcd4d4,#a9c8c8,#a1bec1,#a2c0c2,#aecbcb,#c1d8d8,#d2e2e2,#dae8e8,#d9e7e7,#cee0e0,#bdd5d5,#abc9c9,#a0bec0,#9db8bc,#9fbcbf,#a6c6c6,#b4cfcf,#c2d8d8,#ccdfdf,#d1e2e2,#d0e1e1,#c9dddd,#bed6d6,#b0cdcd,#a3c2c3,#9bb6bb,#95aeb5,#93abb3,#94acb4,#98b2b8,#9fbcbf,#a7c6c7,#b3cfcf,#bed6d6,#c8dcdc,#cfe0e0,#d3e3e3,#d4e3e3,#d2e2e2,#cee0e0,#c7dbdb,#bfd6d6,#b6d0d0,#accaca,#a4c3c4,#9ebbbe,#9ab4ba,#96afb6,#94acb4,#93abb3,#94adb4,#96b0b6,#9ab4ba,#9ebabe,#a3c1c3,#a9c8c8,#b1cece,#bad3d3,#c2d8d8,#c9dddd,#d0e1e1,#d6e5e5,#dce9e9,#e0ebeb,#e4eeee,#e6efef,#e8f0f0,#e9f1f1,#e9f1f1,#e9f1f1,#e8f0f0,#e6efef,#e4eeee,#e2ecec,#deeaea,#dbe8e8,#d7e6e6,#d3e3e3,#cfe0e0,#cbdede,#c6dbdb,#c1d8d8,#bcd4d4,#b7d1d1,#b2cece,#adcbcb,#a8c7c7,#a4c3c4,#a1bec1,#9ebabd,#9ab5ba,#97b1b7,#94acb3,#90a7b0,#8da3ad,#8a9eaa,#879aa6,#8395a3,#8091a0,#7d8d9d,#7a889a,#778497,#748094,#717c91,#6e788e,#6b748b,#687088,#666c85,#636983,#606580,#5e627e,#5b5e7b,#595b79,#565776,#545474,#525271,#50506e,#4e4e6b,#4c4c68,#4a4a66,#484863,#464660,#44445e,#42425c,#414159,#3f3f57,#3e3e55,#3c3c53,#3b3b51,#39394f,#38384d,#37374c,#36364a,#343448,#333347,#323245,#313144,#303043,#2f2f41,#2e2e40,#2e2e3f,#2d2d3e,#2c2c3d,#2b2b3c,#2a2a3b,#2a2a3a,#292939,#282838,#282837,#272736,#262635,#262634,#252533,#252533,#242432,#242431,#232330,#232330,#22222f,#21212e,#21212e,#21212d,#20202c,#20202c,#1f1f2b,#1f1f2a,#1e1e2a,#1e1e29,#1d1d28,#1d1d28,#1c1c27,#1c1c27,#1c1c26,#1b1b26,#1b1b25,#1a1a24,#1a1a24,#1a1a23,#191923,#191922,#191922,#181821,#181821)"></i>
<i style="background:linear-gradient(90deg,#899ea9,#7f8f9f,#8395a3,#93acb3,#a5c4c5,#b2cece,#b0cdcd,#a2c1c2,#96b0b6,#92a9b2,#99b3b9,#a9c8c8,#c1d7d7,#cee0e0,#cee0e0,#c1d8d8,#aecccc,#a2bfc1,#9fbbbf,#a5c4c5,#b6d1d1,#cadddd,#d7e6e6,#dce9e9,#d6e5e5,#c8dcdc,#b7d1d1,#a6c6c6,#9fbcbf,#9ebbbe,#a3c1c3,#aecccc,#bdd5d5,#cadddd,#d2e3e3,#d5e4e4,#d1e2e2,#c9dcdc,#bcd4d4,#adcbcb,#a2bfc2,#9ab5ba,#95aeb5,#93acb3,#95aeb5,#9ab5ba,#a1bfc1,#aac9c9,#b6d0d0,#c1d7d7,#c9dddd,#cfe0e0,#d2e2e2,#d2e2e2,#cfe1e1,#cadede,#c4d9d9,#bbd4d4,#b2cece,#a8c8c8,#a2c0c2,#9cb8bc,#98b2b8,#94adb4,#92aab2,#92aab2,#93abb3,#95aeb5,#99b3b9,#9db9bd,#a2c0c2,#a8c8c8,#b1cdcd,#bad3d3,#c2d8d8,#cadddd,#d1e2e2,#d7e6e6,#dde9e9,#e1ecec,#e5efef,#e8f0f0,#eaf2f2,#ebf2f2,#ecf3f3,#ebf3f3,#eaf2f2,#e9f1f1,#e7efef,#e4eeee,#e1ecec,#ddeaea,#d9e7e7,#d5e4e4,#d1e2e2,#ccdfdf,#c7dcdc,#c2d8d8,#bdd5d5,#b8d2d2,#b3cfcf,#aecbcb,#a9c8c8,#a5c4c5,#a1bfc1,#9ebabe,#9bb6bb,#98b1b7,#94adb4,#91a8b1,#8ea4ae,#8ba0ab,#889ba8,#8597a4,#8293a1,#7f8f9e,#7c8b9b,#798799,#768396,#737f93,#707b90,#6e778d,#6b748b,#687088,#666c86,#636983,#616680,#5e627e,#5c5f7c,#595c79,#575977,#555575,#535372,#51516f,#4f4f6d,#4d4d6a,#4b4b67,#494964,#474762,#45455f,#43435d,#42425b,#404058,#3e3e56,#3d3d54,#3b3b52,#3a3a50,#39394e,#37374c,#36364b,#353549,#343447,#333346,#313144,#303043,#2f2f41,#2e2e40,#2d2d3f,#2d2d3e,#2c2c3c,#2b2b3b,#2a2a3a,#292939,#292938,#282837,#272736,#272735,#262634,#252534,#252533,#242432,#242431,#232330,#232330,#22222f,#22222e,#21212e,#21212d,#20202c,#20202c,#1f1f2b,#1f1f2b,#1f1f2a,#1e1e2a,#1e1e29,#1d1d29,#1d1d28,#1d1d28,#1c1c27,#1c1c27,#1c1c26,#1b1b26,#1b1b25,#1b1b25,#1a1a24,#1a1a24,#1a1a23,#191923,#191922,#191922)"></i>
<i style="background:linear-gradient(90deg,#7f909f,#8ca1ac,#9cb8bc,#a8c8c8,#aac9c9,#a1bfc1,#95aeb5,#8da2ad,#90a7b0,#9dbabd,#b2cece,#c5dada,#cbdede,#c3d9d9,#b2cece,#a3c1c3,#9cb8bc,#9fbbbf,#aac9c9,#bed6d6,#d0e1e1,#dae8e8,#dae8e8,#d1e2e2,#c1d8d8,#afcccc,#a3c2c3,#9fbcbf,#a1bec1,#a8c7c7,#b7d1d1,#c6dada,#d1e2e2,#d8e6e6,#d8e6e6,#d2e3e3,#c8dcdc,#bad3d3,#abc9c9,#a0bec0,#99b4b9,#95aeb5,#95aeb5,#98b2b8,#9db9bd,#a4c3c4,#afcccc,#bad3d3,#c4d9d9,#cbdede,#d0e1e1,#d2e2e2,#d1e2e2,#cddfdf,#c8dcdc,#c0d7d7,#b8d2d2,#aecccc,#a5c5c5,#9fbcbf,#9ab5ba,#96afb6,#92aab2,#91a8b1,#90a7b0,#92a9b1,#94adb4,#98b2b8,#9cb8bc,#a1bfc1,#a7c7c7,#b0cdcd,#b9d2d2,#c1d8d8,#c9dddd,#d0e1e1,#d7e6e6,#dde9e9,#e2ecec,#e6efef,#e9f1f1,#ecf3f3,#edf4f4,#eef4f4,#eef4f4,#edf3f3,#ebf3f3,#e9f1f1,#e7f0f0,#e4eeee,#e0ebeb,#dce9e9,#d8e6e6,#d4e3e3,#cfe0e0,#cadddd,#c5dada,#c0d7d7,#bad3d3,#b5d0d0,#b0cdcd,#aac9c9,#a6c5c6,#a2c0c2,#9fbcbf,#9cb7bb,#98b2b8,#95aeb5,#92a9b2,#8fa5ae,#8ba1ab,#889ca8,#8598a5,#8294a2,#7f909f,#7d8c9c,#7a889a,#778497,#748194,#727d91,#6f798f,#6c768c,#6a728a,#676f87,#656c85,#636883,#606580,#5e627e,#5c5f7c,#5a5c7a,#585977,#555675,#535373,#515170,#4f4f6e,#4d4d6b,#4c4c68,#4a4a66,#484863,#464661,#45455f,#43435c,#41415a,#404058,#3e3e56,#3d3d54,#3b3b52,#3a3a50,#38384e,#37374c,#36364a,#353549,#333347,#323245,#313144,#303042,#2f2f41,#2e2e40,#2d2d3e,#2c2c3d,#2b2b3c,#2a2a3b,#2a2a39,#292938,#282837,#272736,#262635,#262634,#252533,#242432,#242432,#232331,#232330,#22222f,#22222e,#21212e,#21212d,#20202c,#20202c,#1f1f2b,#1f1f2b,#1e1e2a,#1e1e29,#1e1e29,#1d1d28,#1d1d28,#1d1d27,#1c1c27,#1c1c26,#1c1c26,#1b1b26,#1b1b25,#1b1b25,#1a1a24,#1a1a24,#1a1a23,#191923,#191923,#191922,#191922)"></i>
<i style="background:linear-gradient(90deg,#99b3b9,#a3c1c3,#a6c5c6,#9fbcbf,#93abb3,#899da9,#889ca8,#93abb3,#a4c2c3,#b8d2d2,#c4d9d9,#c2d8d8,#b5d0d0,#a4c3c4,#9bb6bb,#99b4b9,#a1bec1,#b1cdcd,#c6dada,#d4e4e4,#dae8e8,#d6e5e5,#cadddd,#b9d2d2,#a8c8c8,#a1bec0,#9fbcbf,#a4c2c3,#afcccc,#bfd6d6,#cddfdf,#d7e6e6,#dbe8e8,#dae7e7,#d2e2e2,#c6dbdb,#b8d2d2,#a8c8c8,#9fbcbf,#99b4b9,#96b0b6,#97b0b7,#9bb6bb,#a1bec1,#a8c8c8,#b4cfcf,#bfd6d6,#c7dcdc,#cee0e0,#d2e2e2,#d2e3e3,#d1e1e1,#ccdfdf,#c6dbdb,#bed6d6,#b5d0d0,#abc9c9,#a3c2c3,#9db9bd,#98b2b8,#94acb3,#91a8b0,#8fa5af,#8fa5af,#90a7b0,#93abb3,#96b0b6,#9bb6bb,#a0bdc0,#a6c5c6,#aecbcb,#b7d1d1,#bfd7d7,#c8dcdc,#cfe1e1,#d6e5e5,#dce9e9,#e1ecec,#e6efef,#e9f1f1,#ecf3f3,#eef4f4,#eff5f5,#eff5f5,#eff5f5,#eef4f4,#ecf3f3,#e9f1f1,#e7efef,#e3eded,#e0ebeb,#dbe8e8,#d7e6e6,#d2e3e3,#cddfdf,#c8dcdc,#c3d9d9,#bed5d5,#b8d2d2,#b3cece,#adcbcb,#a8c7c7,#a4c3c4,#a0bec0,#9db9bd,#9ab4b9,#96b0b6,#93abb3,#90a6af,#8ca2ac,#899ea9,#8699a6,#8395a3,#8091a0,#7d8d9d,#7a899a,#788598,#758295,#727e92,#707b90,#6d778d,#6b748b,#697088,#666d86,#646a84,#626782,#5f647f,#5d617d,#5b5e7b,#595b79,#575977,#555675,#535373,#515170,#50506e,#4e4e6b,#4c4c69,#4a4a67,#494964,#474762,#454560,#44445e,#42425c,#414159,#3f3f57,#3e3e55,#3d3d54,#3b3b52,#3a3a50,#39394e,#37374c,#36364b,#353549,#343447,#323246,#313144,#303043,#2f2f41,#2e2e40,#2d2d3f,#2c2c3d,#2b2b3c,#2b2b3b,#2a2a39,#292938,#282837,#272736,#262635,#262634,#252533,#242432,#242431,#232330,#22222f,#22222f,#21212e,#21212d,#20202c,#20202c,#1f1f2b,#1f1f2a,#1e1e2a,#1e1e29,#1d1d28,#1d1d28,#1c1c27,#1c1c27,#1c1c26,#1b1b26,#1b1b25,#1b1b25,#1a1a24,#1a1a24,#1a1a24,#191923,#191923,#191922,#191922,#181822,#181821)"></i>
<i style="background:linear-gradient(90deg,#a5c4c5,#9ebbbe,#92aab2,#8699a6,#8293a2,#8a9ea9,#99b4b9,#aac9c9,#bad3d3,#bed5d5,#b5d0d0,#a5c4c5,#9ab5ba,#95aeb5,#99b3b9,#a4c3c4,#b8d2d2,#cbdede,#d6e5e5,#d7e6e6,#cfe0e0,#c0d7d7,#afcccc,#a3c1c3,#9fbbbe,#a0bdc0,#a7c7c7,#b6d1d1,#c6dbdb,#d3e3e3,#dce8e8,#deeaea,#dae7e7,#d1e2e2,#c4d9d9,#b5d0d0,#a6c6c6,#9fbbbe,#99b4b9,#98b2b8,#99b4b9,#9ebabe,#a5c3c4,#afcccc,#bad3d3,#c4d9d9,#ccdede,#d1e2e2,#d4e4e4,#d4e3e3,#d1e2e2,#ccdede,#c5dada,#bcd4d4,#b2cece,#a8c8c8,#a1bfc1,#9bb7bb,#96afb6,#92aab2,#8fa5af,#8da3ad,#8da3ad,#8fa5af,#91a9b1,#95aeb5,#9ab4ba,#9fbcbf,#a4c3c4,#accaca,#b5d0d0,#bdd5d5,#c6dada,#cddfdf,#d4e4e4,#dae8e8,#e0ebeb,#e5eeee,#e8f1f1,#ebf3f3,#eef4f4,#eff5f5,#f0f5f5,#f0f5f5,#eff5f5,#edf4f4,#ebf3f3,#e9f1f1,#e6efef,#e2eded,#dfeaea,#dae8e8,#d6e5e5,#d1e2e2,#ccdfdf,#c7dbdb,#c2d8d8,#bcd4d4,#b7d1d1,#b1cdcd,#abcaca,#a6c6c6,#a3c1c3,#9fbcbf,#9cb7bb,#98b2b8,#95adb5,#91a9b1,#8ea4ae,#8ba0ab,#889ba7,#8497a4,#8193a1,#7e8f9e,#7b8b9b,#798799,#768396,#737f93,#717c90,#6e788e,#6c758b,#697189,#676e87,#656b85,#626882,#606580,#5e627e,#5c5f7c,#5a5d7a,#585a78,#565776,#545574,#535372,#515170,#4f4f6d,#4e4e6b,#4c4c69,#4a4a67,#494964,#474762,#464660,#44445e,#43435c,#41415a,#404058,#3f3f57,#3d3d55,#3c3c53,#3b3b51,#3a3a50,#38384e,#37374c,#36364b,#353549,#343448,#333346,#323245,#313143,#303042,#2f2f40,#2e2e3f,#2d2d3e,#2c2c3d,#2b2b3b,#2a2a3a,#292939,#282838,#282837,#272736,#262635,#252534,#252533,#242432,#232331,#232330,#22222f,#21212e,#21212d,#20202d,#20202c,#1f1f2b,#1f1f2a,#1e1e2a,#1e1e29,#1d1d28,#1d1d28,#1c1c27,#1c1c27,#1b1b26,#1b1b25,#1b1b25,#1a1a24,#1a1a24,#1a1a23,#191923,#191922,#191922,#181822,#181821,#181821)"></i>
<i style="background:linear-gradient(90deg,#93abb3,#8597a4,#7d8d9d,#8293a2,#90a7b0,#a0bdc0,#b0cccc,#b7d1d1,#b2cece,#a5c4c5,#9ab4ba,#92aab2,#92aab2,#9bb6bb,#a9c9c9,#bfd6d6,#cee0e0,#d4e4e4,#d1e2e2,#c6dada,#b5d0d0,#a6c5c6,#9fbcbf,#9db9bd,#a2c0c2,#accaca,#bdd5d5,#cddfdf,#d8e6e6,#dfeaea,#dfeaea,#d9e7e7,#cee0e0,#c1d7d7,#b2cece,#a5c4c5,#9ebabe,#9ab5ba,#99b4b9,#9cb8bc,#a2bfc2,#a9c9c9,#b5d0d0,#c0d7d7,#c9dddd,#d1e1e1,#d5e4e4,#d7e5e5,#d6e5e5,#d2e2e2,#ccdede,#c4dada,#bbd4d4,#b1cdcd,#a7c6c7,#a0bdc0,#9ab5ba,#95aeb5,#91a8b1,#8ea4ae,#8ca2ac,#8ca2ac,#8ea4ae,#91a8b0,#94adb4,#99b3b9,#9ebabe,#a3c2c3,#aac9c9,#b3cece,#bbd4d4,#c3d9d9,#cbdede,#d2e2e2,#d8e6e6,#deeaea,#e3eded,#e7f0f0,#eaf2f2,#ecf3f3,#eef4f4,#eff5f5,#eff5f5,#eff5f5,#eef4f4,#ecf3f3,#eaf2f2,#e8f0f0,#e4eeee,#e1ecec,#dde9e9,#d9e7e7,#d4e4e4,#cfe1e1,#cbdede,#c5dada,#c0d7d7,#bbd3d3,#b5d0d0,#afcccc,#aac9c9,#a5c4c5,#a2bfc2,#9ebbbe,#9bb6ba,#97b1b7,#94acb4,#90a7b0,#8da3ad,#8a9ea9,#869aa6,#8395a3,#8091a0,#7d8d9d,#7a899a,#778597,#748194,#727d92,#6f7a8f,#6d768c,#6a738a,#686f88,#656c85,#636983,#616681,#5f637f,#5d607d,#5b5e7b,#595b79,#575877,#555675,#535373,#525271,#50506e,#4e4e6c,#4d4d6a,#4b4b68,#4a4a66,#484864,#474762,#454560,#44445e,#43435c,#41415a,#404058,#3f3f57,#3e3e55,#3c3c53,#3b3b52,#3a3a50,#39394f,#38384d,#37374c,#36364a,#353549,#343447,#333346,#323245,#313143,#303042,#2f2f41,#2e2e40,#2d2d3e,#2c2c3d,#2c2c3c,#2b2b3b,#2a2a3a,#292939,#282838,#282837,#272736,#262635,#252534,#252533,#242432,#232331,#232330,#22222f,#22222e,#21212e,#20202d,#20202c,#1f1f2b,#1f1f2a,#1e1e2a,#1e1e29,#1d1d28,#1d1d28,#1c1c27,#1c1c26,#1b1b26,#1b1b25,#1b1b25,#1a1a24,#1a1a24,#191923,#191923,#191922,#181822,#181821)"></i>
<i style="background:linear-gradient(90deg,#7d8d9d,#7d8d9d,#899da8,#98b2b8,#a6c5c6,#b0cdcd,#aecccc,#a4c3c4,#99b3b9,#8fa6af,#8da2ac,#92aab2,#9fbcbf,#b1cdcd,#c4d9d9,#cee0e0,#d0e1e1,#c8dcdc,#bad3d3,#aac9c9,#a0bdc0,#9cb7bb,#9db9bd,#a4c3c4,#b2cece,#c3d9d9,#d2e2e2,#dce9e9,#e0ebeb,#deeaea,#d6e5e5,#cbdede,#bcd5d5,#aecbcb,#a3c1c3,#9db9bd,#9ab5ba,#9bb7bb,#9fbcbf,#a5c5c5,#b0cdcd,#bbd4d4,#c6dbdb,#cfe0e0,#d5e4e4,#d9e7e7,#dae7e7,#d8e6e6,#d3e3e3,#ccdfdf,#c4d9d9,#bad3d3,#b0cdcd,#a6c5c6,#9fbcbf,#99b4b9,#94adb4,#90a7b0,#8da3ad,#8ca1ac,#8ca2ac,#8ea4ad,#90a7b0,#94adb4,#99b3b8,#9ebabd,#a3c1c3,#a9c8c8,#b1cece,#bad3d3,#c2d8d8,#c9dddd,#d0e1e1,#d6e5e5,#dce9e9,#e1ecec,#e5eeee,#e8f0f0,#ebf2f2,#edf3f3,#eef4f4,#eef4f4,#eef4f4,#edf4f4,#ecf3f3,#eaf2f2,#e8f0f0,#e5efef,#e2eded,#dfeaea,#dbe8e8,#d7e5e5,#d2e2e2,#cddfdf,#c9dcdc,#c3d9d9,#bed6d6,#b9d2d2,#b4cfcf,#aecbcb,#a8c8c8,#a5c3c4,#a1bec1,#9dbabd,#9ab5ba,#96b0b6,#93abb3,#90a6af,#8ca2ac,#899da9,#8699a6,#8294a2,#7f909f,#7c8c9c,#798899,#768496,#748094,#717c91,#6e788e,#6c758c,#697189,#676e87,#646b84,#626882,#606580,#5e627e,#5c5f7c,#5a5c7a,#585978,#565776,#545474,#525272,#51516f,#4f4f6d,#4d4d6b,#4c4c69,#4a4a66,#494964,#474762,#464661,#45455f,#43435d,#42425b,#414159,#404058,#3e3e56,#3d3d55,#3c3c53,#3b3b52,#3a3a50,#39394f,#38384d,#37374c,#36364a,#353549,#343448,#333347,#323245,#313144,#313143,#303042,#2f2f41,#2e2e40,#2d2d3e,#2c2c3d,#2c2c3c,#2b2b3b,#2a2a3a,#292939,#292938,#282837,#272736,#272735,#262635,#252534,#252533,#242432,#242431,#232330,#22222f,#22222f,#21212e,#21212d,#20202c,#20202c,#1f1f2b,#1f1f2a,#1e1e2a,#1e1e29,#1d1d28,#1d1d28,#1c1c27,#1c1c26,#1b1b26,#1b1b25,#1b1b25,#1a1a24,#1a1a24,#191923,#191923)"></i>
<i style="background:linear-gradient(90deg,#879aa6,#93acb3,#a0bdc0,#a9c8c8,#aac9c9,#a3c1c3,#98b2b8,#8da4ad,#889ca8,#8ba0ab,#95aeb5,#a4c2c4,#b7d1d1,#c6dbdb,#ccdede,#c8dcdc,#bdd5d5,#adcbcb,#a1bfc1,#9bb5ba,#99b4b9,#9ebabe,#a7c7c7,#b8d2d2,#c9dddd,#d6e5e5,#deeaea,#e0ebeb,#dce9e9,#d3e3e3,#c6dbdb,#b7d1d1,#a9c8c8,#a1bfc1,#9cb8bc,#9bb6bb,#9db9bd,#a2c0c2,#aac9c9,#b6d0d0,#c2d8d8,#ccdede,#d4e4e4,#dae7e7,#dde9e9,#dce9e9,#dae7e7,#d4e4e4,#cddfdf,#c4dada,#bad3d3,#afcccc,#a6c5c5,#9fbbbf,#99b3b9,#94acb4,#90a7b0,#8da3ad,#8ca1ac,#8ca2ac,#8ea4ae,#91a8b1,#94adb4,#99b3b9,#9ebabe,#a3c1c3,#a9c8c8,#b1cdcd,#b9d2d2,#c1d7d7,#c8dcdc,#cfe0e0,#d5e4e4,#dae7e7,#dfeaea,#e3eded,#e6efef,#e9f1f1,#ebf2f2,#ecf3f3,#edf3f3,#edf3f3,#ecf3f3,#ebf2f2,#eaf1f1,#e8f0f0,#e5efef,#e2eded,#dfebeb,#dce9e9,#d8e6e6,#d4e3e3,#cfe1e1,#cbdede,#c6dbdb,#c1d8d8,#bcd4d4,#b7d1d1,#b2cece,#accaca,#a7c7c7,#a4c2c4,#a0bdc0,#9db9bd,#99b4b9,#96afb6,#92aab2,#8fa6af,#8ca1ac,#899da8,#8598a5,#8294a2,#7f909f,#7c8b9c,#798799,#768396,#737f93,#717c90,#6e788e,#6b748b,#697189,#666d86,#646a84,#626781,#5f647f,#5d617d,#5b5e7b,#595b79,#575877,#555675,#535373,#515170,#50506e,#4e4e6c,#4c4c69,#4b4b67,#494965,#484863,#464661,#45455f,#44445d,#42425c,#41415a,#404058,#3f3f57,#3e3e55,#3d3d54,#3b3b52,#3a3a51,#39394f,#38384e,#37374d,#36364b,#36364a,#353549,#343448,#333346,#323245,#313144,#313143,#303042,#2f2f41,#2e2e40,#2d2d3f,#2d2d3e,#2c2c3d,#2b2b3c,#2b2b3b,#2a2a3a,#292939,#292938,#282837,#272737,#272736,#262635,#262634,#252533,#252532,#242432,#232331,#232330,#22222f,#22222f,#21212e,#21212d,#20202d,#20202c,#1f1f2b,#1f1f2b,#1e1e2a,#1e1e29,#1e1e29,#1d1d28,#1d1d28,#1c1c27,#1c1c27,#1b1b26,#1b1b25,#1b1b25,#1a1a24)"></i>
<i style="background:linear-gradient(90deg,#a0bdc0,#a6c5c6,#a7c6c7,#a1bfc1,#97b1b7,#8ca1ac,#8497a4,#8497a4,#8da2ac,#9ab5ba,#a9c9c9,#bbd4d4,#c5dada,#c6dada,#bed5d5,#b0cdcd,#a3c1c2,#9ab5ba,#96afb6,#98b2b8,#a0bcbf,#accaca,#bed5d5,#cddfdf,#d9e7e7,#deeaea,#deeaea,#d8e6e6,#cddfdf,#c0d7d7,#b2cece,#a6c5c5,#9fbcbf,#9cb7bc,#9cb8bc,#9fbcbf,#a5c4c5,#afcccc,#bcd4d4,#c7dcdc,#d1e2e2,#d9e7e7,#deeaea,#e0ebeb,#dfebeb,#dce8e8,#d6e5e5,#cee0e0,#c5dada,#bad3d3,#afcccc,#a5c4c5,#9fbbbf,#99b3b9,#94acb4,#90a7b0,#8ea4ae,#8da2ad,#8da3ad,#8fa5af,#92a9b1,#95aeb5,#9ab4b9,#9ebbbe,#a3c2c3,#a9c8c8,#b1cece,#b9d2d2,#c0d7d7,#c7dcdc,#cee0e0,#d4e3e3,#d9e7e7,#ddeaea,#e1ecec,#e4eeee,#e7f0f0,#e9f1f1,#eaf2f2,#ebf2f2,#ebf2f2,#ebf2f2,#eaf1f1,#e8f1f1,#e7efef,#e4eeee,#e2ecec,#dfebeb,#dce9e9,#d8e6e6,#d4e4e4,#d0e1e1,#ccdfdf,#c8dcdc,#c3d9d9,#bed6d6,#b9d3d3,#b4cfcf,#afcccc,#aac9c9,#a6c5c6,#a3c1c2,#9fbcbf,#9cb7bc,#99b3b8,#95aeb5,#92aab2,#8fa5af,#8ba1ab,#889ca8,#8598a5,#8294a2,#7f8f9f,#7c8b9c,#798799,#768396,#737f93,#717c90,#6e788e,#6b748b,#697189,#666d86,#646a84,#616781,#5f647f,#5d617d,#5b5e7b,#595b79,#575877,#555575,#535372,#515170,#4f4f6d,#4e4e6b,#4c4c69,#4a4a67,#494964,#474762,#464660,#44445e,#43435d,#42425b,#404059,#3f3f57,#3e3e56,#3d3d54,#3c3c53,#3b3b51,#3a3a50,#39394e,#38384d,#37374c,#36364a,#353549,#343448,#333347,#323246,#323244,#313143,#303042,#2f2f41,#2f2f40,#2e2e3f,#2d2d3e,#2d2d3e,#2c2c3d,#2b2b3c,#2b2b3b,#2a2a3a,#292939,#292938,#282838,#282837,#272736,#272735,#262635,#262634,#252533,#242432,#242432,#232331,#232330,#232330,#22222f,#22222e,#21212e,#21212d,#20202d,#20202c,#1f1f2b,#1f1f2b,#1f1f2a,#1e1e2a,#1e1e29,#1d1d29,#1d1d28,#1d1d28,#1c1c27,#1c1c26,#1b1b26)"></i>
<i style="background:linear-gradient(90deg,#a9c8c8,#a2bfc1,#97b1b7,#8ba0ab,#8193a1,#7f8f9f,#8598a5,#91a9b1,#a0bdc0,#b0cdcd,#bdd5d5,#c1d8d8,#bcd5d5,#b1cdcd,#a4c2c3,#9ab5ba,#94acb4,#93abb3,#98b3b8,#a2c0c2,#b1cdcd,#c3d9d9,#d1e2e2,#dae7e7,#dde9e9,#dae8e8,#d3e3e3,#c7dbdb,#b9d3d3,#abcaca,#a2c0c2,#9db9bd,#9bb7bb,#9db9bd,#a1bfc1,#a8c8c8,#b5d0d0,#c1d8d8,#ccdfdf,#d6e5e5,#dde9e9,#e1ecec,#e3eded,#e1ecec,#dde9e9,#d7e5e5,#cee0e0,#c5dada,#bad3d3,#afcccc,#a5c4c5,#9fbbbf,#99b3b9,#94adb4,#91a8b1,#8ea5ae,#8ea4ae,#8ea5ae,#90a7b0,#93abb3,#97b0b6,#9bb6bb,#a0bdbf,#a5c3c4,#abc9c9,#b3cece,#bad3d3,#c1d8d8,#c8dcdc,#cee0e0,#d3e3e3,#d8e6e6,#dde9e9,#e0ebeb,#e3eded,#e6efef,#e7f0f0,#e9f1f1,#e9f1f1,#e9f1f1,#e9f1f1,#e8f0f0,#e7f0f0,#e5efef,#e3eded,#e1ecec,#deeaea,#dbe8e8,#d8e6e6,#d4e4e4,#d0e1e1,#ccdfdf,#c8dcdc,#c4d9d9,#bfd6d6,#bbd4d4,#b6d1d1,#b1cdcd,#accaca,#a7c7c7,#a4c3c4,#a1bfc1,#9ebabe,#9bb6bb,#98b1b7,#94adb4,#91a9b1,#8ea4ae,#8ba0ab,#889ca8,#8598a5,#8293a2,#7f8f9f,#7c8b9c,#798799,#768496,#748093,#717c91,#6e788e,#6c758b,#697189,#676e86,#646a84,#626782,#60647f,#5d617d,#5b5e7b,#595b79,#575877,#555675,#535373,#515170,#4f4f6e,#4e4e6b,#4c4c69,#4a4a67,#494964,#474762,#464660,#44445e,#43435c,#41415a,#404059,#3f3f57,#3e3e55,#3c3c53,#3b3b52,#3a3a50,#39394f,#38384d,#37374c,#36364b,#353549,#343448,#333347,#333346,#323245,#313144,#303043,#2f2f41,#2f2f40,#2e2e40,#2d2d3f,#2d2d3e,#2c2c3d,#2b2b3c,#2b2b3b,#2a2a3a,#2a2a39,#292939,#282838,#282837,#272736,#272736,#262635,#262634,#252534,#252533,#242432,#242432,#232331,#232330,#232330,#22222f,#22222f,#21212e,#21212d,#21212d,#20202c,#20202c,#1f1f2b,#1f1f2b,#1f1f2a,#1e1e2a,#1e1e29,#1e1e29,#1d1d28,#1d1d28,#1d1d27,#1c1c27)"></i>
<i style="background:linear-gradient(90deg,#9ab4ba,#8ca1ab,#8091a0,#7b8a9b,#7f8f9e,#899ea9,#98b2b8,#a5c4c5,#b4cfcf,#bbd4d4,#bad3d3,#b0cdcd,#a4c3c4,#9ab5ba,#92aab2,#8fa6af,#92aab2,#9ab5ba,#a5c4c5,#b6d1d1,#c7dbdb,#d3e3e3,#d9e7e7,#dae8e8,#d5e4e4,#ccdfdf,#bfd7d7,#b2cece,#a6c5c5,#9fbcbf,#9bb6bb,#9bb6bb,#9ebabe,#a3c2c3,#adcbcb,#b9d3d3,#c6dbdb,#d1e2e2,#dae7e7,#e0ebeb,#e4eeee,#e5eeee,#e3eded,#deeaea,#d7e6e6,#cfe0e0,#c5dada,#bad3d3,#afcccc,#a5c4c5,#9fbcbf,#99b4b9,#95aeb5,#91a9b1,#8fa6af,#8fa5af,#90a7b0,#92a9b2,#95adb4,#98b2b8,#9db8bc,#a1bfc1,#a6c6c6,#adcbcb,#b5d0d0,#bcd4d4,#c3d9d9,#c9dddd,#cfe0e0,#d4e4e4,#d9e7e7,#dde9e9,#e0ebeb,#e3eded,#e5eeee,#e7efef,#e8f0f0,#e8f0f0,#e8f0f0,#e8f0f0,#e7f0f0,#e5efef,#e4eeee,#e2ecec,#dfebeb,#dde9e9,#dae7e7,#d7e5e5,#d3e3e3,#d0e1e1,#ccdede,#c8dcdc,#c4d9d9,#bfd7d7,#bbd4d4,#b7d1d1,#b2cece,#adcbcb,#a9c8c8,#a5c4c5,#a2c0c2,#9fbcbf,#9cb8bc,#99b4b9,#96afb6,#93abb3,#90a7b0,#8da3ad,#8a9faa,#879ba7,#8497a4,#8193a1,#7f8f9f,#7c8b9c,#798799,#768496,#748094,#717c91,#6f798e,#6c758c,#6a7289,#676e87,#656b85,#626882,#606580,#5e627e,#5c5f7c,#5a5c7a,#585978,#565676,#545474,#525271,#50506e,#4e4e6c,#4c4c6a,#4b4b67,#494965,#484863,#464661,#45455f,#43435d,#42425b,#404059,#3f3f57,#3e3e55,#3d3d54,#3b3b52,#3a3a50,#39394f,#38384d,#37374c,#36364a,#353549,#343448,#333347,#323245,#313144,#313143,#303042,#2f2f41,#2e2e40,#2d2d3f,#2d2d3e,#2c2c3d,#2b2b3c,#2b2b3b,#2a2a3a,#2a2a39,#292939,#282838,#282837,#272736,#272736,#262635,#262634,#252533,#252533,#242432,#242432,#232331,#232330,#232330,#22222f,#22222f,#21212e,#21212e,#21212d,#20202d,#20202c,#20202c,#1f1f2b,#1f1f2b,#1f1f2a,#1e1e2a,#1e1e29,#1e1e29,#1d1d28,#1d1d28,#1d1d28,#1c1c27)"></i>
<i style="background:linear-gradient(90deg,#8294a2,#7a889a,#7b899a,#8396a3,#91a8b1,#9ebbbe,#aac9c9,#b4cfcf,#b5d0d0,#afcccc,#a4c3c4,#9ab5ba,#91a9b1,#8ca1ac,#8ca2ac,#92aab2,#9cb8bc,#a9c8c8,#bbd4d4,#cadddd,#d3e3e3,#d7e6e6,#d6e5e5,#cfe0e0,#c4d9d9,#b7d1d1,#a9c9c9,#a1bfc1,#9cb7bc,#99b4b9,#9bb5ba,#9fbbbf,#a5c4c5,#b1cdcd,#bed5d5,#cadddd,#d5e4e4,#ddeaea,#e3eded,#e6efef,#e6efef,#e3eded,#deeaea,#d7e6e6,#cee0e0,#c4dada,#bad3d3,#afcccc,#a5c4c5,#9fbcbf,#9ab4b9,#95aeb5,#92aab2,#91a8b0,#90a7b0,#91a9b1,#93acb3,#97b0b6,#9ab5ba,#9fbbbe,#a3c2c3,#a8c8c8,#b0cdcd,#b7d1d1,#bed6d6,#c5dada,#cbdede,#d1e1e1,#d6e5e5,#dae7e7,#deeaea,#e1ecec,#e3eded,#e5efef,#e6efef,#e7f0f0,#e8f0f0,#e7f0f0,#e7f0f0,#e6efef,#e4eeee,#e3eded,#e1ecec,#deeaea,#dce8e8,#d9e7e7,#d6e5e5,#d2e2e2,#cfe0e0,#cbdede,#c7dbdb,#c3d9d9,#bfd6d6,#bbd4d4,#b7d1d1,#b2cece,#aecbcb,#a9c9c9,#a6c5c6,#a3c1c3,#a0bdc0,#9db9bd,#9ab5ba,#97b1b7,#94adb4,#92a9b1,#8fa5af,#8ca1ac,#899da9,#869aa6,#8496a3,#8192a1,#7e8e9e,#7b8b9b,#798799,#768396,#748094,#717c91,#6f798f,#6c768c,#6a728a,#686f87,#656c85,#636983,#616681,#5f637f,#5d607c,#5a5d7a,#585a78,#565876,#555574,#535372,#515170,#4f4f6d,#4d4d6b,#4c4c68,#4a4a66,#484864,#474762,#454560,#44445e,#42425c,#41415a,#404058,#3e3e56,#3d3d54,#3c3c53,#3b3b51,#3a3a4f,#38384e,#37374c,#36364b,#35354a,#343448,#333347,#323246,#313144,#313143,#303042,#2f2f41,#2e2e40,#2d2d3f,#2d2d3e,#2c2c3d,#2b2b3c,#2b2b3b,#2a2a3a,#292939,#292938,#282837,#272736,#272736,#262635,#262634,#252533,#252533,#242432,#242431,#232331,#232330,#222230,#22222f,#22222e,#21212e,#21212d,#20202d,#20202c,#20202c,#1f1f2b,#1f1f2b,#1f1f2a,#1e1e2a,#1e1e2a,#1e1e29,#1d1d29,#1d1d28,#1d1d28,#1d1d27,#1c1c27,#1c1c27)"></i>
<i style="background:linear-gradient(90deg,#7c8b9c,#8192a1,#8ca2ac,#99b4b9,#a4c3c4,#aecbcb,#b1cdcd,#accaca,#a4c2c3,#9ab5ba,#90a7b0,#899ea9,#879ba7,#8ba0ab,#94adb4,#a0bdc0,#aecccc,#bfd6d6,#cbdede,#d2e3e3,#d4e3e3,#cfe1e1,#c7dbdb,#bbd4d4,#aecbcb,#a3c2c3,#9db8bc,#99b3b8,#98b2b8,#9ab5ba,#a0bdc0,#a7c7c7,#b4cfcf,#c2d8d8,#cee0e0,#d8e6e6,#e0ebeb,#e5eeee,#e7f0f0,#e7f0f0,#e4eeee,#deeaea,#d7e5e5,#cddfdf,#c3d9d9,#b9d2d2,#aecbcb,#a5c4c5,#9fbcbf,#9ab4ba,#96afb6,#93abb3,#92a9b2,#92a9b2,#93abb3,#95aeb5,#98b3b8,#9cb8bc,#a1bec1,#a5c5c5,#accaca,#b3cfcf,#bad3d3,#c1d8d8,#c8dcdc,#cee0e0,#d3e3e3,#d8e6e6,#dce9e9,#dfebeb,#e2eded,#e4eeee,#e6efef,#e7f0f0,#e8f0f0,#e8f0f0,#e8f0f0,#e7f0f0,#e6efef,#e4eeee,#e2eded,#e0ebeb,#deeaea,#dbe8e8,#d8e6e6,#d5e4e4,#d1e2e2,#cee0e0,#cadddd,#c6dbdb,#c2d8d8,#bed6d6,#bad3d3,#b6d1d1,#b2cece,#aecbcb,#a9c8c8,#a6c5c6,#a3c1c3,#a0bdc0,#9dbabd,#9bb6bb,#98b2b8,#95aeb5,#92aab2,#90a7b0,#8da3ad,#8a9faa,#889ba7,#8598a5,#8294a2,#8090a0,#7d8d9d,#7b899b,#788698,#768396,#737f93,#717c91,#6f798e,#6c768c,#6a728a,#686f88,#656c85,#636983,#616681,#5f647f,#5d617d,#5b5e7b,#595b79,#575977,#555675,#545473,#525271,#50506f,#4e4e6c,#4d4d6a,#4b4b68,#494965,#484863,#464661,#45455f,#44445d,#42425b,#414159,#3f3f58,#3e3e56,#3d3d54,#3c3c52,#3a3a51,#39394f,#38384e,#37374c,#36364b,#353549,#343448,#333346,#323245,#313144,#303043,#2f2f41,#2f2f40,#2e2e3f,#2d2d3e,#2c2c3d,#2b2b3c,#2b2b3b,#2a2a3a,#292939,#292938,#282837,#272736,#272736,#262635,#262634,#252533,#252533,#242432,#242431,#232330,#232330,#22222f,#22222f,#21212e,#21212d,#20202d,#20202c,#20202c,#1f1f2b,#1f1f2b,#1f1f2a,#1e1e2a,#1e1e29,#1e1e29,#1d1d28,#1d1d28,#1d1d28,#1c1c27,#1c1c27,#1c1c26,#1b1b26)"></i>
<i style="background:linear-gradient(90deg,#8da3ad,#97b1b7,#a1bfc1,#a9c8c8,#adcbcb,#aac9c9,#a3c1c3,#9ab4b9,#90a6af,#879ba7,#8396a3,#8598a5,#8ca2ac,#97b1b7,#a4c2c3,#b3cfcf,#c2d8d8,#ccdede,#d0e1e1,#cee0e0,#c8dcdc,#bed6d6,#b1cece,#a5c4c5,#9ebabe,#98b2b8,#96afb6,#97b0b6,#9bb6ba,#a1bfc1,#aac9c9,#b8d2d2,#c5dada,#d1e2e2,#dae8e8,#e2ecec,#e6efef,#e8f0f0,#e7efef,#e3eded,#dde9e9,#d5e4e4,#ccdfdf,#c2d8d8,#b7d1d1,#adcbcb,#a4c3c4,#9fbbbe,#9ab4ba,#96afb6,#94acb4,#93abb3,#93abb3,#94adb4,#97b1b7,#9ab5ba,#9ebbbe,#a3c1c3,#a8c7c7,#afcccc,#b7d1d1,#bed5d5,#c4dada,#cbdede,#d1e1e1,#d6e5e5,#dae8e8,#deeaea,#e1ecec,#e4eeee,#e6efef,#e8f0f0,#e9f1f1,#e9f1f1,#e9f1f1,#e8f1f1,#e8f0f0,#e6efef,#e4eeee,#e2eded,#e0ebeb,#ddeaea,#dbe8e8,#d8e6e6,#d4e4e4,#d1e2e2,#cddfdf,#cadddd,#c6dbdb,#c2d8d8,#bed6d6,#bad3d3,#b6d0d0,#b1cece,#adcbcb,#a9c8c8,#a6c5c6,#a3c1c3,#a0bdc0,#9ebabd,#9bb6bb,#98b2b8,#95aeb5,#93abb3,#90a7b0,#8ea4ad,#8ba0ab,#889ca8,#8699a6,#8395a3,#8192a1,#7e8f9e,#7c8b9c,#798899,#778597,#758195,#727e92,#707b90,#6e788e,#6c758c,#6a728a,#686f87,#656c85,#636983,#616781,#5f647f,#5d617d,#5c5f7b,#5a5c7a,#585978,#565776,#545574,#535372,#515170,#4f4f6d,#4e4e6b,#4c4c69,#4b4b67,#494965,#484863,#464661,#45455f,#43435d,#42425b,#414159,#3f3f57,#3e3e56,#3d3d54,#3c3c52,#3b3b51,#39394f,#38384e,#37374c,#36364b,#353549,#343448,#333347,#323245,#313144,#303043,#303042,#2f2f40,#2e2e3f,#2d2d3e,#2c2c3d,#2b2b3c,#2b2b3b,#2a2a3a,#292939,#292938,#282837,#272736,#272735,#262635,#262634,#252533,#242432,#242431,#232331,#232330,#22222f,#22222f,#21212e,#21212d,#20202d,#20202c,#20202c,#1f1f2b,#1f1f2b,#1e1e2a,#1e1e29,#1e1e29,#1d1d28,#1d1d28,#1d1d28,#1c1c27,#1c1c27,#1c1c26,#1b1b26,#1b1b25)"></i>
<i style="background:linear-gradient(90deg,#a3c2c3,#a8c8c8,#abcaca,#a8c8c8,#a2c0c2,#99b4b9,#8fa6af,#8699a6,#8091a0,#8091a0,#8598a5,#8fa6af,#9bb7bb,#a7c7c7,#b8d2d2,#c4d9d9,#cadddd,#cbdede,#c7dcdc,#bfd6d6,#b4cfcf,#a7c7c7,#9fbcbf,#98b2b8,#94adb4,#93abb3,#96afb6,#9bb6bb,#a2c0c2,#adcbcb,#bbd4d4,#c8dcdc,#d3e3e3,#dce9e9,#e3eded,#e7efef,#e7f0f0,#e6efef,#e1ecec,#dbe8e8,#d3e3e3,#cadddd,#c0d7d7,#b5d0d0,#abc9c9,#a3c2c3,#9ebabe,#99b4b9,#96afb6,#94adb4,#93acb3,#94adb4,#96afb6,#99b3b9,#9cb8bc,#a0bec0,#a5c4c5,#abc9c9,#b2cece,#bad3d3,#c1d8d8,#c8dcdc,#cee0e0,#d4e3e3,#d9e7e7,#dde9e9,#e1ecec,#e4eeee,#e7efef,#e9f1f1,#eaf2f2,#ebf2f2,#ebf2f2,#ebf2f2,#eaf2f2,#e9f1f1,#e7f0f0,#e6efef,#e3eded,#e1ecec,#deeaea,#dbe8e8,#d8e6e6,#d5e4e4,#d1e2e2,#cddfdf,#c9dddd,#c6dada,#c2d8d8,#bed5d5,#b9d3d3,#b5d0d0,#b1cdcd,#adcbcb,#a9c8c8,#a5c5c5,#a3c1c3,#a0bdc0,#9db9bd,#9bb6bb,#98b2b8,#95aeb5,#93abb3,#90a7b0,#8ea4ae,#8ba0ab,#899da9,#8699a6,#8496a4,#8193a1,#7f8f9f,#7d8c9c,#7a899a,#788698,#768396,#748093,#717d91,#6f7a8f,#6d778d,#6b748b,#697189,#676e87,#656c85,#636983,#616681,#5f647f,#5d617d,#5c5f7c,#5a5c7a,#585a78,#565776,#555575,#535373,#525271,#50506e,#4e4e6c,#4d4d6a,#4b4b68,#4a4a66,#484864,#474762,#464660,#44445e,#43435d,#42425b,#414159,#3f3f57,#3e3e56,#3d3d54,#3c3c53,#3b3b51,#3a3a50,#39394e,#37374d,#36364b,#35354a,#343448,#343447,#333346,#323245,#313143,#303042,#2f2f41,#2e2e40,#2d2d3f,#2d2d3e,#2c2c3d,#2b2b3c,#2a2a3b,#2a2a3a,#292939,#282838,#282837,#272736,#262635,#262634,#252533,#252533,#242432,#242431,#232330,#222230,#22222f,#21212e,#21212e,#20202d,#20202c,#20202c,#1f1f2b,#1f1f2a,#1e1e2a,#1e1e29,#1e1e29,#1d1d28,#1d1d28,#1c1c27,#1c1c27,#1c1c26,#1b1b26,#1b1b25)"></i>
<i style="background:linear-gradient(90deg,#b1cdcd,#aac9c9,#a3c1c2,#99b4b9,#8fa6af,#8598a5,#7e8e9e,#7c8b9c,#7f909f,#889ca8,#94acb3,#a0bdc0,#adcbcb,#bbd4d4,#c4d9d9,#c7dcdc,#c6dada,#bfd6d6,#b5d0d0,#a9c8c8,#a0bdc0,#99b3b8,#93abb3,#91a8b0,#91a9b1,#95aeb5,#9cb7bc,#a4c3c4,#b0cdcd,#bed6d6,#cbdede,#d5e4e4,#deeaea,#e3eded,#e6efef,#e6efef,#e4eeee,#dfebeb,#d9e7e7,#d0e1e1,#c7dbdb,#bdd5d5,#b2cece,#a8c8c8,#a2c0c2,#9db9bd,#99b3b9,#96afb6,#94adb4,#94adb4,#95aeb5,#97b1b7,#9ab5ba,#9ebabe,#a2c0c2,#a7c6c7,#aecbcb,#b6d0d0,#bdd5d5,#c4dada,#cbdede,#d1e2e2,#d7e5e5,#dce9e9,#e0ebeb,#e4eeee,#e7f0f0,#e9f1f1,#ebf2f2,#ecf3f3,#edf4f4,#edf4f4,#edf3f3,#ecf3f3,#ebf2f2,#e9f1f1,#e7f0f0,#e5eeee,#e2eded,#dfebeb,#dce9e9,#d9e7e7,#d5e5e5,#d2e2e2,#cee0e0,#cadddd,#c6dbdb,#c2d8d8,#bed5d5,#bad3d3,#b5d0d0,#b1cdcd,#adcbcb,#a9c8c8,#a5c4c5,#a3c1c3,#a0bdc0,#9db9bd,#9bb6ba,#98b2b8,#95aeb5,#93abb3,#90a7b0,#8ea4ae,#8ba0ab,#899da9,#869aa6,#8496a4,#8293a1,#7f909f,#7d8d9d,#7b8a9b,#788698,#768396,#748094,#727e92,#707b90,#6e788e,#6c758c,#6a728a,#687088,#666d86,#646a84,#626882,#616580,#5f637f,#5d617d,#5b5e7b,#5a5c7a,#585a78,#565776,#555575,#535373,#525271,#50506f,#4f4f6d,#4d4d6b,#4c4c69,#4b4b67,#494965,#484863,#474761,#454560,#44445e,#43435c,#42425a,#404059,#3f3f57,#3e3e56,#3d3d54,#3c3c53,#3b3b51,#3a3a50,#39394e,#38384d,#37374c,#36364a,#353549,#343448,#333346,#323245,#313144,#303043,#303042,#2f2f41,#2e2e40,#2d2d3e,#2c2c3d,#2c2c3c,#2b2b3b,#2a2a3a,#2a2a39,#292939,#282838,#282837,#272736,#262635,#262634,#252533,#252533,#242432,#242431,#232330,#222230,#22222f,#21212e,#21212e,#20202d,#20202c,#20202c,#1f1f2b,#1f1f2a,#1e1e2a,#1e1e29,#1d1d29,#1d1d28,#1d1d28,#1c1c27,#1c1c27,#1c1c26)"></i>
<i style="background:linear-gradient(90deg,#a7c7c7,#9cb7bb,#90a7b0,#8598a5,#7c8c9c,#798798,#7a899a,#8293a2,#8da2ac,#99b3b9,#a4c3c4,#b2cece,#bcd5d5,#c2d8d8,#c2d8d8,#bed6d6,#b6d0d0,#aac9c9,#a1bec1,#99b3b9,#92aab2,#8ea5ae,#8ea4ad,#90a7b0,#95aeb5,#9db9bd,#a6c5c6,#b3cfcf,#c1d7d7,#cddfdf,#d7e5e5,#deeaea,#e3eded,#e5efef,#e5eeee,#e2ecec,#dce9e9,#d5e5e5,#cddfdf,#c3d9d9,#b9d3d3,#afcccc,#a6c6c6,#a1bec0,#9cb7bc,#98b2b8,#96afb5,#94adb4,#94adb4,#96afb6,#98b2b8,#9bb7bb,#9fbcbf,#a4c2c4,#a9c8c8,#b1cdcd,#b8d2d2,#c0d7d7,#c7dbdb,#cee0e0,#d4e4e4,#dae7e7,#dfeaea,#e3eded,#e7efef,#eaf1f1,#ecf3f3,#eef4f4,#eff5f5,#f0f5f5,#f0f5f5,#eff5f5,#eef4f4,#edf4f4,#ebf3f3,#e9f1f1,#e7f0f0,#e4eeee,#e1ecec,#deeaea,#dbe8e8,#d7e5e5,#d3e3e3,#cfe1e1,#cbdede,#c7dbdb,#c3d9d9,#bfd6d6,#bad3d3,#b6d1d1,#b2cece,#adcbcb,#a9c8c8,#a6c5c5,#a3c1c3,#a0bdc0,#9db9bd,#9bb6bb,#98b2b8,#95aeb5,#93abb3,#90a7b0,#8ea4ae,#8ba0ab,#899da9,#869aa6,#8496a4,#8293a1,#7f909f,#7d8d9d,#7b8a9b,#798798,#768496,#748194,#727e92,#707b90,#6e788e,#6c768c,#6a738a,#697088,#676e87,#656b85,#636983,#616781,#60647f,#5e627e,#5c607c,#5b5d7b,#595b79,#575977,#565776,#545574,#535373,#525271,#50506f,#4f4f6d,#4d4d6b,#4c4c69,#4b4b67,#494965,#484864,#474762,#464660,#45455f,#43435d,#42425b,#41415a,#404058,#3f3f57,#3e3e55,#3d3d54,#3c3c53,#3b3b51,#3a3a50,#39394e,#38384d,#37374c,#36364b,#353549,#343448,#333347,#333346,#323245,#313144,#303042,#2f2f41,#2f2f40,#2e2e3f,#2d2d3e,#2c2c3d,#2c2c3c,#2b2b3b,#2a2a3a,#2a2a3a,#292939,#282838,#282837,#272736,#272735,#262634,#252534,#252533,#242432,#242431,#232331,#232330,#22222f,#22222f,#21212e,#21212d,#20202d,#20202c,#1f1f2b,#1f1f2b,#1f1f2a,#1e1e2a,#1e1e29,#1d1d28,#1d1d28,#1d1d27)"></i>
<i style="background:linear-gradient(90deg,#94adb4,#879aa7,#7c8c9c,#778497,#778497,#7d8c9d,#879aa6,#92aab2,#9ebabe,#a9c8c8,#b5d0d0,#bcd5d5,#bfd6d6,#bcd4d4,#b5d0d0,#abc9c9,#a2bfc1,#99b4b9,#92aab2,#8da3ad,#8a9faa,#8ba0ab,#8fa6af,#96afb6,#9ebbbe,#a7c7c7,#b6d0d0,#c3d9d9,#cee0e0,#d8e6e6,#deeaea,#e2eded,#e3eded,#e2eded,#dfeaea,#d9e7e7,#d1e2e2,#c9dddd,#bfd6d6,#b5d0d0,#abcaca,#a4c3c4,#9fbbbf,#9ab5ba,#97b1b7,#95aeb5,#94acb4,#94adb4,#96afb6,#99b3b9,#9cb8bc,#a0bec0,#a5c4c5,#abcaca,#b3cfcf,#bbd4d4,#c2d8d8,#cadddd,#d0e1e1,#d7e5e5,#dce9e9,#e1ecec,#e6efef,#e9f1f1,#ecf3f3,#eff5f5,#f1f6f6,#f2f7f7,#f2f7f7,#f2f7f7,#f2f7f7,#f1f6f6,#f0f5f5,#eef4f4,#ecf3f3,#e9f1f1,#e7efef,#e3eded,#e0ebeb,#dde9e9,#d9e7e7,#d5e4e4,#d1e2e2,#cddfdf,#c9dcdc,#c4dada,#c0d7d7,#bcd4d4,#b7d1d1,#b3cfcf,#aecccc,#aac9c9,#a6c6c6,#a3c2c3,#a1bec0,#9ebabe,#9bb6bb,#98b2b8,#96afb6,#93abb3,#90a8b0,#8ea4ae,#8ba1ab,#899da9,#869aa6,#8496a4,#8293a2,#7f909f,#7d8d9d,#7b8a9b,#798799,#778496,#748194,#727e92,#707b90,#6e798e,#6d768c,#6b738a,#697189,#676e87,#656c85,#636983,#626782,#606580,#5e627e,#5d607d,#5b5e7b,#5a5c7a,#585a78,#575877,#555675,#545474,#525272,#515170,#50506e,#4e4e6c,#4d4d6a,#4c4c69,#4b4b67,#494965,#484864,#474762,#464660,#45455f,#44445d,#42425c,#41415a,#404059,#3f3f57,#3e3e56,#3d3d55,#3c3c53,#3b3b52,#3a3a51,#3a3a4f,#39394e,#38384d,#37374c,#36364b,#353549,#343448,#343447,#333346,#323245,#313144,#303043,#303042,#2f2f41,#2e2e40,#2e2e3f,#2d2d3e,#2c2c3d,#2c2c3c,#2b2b3b,#2a2a3a,#2a2a3a,#292939,#292938,#282837,#272736,#272736,#262635,#262634,#252533,#252533,#242432,#242431,#232330,#232330,#22222f,#22222e,#21212e,#21212d,#20202d,#20202c,#1f1f2b,#1f1f2b,#1f1f2a,#1e1e2a,#1e1e29)"></i>
<i style="background:linear-gradient(90deg,#8192a0,#788698,#768396,#7a889a,#8294a2,#8da3ad,#99b3b9,#a3c1c3,#aecbcb,#b7d1d1,#bad3d3,#b9d3d3,#b4cfcf,#abc9c9,#a2c0c2,#9ab5ba,#92aab2,#8ca1ac,#889ca8,#879ba7,#8a9faa,#8fa6af,#97b1b7,#a0bdc0,#aac9c9,#b8d2d2,#c5dada,#d0e1e1,#d8e6e6,#deeaea,#e1ecec,#e1ecec,#dfebeb,#dbe8e8,#d5e4e4,#cddfdf,#c4dada,#bbd3d3,#b1cdcd,#a7c7c7,#a2bfc1,#9db8bc,#99b3b8,#96afb5,#94acb4,#93acb3,#94adb4,#96b0b6,#99b4b9,#9db9bd,#a1bfc1,#a6c5c6,#adcbcb,#b5d0d0,#bdd5d5,#c5dada,#ccdede,#d3e3e3,#d9e7e7,#dfeaea,#e4eeee,#e8f0f0,#ecf3f3,#eff5f5,#f1f6f6,#f3f7f7,#f4f8f8,#f5f9f9,#f5f9f9,#f5f8f8,#f4f8f8,#f2f7f7,#f1f6f6,#eef4f4,#ecf3f3,#e9f1f1,#e6efef,#e3eded,#dfebeb,#dbe8e8,#d7e6e6,#d3e3e3,#cfe1e1,#cbdede,#c7dbdb,#c2d8d8,#bed5d5,#b9d3d3,#b5d0d0,#b0cdcd,#abcaca,#a7c7c7,#a4c3c4,#a1bfc1,#9fbbbe,#9cb7bc,#99b3b9,#96b0b6,#94acb3,#91a8b1,#8ea5ae,#8ca1ac,#899ea9,#879aa7,#8497a4,#8294a2,#80909f,#7d8d9d,#7b8a9b,#798799,#778497,#758194,#737e92,#717c90,#6f798e,#6d768c,#6b748b,#697189,#676e87,#656c85,#646a83,#626782,#606580,#5f637e,#5d617d,#5b5e7b,#5a5c7a,#585a78,#575877,#565675,#545474,#535372,#515171,#50506f,#4f4f6d,#4e4e6b,#4c4c6a,#4b4b68,#4a4a66,#494965,#484863,#474761,#464660,#44445f,#43435d,#42425c,#41415a,#404059,#3f3f58,#3e3e56,#3d3d55,#3d3d54,#3c3c52,#3b3b51,#3a3a50,#39394f,#38384e,#37374c,#37374b,#36364a,#353549,#343448,#333347,#333346,#323245,#313144,#313143,#303042,#2f2f41,#2f2f40,#2e2e3f,#2d2d3f,#2d2d3e,#2c2c3d,#2b2b3c,#2b2b3b,#2a2a3a,#2a2a3a,#292939,#292938,#282837,#272736,#272736,#262635,#262634,#252534,#252533,#242432,#242432,#232331,#232330,#232330,#22222f,#22222e,#21212e,#21212d,#20202d,#20202c,#20202c,#1f1f2b)"></i>
<i style="background:linear-gradient(90deg,#7a8899,#7a899a,#8091a0,#8a9faa,#95aeb5,#9fbcbf,#a8c7c7,#b1cdcd,#b6d1d1,#b6d1d1,#b2cece,#aac9c9,#a2c0c2,#9ab5ba,#92aab2,#8ba0ab,#8699a6,#8496a4,#8598a5,#899ea9,#90a7b0,#99b3b9,#a2c0c2,#aecbcb,#bbd4d4,#c7dbdb,#d1e1e1,#d8e6e6,#dde9e9,#dfeaea,#deeaea,#dbe8e8,#d6e5e5,#d0e1e1,#c8dcdc,#bfd6d6,#b5d0d0,#accaca,#a4c3c4,#9fbbbf,#9ab5ba,#96b0b6,#94acb4,#93abb3,#93abb3,#94acb4,#96b0b6,#99b4b9,#9db9bd,#a2c0c2,#a7c6c7,#aecccc,#b7d1d1,#bfd6d6,#c6dbdb,#cee0e0,#d5e4e4,#dbe8e8,#e1ecec,#e6efef,#eaf2f2,#eef4f4,#f1f6f6,#f3f8f8,#f5f9f9,#f7fafa,#f7fafa,#f7fafa,#f7fafa,#f6f9f9,#f5f9f9,#f3f7f7,#f1f6f6,#eff5f5,#ecf3f3,#e9f1f1,#e5efef,#e2ecec,#deeaea,#dae8e8,#d6e5e5,#d2e2e2,#cddfdf,#c9dddd,#c5dada,#c0d7d7,#bbd4d4,#b7d1d1,#b2cece,#aecbcb,#a9c8c8,#a5c5c5,#a3c1c2,#a0bdc0,#9db9bd,#9ab5ba,#97b1b7,#94adb4,#92a9b2,#8fa6af,#8ca2ac,#8a9faa,#879ba7,#8598a5,#8294a2,#8091a0,#7e8e9e,#7b8b9b,#798899,#778597,#758295,#737f93,#717c91,#6f798f,#6d768d,#6b748b,#697189,#676f87,#656c85,#646a84,#626782,#606580,#5f637f,#5d617d,#5c5f7b,#5a5d7a,#595a78,#575877,#565776,#545574,#535373,#525271,#50506f,#4f4f6d,#4e4e6c,#4d4d6a,#4c4c68,#4a4a67,#494965,#484864,#474762,#464661,#45455f,#44445e,#43435c,#42425b,#41415a,#404058,#3f3f57,#3e3e56,#3d3d55,#3c3c53,#3c3c52,#3b3b51,#3a3a50,#39394f,#38384e,#38384d,#37374c,#36364b,#35354a,#353549,#343448,#333347,#323246,#323245,#313144,#303043,#303042,#2f2f41,#2f2f40,#2e2e3f,#2d2d3f,#2d2d3e,#2c2c3d,#2c2c3c,#2b2b3b,#2a2a3b,#2a2a3a,#292939,#292938,#282838,#282837,#272736,#272736,#262635,#262634,#252534,#252533,#252532,#242432,#242431,#232331,#232330,#22222f,#22222f,#22222e,#21212e,#21212d,#20202d)"></i>
<i style="background:linear-gradient(90deg,#8497a4,#8ba0ab,#94acb4,#9db9bd,#a5c4c5,#adcbcb,#b3cece,#b4cfcf,#b0cdcd,#a9c8c8,#a2c0c2,#9ab5ba,#92aab2,#8a9faa,#8497a4,#8192a1,#8192a1,#8496a4,#8a9eaa,#92a9b2,#9bb6bb,#a4c3c4,#b1cdcd,#bdd5d5,#c8dcdc,#d1e2e2,#d7e6e6,#dbe8e8,#dce9e9,#dbe8e8,#d7e6e6,#d2e2e2,#cbdede,#c2d8d8,#b9d3d3,#b0cdcd,#a7c6c7,#a1bec1,#9cb7bc,#98b1b7,#94adb4,#92aab2,#91a9b1,#92a9b2,#93acb3,#96afb6,#99b4b9,#9ebabe,#a2c0c2,#a7c7c7,#b0cccc,#b8d2d2,#c0d7d7,#c8dcdc,#cfe1e1,#d6e5e5,#dce9e9,#e2eded,#e7f0f0,#ecf3f3,#f0f5f5,#f3f7f7,#f5f9f9,#f7fafa,#f9fbfb,#f9fbfb,#fafcfc,#f9fbfb,#f8fbfb,#f7fafa,#f6f9f9,#f3f8f8,#f1f6f6,#eef4f4,#ebf2f2,#e8f0f0,#e5eeee,#e1ecec,#dde9e9,#d9e7e7,#d5e4e4,#d0e1e1,#ccdede,#c7dcdc,#c3d9d9,#bed6d6,#b9d3d3,#b5d0d0,#b0cdcd,#abcaca,#a7c7c7,#a4c3c4,#a1bfc1,#9ebbbe,#9bb7bb,#99b3b8,#96afb6,#93abb3,#90a7b0,#8ea4ad,#8ba0ab,#889ca8,#8699a6,#8396a3,#8192a1,#7f8f9e,#7c8c9c,#7a889a,#788598,#758295,#737f93,#717d91,#6f7a8f,#6d778d,#6b748b,#697289,#686f87,#666d86,#646a84,#626882,#616580,#5f637f,#5d617d,#5c5f7c,#5a5d7a,#595b79,#575977,#565776,#545574,#535373,#525271,#50506f,#4f4f6d,#4e4e6c,#4d4d6a,#4c4c68,#4a4a67,#494965,#484864,#474762,#464661,#45455f,#44445e,#43435d,#42425b,#41415a,#404059,#3f3f58,#3f3f56,#3e3e55,#3d3d54,#3c3c53,#3b3b52,#3a3a51,#3a3a4f,#39394e,#38384d,#37374c,#37374b,#36364a,#353549,#343448,#343448,#333347,#323246,#323245,#313144,#313143,#303042,#2f2f41,#2f2f41,#2e2e40,#2e2e3f,#2d2d3e,#2d2d3e,#2c2c3d,#2b2b3c,#2b2b3b,#2a2a3b,#2a2a3a,#292939,#292939,#282838,#282837,#282837,#272736,#272735,#262635,#262634,#252534,#252533,#242432,#242432,#242431,#232331,#232330,#222230,#22222f,#22222f,#21212e)"></i>
<i style="background:linear-gradient(90deg,#98b2b8,#9ebbbe,#a5c4c5,#accaca,#b1cdcd,#b2cece,#afcccc,#a9c8c8,#a2c0c2,#9ab5ba,#92aab2,#8a9faa,#8395a3,#7f8f9f,#7d8d9d,#7f909f,#8496a4,#8ba0ab,#94acb4,#9db9bd,#a6c6c6,#b4cfcf,#c0d7d7,#cadddd,#d1e2e2,#d6e5e5,#d9e7e7,#d9e7e7,#d6e5e5,#d2e2e2,#ccdfdf,#c5dada,#bcd5d5,#b3cfcf,#aac9c9,#a3c1c3,#9ebabd,#99b3b9,#95aeb5,#92aab2,#90a7b0,#90a7b0,#91a8b1,#93abb2,#96afb5,#99b4b9,#9ebabe,#a3c1c3,#a8c8c8,#b0cdcd,#b9d2d2,#c1d7d7,#c9dcdc,#d0e1e1,#d7e6e6,#deeaea,#e3eded,#e9f1f1,#edf4f4,#f1f6f6,#f4f8f8,#f7fafa,#f9fbfb,#fafcfc,#fbfcfc,#fbfdfd,#fbfdfd,#fafcfc,#f9fbfb,#f8fafa,#f6f9f9,#f3f8f8,#f1f6f6,#eef4f4,#ebf2f2,#e7f0f0,#e3eded,#e0ebeb,#dce8e8,#d7e6e6,#d3e3e3,#cfe0e0,#cadddd,#c6dbdb,#c1d8d8,#bcd5d5,#b8d2d2,#b3cfcf,#aecccc,#aac9c9,#a6c5c6,#a3c1c3,#a0bdc0,#9db9bd,#9ab5ba,#97b1b7,#95adb4,#92a9b2,#8fa6af,#8ca2ac,#8a9eaa,#879ba7,#8597a4,#8294a2,#8090a0,#7d8d9d,#7b8a9b,#798798,#768496,#748194,#727e92,#707b90,#6e788e,#6c758c,#6a728a,#687088,#666d86,#646b84,#636883,#616681,#5f647f,#5e617d,#5c5f7c,#5a5d7a,#595b79,#575977,#565776,#555574,#535373,#525271,#51516f,#4f4f6e,#4e4e6c,#4d4d6a,#4c4c69,#4b4b67,#494965,#484864,#474762,#464661,#45455f,#44445e,#43435d,#42425b,#41415a,#404059,#3f3f58,#3f3f56,#3e3e55,#3d3d54,#3c3c53,#3b3b52,#3a3a51,#3a3a50,#39394f,#38384e,#38384d,#37374c,#36364b,#35354a,#353549,#343448,#333347,#333346,#323245,#323244,#313144,#303043,#303042,#2f2f41,#2f2f41,#2e2e40,#2e2e3f,#2d2d3e,#2d2d3e,#2c2c3d,#2c2c3c,#2b2b3b,#2b2b3b,#2a2a3a,#2a2a3a,#292939,#292938,#282838,#282837,#272736,#272736,#272735,#262635,#262634,#252534,#252533,#252532,#242432,#242431,#232331,#232330,#232330,#22222f,#22222f)"></i>
<i style="background:linear-gradient(90deg,#accaca,#b0cdcd,#b2cece,#b2cece,#afcccc,#a9c8c8,#a2c0c2,#9bb6ba,#92aab2,#8a9eaa,#8294a2,#7d8d9d,#7a899a,#7b8a9b,#7f8f9e,#8598a5,#8da3ad,#96b0b6,#a0bdc0,#aac9c9,#b7d1d1,#c1d8d8,#cadddd,#d1e1e1,#d4e4e4,#d6e5e5,#d5e4e4,#d2e2e2,#cddfdf,#c6dbdb,#bed6d6,#b6d0d0,#adcbcb,#a5c4c5,#9fbcbf,#9ab5ba,#95aeb5,#92aab2,#8fa6af,#8ea4ae,#8ea5ae,#8fa6af,#92a9b2,#95aeb5,#99b4b9,#9ebabe,#a3c1c3,#a8c8c8,#b1cdcd,#b9d3d3,#c2d8d8,#c9dddd,#d1e2e2,#d8e6e6,#deeaea,#e4eeee,#e9f1f1,#eef4f4,#f2f7f7,#f5f9f9,#f8fafa,#fafcfc,#fbfdfd,#fcfdfd,#fdfefe,#fdfefe,#fcfdfd,#fbfcfc,#fafcfc,#f8fafa,#f5f9f9,#f3f7f7,#f0f6f6,#edf4f4,#eaf1f1,#e6efef,#e2eded,#deeaea,#dae8e8,#d6e5e5,#d2e2e2,#cddfdf,#c9dcdc,#c4d9d9,#bfd7d7,#bbd4d4,#b6d1d1,#b1cece,#adcbcb,#a8c8c8,#a5c4c5,#a2c0c2,#9fbcbf,#9cb8bc,#99b4b9,#96b0b6,#93acb3,#91a8b1,#8ea4ae,#8ba1ab,#899da9,#8699a6,#8496a3,#8192a1,#7f8f9f,#7c8c9c,#7a889a,#788598,#758295,#737f93,#717c91,#6f798f,#6d778d,#6b748b,#697189,#676e87,#656c85,#636983,#626781,#606580,#5e627e,#5d607c,#5b5e7b,#595c79,#585a78,#565776,#555575,#545473,#525272,#515170,#50506e,#4e4e6c,#4d4d6a,#4c4c69,#4b4b67,#4a4a66,#484864,#474762,#464661,#454560,#44445e,#43435d,#42425b,#41415a,#404059,#3f3f58,#3f3f56,#3e3e55,#3d3d54,#3c3c53,#3b3b52,#3a3a51,#3a3a50,#39394f,#38384e,#38384d,#37374c,#36364b,#35354a,#353549,#343448,#343447,#333346,#323245,#323245,#313144,#313143,#303042,#2f2f41,#2f2f41,#2e2e40,#2e2e3f,#2d2d3f,#2d2d3e,#2c2c3d,#2c2c3d,#2b2b3c,#2b2b3b,#2a2a3b,#2a2a3a,#2a2a39,#292939,#292938,#282838,#282837,#272736,#272736,#272735,#262635,#262634,#252534,#252533,#252533,#242432,#242432,#242431,#232331,#232330,#232330,#22222f)"></i>
<i style="background:linear-gradient(90deg,#bcd4d4,#b7d1d1,#b2cece,#aac9c9,#a3c1c3,#9bb6bb,#93abb2,#8a9faa,#8294a2,#7c8b9c,#788698,#778597,#7a899a,#7f909f,#879ba7,#90a7b0,#99b4b9,#a3c1c3,#adcbcb,#b9d3d3,#c3d9d9,#cadede,#d0e1e1,#d2e2e2,#d2e3e3,#d1e1e1,#cddfdf,#c7dbdb,#c0d7d7,#b8d2d2,#afcccc,#a6c6c6,#a1bec0,#9bb6bb,#96afb6,#92aab2,#8fa5af,#8da3ad,#8ca2ac,#8da2ac,#8ea5ae,#91a8b1,#94adb4,#99b3b9,#9ebabd,#a3c1c3,#a9c8c8,#b1cdcd,#bad3d3,#c2d8d8,#cadddd,#d1e2e2,#d8e6e6,#dfebeb,#e5eeee,#eaf2f2,#eff5f5,#f3f7f7,#f6f9f9,#f9fbfb,#fbfcfc,#fcfdfd,#fdfefe,#fefefe,#fefefe,#fdfefe,#fcfdfd,#fbfcfc,#f9fbfb,#f7fafa,#f5f8f8,#f2f7f7,#eff5f5,#ecf3f3,#e8f1f1,#e5eeee,#e1ecec,#dde9e9,#d9e7e7,#d4e4e4,#d0e1e1,#ccdede,#c7dbdb,#c2d8d8,#bed5d5,#b9d3d3,#b4d0d0,#b0cdcd,#abcaca,#a7c6c7,#a4c2c4,#a1bec1,#9ebabe,#9bb6bb,#98b2b8,#95afb5,#93abb3,#90a7b0,#8da3ad,#8b9faa,#889ca8,#8598a5,#8395a3,#8091a0,#7e8e9e,#7c8b9b,#798899,#778497,#758195,#727e92,#707b90,#6e788e,#6c768c,#6a738a,#687088,#666d86,#646b84,#636883,#616681,#5f647f,#5d617d,#5c5f7c,#5a5d7a,#595b79,#575877,#565675,#545474,#535372,#515170,#50506f,#4f4f6d,#4d4d6b,#4c4c69,#4b4b68,#4a4a66,#494964,#484863,#464661,#454560,#44445e,#43435d,#42425c,#41415a,#404059,#404058,#3f3f56,#3e3e55,#3d3d54,#3c3c53,#3b3b52,#3a3a51,#3a3a50,#39394f,#38384e,#37374d,#37374c,#36364b,#35354a,#353549,#343448,#333347,#333346,#323245,#323245,#313144,#303043,#303042,#2f2f41,#2f2f41,#2e2e40,#2e2e3f,#2d2d3f,#2d2d3e,#2c2c3d,#2c2c3d,#2b2b3c,#2b2b3b,#2a2a3b,#2a2a3a,#2a2a39,#292939,#292938,#282838,#282837,#272737,#272736,#272735,#262635,#262634,#262634,#252533,#252533,#252532,#242432,#242432,#242431,#232331,#232330,#232330,#22222f)"></i>
<i style="background:linear-gradient(90deg,#bcd4d4,#b0cdcd,#a5c4c5,#9db8bc,#94acb3,#8a9faa,#8294a2,#7b8a9b,#768396,#748194,#768396,#7b899a,#8293a1,#8a9faa,#93acb3,#9db8bd,#a6c5c5,#b1cdcd,#bcd4d4,#c4d9d9,#cadddd,#cee0e0,#cfe1e1,#cfe0e0,#ccdede,#c7dbdb,#c1d7d7,#b9d3d3,#b1cdcd,#a8c7c7,#a2c0c2,#9cb8bc,#97b0b7,#92aab2,#8ea5ae,#8ca1ac,#8a9faa,#8a9faa,#8ba0ab,#8da3ad,#90a7b0,#94acb4,#98b3b8,#9db9bd,#a3c1c3,#a9c8c8,#b1cece,#bad3d3,#c2d8d8,#cadddd,#d2e2e2,#d9e7e7,#dfebeb,#e5eeee,#eaf2f2,#eff5f5,#f3f7f7,#f6f9f9,#f9fbfb,#fbfdfd,#fdfefe,#fefefe,#ffffff,#ffffff,#fefefe,#fdfefe,#fcfdfd,#fbfcfc,#f9fbfb,#f6f9f9,#f4f8f8,#f1f6f6,#eef4f4,#eaf2f2,#e7f0f0,#e3eded,#dfebeb,#dbe8e8,#d7e5e5,#d3e3e3,#cee0e0,#cadddd,#c5dada,#c1d7d7,#bcd4d4,#b8d2d2,#b3cfcf,#aecccc,#aac9c9,#a6c5c6,#a3c1c3,#a0bdc0,#9db9bd,#9ab5ba,#98b1b7,#95aeb5,#92aab2,#8fa6af,#8da2ac,#8a9faa,#879ba7,#8598a5,#8294a2,#8091a0,#7d8d9d,#7b8a9b,#798799,#768496,#748194,#727e92,#707b90,#6e788e,#6c758c,#6a728a,#686f88,#666d86,#646a84,#626882,#606580,#5f637f,#5d617d,#5b5e7b,#5a5c7a,#585a78,#575876,#555675,#545474,#525272,#515170,#4f4f6e,#4e4e6c,#4d4d6a,#4c4c68,#4a4a67,#494965,#484864,#474762,#464660,#45455f,#44445d,#43435c,#42425b,#414159,#404058,#3f3f57,#3e3e56,#3d3d54,#3c3c53,#3b3b52,#3b3b51,#3a3a50,#39394f,#38384e,#37374d,#37374c,#36364b,#35354a,#353549,#343448,#333347,#333346,#323245,#323244,#313144,#303043,#303042,#2f2f41,#2f2f40,#2e2e40,#2e2e3f,#2d2d3e,#2d2d3e,#2c2c3d,#2c2c3c,#2b2b3c,#2b2b3b,#2a2a3a,#2a2a3a,#292939,#292939,#292938,#282837,#282837,#272736,#272736,#272735,#262635,#262634,#262634,#252533,#252533,#242432,#242432,#242431,#232331,#232331,#232330,#232330,#22222f,#22222f)"></i>
<i style="background:linear-gradient(90deg,#aecbcb,#a0bec0,#96afb6,#8ca1ac,#8395a2,#7b8a9b,#758295,#727e92,#737f93,#778496,#7d8c9d,#8598a5,#8ea4ae,#97b1b7,#a0bdc0,#a9c8c8,#b4cfcf,#bed5d5,#c5dada,#c9dddd,#ccdede,#ccdfdf,#cadddd,#c6dbdb,#c1d7d7,#bad3d3,#b2cece,#a9c8c8,#a3c1c3,#9db9bd,#98b1b7,#93abb2,#8ea5ae,#8ba0ab,#899da9,#889ca8,#889ca8,#899ea9,#8ca1ac,#8fa6af,#93abb3,#98b2b8,#9db9bd,#a3c1c2,#a9c8c8,#b1cece,#bad3d3,#c2d8d8,#cadddd,#d2e2e2,#d9e7e7,#dfebeb,#e5eeee,#eaf2f2,#eff5f5,#f3f7f7,#f6f9f9,#f9fbfb,#fbfdfd,#fdfefe,#fefefe,#ffffff,#ffffff,#ffffff,#fefefe,#fdfefe,#fbfdfd,#fafcfc,#f7fafa,#f5f9f9,#f2f7f7,#eff5f5,#ecf3f3,#e8f1f1,#e5eeee,#e1ecec,#dde9e9,#d9e7e7,#d5e4e4,#d1e2e2,#ccdfdf,#c8dcdc,#c3d9d9,#bfd6d6,#bad3d3,#b6d0d0,#b1cece,#adcbcb,#a8c8c8,#a5c4c5,#a2c0c2,#9fbcbf,#9cb8bc,#9ab4ba,#97b0b7,#94adb4,#91a9b1,#8fa5af,#8ca2ac,#899ea9,#879aa7,#8497a4,#8294a2,#7f909f,#7d8d9d,#7b8a9b,#788698,#768396,#748094,#727d92,#707a90,#6e778d,#6c758b,#6a7289,#686f87,#666d86,#646a84,#626782,#606580,#5e637e,#5d607d,#5b5e7b,#595c79,#585a78,#565776,#555575,#535373,#525271,#51516f,#4f4f6d,#4e4e6c,#4d4d6a,#4b4b68,#4a4a66,#494965,#484863,#474761,#454560,#44445e,#43435d,#42425c,#41415a,#404059,#3f3f57,#3e3e56,#3d3d55,#3d3d54,#3c3c52,#3b3b51,#3a3a50,#39394f,#38384e,#38384d,#37374c,#36364b,#35354a,#353549,#343448,#333347,#333346,#323245,#323244,#313144,#303043,#303042,#2f2f41,#2f2f40,#2e2e40,#2e2e3f,#2d2d3e,#2d2d3d,#2c2c3d,#2c2c3c,#2b2b3b,#2b2b3b,#2a2a3a,#2a2a3a,#292939,#292938,#282838,#282837,#282837,#272736,#272736,#262635,#262635,#262634,#252534,#252533,#252533,#242432,#242432,#242431,#232331,#232330,#232330,#22222f,#22222f,#22222f,#21212e)"></i>
<i style="background:linear-gradient(90deg,#9cb8bc,#90a6af,#8597a5,#7c8b9c,#758295,#717d91,#717c91,#738093,#798799,#8091a0,#899da9,#92aab2,#9bb6bb,#a4c2c4,#adcbcb,#b7d1d1,#bfd6d6,#c5dada,#c8dcdc,#c9dddd,#c8dcdc,#c5dada,#c1d7d7,#bad3d3,#b3cfcf,#abc9c9,#a4c2c4,#9ebabe,#98b2b8,#93abb3,#8ea5ae,#8a9faa,#889ba7,#8699a6,#8598a5,#8699a6,#889ca8,#8b9faa,#8ea5ae,#93abb3,#98b2b8,#9db9bd,#a2c0c2,#a8c8c8,#b1cece,#bad3d3,#c2d8d8,#cadddd,#d1e2e2,#d8e6e6,#dfeaea,#e5eeee,#eaf2f2,#eef4f4,#f2f7f7,#f6f9f9,#f9fbfb,#fbfcfc,#fdfefe,#fefefe,#ffffff,#ffffff,#ffffff,#fefefe,#fdfefe,#fcfdfd,#fafcfc,#f8fbfb,#f6f9f9,#f3f7f7,#f0f6f6,#edf4f4,#eaf2f2,#e6efef,#e3eded,#dfebeb,#dbe8e8,#d7e6e6,#d3e3e3,#cfe0e0,#cadddd,#c6dbdb,#c2d8d8,#bdd5d5,#b9d2d2,#b4cfcf,#b0cdcd,#abcaca,#a7c7c7,#a4c3c4,#a1bfc1,#9fbbbe,#9cb7bc,#99b3b9,#96b0b6,#94acb3,#91a8b1,#8ea5ae,#8ca1ac,#899da9,#879aa6,#8497a4,#8293a2,#7f909f,#7d8d9d,#7b899a,#788698,#768396,#748094,#727d92,#707a8f,#6e778d,#6c758b,#6a7289,#686f87,#666d86,#646a84,#626782,#606580,#5f637e,#5d607d,#5b5e7b,#5a5c79,#585a78,#565776,#555575,#535373,#525271,#51516f,#4f4f6d,#4e4e6c,#4d4d6a,#4b4b68,#4a4a66,#494965,#484863,#464661,#454560,#44445e,#43435d,#42425b,#41415a,#404059,#3f3f57,#3e3e56,#3d3d55,#3c3c53,#3b3b52,#3b3b51,#3a3a50,#39394f,#38384e,#37374c,#37374b,#36364a,#353549,#343448,#343447,#333346,#323246,#323245,#313144,#303043,#303042,#2f2f41,#2f2f40,#2e2e40,#2e2e3f,#2d2d3e,#2d2d3d,#2c2c3d,#2c2c3c,#2b2b3b,#2b2b3b,#2a2a3a,#2a2a39,#292939,#292938,#282838,#282837,#272736,#272736,#272735,#262635,#262634,#252534,#252533,#252533,#242432,#242432,#242431,#232331,#232330,#232330,#222230,#22222f,#22222f,#22222e,#21212e,#21212d)"></i>
<i style="background:linear-gradient(90deg,#8ba0ab,#7f909f,#778497,#727d92,#707b90,#727d91,#768396,#7d8d9d,#8598a5,#8ea4ae,#97b0b7,#9fbcbf,#a7c7c7,#b1cece,#bad3d3,#c0d7d7,#c4dada,#c6dbdb,#c6dbdb,#c4d9d9,#c0d7d7,#bad3d3,#b3cfcf,#abcaca,#a4c3c4,#9fbbbf,#99b3b9,#93acb3,#8ea5ae,#8a9faa,#879aa6,#8497a4,#8395a3,#8395a3,#8496a4,#869aa6,#899ea9,#8ea4ad,#92aab2,#97b1b7,#9db9bd,#a2c0c2,#a8c8c8,#b1cdcd,#bad3d3,#c2d8d8,#cadddd,#d1e2e2,#d8e6e6,#deeaea,#e4eeee,#e9f1f1,#eef4f4,#f2f7f7,#f5f9f9,#f8fbfb,#fbfcfc,#fcfdfd,#fefefe,#feffff,#ffffff,#ffffff,#fefefe,#fdfefe,#fcfdfd,#fafcfc,#f8fbfb,#f6f9f9,#f4f8f8,#f1f6f6,#eef4f4,#ebf2f2,#e7f0f0,#e4eeee,#e0ebeb,#dce9e9,#d9e7e7,#d5e4e4,#d0e1e1,#ccdfdf,#c8dcdc,#c4d9d9,#bfd7d7,#bbd4d4,#b7d1d1,#b2cece,#aecbcb,#aac9c9,#a6c5c6,#a3c2c3,#a0bec0,#9ebabe,#9bb6bb,#98b2b8,#96afb6,#93abb3,#90a8b0,#8ea4ae,#8ba0ab,#899da9,#869aa6,#8496a4,#8193a1,#7f909f,#7d8c9d,#7a899a,#788698,#768396,#748094,#727d92,#707a90,#6e788e,#6c758c,#6a728a,#686f88,#666d86,#646a84,#626882,#606580,#5f637f,#5d617d,#5b5e7b,#5a5c7a,#585a78,#575877,#555675,#545474,#525272,#515170,#4f4f6e,#4e4e6c,#4d4d6a,#4c4c68,#4a4a67,#494965,#484863,#474762,#464660,#44445e,#43435d,#42425b,#41415a,#404059,#3f3f57,#3e3e56,#3d3d55,#3c3c53,#3b3b52,#3b3b51,#3a3a50,#39394f,#38384d,#37374c,#37374b,#36364a,#353549,#343448,#343447,#333346,#323245,#323244,#313144,#303043,#303042,#2f2f41,#2e2e40,#2e2e3f,#2d2d3f,#2d2d3e,#2c2c3d,#2c2c3c,#2b2b3c,#2b2b3b,#2a2a3a,#2a2a3a,#292939,#292938,#282838,#282837,#272736,#272736,#272735,#262635,#262634,#252534,#252533,#252533,#242432,#242432,#242431,#232331,#232330,#232330,#22222f,#22222f,#22222e,#21212e,#21212e,#21212d,#20202d)"></i>
<i style="background:linear-gradient(90deg,#7d8d9d,#758295,#717d91,#727d91,#758295,#7b8a9b,#8294a2,#8ba0ab,#93acb3,#9cb7bc,#a4c2c3,#accaca,#b5d0d0,#bcd4d4,#c1d7d7,#c3d9d9,#c4d9d9,#c2d8d8,#bfd6d6,#bad3d3,#b4cfcf,#accaca,#a5c4c5,#9fbcbf,#9ab4b9,#94acb4,#8fa5ae,#8a9eaa,#8699a6,#8395a3,#8192a1,#8091a0,#8192a1,#8294a2,#8598a5,#899da8,#8da3ad,#92a9b2,#97b1b7,#9db8bc,#a2c0c2,#a8c8c8,#b1cdcd,#bad3d3,#c2d8d8,#cadddd,#d1e2e2,#d8e6e6,#deeaea,#e4eeee,#e9f1f1,#edf4f4,#f1f6f6,#f5f8f8,#f7fafa,#fafcfc,#fcfdfd,#fdfefe,#fefefe,#fefefe,#fefefe,#fefefe,#fdfefe,#fcfdfd,#fafcfc,#f8fbfb,#f6f9f9,#f4f8f8,#f1f6f6,#eef4f4,#ebf3f3,#e8f0f0,#e5eeee,#e1ecec,#deeaea,#dae7e7,#d6e5e5,#d2e2e2,#cee0e0,#cadddd,#c6dbdb,#c1d8d8,#bdd5d5,#b9d2d2,#b5d0d0,#b0cdcd,#accaca,#a8c8c8,#a5c4c5,#a2c0c2,#a0bcbf,#9db9bd,#9ab5ba,#98b1b7,#95aeb5,#92aab2,#90a7b0,#8da3ad,#8ba0ab,#889da8,#8699a6,#8496a4,#8193a1,#7f8f9f,#7d8c9d,#7a899a,#788698,#768396,#748094,#727d92,#707b90,#6e788e,#6c758c,#6a728a,#687088,#666d86,#646b84,#636882,#616681,#5f647f,#5d617d,#5c5f7c,#5a5d7a,#595b79,#575877,#565675,#545474,#535372,#515170,#50506e,#4f4f6c,#4d4d6b,#4c4c69,#4b4b67,#494965,#484864,#474762,#464661,#45455f,#44445e,#43435c,#42425b,#414159,#404058,#3f3f56,#3e3e55,#3d3d54,#3c3c53,#3b3b51,#3a3a50,#39394f,#38384e,#38384d,#37374c,#36364a,#353549,#343448,#343447,#333346,#323245,#323245,#313144,#303043,#303042,#2f2f41,#2e2e40,#2e2e3f,#2d2d3f,#2d2d3e,#2c2c3d,#2c2c3c,#2b2b3c,#2b2b3b,#2a2a3a,#2a2a39,#292939,#292938,#282837,#282837,#272736,#272736,#262635,#262634,#262634,#252533,#252533,#242432,#242432,#242431,#232331,#232330,#232330,#22222f,#22222f,#22222e,#21212e,#21212d,#21212d,#20202d,#20202c)"></i>
<i style="background:linear-gradient(90deg,#788598,#758295,#768496,#7b8a9b,#8193a1,#899da9,#91a9b1,#99b4b9,#a1bec1,#a8c8c8,#b1cdcd,#b8d2d2,#bdd5d5,#c0d7d7,#c1d8d8,#c1d7d7,#bed6d6,#b9d3d3,#b4cfcf,#accaca,#a5c5c5,#a0bdc0,#9ab5ba,#94adb4,#8fa5af,#8a9eaa,#8598a5,#8293a2,#7f909f,#7e8e9e,#7e8e9e,#7f8f9f,#8192a1,#8496a4,#889ca8,#8ca2ac,#92a9b1,#97b1b7,#9db8bc,#a2c0c2,#a8c8c8,#b1cdcd,#b9d3d3,#c2d8d8,#c9dddd,#d0e1e1,#d7e6e6,#ddeaea,#e3eded,#e8f0f0,#ecf3f3,#f0f6f6,#f4f8f8,#f6fafa,#f9fbfb,#fbfcfc,#fcfdfd,#fdfefe,#fdfefe,#fdfefe,#fdfefe,#fcfdfd,#fbfcfc,#fafcfc,#f8fbfb,#f6f9f9,#f4f8f8,#f1f6f6,#eff5f5,#ecf3f3,#e9f1f1,#e5efef,#e2ecec,#deeaea,#dbe8e8,#d7e6e6,#d3e3e3,#cfe1e1,#cbdede,#c7dbdb,#c3d9d9,#bfd6d6,#bbd4d4,#b7d1d1,#b3cece,#aecccc,#aac9c9,#a6c6c6,#a4c2c4,#a1bfc1,#9fbbbe,#9cb8bc,#99b4b9,#97b0b7,#94adb4,#92a9b2,#8fa6af,#8da3ad,#8a9faa,#889ca8,#8699a6,#8396a3,#8192a1,#7f8f9f,#7d8c9d,#7a899a,#788698,#768396,#748094,#727e92,#707b90,#6e788e,#6c758c,#6a738a,#687088,#676e86,#656b85,#636983,#616781,#60647f,#5e627e,#5c607c,#5b5d7b,#595b79,#585978,#565776,#555575,#535373,#525271,#51516f,#4f4f6d,#4e4e6c,#4d4d6a,#4b4b68,#4a4a66,#494965,#484863,#474761,#454560,#44445e,#43435d,#42425b,#41415a,#404059,#3f3f57,#3e3e56,#3d3d55,#3c3c53,#3b3b52,#3b3b51,#3a3a50,#39394e,#38384d,#37374c,#36364b,#36364a,#353549,#343448,#333347,#333346,#323245,#313144,#313143,#303042,#2f2f41,#2f2f41,#2e2e40,#2e2e3f,#2d2d3e,#2c2c3d,#2c2c3d,#2b2b3c,#2b2b3b,#2a2a3a,#2a2a3a,#292939,#292938,#282838,#282837,#272736,#272736,#262635,#262634,#262634,#252533,#252533,#242432,#242432,#242431,#232331,#232330,#222230,#22222f,#22222f,#21212e,#21212e,#21212d,#20202d,#20202c,#20202c)"></i>
<i style="background:linear-gradient(90deg,#7d8d9d,#7f8f9e,#8395a3,#899ea9,#91a8b1,#98b2b8,#9fbcbf,#a6c5c6,#aecbcb,#b5d0d0,#bbd3d3,#bed6d6,#bfd7d7,#bfd6d6,#bdd5d5,#b9d2d2,#b3cfcf,#adcbcb,#a6c5c6,#a0bec0,#9bb6bb,#95aeb5,#8fa6af,#8a9eaa,#8598a5,#8192a1,#7e8e9e,#7c8b9c,#7b8a9b,#7b8b9b,#7d8d9d,#80909f,#8395a3,#879ba7,#8ca2ac,#91a9b1,#97b1b7,#9db8bc,#a2c0c2,#a8c8c8,#b1cdcd,#b9d3d3,#c1d8d8,#c9dddd,#d0e1e1,#d7e5e5,#dde9e9,#e2eded,#e7f0f0,#ebf3f3,#eff5f5,#f3f7f7,#f5f9f9,#f8fafa,#f9fbfb,#fbfcfc,#fcfdfd,#fcfdfd,#fcfdfd,#fcfdfd,#fbfdfd,#fafcfc,#f9fbfb,#f7fafa,#f5f9f9,#f3f8f8,#f1f6f6,#eef4f4,#ebf3f3,#e9f1f1,#e5efef,#e2eded,#dfeaea,#dbe8e8,#d8e6e6,#d4e4e4,#d0e1e1,#ccdfdf,#c8dcdc,#c4dada,#c0d7d7,#bcd5d5,#b8d2d2,#b4cfcf,#b0cdcd,#accaca,#a8c8c8,#a5c4c5,#a3c1c3,#a0bdc0,#9ebabd,#9bb6bb,#99b3b8,#96afb6,#94acb3,#91a9b1,#8fa5af,#8ca2ac,#8a9faa,#889ca8,#8598a5,#8395a3,#8192a1,#7f8f9f,#7d8c9c,#7a899a,#788698,#768396,#748194,#727e92,#707b90,#6e798e,#6c768c,#6b738a,#697189,#676e87,#656c85,#646a83,#626782,#606580,#5f637e,#5d607d,#5b5e7b,#5a5c7a,#585a78,#575877,#555675,#545474,#535372,#515170,#50506e,#4f4f6d,#4d4d6b,#4c4c69,#4b4b67,#4a4a66,#494964,#474763,#464661,#45455f,#44445e,#43435d,#42425b,#41415a,#404058,#3f3f57,#3e3e56,#3d3d54,#3c3c53,#3b3b52,#3a3a51,#3a3a4f,#39394e,#38384d,#37374c,#36364b,#36364a,#353549,#343448,#333347,#333346,#323245,#313144,#313143,#303042,#2f2f41,#2f2f40,#2e2e40,#2d2d3f,#2d2d3e,#2c2c3d,#2c2c3c,#2b2b3c,#2b2b3b,#2a2a3a,#2a2a39,#292939,#292938,#282837,#282837,#272736,#272735,#262635,#262634,#252534,#252533,#252532,#242432,#242431,#232331,#232330,#232330,#22222f,#22222f,#22222e,#21212e,#21212d,#21212d,#20202c,#20202c)"></i>
<i style="background:linear-gradient(90deg,#8a9faa,#8ea4ad,#93abb3,#99b4b9,#9fbcbf,#a5c5c5,#adcbcb,#b4cfcf,#b9d2d2,#bcd5d5,#bed6d6,#bed6d6,#bcd4d4,#b8d2d2,#b3cfcf,#adcbcb,#a6c5c6,#a1bec1,#9bb6bb,#95aeb5,#8fa6af,#8a9faa,#8597a5,#8091a0,#7d8c9d,#7a899a,#798799,#788698,#798899,#7b8b9b,#7f8f9e,#8294a2,#879aa7,#8ca1ac,#91a9b1,#97b1b7,#9db9bd,#a2c0c2,#a9c8c8,#b1cdcd,#b9d3d3,#c1d8d8,#c9dcdc,#d0e1e1,#d6e5e5,#dce9e9,#e1ecec,#e6efef,#eaf2f2,#eef4f4,#f1f6f6,#f4f8f8,#f6fafa,#f8fbfb,#f9fbfb,#fafcfc,#fbfcfc,#fbfcfc,#fbfcfc,#fafcfc,#f9fbfb,#f8fafa,#f6f9f9,#f5f8f8,#f2f7f7,#f0f6f6,#eef4f4,#ebf2f2,#e8f0f0,#e5efef,#e2eded,#dfeaea,#dbe8e8,#d8e6e6,#d4e4e4,#d1e2e2,#cddfdf,#c9dddd,#c5dada,#c1d8d8,#bed5d5,#bad3d3,#b6d0d0,#b2cece,#aecbcb,#aac9c9,#a6c6c6,#a4c2c4,#a1bfc1,#9fbcbf,#9cb8bc,#9ab5ba,#98b1b7,#95aeb5,#93abb3,#90a8b0,#8ea4ae,#8ca1ac,#899ea9,#879ba7,#8598a5,#8395a3,#8192a1,#7f8f9e,#7c8c9c,#7a899a,#788698,#768396,#748194,#727e92,#707b90,#6f798e,#6d768d,#6b748b,#697189,#676f87,#666d86,#646a84,#626882,#616681,#5f647f,#5e617d,#5c5f7c,#5b5d7a,#595b79,#585977,#565776,#555575,#535373,#525271,#515170,#4f4f6e,#4e4e6c,#4d4d6a,#4c4c69,#4b4b67,#494965,#484864,#474762,#464661,#45455f,#44445e,#43435c,#42425b,#41415a,#404058,#3f3f57,#3e3e56,#3d3d54,#3c3c53,#3b3b52,#3a3a51,#3a3a50,#39394e,#38384d,#37374c,#36364b,#36364a,#353549,#343448,#333347,#333346,#323245,#313144,#313143,#303042,#2f2f42,#2f2f41,#2e2e40,#2e2e3f,#2d2d3e,#2c2c3d,#2c2c3d,#2b2b3c,#2b2b3b,#2a2a3a,#2a2a3a,#292939,#292938,#282838,#282837,#272736,#272736,#262635,#262634,#252534,#252533,#252533,#242432,#242431,#232331,#232330,#232330,#22222f,#22222f,#22222e,#21212e,#21212d,#20202d,#20202c)"></i>
<i style="background:linear-gradient(90deg,#9bb6bb,#9ebabe,#a2c0c2,#a7c7c7,#aecbcb,#b4cfcf,#b9d2d2,#bcd4d4,#bdd5d5,#bdd5d5,#bcd4d4,#b8d2d2,#b3cfcf,#adcbcb,#a6c6c6,#a1bfc1,#9cb7bb,#96afb6,#90a7b0,#8a9faa,#8597a5,#8091a0,#7c8b9c,#798799,#778497,#768396,#768396,#788698,#7a899a,#7e8e9e,#8294a2,#879aa7,#8ca2ac,#92a9b2,#97b1b7,#9db9bd,#a3c1c3,#a9c8c8,#b1cece,#b9d3d3,#c1d8d8,#c8dcdc,#cfe1e1,#d6e5e5,#dbe8e8,#e0ecec,#e5efef,#e9f1f1,#edf4f4,#f0f6f6,#f3f7f7,#f5f9f9,#f7fafa,#f8fbfb,#f9fbfb,#f9fbfb,#fafcfc,#f9fbfb,#f9fbfb,#f8fafa,#f7fafa,#f5f9f9,#f3f8f8,#f1f6f6,#eff5f5,#edf3f3,#eaf2f2,#e8f0f0,#e5eeee,#e2ecec,#deeaea,#dbe8e8,#d8e6e6,#d4e4e4,#d1e2e2,#cddfdf,#cadddd,#c6dbdb,#c2d8d8,#bed6d6,#bbd3d3,#b7d1d1,#b3cfcf,#afcccc,#abcaca,#a7c7c7,#a5c4c5,#a2c0c2,#a0bdc0,#9ebabe,#9bb7bb,#99b3b9,#97b0b6,#94adb4,#92aab2,#90a6af,#8da3ad,#8ba0ab,#899da9,#879aa7,#8597a4,#8294a2,#8091a0,#7e8e9e,#7c8c9c,#7a899a,#788698,#768396,#748194,#727e92,#717c91,#6f798f,#6d778d,#6b748b,#6a7289,#686f88,#666d86,#646b84,#636983,#616681,#606480,#5e627e,#5d607d,#5b5e7b,#5a5c7a,#585a78,#575877,#565675,#545474,#535372,#525271,#50506f,#4f4f6d,#4e4e6c,#4d4d6a,#4c4c68,#4a4a67,#494965,#484864,#474762,#464661,#45455f,#44445e,#43435c,#42425b,#41415a,#404058,#3f3f57,#3e3e56,#3d3d55,#3c3c53,#3b3b52,#3b3b51,#3a3a50,#39394f,#38384e,#37374d,#37374b,#36364a,#353549,#343448,#343447,#333347,#323246,#323245,#313144,#303043,#303042,#2f2f41,#2f2f40,#2e2e3f,#2d2d3f,#2d2d3e,#2c2c3d,#2c2c3c,#2b2b3c,#2b2b3b,#2a2a3a,#2a2a39,#292939,#292938,#282837,#282837,#272736,#272735,#262635,#262634,#252534,#252533,#252532,#242432,#242431,#232331,#232330,#232330,#22222f,#22222f,#21212e,#21212e,#21212d)"></i>
<i style="background:linear-gradient(90deg,#accaca,#afcccc,#b3cfcf,#b7d1d1,#bbd4d4,#bdd5d5,#bed6d6,#bed6d6,#bcd4d4,#b9d2d2,#b4cfcf,#aecbcb,#a7c6c7,#a2bfc2,#9cb8bc,#96b0b6,#90a7b0,#8a9faa,#8597a5,#80909f,#7b8a9b,#788597,#758295,#748094,#738093,#748194,#778496,#7a8899,#7d8d9d,#8294a2,#879ba7,#8ca2ac,#92aab2,#98b2b8,#9dbabd,#a3c1c3,#a9c9c9,#b2cece,#bad3d3,#c1d8d8,#c8dcdc,#cfe0e0,#d5e4e4,#dbe8e8,#e0ebeb,#e4eeee,#e8f1f1,#ecf3f3,#eff5f5,#f1f6f6,#f4f8f8,#f5f9f9,#f6fafa,#f7fafa,#f8fafa,#f8fafa,#f8fafa,#f7fafa,#f6f9f9,#f5f9f9,#f4f8f8,#f2f7f7,#f0f6f6,#eef4f4,#ecf3f3,#e9f1f1,#e7efef,#e4eeee,#e1ecec,#deeaea,#dbe8e8,#d7e6e6,#d4e4e4,#d1e2e2,#cddfdf,#cadddd,#c6dbdb,#c2d8d8,#bfd6d6,#bbd4d4,#b7d1d1,#b4cfcf,#b0cdcd,#accaca,#a8c8c8,#a6c5c6,#a3c2c3,#a1bec1,#9fbbbe,#9cb8bc,#9ab5ba,#98b2b8,#95aeb5,#93abb3,#91a8b1,#8fa5af,#8ca2ac,#8a9faa,#889ca8,#8699a6,#8496a4,#8294a2,#8091a0,#7e8e9e,#7c8b9c,#7a899a,#788698,#768396,#748194,#727e92,#717c91,#6f798f,#6d778d,#6b758b,#6a728a,#687088,#666e86,#656b85,#636983,#626782,#606580,#5f637f,#5d617d,#5c5f7c,#5a5d7a,#595b79,#585978,#565776,#555675,#545474,#525272,#515170,#50506e,#4f4f6d,#4e4e6b,#4c4c6a,#4b4b68,#4a4a66,#494965,#484863,#474762,#464661,#45455f,#44445e,#43435c,#42425b,#41415a,#404059,#3f3f57,#3e3e56,#3d3d55,#3d3d54,#3c3c53,#3b3b51,#3a3a50,#39394f,#39394e,#38384d,#37374c,#36364b,#36364a,#353549,#343448,#333347,#333346,#323245,#323244,#313143,#303043,#303042,#2f2f41,#2e2e40,#2e2e3f,#2d2d3f,#2d2d3e,#2c2c3d,#2c2c3c,#2b2b3c,#2b2b3b,#2a2a3a,#2a2a39,#292939,#292938,#282837,#282837,#272736,#272735,#262635,#262634,#252534,#252533,#252533,#242432,#242431,#232331,#232330,#232330,#22222f,#22222f,#22222e)"></i>
<i style="background:linear-gradient(90deg,#c1d7d7,#c0d7d7,#c1d7d7,#c1d8d8,#c1d8d8,#c0d7d7,#bdd5d5,#bad3d3,#b5d0d0,#afcccc,#a7c7c7,#a2c0c2,#9db8bd,#97b0b7,#91a8b1,#8ba0ab,#8598a5,#80909f,#7b8a9b,#778497,#748094,#727d92,#717c91,#717d91,#737f93,#768396,#798799,#7d8d9d,#8294a2,#879ba7,#8da3ad,#93abb3,#98b3b8,#9ebabe,#a4c2c4,#aac9c9,#b2cece,#bad3d3,#c1d8d8,#c8dcdc,#cfe0e0,#d5e4e4,#dae7e7,#dfebeb,#e3eded,#e7f0f0,#ebf2f2,#eef4f4,#f0f5f5,#f2f7f7,#f4f8f8,#f5f9f9,#f6f9f9,#f6f9f9,#f6f9f9,#f6f9f9,#f5f9f9,#f5f8f8,#f3f8f8,#f2f7f7,#f1f6f6,#eff5f5,#edf3f3,#eaf2f2,#e8f0f0,#e5efef,#e3eded,#e0ebeb,#dde9e9,#dae7e7,#d7e5e5,#d4e3e3,#d0e1e1,#cddfdf,#c9dddd,#c6dbdb,#c2d8d8,#bfd6d6,#bbd4d4,#b8d2d2,#b4cfcf,#b0cdcd,#adcbcb,#a9c8c8,#a6c6c6,#a4c2c4,#a2bfc1,#9fbcbf,#9db9bd,#9bb6bb,#99b3b8,#96b0b6,#94adb4,#92aab2,#90a7b0,#8ea4ae,#8ca1ab,#899ea9,#879ba7,#8598a5,#8396a3,#8193a1,#7f909f,#7d8d9d,#7c8b9b,#7a889a,#788698,#768396,#748194,#727e92,#717c91,#6f798f,#6d778d,#6c758b,#6a728a,#687088,#676e87,#656c85,#646a84,#626882,#616681,#5f647f,#5e627e,#5c607c,#5b5e7b,#5a5c7a,#585a78,#575877,#565776,#545574,#535373,#525271,#515170,#50506e,#4f4f6c,#4d4d6b,#4c4c69,#4b4b68,#4a4a66,#494965,#484863,#474762,#464661,#45455f,#44445e,#43435d,#42425b,#41415a,#404059,#3f3f58,#3f3f56,#3e3e55,#3d3d54,#3c3c53,#3b3b52,#3b3b51,#3a3a50,#39394f,#38384e,#37374d,#37374c,#36364b,#35354a,#353549,#343448,#333347,#333346,#323245,#313144,#313143,#303043,#303042,#2f2f41,#2e2e40,#2e2e3f,#2d2d3f,#2d2d3e,#2c2c3d,#2c2c3c,#2b2b3c,#2b2b3b,#2a2a3a,#2a2a3a,#292939,#292938,#282838,#282837,#272736,#272736,#262635,#262635,#262634,#252533,#252533,#242432,#242432,#242431,#232331,#232330,#232330)"></i>
<i style="background:linear-gradient(90deg,#cfe0e0,#cbdede,#c8dcdc,#c5dada,#c1d7d7,#bcd5d5,#b7d1d1,#b0cdcd,#a9c8c8,#a3c1c3,#9dbabd,#97b1b7,#91a9b1,#8ba0ab,#8598a5,#80909f,#7a899a,#768396,#737e92,#707b90,#6f798f,#6f798f,#707b90,#727e92,#758295,#798799,#7e8e9e,#8395a3,#889ca8,#8ea4ae,#93acb3,#99b4b9,#9fbbbf,#a4c3c4,#abcaca,#b3cfcf,#bbd3d3,#c2d8d8,#c8dcdc,#cfe0e0,#d4e4e4,#d9e7e7,#deeaea,#e2eded,#e6efef,#e9f1f1,#ecf3f3,#eff5f5,#f1f6f6,#f2f7f7,#f3f7f7,#f4f8f8,#f4f8f8,#f4f8f8,#f4f8f8,#f4f8f8,#f3f7f7,#f2f7f7,#f0f6f6,#eff5f5,#edf4f4,#ebf2f2,#e9f1f1,#e7efef,#e4eeee,#e1ecec,#dfeaea,#dce9e9,#d9e7e7,#d6e5e5,#d3e3e3,#cfe1e1,#ccdfdf,#c9dddd,#c6dada,#c2d8d8,#bfd6d6,#bbd4d4,#b8d2d2,#b4cfcf,#b1cdcd,#adcbcb,#aac9c9,#a7c6c6,#a4c3c4,#a2c0c2,#a0bdc0,#9ebabe,#9bb7bb,#99b4b9,#97b1b7,#95aeb5,#93abb3,#91a8b1,#8fa5af,#8da2ac,#8b9faa,#899da8,#879aa6,#8597a4,#8394a2,#8192a1,#7f8f9f,#7d8d9d,#7b8a9b,#798899,#778597,#768396,#748094,#727e92,#717c90,#6f798f,#6d778d,#6c758c,#6a738a,#697088,#676e87,#656c85,#646a84,#636882,#616681,#606480,#5e627e,#5d607d,#5c5f7b,#5a5d7a,#595b79,#585978,#565776,#555675,#545474,#535372,#525271,#50506f,#4f4f6e,#4e4e6c,#4d4d6b,#4c4c69,#4b4b68,#4a4a66,#494965,#484863,#474762,#464661,#45455f,#44445e,#43435d,#42425c,#41415a,#414159,#404058,#3f3f57,#3e3e56,#3d3d55,#3c3c53,#3c3c52,#3b3b51,#3a3a50,#39394f,#39394e,#38384d,#37374c,#37374b,#36364a,#353549,#353549,#343448,#333347,#333346,#323245,#313144,#313143,#303043,#303042,#2f2f41,#2f2f40,#2e2e40,#2d2d3f,#2d2d3e,#2c2c3d,#2c2c3d,#2b2b3c,#2b2b3b,#2a2a3b,#2a2a3a,#292939,#292939,#292938,#282837,#282837,#272736,#272736,#262635,#262634,#262634,#252533,#252533,#242432,#242432,#242431)"></i>
</div>
<div class="hm" style="left:764.9px;top:38.1px;width:479.2px;height:738.8px">
<i style="background:linear-gradient(90deg,#8a9faa,#99b4b9,#a2c0c2,#abcaca,#8a9ea9,#899ea9,#95aeb5,#9ebabe,#94acb3,#95aeb5,#a3c2c3,#8193a1,#869aa6,#8ba1ab,#99b3b9,#a3c2c3,#c1d7d7,#9db8bc,#94acb3,#8ba0aa,#92aab2,#98b1b7,#9ab4ba,#94acb3,#a0bec0,#90a7b0,#a5c4c5,#a4c3c4,#9db9bd,#93acb3,#a4c2c4,#9fbcbf,#9bb6bb,#96afb6,#91a8b1,#879ba7,#93acb3,#99b4b9,#9fbbbe,#9ebabe,#c2d8d8,#a6c6c6,#97b0b7,#97b1b7,#9fbbbe,#8598a5,#8da3ad,#9db9bd,#a5c4c5,#879aa7,#9ab5ba,#8ea4ae,#92a9b1,#aecccc,#a1bfc1,#adcbcb,#a3c2c3,#9cb7bb,#a1bec1,#95aeb5,#96b0b6,#8b9faa,#8da3ad,#90a7b0,#9cb8bc,#869aa6,#a0bec0,#b2cece,#b4cfcf,#99b4b9,#9fbcbf,#889ca8,#a0bec0,#91a8b1,#899da9,#8ca1ac,#93abb3,#8ea5ae,#a0bdc0,#94acb3,#8091a0,#8597a4,#8598a5,#8497a4,#8ea4ae,#a0bdc0,#a6c5c5,#9ab5ba,#afcccc,#a4c3c4,#8ca2ac,#8294a2,#8597a5,#92a9b2,#9cb7bc,#94acb4,#8ca1ab,#a5c4c5,#b7d1d1,#cadddd,#99b4b9,#98b2b8,#879ba7,#6a738a,#93abb3,#9ab5ba,#8ba0ab,#879ba7,#bbd4d4,#9ebbbe,#8091a0,#7a899a,#768396,#99b4b9,#98b2b8,#8ba0ab,#98b3b8,#c9dddd,#b2cece,#d2e2e2,#a7c7c7,#95adb4,#8ea4ae,#9db9bd,#7c8c9c,#758195,#7b899a,#6f7a8f,#697189,#666d86,#60647f,#4b4b68,#404059,#3e3e56,#43435d,#39394e,#343448,#36364a,#343448,#323245,#37374c,#343448,#2e2e40,#2d2d3e,#2b2b3c,#262634,#22222f,#21212e,#22222e,#1e1e2a,#1b1b26,#1a1a23,#171720,#181821,#16161e,#13131a,#0f0f15,#0f0f14,#0f0f14,#0f0f14,#0e0e14,#14141c,#14141b,#13131a,#101016,#0c0c11,#0c0c10,#0e0e14,#111117,#13131a,#15151d,#16161f,#15151d,#16161e,#171720,#191923,#1c1c26,#1f1f2b,#1e1e29,#1a1a24,#15151d,#0f0f15,#0a0a0e,#050506,#020203,#040406,#08080a,#0b0b0f,#0d0d12,#0f0f15,#111117,#101016,#0d0d12,#0a0a0d,#070709,#050507,#050507,#050507,#070709,#09090d)"></i>
<i style="background:linear-gradient(90deg,#8ea4ae,#8da3ad,#8ba0ab,#798799,#8a9faa,#9bb6bb,#8a9faa,#92aab2,#a0bcbf,#91a8b1,#8192a1,#9ebabe,#93abb3,#8497a4,#9ab5ba,#8a9faa,#8ba1ab,#8294a2,#8496a4,#98b2b8,#9db9bd,#98b3b8,#8ba0ab,#9fbbbf,#accaca,#8598a5,#889ca8,#96afb6,#8fa6af,#93abb3,#8da3ad,#90a7b0,#95aeb5,#8699a6,#91a8b1,#94acb4,#879ba7,#8395a3,#899da9,#8598a5,#8da3ad,#a0bec0,#90a7b0,#8ea4ad,#9cb7bc,#8ea4ae,#8a9faa,#8092a0,#99b3b9,#9cb8bc,#8ca1ac,#889ba7,#91a8b1,#899ea9,#99b3b9,#8a9faa,#97b0b7,#93abb3,#8ca2ac,#92aab2,#889ca8,#8fa6af,#a2bfc2,#92aab2,#8396a3,#7c8c9c,#8ba0ab,#98b2b8,#7c8c9c,#8a9faa,#879ba7,#8192a0,#737f93,#7c8b9c,#8699a6,#80909f,#8395a3,#a0bec0,#8091a0,#727d92,#92aab2,#889ca8,#899da9,#8699a5,#bcd4d4,#8b9faa,#889ba7,#99b3b8,#8ca2ac,#90a6af,#90a7b0,#8a9faa,#95aeb5,#9cb7bc,#8193a1,#686f88,#98b1b7,#a9c8c8,#b4cfcf,#95aeb5,#8ba0ab,#8699a6,#90a8b0,#8da3ad,#869aa6,#99b4b9,#8091a0,#8ea4ae,#8ea4ae,#a0bdc0,#92aab2,#94acb3,#879ba7,#7e8e9d,#9bb7bb,#9fbbbf,#a8c8c8,#9ab5ba,#cddfdf,#b6d0d0,#b9d3d3,#c2d8d8,#a2bfc2,#94acb4,#9cb8bc,#879ba7,#717c91,#666d86,#575877,#4e4e6b,#51516f,#4b4b68,#41415a,#3a3a50,#3a3a50,#404058,#353549,#2a2a3a,#262634,#252533,#292938,#22222f,#1e1e2a,#1a1a24,#17171f,#191922,#15151c,#15151d,#121219,#101017,#0e0e13,#0c0c11,#0e0e13,#0e0e13,#0b0b0f,#0b0b10,#0b0b10,#0d0d12,#0d0d12,#0c0c11,#0a0a0e,#09090c,#0a0a0e,#08080a,#09090c,#0a0a0e,#08080b,#07070a,#070709,#050506,#050507,#040406,#030304,#050508,#070709,#08080b,#07070a,#070709,#060608,#050506,#030305,#020203,#030304,#020203,#040405,#040406,#050507,#040406,#050507,#050506,#050507,#050507,#050507,#050506,#040405,#020203,#020203,#020203,#020203,#020203)"></i>
<i style="background:linear-gradient(90deg,#91a8b1,#8ba0ab,#8395a3,#8ca2ac,#8294a2,#8ea5ae,#8396a3,#95adb4,#b1cdcd,#9cb7bc,#a4c3c4,#9ab5ba,#8ba0ab,#a0bdbf,#879aa7,#9db9bd,#8ea4ae,#98b2b8,#9fbcbf,#9bb6bb,#9ab4ba,#90a7b0,#899da9,#8699a6,#96b0b6,#a2bfc2,#a5c4c5,#a5c4c5,#99b3b9,#8ea4ae,#8193a1,#90a7b0,#94adb4,#899da8,#7e8e9e,#a6c6c6,#95aeb5,#899da8,#8598a5,#8ba1ab,#90a6b0,#9ebabe,#a9c8c8,#91a8b1,#8ca1ac,#9db9bd,#9ebbbe,#9db9bd,#8fa5af,#9ebabd,#95aeb5,#8ba0ab,#9ebabe,#8496a4,#9db9bd,#a3c2c3,#9ebbbe,#9ab5ba,#9fbbbe,#a2c0c2,#8192a1,#7e8f9e,#8699a6,#91a9b1,#869aa6,#96afb6,#8294a2,#899da9,#a4c3c4,#9fbcbf,#a5c4c5,#94acb4,#8fa6af,#8da3ad,#93acb3,#8ba1ab,#8598a5,#8ba1ab,#8fa5af,#9db9bd,#899da8,#8da2ad,#99b4b9,#a3c2c3,#8a9ea9,#9cb7bc,#9cb8bc,#9ab5ba,#8fa6af,#778497,#8a9faa,#8ea5ae,#a9c8c8,#a8c8c8,#8da3ad,#788798,#8ea4ae,#a1bfc1,#a3c1c2,#9ab4b9,#90a7b0,#7d8d9d,#98b2b8,#91a9b1,#a4c2c4,#b9d3d3,#b1cdcd,#9fbcbf,#b4cfcf,#94acb4,#889ca8,#8597a5,#8293a2,#95aeb5,#9ab5ba,#a1bfc1,#d1e1e1,#c2d8d8,#b4cfcf,#abc9c9,#cddfdf,#b2cece,#c0d7d7,#879ba7,#7c8b9c,#798799,#889ca8,#7b8a9b,#6a728a,#636883,#454560,#43435c,#43435c,#36364b,#303043,#323245,#2f2f40,#232330,#22222f,#1e1e2a,#1d1d28,#1a1a23,#191923,#1a1a24,#181821,#1b1b26,#16161f,#121218,#0f0f14,#0d0d12,#0e0e14,#0f0f15,#0d0d11,#0d0d12,#0d0d12,#0c0c11,#0a0a0e,#0a0a0d,#0b0b0f,#0c0c10,#0b0b0f,#0b0b0f,#0a0a0e,#09090c,#050507,#050507,#020203,#020203,#030304,#030305,#040406,#07070a,#07070a,#070709,#07070a,#070709,#060609,#060608,#060608,#040406,#040406,#040405,#030304,#020203,#020203,#020203,#020203,#020203,#020203,#020203,#030304,#040406,#040406,#030305,#030304,#030304,#020203,#020203,#020203,#020203)"></i>
<i style="background:linear-gradient(90deg,#9db9bd,#a3c1c3,#798899,#8699a6,#97b0b6,#a3c1c3,#a6c6c6,#bfd6d6,#a4c3c4,#96b0b6,#8a9faa,#a4c3c4,#8da3ad,#92a9b2,#95aeb5,#a0bec0,#9bb6bb,#90a7b0,#9ab4ba,#9ab5ba,#94adb4,#9ab5ba,#92a9b2,#8da3ad,#95aeb5,#91a9b1,#a4c2c4,#9fbcbf,#aac9c9,#98b2b8,#8ba0ab,#8ca2ac,#a5c4c5,#a2c0c2,#adcbcb,#8ea5ae,#7f909f,#8fa6af,#96afb6,#9cb8bc,#accaca,#aecbcb,#aac9c9,#9db9bd,#a6c5c6,#92a9b1,#9cb8bc,#9cb8bc,#a0bcbf,#97b1b7,#8ca2ac,#a6c6c6,#889ca8,#a3c2c3,#a0bec0,#a3c2c3,#c1d7d7,#99b4b9,#94adb4,#707b90,#99b3b9,#94adb4,#96b0b6,#8497a4,#6b748b,#9fbbbe,#b8d2d2,#a2c0c2,#9bb6bb,#bbd4d4,#a6c5c5,#94acb4,#9bb6bb,#90a7b0,#94acb4,#90a6af,#8a9ea9,#8ba0ab,#91a8b0,#9cb7bb,#9ebbbe,#a1bec1,#97b1b7,#98b2b8,#7d8c9d,#7f909f,#9ab5ba,#aecccc,#95aeb5,#899ea9,#7a899a,#8fa5af,#9ebbbe,#9cb8bc,#8fa6af,#8fa6af,#a4c3c4,#a2c1c2,#b1cdcd,#92aab2,#889ba7,#899ea9,#91a8b1,#abcaca,#b2cece,#c0d7d7,#bfd7d7,#b5d0d0,#8ca1ac,#788698,#889ca8,#879ba7,#a1bfc1,#a1bec1,#b9d2d2,#a9c8c8,#a6c5c6,#8ea5ae,#a2c0c2,#b2cece,#a9c8c8,#97b1b7,#90a7b0,#96afb6,#7f8f9f,#6f7a8f,#727e92,#6c758c,#666d86,#6c758b,#50506e,#464660,#4a4a67,#42425b,#37374c,#323245,#2a2a3a,#2f2f41,#2a2a3a,#252533,#20202c,#252534,#1c1c27,#1b1b25,#1b1b25,#13131b,#181821,#181821,#15151d,#171720,#13131a,#111118,#111118,#101017,#0f0f15,#0f0f14,#0e0e13,#0e0e14,#0e0e14,#0e0e14,#0e0e14,#0c0c10,#0c0c10,#09090c,#08080b,#08080b,#09090c,#08080b,#09090d,#08080b,#060609,#050507,#070709,#08080b,#08080b,#060608,#050507,#060609,#050507,#040405,#030304,#020203,#020203,#020203,#020203,#020203,#020203,#020203,#030304,#040406,#050507,#060609,#060608,#060609,#060608,#060608,#040406,#030304,#040405,#050507)"></i>
<i style="background:linear-gradient(90deg,#a0bdc0,#a3c2c3,#8da3ad,#92aab2,#95adb4,#8598a5,#96afb6,#a0bdc0,#97b0b7,#8ea4ae,#98b3b8,#a0bdc0,#98b2b8,#8395a3,#8395a3,#8ea4ae,#95aeb5,#90a7b0,#94adb4,#96afb6,#a8c7c7,#bad3d3,#9fbbbe,#a4c3c4,#a1bec0,#8294a2,#95aeb5,#8a9faa,#92aab2,#899ea9,#8598a5,#adcbcb,#a3c1c3,#8ca2ac,#9fbbbe,#b3cfcf,#aecbcb,#98b2b8,#9bb7bb,#99b3b9,#9bb6ba,#97b0b7,#96afb6,#8395a3,#8699a6,#99b3b9,#8a9faa,#9bb6bb,#c9dcdc,#cfe1e1,#a9c8c8,#7d8d9d,#7f909f,#8ca1ac,#9ab5ba,#accaca,#97b0b6,#9cb8bc,#95aeb5,#a4c3c4,#8699a6,#788698,#8091a0,#8699a6,#9ab5ba,#a3c1c3,#a0bdc0,#7f8f9f,#92aab2,#879ba7,#8ea4ae,#9ebbbe,#9bb6bb,#879ba7,#9cb7bc,#a3c1c3,#aac9c9,#a3c2c3,#91a8b0,#778496,#7e8e9e,#8496a3,#8fa5ae,#8497a4,#8da3ad,#7d8d9d,#879aa6,#9db9bd,#92aab2,#90a8b0,#9db8bd,#a5c3c4,#9bb6ba,#7e8e9e,#92aab2,#b9d3d3,#a1bfc1,#b3cfcf,#95aeb5,#8699a6,#8a9faa,#889ca8,#98b2b8,#abcaca,#99b4b9,#9ab5ba,#b3cece,#91a8b1,#8192a1,#7c8b9c,#788698,#8a9eaa,#a5c5c5,#abcaca,#b9d2d2,#a7c7c7,#adcbcb,#adcbcb,#b3cece,#a5c4c5,#adcbcb,#abcaca,#98b3b8,#8ba0ab,#7a889a,#707b90,#758295,#676e87,#6a738a,#5f647f,#565776,#4a4a66,#474762,#41415a,#3c3c52,#37374c,#2e2e3f,#2e2e3f,#2d2d3e,#272736,#242431,#242432,#232331,#1f1f2a,#181821,#1a1a23,#15151d,#13131a,#13131a,#101017,#0e0e13,#0c0c11,#0d0d12,#0e0e13,#0c0c11,#0d0d12,#0e0e14,#0d0d12,#0d0d11,#0f0f15,#101016,#101017,#0f0f15,#0d0d12,#0a0a0e,#08080c,#070709,#050507,#060608,#07070a,#070709,#07070a,#08080b,#09090d,#0b0b0f,#0b0b0f,#0a0a0d,#09090d,#09090d,#0b0b0f,#0a0a0e,#0a0a0e,#08080c,#050507,#030305,#030304,#030305,#050507,#060608,#060608,#060608,#050508,#050507,#040406,#040406,#050506,#060608,#060609,#050507,#030305)"></i>
<i style="background:linear-gradient(90deg,#b6d1d1,#a0bdc0,#9ab4ba,#e1ecec,#c4dada,#adcbcb,#9ebabe,#90a7b0,#99b3b9,#97b1b7,#8ba0ab,#99b3b9,#99b3b9,#9ab5ba,#a4c2c3,#a0bdc0,#93abb3,#aac9c9,#b8d2d2,#a9c8c8,#899da9,#91a9b1,#b0cdcd,#accaca,#a5c4c5,#9db8bc,#a5c4c5,#a9c8c8,#a2c0c2,#accaca,#9fbcbf,#9fbbbe,#899ea9,#8da3ad,#95adb5,#a1bec1,#a4c3c4,#b8d2d2,#93abb3,#8da2ac,#95adb4,#889ca8,#8da3ad,#9cb7bc,#b0cdcd,#99b4b9,#8ca1ac,#9bb6bb,#97b1b7,#94acb4,#92a9b2,#97b1b7,#a1bfc1,#889ca8,#899da9,#899da9,#879aa7,#96afb6,#a0bdc0,#99b4b9,#c4d9d9,#9fbcbf,#a2c0c2,#97b0b7,#a0bdc0,#c0d7d7,#92aab2,#8ca2ac,#8a9eaa,#97b1b7,#9ebabd,#96b0b6,#8ca1ac,#9ab5ba,#94adb4,#99b4b9,#a4c2c3,#b6d1d1,#9db8bd,#98b2b8,#96afb6,#aac9c9,#b6d0d0,#adcbcb,#aecbcb,#b7d1d1,#b2cece,#95afb5,#9ab5ba,#c1d7d7,#a7c7c7,#a7c7c7,#a2c0c2,#9cb7bc,#8a9faa,#b1cece,#ddeaea,#bed5d5,#a4c3c4,#a4c3c4,#97b1b7,#a0bdc0,#9bb7bb,#92a9b2,#869aa6,#a5c4c5,#aac9c9,#8293a2,#8da3ad,#8ea5ae,#97b1b7,#8ca2ac,#9ab5ba,#96afb6,#bfd6d6,#cee0e0,#cddfdf,#a5c4c5,#fafcfc,#e7f0f0,#eef4f4,#d8e6e6,#b0cdcd,#9fbbbf,#8598a5,#8294a2,#737e92,#6c768c,#717c90,#6a738a,#606480,#575877,#4f4f6d,#3c3c53,#353549,#39394f,#313144,#2e2e40,#323244,#2f2f41,#2a2a3a,#22222e,#1c1c26,#1d1d28,#181822,#121218,#111117,#14141c,#15151d,#181822,#1a1a24,#181821,#15151d,#16161f,#16161f,#111118,#0f0f14,#0b0b0f,#08080b,#0a0a0e,#0e0e14,#111118,#14141b,#111117,#0e0e13,#0a0a0e,#070709,#040406,#050508,#060609,#08080b,#060609,#060608,#050506,#040405,#060608,#09090c,#0d0d12,#101016,#101016,#0f0f15,#0e0e14,#0a0a0e,#060608,#030304,#020203,#020203,#020203,#020203,#020203,#020203,#020203,#020203,#060608,#09090d,#09090c,#08080b,#050507,#040406,#040406)"></i>
<i style="background:linear-gradient(90deg,#aecbcb,#b5d0d0,#b5d0d0,#a8c8c8,#c7dcdc,#b2cece,#a4c3c4,#97b1b7,#a9c8c8,#adcbcb,#accaca,#a8c8c8,#b7d1d1,#bfd6d6,#b0cdcd,#96b0b6,#889ba7,#869aa6,#91a8b1,#a3c1c3,#9ab4ba,#9cb8bc,#8a9faa,#97b1b7,#98b2b8,#99b3b9,#9fbcbf,#a7c6c7,#a2c0c2,#9fbcbf,#94adb4,#9fbbbe,#9ebabd,#8da4ad,#9bb6bb,#9ebbbe,#91a9b1,#879aa7,#91a9b1,#8da3ad,#9fbcbf,#9db9bd,#9ebabe,#99b4b9,#c4d9d9,#b9d3d3,#a4c3c4,#a4c3c4,#a0bec0,#97b1b7,#7d8c9d,#91a8b1,#96b0b6,#a5c4c5,#8ba0ab,#9bb6bb,#a1bfc1,#96b0b6,#8ba0ab,#9db9bd,#96afb5,#91a9b1,#98b1b7,#abcaca,#a9c8c8,#8fa6af,#8da3ad,#95aeb5,#93acb3,#95aeb5,#98b2b8,#9db8bc,#aecbcb,#97b1b7,#90a8b0,#afcccc,#b2cece,#92aab2,#93abb3,#bad3d3,#a6c6c6,#92a9b1,#94adb4,#b3cfcf,#cee0e0,#bfd6d6,#a5c4c5,#8da3ad,#a1bfc1,#abcaca,#97b0b6,#8ba0ab,#90a7b0,#a0bdc0,#adcbcb,#cbdede,#a2bfc1,#879ba7,#6f798e,#748094,#a4c2c3,#9ebabe,#98b2b8,#b4cfcf,#bbd4d4,#c8dcdc,#9fbbbf,#8193a1,#8597a4,#90a6af,#91a9b1,#a3c1c3,#a9c8c8,#a3c1c2,#abcaca,#b4cfcf,#d5e4e4,#ffffff,#dde9e9,#cee0e0,#a9c8c8,#95aeb5,#94adb4,#8ba0ab,#788597,#7c8c9c,#7e8d9d,#748094,#656b85,#6a738a,#5c5f7c,#50506e,#50506f,#515170,#50506e,#4d4d6a,#3b3b51,#303042,#323245,#333346,#303043,#323245,#303042,#2b2b3b,#242432,#21212e,#20202c,#21212d,#1f1f2b,#1e1e29,#1f1f2b,#20202c,#22222e,#262634,#282837,#2c2c3c,#2d2d3e,#2c2c3c,#252533,#1c1c27,#14141c,#0f0f14,#0e0e13,#0e0e13,#0f0f14,#0e0e13,#0f0f15,#0d0d13,#0c0c11,#0d0d12,#0f0f15,#13131a,#16161f,#181821,#1a1a24,#1a1a23,#181821,#15151d,#121219,#0e0e13,#0d0d12,#0e0e14,#101016,#13131a,#14141c,#16161e,#14141c,#111117,#0e0e13,#0d0d12,#0b0b10,#0a0a0d,#09090c,#08080b,#09090c,#0b0b0f,#0e0e13,#111117,#15151d,#16161f)"></i>
<i style="background:linear-gradient(90deg,#9cb8bc,#91a9b1,#97b1b7,#a5c4c5,#abcaca,#cddfdf,#a1bfc1,#a2c0c2,#9cb7bc,#97b1b7,#a8c8c8,#9ab5ba,#99b4b9,#8ba0ab,#9ebabd,#a6c5c6,#a7c6c6,#a2c0c2,#8ca1ab,#879ba7,#899ea9,#8da3ad,#9ebabe,#a5c3c4,#a7c7c7,#a3c1c3,#b3cfcf,#aac9c9,#90a8b0,#8091a0,#798899,#7c8c9c,#96afb6,#a8c8c8,#91a8b1,#95adb5,#aac9c9,#bed5d5,#a3c1c3,#889ca8,#95aeb5,#8598a5,#798899,#8ea4ae,#a6c6c6,#8fa5af,#8b9faa,#92aab2,#96b0b6,#93acb3,#98b2b8,#b0cdcd,#c6dbdb,#aecccc,#879ba7,#8ca2ac,#93abb2,#98b3b8,#a7c7c7,#899ea9,#8fa6af,#8a9faa,#879ba7,#b2cece,#a1bec1,#aac9c9,#94acb3,#7e8e9e,#8a9eaa,#9db9bd,#a9c8c8,#a5c4c5,#9cb8bc,#92aab2,#9ab5ba,#abc9c9,#a0bec0,#9ebabe,#a8c8c8,#a4c3c4,#a5c4c5,#8fa6af,#a3c1c3,#b8d2d2,#bcd4d4,#95aeb5,#97b0b6,#bed6d6,#bcd4d4,#9db8bd,#9ab5ba,#9fbbbe,#b8d2d2,#adcbcb,#abc9c9,#a8c8c8,#9ab5ba,#9fbcbf,#96afb6,#97b1b7,#99b4b9,#9fbbbe,#a5c4c5,#b2cece,#99b3b8,#90a7b0,#9db9bd,#8597a5,#8294a2,#8091a0,#879aa7,#92aab2,#94adb4,#a4c2c4,#a9c8c8,#c6dada,#abc9c9,#98b2b8,#a2bfc1,#c9dddd,#a5c4c5,#9ebbbe,#8fa5af,#97b1b7,#95aeb5,#758295,#656b85,#6c758c,#656c85,#616681,#585a78,#555675,#4f4f6d,#4d4d6b,#44445e,#38384d,#38384e,#313144,#2f2f41,#2d2d3e,#232330,#171720,#16161f,#1d1d27,#232331,#262634,#282837,#292939,#282837,#242432,#20202d,#1c1c27,#1a1a24,#14141c,#0f0f15,#09090d,#08080b,#08080a,#09090d,#0d0d12,#0f0f14,#0f0f15,#111117,#121219,#0f0f15,#0f0f14,#13131a,#15151d,#16161f,#15151d,#171720,#1b1b25,#1d1d27,#1d1d28,#1c1c27,#1a1a24,#16161e,#111118,#0d0d12,#0b0b0f,#0b0b0f,#0c0c11,#101016,#15151c,#16161e,#14141c,#15151d,#171720,#17171f,#171720,#181821,#171720,#171720,#1a1a24,#1d1d28,#20202c,#1e1e29,#191922,#13131a,#101016)"></i>
<i style="background:linear-gradient(90deg,#97b1b7,#8fa5af,#95adb4,#9ab5ba,#adcbcb,#97b1b7,#90a7b0,#98b1b7,#9ebabe,#b9d2d2,#c0d7d7,#a8c7c7,#96afb6,#8fa5af,#8598a5,#9bb6bb,#95adb5,#98b2b8,#96afb5,#92aab2,#889ca8,#8ca1ac,#a1bec1,#adcbcb,#899da9,#7f8f9f,#8da3ad,#b3cfcf,#b3cfcf,#a9c8c8,#a3c2c3,#abc9c9,#a0bdc0,#a2c0c2,#8ea4ae,#8192a1,#788698,#889ba8,#a0bdc0,#8ba0ab,#9bb7bb,#8da3ad,#93abb3,#bfd6d6,#98b2b8,#a9c8c8,#b7d1d1,#9cb8bc,#8fa6af,#95adb5,#b8d2d2,#899da9,#8ba0ab,#92aab2,#b5d0d0,#a9c8c8,#9ebabd,#a1bfc1,#a9c8c8,#bad3d3,#9cb8bc,#b5d0d0,#a5c4c5,#8ea5ae,#9fbcbf,#b1cdcd,#a8c8c8,#aac9c9,#96b0b6,#93abb2,#9ebbbe,#9ebabe,#899da8,#8da3ad,#94adb4,#92a9b2,#8da2ad,#a0bdc0,#a7c6c7,#8598a5,#7a899a,#7c8b9c,#96afb5,#98b2b8,#9cb7bc,#8ba0ab,#8ca1ac,#a3c2c3,#98b3b8,#8496a4,#8ea4ae,#9fbcbf,#a4c3c4,#aac9c9,#a3c1c2,#99b3b9,#7f8f9f,#8193a1,#8fa6af,#9ebbbe,#accaca,#accaca,#b6d0d0,#b1cdcd,#a3c1c3,#97b1b7,#8090a0,#6a738a,#798799,#8ba0ab,#8294a2,#8ba0ab,#90a7b0,#a4c3c4,#a5c5c5,#95aeb5,#b5d0d0,#aac9c9,#9ebbbe,#95afb5,#9fbbbf,#9ebbbe,#a7c6c7,#9fbbbf,#8a9faa,#7c8c9c,#687088,#6b748b,#6d778d,#626781,#4d4d6b,#43435d,#45455f,#404059,#39394f,#333346,#36364a,#35354a,#36364b,#343447,#2b2b3b,#262635,#252532,#232330,#1d1d28,#1a1a24,#1b1b25,#181821,#17171f,#15151d,#13131a,#13131b,#121218,#101016,#0e0e13,#0d0d13,#0e0e14,#0d0d12,#0d0d12,#0d0d13,#0e0e14,#0f0f14,#0f0f14,#0c0c10,#0b0b0f,#0a0a0e,#09090d,#08080b,#07070a,#060608,#070709,#070709,#070709,#050507,#050507,#050506,#050507,#050507,#060608,#060608,#060608,#060608,#060608,#050507,#060608,#060609,#060608,#040406,#040405,#040405,#050508,#070709,#060608,#040406,#040405,#040405,#040406,#040406,#060608,#060608)"></i>
<i style="background:linear-gradient(90deg,#a3c1c3,#a4c2c4,#98b2b8,#8496a4,#8294a2,#a4c3c4,#b8d2d2,#a7c6c7,#b8d2d2,#bfd7d7,#a0bdc0,#95aeb5,#a1bfc1,#a1bec1,#96afb6,#98b2b8,#a4c2c4,#9ab5ba,#91a9b1,#a0bcbf,#abc9c9,#a6c5c6,#98b2b8,#a0bcbf,#8ea5ae,#7a899a,#798799,#8395a3,#90a8b0,#a6c5c6,#b0cdcd,#a5c4c5,#879ba7,#879aa7,#96b0b6,#93abb3,#9ab4ba,#a4c3c4,#8ca1ac,#7a889a,#8293a2,#98b2b8,#98b2b8,#8ba0ab,#8598a5,#9ebbbe,#9cb8bc,#a4c3c4,#889ca8,#96afb6,#93abb3,#9ebabe,#8396a3,#95afb5,#97b1b7,#a0bdc0,#9bb7bb,#91a8b1,#a0bdc0,#8ea4ad,#a0bdc0,#9bb7bb,#8ea4ae,#9fbbbf,#a4c2c4,#8597a5,#9fbbbf,#a4c2c3,#97b0b7,#a6c6c6,#879ba7,#7c8c9c,#9db9bd,#abc9c9,#a6c6c6,#a1bfc1,#93abb3,#8fa6af,#798799,#8091a0,#96afb6,#94adb4,#8ca1ac,#8193a1,#8fa5af,#a9c8c8,#a0bdc0,#899da9,#8699a6,#8192a1,#8fa6af,#abcaca,#95adb4,#bfd6d6,#c6dbdb,#b4cfcf,#8fa6af,#8192a1,#8a9faa,#9db9bd,#a3c1c3,#a4c2c4,#93abb3,#9ebabe,#aecbcb,#a7c7c7,#9ab5ba,#94adb4,#8395a3,#8ba0ab,#95adb4,#9fbcbf,#96afb6,#a0bdc0,#bdd5d5,#b1cdcd,#c4dada,#d7e5e5,#cadddd,#aac9c9,#98b2b8,#98b1b7,#8293a1,#8fa5ae,#7f909f,#7b8a9b,#758195,#686f87,#606580,#575877,#595b79,#585a78,#4b4b68,#494965,#42425b,#39394f,#323245,#2c2c3d,#2d2d3f,#262635,#242432,#232330,#22222e,#1f1f2b,#1c1c26,#1c1c26,#191923,#181821,#17171f,#181821,#15151e,#14141b,#13131a,#14141c,#13131b,#101016,#0e0e14,#0d0d12,#0b0b10,#0b0b0f,#0b0b0f,#0e0e14,#0f0f14,#101016,#13131b,#14141c,#121219,#101016,#0d0d11,#0a0a0e,#0a0a0d,#09090c,#08080a,#050506,#030304,#050506,#050507,#060608,#07070a,#0a0a0e,#0c0c10,#0f0f14,#0e0e13,#08080b,#040405,#020203,#020203,#020203,#020203,#020203,#030305,#050507,#050506,#030305,#030305,#040406,#060608,#08080a,#0a0a0e,#0b0b0f)"></i>
<i style="background:linear-gradient(90deg,#97b1b7,#95aeb5,#93abb2,#7f8f9f,#8699a6,#a1bec0,#abc9c9,#90a7b0,#96afb5,#a0bdc0,#9bb6bb,#99b4b9,#9ebabd,#a9c8c8,#b4d0d0,#a4c3c4,#96b0b6,#a0bdc0,#98b2b8,#8ea4ae,#889ca8,#9fbbbf,#a0bdc0,#a3c2c3,#95aeb5,#8395a3,#95adb5,#93abb3,#8ca1ac,#9db9bd,#92aab2,#9db8bc,#accaca,#a3c1c3,#8da3ad,#748194,#8496a4,#94acb4,#8091a0,#8a9faa,#a3c1c3,#b5d0d0,#c1d8d8,#9cb7bc,#a2c0c2,#a2c0c2,#a3c1c3,#8a9faa,#94acb4,#8496a3,#98b2b8,#99b3b9,#bbd4d4,#8da3ad,#94adb4,#90a7b0,#96afb6,#b6d1d1,#a4c3c4,#accaca,#9ebbbe,#9ebabe,#b3cece,#9db8bc,#a4c2c4,#aecccc,#9db8bd,#9cb8bc,#a2c0c2,#91a8b1,#8597a5,#8a9ea9,#a1bfc1,#a4c3c4,#899da8,#8fa6af,#8da2ad,#94acb3,#9fbbbe,#b0cdcd,#c0d7d7,#a9c8c8,#a6c5c6,#8fa6af,#a1bec1,#bbd4d4,#92a9b2,#8da2ad,#9cb8bc,#a6c6c6,#a4c2c4,#adcbcb,#b6d1d1,#afcccc,#a1bfc1,#9cb7bc,#899da9,#92a9b1,#a2c0c2,#abcaca,#d4e4e4,#eaf2f2,#c7dbdb,#a3c1c3,#abc9c9,#95aeb5,#798899,#6b748b,#7f8f9e,#a0bdc0,#afcccc,#a9c8c8,#97b1b7,#93abb3,#98b2b8,#b0cdcd,#accaca,#c4d9d9,#b7d1d1,#a0bdc0,#9ebabe,#9ab5ba,#9bb6bb,#9ebabe,#91a8b1,#7b8a9b,#8294a2,#798899,#6d778d,#585a78,#494965,#404059,#464661,#44445e,#41415a,#343448,#2c2c3d,#272736,#272735,#22222f,#1e1e29,#20202c,#1b1b26,#1a1a24,#16161e,#15151d,#0e0e13,#0b0b0f,#111117,#121218,#171720,#191922,#1a1a24,#1a1a23,#1a1a24,#1b1b25,#1a1a24,#191922,#16161f,#13131b,#121219,#15151d,#191923,#1b1b25,#1b1b25,#191922,#16161f,#14141b,#13131a,#111118,#0e0e13,#0a0a0e,#070709,#060609,#07070a,#08080b,#0a0a0e,#0d0d12,#0e0e13,#101016,#101016,#0e0e13,#0e0e13,#0e0e13,#0e0e13,#121219,#171720,#1b1b25,#1e1e2a,#21212d,#22222f,#20202c,#1b1b25,#14141b,#0d0d12,#07070a,#040405,#040405,#030304,#030304)"></i>
<i style="background:linear-gradient(90deg,#8598a5,#a2bfc2,#96afb6,#8ea4ae,#90a7b0,#b1cdcd,#c0d7d7,#a1bfc1,#95aeb5,#9fbcbf,#bfd6d6,#b0cccc,#a8c7c7,#b3cece,#accaca,#b2cece,#c2d8d8,#bfd7d7,#abcaca,#96afb6,#899da9,#95aeb5,#9cb8bc,#9bb6bb,#a0bdbf,#b1cece,#9db9bd,#93abb3,#93acb3,#accaca,#a6c5c6,#99b4b9,#92aab2,#a3c1c3,#a6c5c6,#9dbabd,#a1bec1,#9cb8bc,#899da9,#95aeb5,#9cb7bb,#c3d9d9,#adcbcb,#9ab5ba,#9ab5ba,#b4cfcf,#b0cdcd,#a6c5c6,#b1cdcd,#a7c6c7,#96afb6,#96afb6,#94acb4,#9fbcbf,#94adb4,#9ebbbe,#93acb3,#899da9,#90a6af,#8ea4ae,#9fbcbf,#a7c7c7,#9ebbbe,#a7c7c7,#b0cdcd,#98b3b8,#a3c1c3,#c2d8d8,#aecccc,#98b1b7,#a4c3c4,#c0d7d7,#9cb7bc,#8ea4ae,#97b1b7,#9db9bd,#98b1b7,#8da2ac,#92aab2,#9ebbbe,#95aeb5,#9ab5ba,#a1bec1,#96b0b6,#9dbabd,#c0d7d7,#a7c7c7,#9ebabe,#a0bdc0,#a3c1c3,#a9c8c8,#bcd4d4,#cee0e0,#b2cece,#a1bec0,#9bb7bb,#a0bec0,#bbd4d4,#c9dddd,#b5d0d0,#adcbcb,#bbd4d4,#bdd5d5,#a5c4c5,#889ca8,#92a9b2,#92aab2,#8497a4,#7d8c9d,#879ba7,#9fbcbf,#aac9c9,#a2c0c2,#9ebbbe,#b9d2d2,#a7c7c7,#cadddd,#d5e4e4,#adcbcb,#9ab5ba,#a0bdc0,#95aeb5,#7b8b9b,#778497,#7d8d9d,#727e92,#656b84,#6f798f,#656c85,#595b79,#50506f,#545474,#5d607d,#616781,#606580,#555675,#4e4e6c,#494965,#41415a,#3c3c54,#303043,#272736,#262635,#252534,#1f1f2a,#181821,#1c1c26,#1e1e2a,#1e1e2a,#1d1d28,#1a1a24,#15151e,#13131a,#0f0f15,#0e0e14,#0c0c11,#0c0c10,#0b0b0f,#0d0d12,#0b0b0f,#0b0b10,#0b0b0f,#0b0b0f,#0c0c11,#121219,#16161f,#1a1a25,#1b1b26,#17171f,#0e0e14,#050507,#020203,#020203,#020203,#07070a,#0b0b0f,#0d0d13,#0e0e14,#0d0d11,#0a0a0e,#07070a,#040405,#020203,#020203,#050507,#09090c,#0c0c11,#0f0f15,#13131a,#16161e,#181821,#1b1b25,#1b1b25,#1b1b25,#171720,#121218,#0a0a0e,#060609,#060609,#08080c)"></i>
<i style="background:linear-gradient(90deg,#9bb6bb,#8da3ad,#899da9,#97b0b7,#8ba0ab,#98b2b8,#b6d1d1,#d3e3e3,#b1cdcd,#8fa6af,#8396a3,#96b0b6,#9db9bd,#90a7b0,#91a9b1,#8ca1ac,#889ca8,#8496a4,#8ea4ae,#8ba0ab,#a3c2c3,#a2bfc1,#99b3b8,#9db9bd,#8fa5af,#8293a1,#92aab2,#9bb6ba,#899ea9,#8ba0ab,#a4c3c4,#91a9b1,#879aa7,#8ea4ae,#97b1b7,#8293a2,#92aab2,#97b1b7,#90a8b0,#92a9b2,#8597a5,#99b3b9,#9cb8bc,#a4c3c4,#9cb8bc,#cee0e0,#b2cece,#a2c0c2,#96afb6,#99b4b9,#8ea4ae,#8ca1ac,#a5c4c5,#90a7b0,#a0bdc0,#8fa5af,#8193a1,#96b0b6,#9bb6bb,#9cb8bc,#a2c0c2,#93abb3,#98b2b8,#a3c2c3,#9fbcbf,#95adb4,#9fbcbf,#a0bec0,#91a8b0,#92aab2,#9ebabe,#9ab4b9,#94adb4,#9db9bd,#8ea4ad,#92aab2,#9db9bd,#a2c0c2,#adcbcb,#b7d1d1,#9ab4ba,#8a9eaa,#93abb3,#9ebbbe,#a1bfc1,#9cb8bc,#98b2b8,#7c8b9c,#8091a0,#8fa6af,#8da3ad,#90a7b0,#a9c8c8,#a7c7c7,#8ea5ae,#8294a2,#91a9b1,#a5c3c4,#a5c4c5,#99b4b9,#91a8b0,#9cb8bc,#b4cfcf,#a3c1c3,#8699a6,#889ca8,#8497a4,#8da3ad,#93abb3,#93acb3,#a2c0c2,#a5c4c5,#accaca,#d2e2e2,#d6e5e5,#e4eeee,#cfe0e0,#cbdede,#b1cece,#aac9c9,#accaca,#95aeb5,#90a7b0,#748194,#737f93,#737f93,#8091a0,#7f8f9e,#6e788e,#636983,#575977,#4c4c69,#44445e,#3f3f57,#3f3f58,#38384e,#3c3c52,#38384d,#333346,#2c2c3d,#2b2b3b,#272736,#232330,#232331,#242431,#1e1e29,#1a1a25,#191922,#16161f,#16161f,#17171f,#171720,#16161f,#14141c,#13131a,#14141b,#121219,#0e0e13,#0d0d12,#0c0c10,#09090d,#09090c,#08080b,#0a0a0d,#0a0a0d,#09090c,#09090d,#08080b,#09090c,#0b0b0f,#0b0b10,#0a0a0e,#08080b,#070709,#07070a,#07070a,#050507,#060608,#070709,#070709,#060608,#030305,#030305,#040405,#030304,#040405,#050507,#030305,#020203,#030305,#040405,#040406,#030304,#020203,#030304,#030304,#030304,#020203,#020203,#020203)"></i>
<i style="background:linear-gradient(90deg,#99b4b9,#93abb3,#9ab4ba,#a4c2c4,#aecccc,#a8c8c8,#a5c5c5,#bad3d3,#a0bdc0,#9cb8bc,#94adb4,#899ea9,#96afb6,#a0bcbf,#a0bec0,#9ab5ba,#90a7b0,#99b4b9,#90a7b0,#879ba7,#8fa6af,#93abb2,#90a7b0,#879ba7,#8597a4,#8192a1,#8ea5ae,#a0bec0,#99b3b9,#9cb8bc,#b2cece,#9cb8bc,#8da3ad,#a1bfc1,#92aab2,#8da2ac,#9bb6bb,#a4c3c4,#9ebabd,#93acb3,#c3d9d9,#b1cdcd,#b4cfcf,#8a9faa,#91a8b1,#869aa6,#95aeb5,#8ea4ad,#b2cece,#9ebabe,#9ebbbe,#93abb3,#8ea4ae,#afcccc,#a6c6c6,#b9d2d2,#bdd5d5,#a3c1c3,#a8c7c7,#97b1b7,#7e8e9e,#90a8b0,#aac9c9,#a7c6c7,#97b0b7,#91a9b1,#8da3ad,#90a7b0,#95adb4,#93abb3,#aecbcb,#9bb7bb,#a1bec1,#abcaca,#a4c2c3,#92aab2,#7d8d9d,#92aab2,#a0bdbf,#93abb2,#7c8b9c,#8a9eaa,#a1bec1,#aecccc,#a7c6c6,#91a8b1,#889ba7,#8597a5,#91a9b1,#a1bec1,#9ebabe,#91a8b1,#95aeb5,#92aab2,#869aa6,#7e8e9e,#768496,#8ca1ab,#95aeb5,#9bb6ba,#b2cece,#98b2b8,#97b0b7,#93abb3,#80909f,#899da9,#8da3ad,#8699a6,#91a8b1,#b7d1d1,#c2d8d8,#c8dcdc,#a9c8c8,#aecbcb,#c2d8d8,#dce9e9,#cbdede,#95aeb5,#91a8b1,#97b0b6,#98b2b8,#869aa6,#8fa6af,#91a8b0,#879ba7,#8193a1,#778597,#606580,#4d4d6a,#545474,#5b5e7b,#515170,#44445e,#43435c,#454560,#43435c,#39394f,#353549,#333347,#2a2a3a,#292939,#282838,#272735,#222230,#252533,#232331,#1b1b25,#181821,#13131a,#101016,#0d0d11,#0e0e13,#111117,#101017,#101017,#111118,#13131a,#14141b,#13131b,#111117,#0e0e14,#0e0e13,#0f0f15,#0e0e13,#0c0c11,#0a0a0e,#0c0c10,#0c0c11,#0b0b0f,#0b0b0f,#0a0a0e,#0a0a0d,#0a0a0e,#09090c,#060608,#050507,#060608,#070709,#050508,#040406,#050507,#070709,#08080b,#0a0a0e,#0a0a0e,#0a0a0e,#0a0a0e,#0a0a0e,#08080b,#060608,#060608,#07070a,#060609,#050507,#030304,#020203,#020203,#020203,#020203,#020203)"></i>
<i style="background:linear-gradient(90deg,#a0bcbf,#a2bfc2,#91a9b1,#91a9b1,#9fbbbf,#9ebabe,#a3c1c3,#a5c4c5,#9bb6ba,#8fa5ae,#8699a6,#92aab2,#93abb3,#7c8c9c,#8699a6,#95afb5,#90a7b0,#9cb8bc,#a2bfc1,#9db9bd,#9cb7bc,#98b2b8,#9db9bd,#97b1b7,#7e8e9e,#8091a0,#a1bec1,#a8c8c8,#899ea9,#8293a2,#8da3ad,#91a9b1,#9bb6bb,#accaca,#99b4b9,#9cb8bc,#98b2b8,#93abb2,#8a9faa,#a3c1c3,#a5c5c5,#a0bdc0,#8ba1ab,#7a8899,#8395a3,#9ebabe,#8ba0ab,#91a8b1,#879aa6,#8597a4,#7f909f,#8192a0,#96afb5,#9cb7bc,#a1bec1,#97b1b7,#899da8,#92aab2,#899ea9,#8ca1ac,#9ebbbe,#b2cece,#9ebabe,#98b1b7,#a2c0c2,#a5c3c5,#99b4b9,#99b3b9,#a2c0c2,#9fbbbe,#96afb6,#93abb3,#94adb4,#99b3b9,#95aeb5,#9ebabe,#a4c2c4,#90a6af,#95afb5,#a2c0c2,#99b3b9,#8293a2,#8a9faa,#9ebabe,#a3c1c3,#a6c6c6,#b0cdcd,#a0bdc0,#9ab5ba,#a1bec1,#a1bfc1,#8da3ad,#798899,#7a899a,#889da8,#8ba0ab,#8ba0ab,#98b2b8,#97b1b7,#a0bdc0,#b1cdcd,#b7d1d1,#95adb5,#768396,#768395,#768396,#6f798f,#8699a5,#8da2ad,#899ea9,#92a9b1,#91a9b1,#94acb4,#b9d3d3,#a9c8c8,#a7c7c7,#cbdede,#c2d8d8,#b2cece,#92a9b2,#8293a2,#8597a4,#8699a6,#8699a6,#7d8c9d,#656b84,#5c607c,#5f647f,#515170,#515170,#4f4f6d,#4e4e6b,#4b4b67,#4a4a66,#494965,#3e3e56,#35354a,#343448,#38384d,#353549,#323246,#2e2e3f,#252533,#20202d,#1e1e2a,#1d1d29,#1c1c27,#20202c,#1f1f2b,#1e1e2a,#1f1f2a,#1e1e29,#181821,#13131a,#111118,#111118,#13131b,#16161e,#191923,#1b1b25,#1b1b25,#1c1c27,#1b1b25,#191923,#181821,#171720,#14141c,#121219,#101016,#0d0d12,#0c0c11,#0c0c10,#0a0a0e,#0a0a0e,#0b0b0f,#0d0d12,#0e0e14,#0d0d11,#0b0b0f,#0a0a0e,#0b0b0f,#0d0d12,#0c0c11,#0c0c11,#0e0e14,#101016,#111117,#101017,#0f0f14,#0d0d12,#0b0b0f,#07070a,#050507,#020203,#020203,#020203,#020203,#040406,#08080b,#0b0b0f)"></i>
<i style="background:linear-gradient(90deg,#9bb6bb,#9cb8bc,#a4c2c4,#99b4b9,#94acb4,#95aeb5,#93abb3,#9cb7bb,#92aab2,#93abb3,#93abb3,#92a9b2,#96afb5,#a3c1c3,#b1cece,#b5d0d0,#a4c2c4,#97b1b7,#96b0b6,#9ab5ba,#9fbcbf,#a6c5c5,#a7c7c7,#afcccc,#c0d7d7,#9ebbbe,#97b1b7,#9fbcbf,#9db9bd,#9db9bd,#7e8e9e,#748194,#8699a6,#7d8c9c,#8193a1,#91a8b1,#9ab4b9,#a0bdc0,#8ba0ab,#a5c4c5,#99b4b9,#a1bec0,#94acb4,#9fbcbf,#aac9c9,#a5c4c5,#9ab5ba,#90a7b0,#a5c5c5,#92a9b1,#8a9eaa,#8fa5af,#798899,#90a7b0,#9cb8bc,#96b0b6,#a0bdc0,#8fa6af,#92aab2,#9fbbbf,#9ab5ba,#99b3b9,#aac9c9,#a3c1c3,#a1bec0,#a3c1c3,#b6d0d0,#c2d8d8,#9cb7bb,#8597a4,#a1bfc1,#aecccc,#99b3b9,#879aa7,#8ca2ac,#9db9bd,#9bb7bb,#9ebabe,#9cb7bb,#96afb6,#94acb4,#8da3ad,#8497a4,#8597a5,#7f909f,#8192a1,#93abb3,#99b4b9,#a2bfc1,#a6c6c6,#a0bdc0,#8da3ad,#90a7b0,#99b4b9,#9fbcbf,#92aab2,#8ca2ac,#a6c5c6,#bed5d5,#accaca,#adcbcb,#92aab2,#7d8d9d,#788698,#7f909f,#90a7b0,#9ab5ba,#91a9b1,#95adb5,#899ea9,#93abb3,#8ea4ae,#9cb7bb,#b6d1d1,#a9c9c9,#a7c7c7,#b6d1d1,#b6d0d0,#a5c4c5,#98b1b7,#90a8b0,#9cb8bc,#9dbabd,#93acb3,#8496a4,#7d8d9d,#788698,#737e92,#6d768d,#565776,#494965,#474763,#4a4a66,#484863,#43435c,#3f3f56,#44445e,#474762,#464660,#3d3d54,#38384e,#36364a,#353549,#313143,#2b2b3b,#2a2a3a,#292938,#262634,#22222f,#1c1c27,#1b1b25,#1b1b26,#1b1b25,#1b1b25,#181822,#16161e,#15151c,#16161f,#15151d,#15151d,#16161e,#16161e,#171720,#171720,#13131a,#101017,#0f0f14,#0b0b10,#09090d,#09090d,#08080a,#08080a,#0a0a0d,#0c0c10,#0c0c10,#0c0c11,#0a0a0e,#09090d,#0c0c10,#101017,#14141c,#14141c,#121218,#0f0f14,#09090d,#050506,#020203,#020203,#020203,#020203,#060609,#0b0b0f,#0f0f15,#121219,#121219,#111118,#0f0f15,#0e0e14,#0f0f15,#101017)"></i>
<i style="background:linear-gradient(90deg,#93abb3,#8ca1ac,#7c8b9c,#8ba0ab,#9fbcbf,#9cb7bc,#a4c3c4,#a4c2c4,#9bb6bb,#a2bfc2,#a2bfc2,#90a7b0,#8294a2,#899da9,#97b0b6,#a0bdc0,#8ea5ae,#7c8b9c,#687088,#717c91,#91a9b1,#94adb4,#7a8899,#8496a4,#99b3b9,#93acb3,#9ab5ba,#a3c1c3,#94acb4,#95adb4,#8a9faa,#8294a2,#8395a3,#7b8b9b,#95adb5,#93abb3,#9cb7bc,#93acb3,#a6c5c6,#8ba0aa,#97b0b6,#92aab2,#8da3ad,#7b8a9b,#8fa5af,#92a9b2,#9ab5ba,#abc9c9,#94adb4,#97b0b7,#8da3ad,#8294a2,#96afb6,#a3c1c2,#8fa5ae,#92aab2,#8fa6af,#90a6af,#99b3b9,#8fa6af,#8294a2,#8598a5,#7f909f,#788598,#7a8899,#8ea5ae,#8da3ad,#8ba0ab,#95adb5,#98b2b8,#90a8b0,#8193a1,#8da3ad,#90a7b0,#91a8b1,#91a8b0,#8fa5af,#9db8bc,#9fbbbf,#91a8b1,#92aab2,#9cb7bc,#a0bdc0,#8fa5af,#91a8b1,#96afb6,#94acb3,#9fbcbf,#b4cfcf,#9db9bd,#8ca1ac,#8497a4,#8699a6,#8da3ad,#94adb4,#9bb6bb,#9cb8bc,#adcbcb,#a5c4c5,#9ab5ba,#93abb3,#8da3ad,#8ba1ab,#8293a2,#778497,#6d778d,#7b8a9b,#94acb4,#98b2b8,#9ab5ba,#a0bdc0,#a3c1c3,#c4dada,#c3d9d9,#c3d9d9,#b1cdcd,#a6c5c6,#a4c3c4,#98b2b8,#8597a5,#8395a3,#8496a3,#788698,#798799,#727d92,#6e788e,#6f7a8f,#697189,#636983,#5e637e,#4f4f6e,#484864,#484863,#43435d,#3b3b52,#3e3e56,#3f3f58,#3d3d55,#3b3b52,#353549,#2e2e40,#292938,#252533,#1f1f2b,#1f1f2a,#252533,#282837,#252533,#22222f,#1f1f2b,#1f1f2b,#1c1c27,#191923,#16161f,#14141c,#121219,#0e0e13,#0b0b0f,#08080c,#09090d,#0c0c10,#0f0f14,#121219,#15151d,#191922,#1a1a23,#181821,#181822,#191923,#1b1b25,#1d1d28,#1e1e2a,#20202c,#1e1e2a,#1c1c27,#1a1a24,#181820,#14141c,#111117,#0d0d12,#0a0a0d,#07070a,#050507,#020203,#020203,#020203,#040405,#040406,#040405,#050506,#040406,#040406,#050507,#060609,#09090c,#0a0a0d,#08080c,#07070a,#07070a,#07070a)"></i>
<i style="background:linear-gradient(90deg,#8ea4ad,#99b3b8,#a2c0c2,#a1bfc1,#9ab5ba,#97b0b7,#8496a4,#8193a1,#869aa6,#8fa6af,#7f909f,#7f8f9e,#92aab2,#9cb8bc,#93acb3,#8fa6af,#9db9bd,#96afb6,#8ba0ab,#9ab4b9,#aecbcb,#96afb6,#8a9eaa,#9fbcbf,#a1bfc1,#8a9faa,#8da2ad,#8497a4,#96b0b6,#aac9c9,#8598a5,#8699a6,#7f8f9f,#90a7b0,#a1bec1,#96afb6,#8091a0,#7e8e9d,#8597a4,#94acb4,#99b4b9,#b8d2d2,#a1bfc1,#a7c7c7,#95adb4,#92aab2,#8ba1ab,#8a9faa,#95aeb5,#8ca1ac,#8fa6af,#a1bec1,#90a7b0,#90a7b0,#a3c1c3,#8da3ad,#8497a4,#93acb3,#99b4b9,#99b3b9,#bad3d3,#a7c6c7,#96afb6,#9cb7bc,#96afb6,#9db9bd,#9ebabe,#9bb6bb,#a0bdc0,#accaca,#afcccc,#96afb6,#7a8899,#889ba8,#a7c7c7,#a3c1c3,#8ca1ac,#879ba7,#93abb3,#aac9c9,#a9c8c8,#a1bec1,#8ba0ab,#758295,#768396,#879ba7,#adcbcb,#b7d1d1,#a3c1c3,#99b3b9,#8293a2,#748094,#8294a2,#899da9,#9ebabe,#a3c2c3,#9fbcbf,#adcbcb,#b4cfcf,#91a9b1,#7f8f9e,#899da9,#889ca8,#8091a0,#778597,#788698,#8a9faa,#99b4b9,#a5c4c5,#bed6d6,#c5dada,#a5c4c5,#9fbbbf,#a0bdc0,#a5c4c5,#b7d1d1,#b2cece,#a9c9c9,#a6c5c6,#a3c2c3,#93acb3,#8a9faa,#8699a5,#7c8c9c,#748094,#5d617d,#5d617d,#595c79,#565776,#595b79,#4b4b67,#3c3c53,#3d3d54,#3c3c53,#3d3d54,#404059,#343448,#2a2a3a,#2b2b3c,#282837,#242431,#262634,#21212e,#1c1c27,#1d1d28,#22222f,#232330,#1f1f2a,#1d1d28,#1b1b25,#171720,#14141c,#111118,#101016,#111118,#13131a,#121219,#101017,#0e0e13,#0d0d12,#0c0c11,#0a0a0e,#0c0c11,#0d0d11,#0b0b0f,#0b0b0f,#0b0b10,#0a0a0d,#08080b,#07070a,#09090c,#0a0a0e,#09090d,#09090c,#070709,#060609,#070709,#070709,#060608,#050507,#050507,#050507,#040406,#040406,#040406,#020203,#020203,#020203,#020203,#020203,#020203,#020203,#020203,#040405,#050508,#060609,#060608,#040406,#040405,#030304)"></i>
<i style="background:linear-gradient(90deg,#8ba0ab,#7f909f,#8598a5,#92a9b2,#8da3ad,#8a9ea9,#96afb6,#a2c0c2,#a4c3c4,#a3c1c3,#94adb4,#8da2ac,#9db9bd,#accaca,#a9c8c8,#9bb6bb,#8fa6af,#95aeb5,#98b3b8,#95afb5,#9ab5ba,#9db9bd,#97b1b7,#92aab2,#899ea9,#8ea4ad,#b1cdcd,#a2bfc2,#95adb5,#8598a5,#8496a4,#91a9b1,#899ea9,#99b3b9,#8ca1ac,#a3c1c3,#97b0b7,#9bb5ba,#8395a3,#8598a5,#879ba7,#8fa6af,#a1bfc1,#899ea9,#8293a2,#7d8d9d,#90a7b0,#9ebabe,#8a9faa,#96b0b6,#9bb7bb,#8ca2ac,#90a6b0,#9cb7bc,#9fbbbe,#9fbbbe,#a7c7c7,#9ebabe,#93abb3,#94adb4,#9bb6bb,#9bb6ba,#96b0b6,#93abb3,#9bb6bb,#8ca2ac,#8699a6,#8da2ad,#90a7b0,#93abb3,#8ba0ab,#8497a4,#94adb4,#a5c4c5,#9ab4ba,#7f8f9f,#7d8d9d,#889da8,#94adb4,#92a9b1,#8ea4ae,#8192a1,#80909f,#899da9,#9bb6bb,#a1bec1,#bad3d3,#c6dbdb,#a7c7c7,#8ca2ac,#778597,#7b8a9b,#8ba0ab,#a3c2c3,#accaca,#a0bdbf,#8294a2,#7a8899,#8395a3,#96afb6,#95aeb5,#879ba7,#7b8a9b,#737e92,#778496,#8293a1,#97b1b7,#a3c1c3,#adcbcb,#c9dddd,#d5e4e4,#c9dcdc,#c9dddd,#cddfdf,#c8dcdc,#c3d9d9,#d0e1e1,#cfe0e0,#a8c8c8,#8a9eaa,#7b8a9b,#7b8a9b,#758195,#7e8e9d,#8192a1,#748094,#5b5e7b,#5f637f,#636983,#646a84,#646a84,#616681,#535372,#44445d,#3e3e55,#3f3f57,#3d3d55,#323246,#2c2c3d,#2a2a3b,#242432,#232330,#292938,#2f2f41,#333346,#37374c,#37374d,#323245,#2a2a39,#22222f,#20202d,#262635,#2d2d3e,#2e2e40,#2f2f41,#2e2e40,#2d2d3e,#2a2a3a,#292939,#292938,#282837,#262635,#262634,#242431,#21212d,#20202c,#21212e,#232330,#262634,#2a2a3a,#2e2e3f,#303043,#2f2f40,#2b2b3b,#272736,#22222f,#1d1d28,#191923,#16161f,#121219,#0e0e13,#08080b,#040405,#020203,#030305,#060608,#08080b,#09090d,#0a0a0e,#0a0a0d,#09090d,#08080b,#070709,#07070a,#0a0a0d,#0c0c11,#0d0d12,#0e0e13,#0c0c11,#09090d)"></i>
<i style="background:linear-gradient(90deg,#98b2b8,#a3c1c3,#afcccc,#a5c4c5,#a1bec1,#a9c9c9,#a3c1c3,#91a9b1,#99b3b9,#a8c8c8,#b1cdcd,#96afb6,#879aa7,#96afb6,#aecbcb,#abcaca,#96afb5,#9ab5ba,#9db9bd,#92aab2,#9ab5ba,#a4c3c4,#97b0b7,#97b1b7,#899da8,#8ba0ab,#a0bdc0,#92a9b2,#95aeb5,#8193a1,#8ba0ab,#8fa6af,#a3c1c3,#a6c5c6,#aecbcb,#8b9faa,#8395a3,#727d92,#8597a4,#8394a2,#798799,#737f93,#8598a5,#a0bdc0,#99b3b9,#a6c6c6,#b5d0d0,#a8c8c8,#a7c7c7,#8fa6af,#889ca8,#a3c1c3,#a9c8c8,#9ebabe,#a9c8c8,#accaca,#889da8,#7e8e9e,#8a9faa,#a0bdc0,#9cb7bc,#90a8b0,#8a9faa,#8497a4,#869aa6,#8193a1,#879ba7,#98b2b8,#9bb6ba,#94acb3,#93abb3,#98b3b8,#a1bec0,#9fbbbf,#94acb4,#9bb6bb,#a5c5c5,#a2c0c2,#97b1b7,#889ca8,#8a9faa,#879ba7,#889da8,#92aab2,#a3c1c3,#aecccc,#a4c3c4,#96afb6,#899ea9,#8496a4,#8091a0,#8496a3,#92aab2,#9db9bd,#a4c3c4,#a7c6c7,#a4c3c4,#9cb7bc,#9db9bd,#9cb7bc,#8ca2ac,#7b8a9b,#768496,#7d8d9d,#778497,#7e8e9e,#95aeb5,#a2bfc1,#a9c9c9,#b2cece,#bcd4d4,#accaca,#b1cece,#c8dcdc,#bfd6d6,#b6d1d1,#a2c0c2,#90a7b0,#899da9,#889ca8,#99b4b9,#9ab5ba,#92aab2,#8395a3,#758295,#6f798f,#6c758c,#646b84,#5a5c79,#515170,#4c4c69,#4e4e6b,#4f4f6d,#464660,#3f3f57,#3a3a51,#39394e,#39394f,#353549,#2f2f41,#2d2d3e,#292938,#282838,#282837,#242432,#22222f,#1e1e29,#1b1b25,#1b1b26,#1a1a23,#1b1b25,#1a1a24,#13131a,#0f0f15,#101016,#111118,#0f0f15,#0d0d13,#0f0f14,#0f0f15,#0e0e13,#0b0b0f,#09090d,#09090c,#09090c,#09090c,#09090c,#0a0a0d,#09090d,#08080b,#07070a,#060608,#060608,#060609,#060609,#060608,#060608,#060609,#060608,#050506,#050507,#050507,#050507,#040406,#040406,#060609,#08080a,#070709,#060608,#040406,#050506,#050506,#030305,#030304,#030305,#040405,#040406,#050506,#040406,#040406)"></i>
<i style="background:linear-gradient(90deg,#9db8bc,#98b2b8,#889ca8,#8ba0ab,#8da2ac,#96b0b6,#b7d1d1,#bcd4d4,#a0bec0,#93acb3,#95adb4,#9ebabe,#a2bfc2,#9dbabd,#accaca,#bdd5d5,#a8c8c8,#aecccc,#aac9c9,#8da3ad,#90a7b0,#8ba0aa,#758195,#899da9,#8fa6af,#96b0b6,#8699a6,#93abb3,#9cb8bc,#9fbcbf,#afcccc,#91a9b1,#8da3ad,#8497a4,#8ea5ae,#8a9ea9,#778597,#7f8f9f,#8497a4,#b4cfcf,#c0d7d7,#bcd5d5,#a1bec1,#8192a1,#94acb3,#9ab5ba,#92aab2,#a1bec1,#8fa5af,#8a9faa,#9cb8bc,#8ca1ac,#8192a1,#95afb5,#94adb4,#7c8b9c,#8192a0,#91a8b1,#8a9eaa,#869aa6,#889ba7,#8ea4ae,#9ab5ba,#95aeb5,#8ba0ab,#91a8b1,#9ebbbe,#97b1b7,#889ba8,#8496a4,#8ba0ab,#a0bdc0,#a5c4c5,#92aab2,#8ca1ab,#99b3b9,#b0cdcd,#c3d9d9,#afcccc,#9ab5ba,#97b1b7,#8a9eaa,#8ea4ae,#a4c2c4,#aac9c9,#98b2b8,#889ca8,#93abb3,#94adb4,#8b9faa,#90a7b0,#92aab2,#8fa6af,#8da3ad,#99b4b9,#aac9c9,#adcbcb,#a7c6c6,#95aeb5,#8598a5,#8597a4,#8192a1,#7e8e9e,#7c8c9c,#8192a0,#879ba7,#9bb6bb,#a9c8c8,#aac9c9,#abc9c9,#aecccc,#b8d2d2,#c8dcdc,#d0e1e1,#c3d9d9,#b4cfcf,#bad3d3,#b3cfcf,#97b0b7,#7e8e9e,#717c91,#748094,#8091a0,#7f909f,#778496,#748094,#6f7a8f,#666e86,#626781,#585978,#4d4d6a,#4d4d6b,#4d4d6a,#43435d,#3c3c52,#3e3e56,#3c3c52,#35354a,#35354a,#353549,#303042,#2b2b3c,#2a2a3a,#2b2b3b,#2b2b3b,#272736,#232331,#232330,#22222f,#20202d,#1d1d28,#1a1a24,#191923,#181821,#191923,#1d1d28,#1d1d28,#1d1d28,#1b1b25,#16161f,#13131a,#111117,#0e0e13,#0d0d12,#0d0d13,#0f0f14,#121218,#12121a,#101016,#111117,#15151d,#171720,#15151d,#13131b,#13131a,#111118,#0f0f15,#0e0e13,#0e0e14,#0d0d13,#0d0d12,#0f0f15,#111118,#121219,#111118,#101016,#0d0d12,#0a0a0e,#07070a,#050507,#060608,#08080a,#09090d,#0a0a0e,#0b0b0f,#0c0c10,#0b0b0f,#09090d,#08080b,#07070a)"></i>
<i style="background:linear-gradient(90deg,#8395a3,#96afb6,#92aab2,#94adb4,#9ab5ba,#97b1b7,#94adb4,#9ab5ba,#97b1b7,#8ea4ae,#97b1b7,#a9c8c8,#9fbcbf,#889ca8,#8ea4ae,#97b1b7,#90a7b0,#9bb5ba,#95aeb5,#7b8b9b,#8ca1ab,#869aa6,#8fa5af,#a2c0c2,#8da3ad,#91a8b1,#7f909f,#8da3ad,#92aab2,#b3cfcf,#a0bec0,#a2bfc2,#8fa5ae,#a3c1c3,#98b2b8,#b1cdcd,#accaca,#9bb6bb,#a3c1c2,#96afb6,#adcbcb,#bbd4d4,#c6dada,#deeaea,#b3cfcf,#bbd4d4,#d1e2e2,#b1cece,#bfd6d6,#d3e3e3,#b9d3d3,#a8c8c8,#abc9c9,#9fbcbf,#8ba1ab,#9db9bd,#c9dddd,#accaca,#8da3ad,#90a7b0,#95aeb5,#92aab2,#95aeb5,#a4c2c3,#b2cece,#a7c7c7,#a3c2c3,#97b1b7,#9ab5ba,#accaca,#bdd5d5,#b2cece,#97b1b7,#8ba1ab,#93abb3,#a7c6c7,#bfd6d6,#b0cccc,#8fa5af,#879aa7,#96b0b6,#b3cfcf,#d2e2e2,#deeaea,#c2d8d8,#a0bec0,#97b1b7,#8fa5af,#8ba0ab,#899da9,#8a9faa,#97b1b7,#a9c8c8,#bdd5d5,#c6dbdb,#c2d8d8,#b4cfcf,#a4c2c4,#97b1b7,#8496a4,#8192a1,#8ba0ab,#99b3b9,#a0bdc0,#9fbcbf,#9db9bd,#aac9c9,#afcccc,#aecbcb,#bbd4d4,#c3d9d9,#b8d2d2,#b7d1d1,#c4d9d9,#cddfdf,#c7dbdb,#c4d9d9,#cadddd,#b3cfcf,#9bb7bb,#94adb4,#8ba0ab,#8091a0,#7e8e9d,#788698,#6c758c,#6f798f,#6a7289,#5c5f7c,#585a78,#535373,#484863,#45455f,#4a4a66,#4d4d6b,#484863,#3e3e55,#333346,#323245,#303042,#2d2d3e,#2c2c3d,#2e2e3f,#2e2e3f,#2c2c3d,#2a2a3a,#272735,#232330,#1f1f2b,#1f1f2b,#1f1f2a,#1e1e2a,#1e1e29,#1c1c27,#1c1c26,#191923,#17171f,#16161f,#181821,#181821,#181821,#171720,#16161f,#14141c,#121218,#101016,#101016,#0e0e13,#0b0b0f,#09090d,#0b0b0f,#0b0b10,#0b0b0f,#0b0b0f,#0d0d12,#0f0f14,#101016,#101017,#111117,#121218,#12121a,#121219,#111117,#101016,#0f0f15,#0f0f14,#0e0e13,#0f0f14,#101016,#111117,#12121a,#15151d,#171720,#171720,#16161e,#13131a,#0f0f15,#0d0d12,#0a0a0e,#07070a)"></i>
<i style="background:linear-gradient(90deg,#8fa6af,#99b3b9,#8ea4ad,#8294a2,#8ea4ae,#9fbcbf,#a3c1c2,#a0bec0,#adcbcb,#adcbcb,#9ebabe,#9ab5ba,#90a8b0,#8192a1,#8193a1,#92aab2,#97b1b7,#b1cece,#bdd5d5,#a2c0c2,#b0cccc,#9fbcbf,#a4c3c4,#8ea5ae,#93abb2,#9db8bc,#a1bfc1,#aecbcb,#a0bdc0,#94acb3,#899da8,#788597,#8ba1ab,#95aeb5,#9ebabe,#8598a5,#98b2b8,#a5c5c5,#a0bdc0,#9ab4b9,#8294a2,#899ea9,#94acb4,#8fa5ae,#9fbcbf,#accaca,#a3c1c2,#9ebabe,#95aeb5,#9bb6ba,#bdd5d5,#d2e2e2,#c6dbdb,#a2c0c2,#92a9b2,#8da3ad,#8da3ad,#94adb4,#b0cdcd,#b8d2d2,#93acb3,#8ea5ae,#9fbbbf,#abcaca,#a5c4c5,#a3c1c2,#9ab5ba,#98b2b8,#a5c4c5,#a7c6c7,#a6c6c6,#a8c7c7,#9bb6bb,#9db9bd,#b3cfcf,#d0e1e1,#b5d0d0,#94acb3,#8fa5af,#92aab2,#a2c0c2,#b4d0d0,#bad3d3,#a4c2c4,#95aeb5,#91a8b1,#96b0b6,#95aeb5,#8da3ad,#8395a3,#889ca8,#97b1b7,#96afb6,#99b4b9,#a7c6c6,#9ebabe,#8da3ad,#8da3ad,#889ba7,#8091a0,#8192a0,#90a7b0,#9ab5ba,#a1bfc1,#a0bdc0,#a2c0c2,#b7d1d1,#b8d2d2,#aac9c9,#9ebabe,#a0bdc0,#c7dbdb,#e6efef,#d8e6e6,#cee0e0,#d6e5e5,#c0d7d7,#a3c1c3,#a1bec1,#9ebabe,#91a8b1,#8da3ad,#899da9,#899da9,#7f8f9e,#717c91,#626782,#5c607c,#606580,#5d617d,#555675,#4a4a66,#404059,#3d3d55,#3f3f58,#42425c,#43435d,#42425b,#3e3e56,#3c3c53,#404058,#42425b,#3e3e56,#39394f,#343448,#303043,#303042,#2f2f41,#2b2b3b,#252534,#21212e,#1b1b25,#171720,#191923,#191923,#191923,#1a1a24,#181821,#17171f,#171720,#1a1a24,#1c1c27,#1c1c27,#1d1d28,#1e1e29,#1e1e2a,#1e1e2a,#1e1e2a,#1e1e2a,#1d1d28,#1c1c26,#1b1b25,#191923,#181822,#17171f,#15151d,#15151d,#15151d,#15151d,#15151c,#15151c,#14141b,#14141c,#16161f,#181821,#171720,#14141c,#121219,#0e0e13,#08080b,#040405,#020203,#020203,#020203,#020203,#020203,#030305,#030304,#020203,#020203)"></i>
<i style="background:linear-gradient(90deg,#a1bec1,#a1bec1,#8da3ad,#798899,#7e8e9e,#95adb5,#a3c1c3,#9bb7bb,#95aeb5,#a9c8c8,#a8c7c7,#a5c4c5,#bad3d3,#a6c6c6,#99b3b9,#9cb8bc,#91a8b1,#a0bec0,#a0bcbf,#95adb5,#99b4b9,#8da3ad,#97b0b6,#8294a2,#93abb3,#99b4b9,#b5d0d0,#8da3ad,#91a9b1,#8ba0ab,#a5c3c4,#9bb6bb,#a2c0c2,#a3c1c2,#91a9b1,#a2bfc2,#99b3b8,#abc9c9,#aecccc,#8fa6af,#99b4b9,#93abb3,#8a9faa,#b2cece,#accaca,#91a8b0,#90a7b0,#8699a6,#8091a0,#96afb6,#a2c1c2,#93abb3,#8ca1ac,#9ab5ba,#97b0b7,#8fa5ae,#95aeb5,#a3c1c2,#aac9c9,#a1bec0,#91a9b1,#8fa6af,#9cb8bc,#a5c4c5,#8a9ea9,#788598,#8192a1,#91a8b1,#a7c7c7,#b6d1d1,#a1bec1,#9db8bc,#a6c5c5,#a9c9c9,#a6c6c6,#9ab5ba,#7f8f9f,#6a728a,#707a90,#8496a4,#98b2b8,#a2bfc2,#9cb7bb,#94acb4,#a4c3c4,#b5d0d0,#a3c2c3,#a2c0c2,#a5c4c5,#a0bec0,#9db9bd,#9ab5ba,#96afb6,#a1bec1,#bdd5d5,#b2cece,#a6c6c6,#98b2b8,#8394a2,#8293a1,#8699a6,#90a7b0,#9fbcbf,#a5c4c5,#a1bec0,#a2c0c2,#a9c8c8,#b6d0d0,#b8d2d2,#d4e4e4,#ffffff,#f0f6f6,#b2cece,#95aeb5,#93abb3,#a8c8c8,#b3cfcf,#9bb7bb,#9db9bd,#9fbbbe,#889ca8,#7a899a,#80909f,#879aa7,#8193a1,#768396,#697289,#5f637f,#5d617d,#5f637f,#585978,#525271,#525271,#4f4f6c,#43435d,#3c3c53,#3d3d54,#41415a,#3e3e55,#333346,#292938,#252533,#232330,#232330,#232330,#20202c,#1b1b25,#171720,#181821,#1b1b25,#1d1d28,#1d1d28,#1c1c27,#1c1c26,#1a1a24,#191923,#191923,#171720,#14141b,#111118,#13131a,#13131b,#111118,#0e0e14,#0e0e13,#0e0e13,#0d0d12,#0d0d12,#0e0e13,#101016,#111117,#101016,#101016,#101016,#0e0e14,#0b0b10,#0a0a0e,#0a0a0e,#0b0b0f,#0c0c11,#0d0d12,#0e0e13,#0f0f15,#0f0f15,#0d0d12,#0c0c11,#0d0d12,#0e0e13,#0f0f14,#0e0e13,#0c0c11,#0a0a0e,#08080a,#050507,#030304,#020203,#020203,#020203,#020203,#020203)"></i>
<i style="background:linear-gradient(90deg,#93abb3,#93abb3,#a2bfc1,#a3c1c3,#8ca2ac,#7a899a,#8294a2,#96afb5,#95adb4,#92aab2,#8699a6,#8293a2,#9cb8bc,#97b1b7,#90a7b0,#9db9bd,#9cb7bc,#b7d1d1,#a2c0c2,#abcaca,#9cb8bc,#9fbcbf,#94adb4,#879aa7,#8da2ac,#a1bec0,#a0bdc0,#adcbcb,#a0bdc0,#a4c3c4,#96b0b6,#b2cece,#a2c0c2,#a4c2c4,#9dbabd,#8395a3,#8fa5af,#92a9b1,#98b2b8,#a9c8c8,#95aeb5,#8da3ad,#9cb8bc,#9db9bd,#9bb6bb,#99b3b8,#8294a2,#768396,#879ba7,#97b0b7,#9ebabd,#a1bec1,#a6c6c6,#a4c2c3,#93abb3,#8da3ad,#95adb5,#9cb7bc,#97b1b7,#8ca2ac,#93abb3,#98b2b8,#8da2ac,#8192a0,#7b8a9b,#8699a6,#98b2b8,#9fbcbf,#94adb4,#8da3ad,#98b2b8,#a7c6c7,#bcd4d4,#c8dcdc,#c9dcdc,#c0d7d7,#a9c8c8,#98b2b8,#96afb6,#9ebbbe,#a5c5c5,#a3c1c3,#a0bcbf,#97b0b6,#8192a0,#7d8d9d,#8598a5,#8ba0ab,#9db9bd,#aecccc,#b5d0d0,#cfe0e0,#e2ecec,#c2d8d8,#9cb7bb,#8ea4ae,#8ba0ab,#8395a3,#899da9,#9bb6bb,#9fbcbf,#a0bdc0,#aecbcb,#b6d0d0,#b0cdcd,#adcbcb,#a6c6c6,#9cb7bc,#9ebabe,#a8c7c7,#aecccc,#c0d7d7,#bfd6d6,#adcbcb,#c3d9d9,#d3e3e3,#bcd4d4,#a4c3c4,#9bb6bb,#9bb6bb,#93abb3,#8a9eaa,#7f8f9f,#737f93,#727e92,#6c758c,#626882,#555575,#4d4d6b,#51516f,#4f4f6e,#484864,#464660,#45455f,#3e3e55,#38384d,#333347,#2e2e40,#2a2a3a,#282837,#262634,#232331,#242432,#282838,#2a2a3a,#272736,#22222f,#1f1f2b,#1f1f2a,#20202c,#1f1f2b,#1c1c26,#181822,#16161e,#13131b,#13131b,#171720,#191922,#171720,#17171f,#171720,#15151d,#121219,#13131a,#13131a,#12121a,#111117,#0e0e14,#0f0f14,#101016,#101016,#0f0f14,#101016,#101017,#0f0f15,#0f0f15,#101016,#101016,#101016,#101016,#101016,#0f0f15,#0e0e13,#0b0b0f,#09090d,#07070a,#060608,#060608,#060608,#040406,#040405,#040405,#030305,#030305,#050506,#050507,#040406,#030304,#020203,#020203)"></i>
<i style="background:linear-gradient(90deg,#a4c3c4,#a2c0c2,#a4c3c4,#b1cece,#c2d8d8,#c4dada,#bad3d3,#a2c0c2,#8fa6af,#9cb7bc,#9bb6bb,#93abb3,#a1bfc1,#94adb4,#9fbbbf,#a4c3c4,#9ab4b9,#a2c0c2,#8ba1ab,#8fa6af,#7c8b9b,#91a8b1,#97b0b7,#bed6d6,#a4c3c4,#a1bec1,#8ea4ae,#99b3b8,#92a9b2,#92aab2,#a3c1c3,#97b1b7,#9bb6bb,#899da8,#8598a5,#96afb6,#97b0b6,#aac9c9,#a7c7c7,#8fa5ae,#90a7b0,#8ca1ac,#889ca8,#a4c2c3,#b6d1d1,#a3c1c3,#a0bec0,#a3c1c3,#99b3b9,#97b1b7,#b1cece,#c0d7d7,#9bb6bb,#869aa6,#8da3ad,#a0bdc0,#a4c2c3,#97b1b7,#90a7b0,#9ab5ba,#a5c4c5,#97b0b7,#8b9faa,#97b1b7,#a2bfc1,#a4c3c4,#bad3d3,#cbdede,#bcd5d5,#bbd3d3,#c9dcdc,#c8dcdc,#bed5d5,#accaca,#9cb7bc,#92aab2,#8ca1ac,#8a9faa,#92a9b1,#9ebabe,#a4c3c4,#9fbcbf,#9cb8bc,#98b2b8,#91a8b0,#8ea4ae,#889ca8,#8ba0ab,#9db9bd,#aac9c9,#b0cdcd,#b2cece,#b7d1d1,#b3cfcf,#a6c6c6,#97b1b7,#8699a6,#7d8d9d,#7d8d9d,#8597a5,#8ca2ac,#97b0b6,#a6c6c6,#b5d0d0,#aac9c9,#a4c3c4,#b9d2d2,#c5dada,#c1d8d8,#ccdfdf,#e1ecec,#f6f9f9,#ffffff,#ebf2f2,#bfd6d6,#accaca,#a3c1c3,#98b2b8,#99b4b9,#9ebabe,#99b3b9,#8fa5af,#8092a0,#748094,#6b748b,#636983,#616681,#5e627e,#5a5c79,#545574,#474763,#42425c,#454560,#464660,#464661,#454560,#44445e,#43435d,#3f3f57,#39394f,#36364a,#333347,#303043,#2e2e40,#2c2c3d,#2a2a3a,#2a2a39,#262634,#20202c,#1e1e29,#1e1e29,#1d1d28,#1c1c27,#1b1b26,#1b1b25,#1a1a24,#191922,#1a1a23,#1a1a24,#17171f,#13131a,#111117,#0f0f15,#0d0d12,#0c0c10,#0c0c10,#0e0e13,#101016,#111118,#121219,#121218,#111117,#0f0f15,#0e0e13,#0d0d12,#0b0b10,#09090c,#070709,#050507,#050507,#050507,#050507,#040406,#040405,#040405,#040406,#050507,#060608,#050507,#050507,#07070a,#09090d,#0a0a0d,#0a0a0e,#09090d,#08080a,#060608,#050507,#040405,#030304)"></i>
<i style="background:linear-gradient(90deg,#96afb6,#b5d0d0,#b8d2d2,#c6dbdb,#d7e6e6,#b4cfcf,#a3c2c3,#b3cece,#a1bec1,#a3c2c3,#96afb6,#8da4ad,#a7c7c7,#96afb6,#92aab2,#7b8a9b,#8293a2,#8598a5,#8699a6,#8ea5ae,#96b0b6,#9bb6bb,#a6c6c6,#a1bec0,#a3c1c2,#93acb3,#accaca,#9ab4ba,#a0bdbf,#9ab4b9,#95aeb5,#92aab2,#8091a0,#8ea4ae,#92aab2,#8ca2ac,#9fbcbf,#90a7b0,#8395a3,#99b4b9,#94adb4,#8496a4,#99b3b9,#a0bdc0,#8496a3,#798899,#8ba0ab,#92a9b1,#8da3ad,#94adb4,#9bb7bb,#97b0b7,#92aab2,#9bb6ba,#a3c2c3,#9db8bc,#90a6af,#95aeb5,#abc9c9,#b5d0d0,#a1bfc1,#8da4ad,#8da3ad,#9db9bd,#adcbcb,#a8c7c7,#93abb3,#8395a3,#8091a0,#8192a1,#8ba0ab,#9db9bd,#a7c7c7,#a3c1c3,#93abb3,#8699a6,#869aa6,#93abb3,#a9c9c9,#aecbcb,#a0bdc0,#a3c1c3,#a3c1c2,#94adb4,#8597a5,#8497a4,#96b0b6,#aac9c9,#b8d2d2,#bdd5d5,#c0d7d7,#bcd4d4,#aac9c9,#a6c5c5,#a6c6c6,#a1bec1,#91a8b1,#8395a3,#8294a2,#8a9faa,#8a9faa,#8396a3,#8ca2ac,#a8c7c7,#cfe0e0,#c7dbdb,#a6c5c6,#9ab4b9,#9db9bd,#a9c8c8,#aecbcb,#b6d1d1,#c8dcdc,#cddfdf,#c2d8d8,#b8d2d2,#b2cece,#a0bdc0,#8da2ac,#8598a5,#7f8f9f,#6f7a8f,#616580,#595c79,#5c5e7b,#5c607c,#575977,#545474,#4f4f6d,#4a4a67,#474762,#44445e,#43435c,#41415a,#3a3a50,#313143,#2d2d3f,#2d2d3e,#2d2d3e,#2e2e40,#2d2d3e,#272736,#22222e,#21212e,#242432,#252533,#242432,#22222f,#1f1f2b,#1e1e29,#1d1d28,#1c1c26,#1c1c26,#1b1b25,#1a1a24,#1a1a24,#181820,#15151e,#14141c,#13131b,#111118,#0f0f15,#0f0f14,#101016,#101017,#101016,#0e0e13,#0d0d12,#0c0c11,#0b0b0f,#0a0a0e,#09090d,#08080b,#07070a,#07070a,#09090d,#0a0a0d,#08080c,#08080a,#07070a,#07070a,#08080a,#08080b,#08080b,#08080b,#07070a,#060608,#050507,#050507,#050507,#050507,#050507,#050506,#040406,#050506,#040406,#040406,#050507,#050507,#040405)"></i>
<i style="background:linear-gradient(90deg,#8294a2,#93acb3,#9fbbbe,#9ab4ba,#a2c0c2,#90a7b0,#7c8b9c,#80909f,#7c8c9c,#9bb7bb,#b6d1d1,#bbd4d4,#b4cfcf,#93abb3,#a0bdc0,#90a7b0,#94adb4,#8293a1,#9ab5ba,#98b2b8,#bcd4d4,#a2c0c2,#b0cdcd,#9bb6bb,#a2c0c2,#9ebabe,#8a9eaa,#8da3ad,#7c8c9c,#8ca1ac,#94acb4,#92aab2,#accaca,#a2c0c2,#9bb7bb,#a5c5c5,#98b2b8,#93abb3,#9bb6ba,#92a9b1,#96afb6,#aac9c9,#a1bec0,#93abb2,#9ebbbe,#b2cece,#a0bdc0,#8ea4ae,#8ea4ae,#94acb4,#8497a4,#758295,#7e8f9e,#8ea4ae,#95aeb5,#8ea5ae,#8ca2ac,#97b0b7,#a2bfc1,#9bb7bb,#8fa5af,#90a7b0,#98b2b8,#8ea4ae,#8598a5,#8a9eaa,#93abb3,#96afb5,#91a8b0,#8fa5af,#91a8b1,#9ab5ba,#9dbabd,#8ba0ab,#798799,#7b899a,#8598a5,#9db9bd,#b9d2d2,#b4cfcf,#a5c5c5,#a2c0c2,#97b1b7,#8497a4,#899ea9,#96afb6,#94adb4,#97b0b6,#9ab5ba,#96b0b6,#9ab5ba,#9bb7bb,#91a8b0,#90a7b0,#96afb6,#99b3b9,#97b1b7,#91a8b1,#8a9faa,#879ba7,#879ba7,#889ca8,#92aab2,#afcccc,#c6dbdb,#c4dada,#c8dcdc,#c7dbdb,#c1d7d7,#b7d1d1,#adcbcb,#a5c4c5,#a9c8c8,#cfe0e0,#d6e5e5,#9ebbbe,#7e8e9e,#7e8e9e,#8699a6,#879ba7,#8496a4,#7a899a,#788698,#727d92,#697189,#656c85,#656b85,#636983,#5e627e,#575876,#535373,#535373,#535373,#525271,#4a4a67,#42425b,#3d3d55,#3e3e55,#3b3b52,#36364a,#343448,#333347,#2e2e3f,#282838,#272736,#282837,#242431,#20202c,#1f1f2b,#21212e,#252533,#262635,#272735,#252533,#20202c,#1e1e29,#1e1e2a,#1c1c26,#181822,#17171f,#16161e,#16161e,#16161f,#15151e,#14141c,#15151d,#16161e,#16161f,#16161f,#17171f,#16161e,#16161f,#17171f,#171720,#16161f,#16161e,#15151d,#13131a,#0f0f14,#0b0b0f,#09090d,#09090c,#07070a,#060608,#060608,#060608,#060608,#07070a,#09090c,#0a0a0e,#09090d,#09090c,#09090c,#0a0a0d,#0a0a0e,#0a0a0e,#0b0b0f,#0e0e13,#101016,#111118)"></i>
<i style="background:linear-gradient(90deg,#97b0b6,#95aeb5,#90a6af,#8598a5,#a5c4c5,#bdd5d5,#a6c5c6,#a8c8c8,#93abb3,#9fbcbf,#93abb3,#9cb8bc,#9db8bc,#9cb7bc,#9ebabe,#93abb3,#99b3b9,#9bb6bb,#99b3b9,#94acb3,#93abb3,#a2c0c2,#9db9bd,#bfd7d7,#a1bfc1,#a4c2c4,#99b4b9,#8da2ad,#92aab2,#7f909f,#8699a6,#8fa5ae,#8da2ac,#9fbcbf,#9db9bd,#90a7b0,#a3c1c3,#abc9c9,#9bb7bb,#a7c6c6,#b4cfcf,#99b3b8,#98b1b7,#c1d8d8,#d6e5e5,#b8d2d2,#a8c7c7,#a8c8c8,#9cb7bc,#889ca8,#8394a2,#9ebbbe,#bfd6d6,#a7c7c7,#98b2b8,#a2bfc1,#b3cece,#b2cece,#a0bdc0,#8ea5ae,#879ba7,#8ca1ac,#94acb4,#93acb3,#93acb3,#98b1b7,#a0bcbf,#b0cdcd,#bcd4d4,#b2cece,#9ab5ba,#899da9,#8395a3,#7e8e9e,#8192a0,#8b9faa,#8ca1ac,#8ba0ab,#91a8b0,#98b1b7,#99b4b9,#94adb4,#8b9faa,#879aa7,#8ea4ad,#9bb6bb,#a7c7c7,#b1cdcd,#b3cfcf,#bad3d3,#c8dcdc,#bed6d6,#a4c3c4,#97b1b7,#93acb3,#95adb5,#95adb4,#8fa6af,#8fa5af,#96afb6,#9ebabe,#a5c4c5,#aecccc,#adcbcb,#a9c8c8,#adcbcb,#b1cece,#abc9c9,#a6c5c6,#b5d0d0,#b6d0d0,#9fbcbf,#8fa5ae,#90a6af,#98b2b8,#92aab2,#8ca2ac,#8fa5ae,#8ca2ac,#879aa7,#7e8e9e,#6f798f,#6a738a,#737f93,#7f8f9f,#8496a4,#7d8d9d,#6c768c,#5a5c79,#4c4c69,#4a4a66,#515170,#575877,#545574,#4d4d6a,#484864,#42425b,#3b3b51,#38384e,#353549,#313144,#323245,#343447,#313144,#2a2a3a,#242431,#20202c,#1e1e2a,#1e1e2a,#1e1e29,#1c1c27,#1b1b25,#1b1b25,#1a1a24,#191922,#16161f,#121219,#0e0e14,#0e0e14,#111117,#111118,#101016,#0f0f14,#0e0e14,#0e0e14,#0e0e14,#0f0f14,#0e0e14,#0e0e13,#0e0e13,#101016,#121219,#14141b,#14141c,#14141b,#121219,#111118,#111117,#101016,#0e0e13,#0b0b10,#0a0a0e,#0a0a0e,#0a0a0e,#09090c,#08080b,#08080c,#09090c,#07070a,#060609,#07070a,#08080b,#07070a,#060608,#050507,#050507,#060608,#060608,#060608,#060608)"></i>
<i style="background:linear-gradient(90deg,#7d8c9c,#748094,#8497a4,#8192a0,#91a9b1,#9bb6bb,#9cb8bc,#a6c5c6,#8ba0ab,#8fa6af,#8395a3,#93acb3,#7f909f,#91a8b1,#92aab2,#a3c1c3,#92a9b2,#a7c7c7,#9ab5ba,#aac9c9,#94adb4,#94acb4,#91a8b1,#8699a6,#98b2b8,#99b3b9,#b3cfcf,#b6d0d0,#9bb7bb,#9bb6bb,#8699a6,#8091a0,#94acb4,#8a9eaa,#8293a2,#96afb6,#9bb6bb,#96afb6,#9db9bd,#94adb4,#8497a4,#92a9b2,#accaca,#a5c4c5,#99b3b9,#9fbbbf,#9dbabd,#8ba1ab,#7f909f,#899ea9,#9dbabd,#a4c2c3,#9bb6ba,#8da3ad,#91a8b1,#a0bdc0,#a4c2c4,#9ab4ba,#899da9,#8293a2,#8a9faa,#9ebabd,#b0cdcd,#b4cfcf,#a3c1c3,#96afb5,#8fa6af,#96b0b6,#a4c3c4,#a8c8c8,#a0bcbf,#90a7b0,#7f8f9f,#798798,#7e8e9e,#8497a4,#90a7b0,#a6c5c6,#bbd3d3,#b0cdcd,#a1bec1,#96afb6,#8fa6af,#94adb4,#9ab5ba,#9ab5ba,#95aeb5,#93acb3,#93abb3,#8ca1ac,#8a9eaa,#91a9b1,#99b4b9,#9ab5ba,#91a8b1,#8091a0,#6f7a8f,#6a738a,#6e788e,#727d92,#7c8b9c,#8598a5,#8a9eaa,#93acb3,#a3c1c3,#aac9c9,#a9c9c9,#b0cdcd,#b1cece,#accaca,#a5c4c5,#a7c6c7,#a8c8c8,#a5c4c5,#aac9c9,#b0cdcd,#abcaca,#a5c4c5,#9ab5ba,#889ca8,#7a899a,#798799,#737f93,#676f87,#636983,#666d86,#5d617d,#4e4e6b,#43435c,#3f3f57,#3c3c52,#36364b,#35354a,#39394f,#3b3b52,#3c3c53,#39394f,#323245,#2e2e3f,#2d2d3f,#2e2e3f,#2f2f41,#2e2e3f,#2b2b3c,#292939,#272735,#272736,#272736,#242432,#22222e,#20202c,#1e1e29,#1b1b26,#1b1b25,#1b1b26,#1b1b26,#1a1a25,#1a1a24,#1a1a24,#181822,#15151e,#14141b,#121219,#0f0f15,#0d0d12,#0d0d12,#0e0e13,#0e0e13,#0f0f14,#0f0f15,#0e0e14,#0e0e14,#101016,#111117,#111118,#111117,#0f0f15,#0e0e14,#0e0e13,#0e0e14,#0e0e14,#0d0d12,#0b0b10,#0a0a0e,#09090d,#08080a,#060608,#050507,#040406,#050507,#060609,#08080b,#09090c,#09090c,#09090c,#09090d,#09090c,#07070a,#060608,#050506)"></i>
<i style="background:linear-gradient(90deg,#a7c7c7,#a8c8c8,#bcd5d5,#9cb8bc,#aac9c9,#aac9c9,#bfd6d6,#d7e5e5,#b7d1d1,#b2cece,#a2c0c2,#c2d8d8,#aecbcb,#bad3d3,#9cb7bb,#9cb8bc,#a2c0c2,#a2c0c2,#a0bec0,#93abb3,#a3c1c3,#92aab2,#aecbcb,#c7dbdb,#b1cece,#adcbcb,#8ba0ab,#889ca8,#99b3b9,#90a7b0,#95aeb5,#a0bcbf,#94acb3,#98b2b8,#b1cdcd,#a9c8c8,#a6c5c6,#bdd5d5,#b8d2d2,#a5c4c5,#b0cdcd,#b4cfcf,#a4c3c4,#9fbcbf,#accaca,#b3cfcf,#9ebbbe,#92aab2,#97b0b7,#9ebabe,#a9c8c8,#a5c4c5,#93acb3,#8fa6af,#a3c1c3,#c0d7d7,#bad3d3,#a4c3c4,#a2bfc1,#b0cccc,#b7d1d1,#a6c5c6,#97b0b7,#8ca1ab,#8699a5,#879aa7,#8ea4ae,#9fbbbe,#b5d0d0,#b0cdcd,#97b0b7,#8699a6,#8ba0ab,#9ebbbe,#b5d0d0,#c3d9d9,#cbdede,#c8dcdc,#adcbcb,#9cb8bc,#9cb7bc,#9fbcbf,#a5c4c5,#b5d0d0,#c7dbdb,#d4e3e3,#d4e3e3,#c2d8d8,#aecccc,#a5c4c5,#98b2b8,#8b9faa,#8a9faa,#899ea9,#8395a3,#8293a2,#8497a4,#8395a3,#879aa6,#9bb6bb,#bad3d3,#bfd7d7,#b1cdcd,#aecccc,#a9c9c9,#a5c4c5,#b0cdcd,#c3d9d9,#c2d8d8,#b5d0d0,#b9d2d2,#c5dada,#cbdede,#c3d9d9,#b2cece,#a8c8c8,#a5c4c5,#a5c5c5,#a2c0c2,#98b2b8,#8da3ad,#8293a2,#798799,#758295,#707b90,#6a728a,#6a7289,#6b748b,#636983,#595c79,#545474,#525272,#555574,#545474,#4f4f6c,#484864,#464660,#454560,#41415a,#3a3a50,#353549,#323245,#333346,#353549,#333346,#2c2c3d,#272736,#262634,#232331,#1f1f2a,#1a1a23,#181821,#181821,#17171f,#16161e,#171720,#1a1a23,#1d1d28,#20202c,#21212d,#22222f,#252534,#272736,#272735,#242432,#21212e,#20202c,#21212d,#22222f,#232330,#232331,#232330,#20202c,#1c1c27,#1a1a24,#191923,#171720,#14141c,#111118,#0f0f14,#0c0c11,#09090c,#060609,#060608,#060608,#060608,#070709,#08080b,#08080b,#08080c,#0a0a0e,#0c0c11,#0d0d13,#0d0d12,#0c0c10,#0a0a0e,#08080c,#070709,#060608,#060609)"></i>
<i style="background:linear-gradient(90deg,#93abb3,#98b3b8,#b7d1d1,#99b4b9,#9fbbbf,#8ca2ac,#99b4b9,#9ab5ba,#a4c3c4,#97b1b7,#94adb4,#8ca1ac,#99b3b8,#8da3ad,#9bb6bb,#8da2ac,#a4c2c4,#9fbbbf,#b0cccc,#aecccc,#a4c2c4,#b9d2d2,#97b1b7,#93abb3,#8ca2ac,#8497a4,#a1bec0,#9cb7bb,#899ea9,#9bb6bb,#a2c0c2,#99b3b9,#a6c5c6,#a9c8c8,#98b2b8,#a2bfc1,#b5d0d0,#abcaca,#accaca,#c4d9d9,#c2d8d8,#abc9c9,#a9c9c9,#bbd4d4,#abcaca,#96afb6,#95aeb5,#a9c8c8,#b0cdcd,#94adb4,#7d8d9d,#7e8e9d,#95aeb5,#b7d1d1,#c2d8d8,#a7c6c7,#95aeb5,#97b0b7,#a6c5c6,#adcbcb,#9ebbbe,#92aab2,#8ea5ae,#93abb3,#99b3b9,#9db8bc,#a5c4c5,#b9d3d3,#b2cece,#90a7b0,#7a889a,#7c8c9c,#8a9faa,#9cb8bc,#a3c2c3,#92aab2,#7c8b9c,#798798,#8294a2,#8091a0,#7a899a,#7e8e9e,#899ea9,#98b3b8,#a7c6c7,#c5dada,#dbe8e8,#cbdede,#afcccc,#a1bfc1,#9bb6bb,#9ab4b9,#95adb4,#8a9faa,#8497a4,#8ca1ac,#a0bdc0,#b4cfcf,#afcccc,#a3c2c3,#a4c3c4,#b2cece,#ccdfdf,#e4eeee,#d5e4e4,#b6d1d1,#b3cfcf,#bfd6d6,#cee0e0,#d2e3e3,#cfe1e1,#c7dbdb,#bbd4d4,#afcccc,#a1bfc1,#93abb3,#8ca1ac,#94acb4,#a2c0c2,#a6c5c6,#9bb7bb,#8ba0ab,#7a899a,#6d768d,#666d86,#626782,#60647f,#5e627e,#5c607c,#5b5d7b,#5a5c7a,#5a5c7a,#575877,#515170,#4c4c69,#494965,#484863,#454560,#43435d,#42425c,#42425b,#43435d,#41415a,#3c3c54,#3b3b52,#3a3a51,#353549,#2d2d3f,#292939,#292938,#282837,#242432,#20202c,#1c1c26,#17171f,#13131a,#0e0e13,#08080c,#030305,#020203,#020203,#020203,#040406,#060608,#07070a,#09090c,#0b0b0f,#0f0f15,#13131a,#16161e,#181821,#1a1a24,#1b1b25,#1b1b25,#191922,#16161f,#15151d,#13131a,#121219,#111117,#0f0f15,#0f0f15,#101016,#121218,#15151d,#191923,#1c1c27,#1e1e2a,#1e1e2a,#1c1c27,#181821,#121219,#0c0c10,#07070a,#040406,#030304,#020203,#020203,#020203,#020203)"></i>
<i style="background:linear-gradient(90deg,#9fbcbf,#9db9bd,#a6c5c6,#90a7b0,#9fbbbf,#8da3ad,#9ab5ba,#8699a6,#91a8b1,#7e8e9e,#90a7b0,#8ca2ac,#aac9c9,#aac9c9,#b2cece,#aac9c9,#97b1b7,#a6c5c6,#99b4b9,#aac9c9,#a3c2c3,#90a7b0,#92aab2,#7e8e9e,#8091a0,#8da3ad,#798799,#758195,#7e8e9e,#7f8f9e,#8ea4ae,#a1bfc1,#9bb6bb,#96b0b6,#a2bfc1,#9bb6bb,#889ca8,#8ba0ab,#9ab5ba,#99b4b9,#92a9b2,#9cb7bc,#a9c8c8,#a2c0c2,#8ca1ac,#8294a2,#8a9faa,#8fa5ae,#869aa6,#7f8f9f,#889ca8,#9db8bc,#a1bec1,#90a7b0,#8090a0,#798799,#80909f,#95adb4,#a5c3c5,#a0bec0,#96b0b6,#8da3ad,#8497a4,#8294a2,#8a9faa,#92aab2,#95afb5,#93abb3,#8497a4,#768396,#798799,#8598a5,#8ea4ae,#92aab2,#97b0b6,#98b3b8,#8da3ad,#7e8e9e,#737f93,#748194,#8395a3,#94adb4,#a3c2c3,#b4cfcf,#c4dada,#d0e1e1,#c1d8d8,#a4c3c4,#98b2b8,#98b2b8,#9cb8bc,#98b3b8,#8ea4ae,#889ca8,#899ea9,#8ea4ad,#93abb3,#9cb7bc,#a5c3c4,#a5c5c5,#a0bdc0,#9ebabe,#a2c0c2,#a4c3c4,#a5c4c5,#a7c7c7,#afcccc,#b1cdcd,#a7c6c6,#9ebabe,#97b0b7,#8ba0ab,#8192a1,#8294a2,#8396a3,#7c8b9b,#798899,#8193a1,#889ca8,#8598a5,#798799,#727d92,#727e92,#748094,#717c91,#656c85,#565776,#515170,#5a5d7a,#616681,#5f647f,#5a5c7a,#50506f,#464661,#42425b,#3e3e55,#39394e,#37374d,#3a3a51,#3b3b52,#39394e,#36364b,#333347,#2f2f40,#2c2c3c,#2c2c3d,#2d2d3e,#2f2f41,#323246,#343448,#36364b,#3a3a50,#3b3b51,#38384d,#343448,#323246,#323245,#303042,#2e2e40,#2d2d3e,#2a2a3a,#252533,#21212d,#1b1b26,#16161f,#13131b,#111117,#0f0f15,#0e0e14,#101016,#121219,#14141b,#14141c,#15151d,#16161f,#171720,#171720,#181820,#181821,#181821,#16161e,#14141b,#13131a,#13131a,#13131a,#14141c,#16161f,#181821,#191923,#1a1a24,#181821,#14141c,#101016,#0d0d11,#0b0b0f,#09090d,#09090c,#09090c,#09090d,#0a0a0e)"></i>
<i style="background:linear-gradient(90deg,#8ca1ac,#9fbbbf,#b1cdcd,#a3c1c3,#abc9c9,#9fbcbf,#a8c8c8,#99b4b9,#94adb4,#879ba7,#8598a5,#99b4b9,#97b0b6,#b8d2d2,#a1bec0,#a5c5c5,#97b1b7,#92a9b2,#a7c7c7,#94acb4,#93abb2,#8fa6af,#7f909f,#8ea5ae,#99b4b9,#9cb7bc,#b6d0d0,#a5c5c5,#8ba0ab,#91a9b1,#9ab4ba,#96afb5,#9db9bd,#a3c1c3,#8fa6af,#7e8f9e,#899da9,#99b4b9,#9db9bd,#9fbcbf,#afcccc,#b4cfcf,#a4c2c4,#98b2b8,#9cb8bc,#b0cdcd,#b0cdcd,#92aab2,#798899,#7b8a9b,#92aab2,#a6c6c6,#a3c1c3,#8a9faa,#7f8f9f,#92aab2,#adcbcb,#b1cece,#a5c3c5,#99b3b8,#8fa6af,#91a8b0,#9ab5ba,#a2c0c2,#a4c3c4,#a4c3c4,#a2bfc1,#9ab5ba,#95aeb5,#9ab5ba,#a2c0c2,#a8c8c8,#b2cece,#b5d0d0,#a5c4c5,#93abb3,#8da3ad,#90a7b0,#8ba0ab,#8496a4,#8ba0ab,#9cb7bc,#a6c6c6,#a6c5c5,#a0bcbf,#99b3b9,#90a7b0,#8a9faa,#8fa6af,#94acb4,#91a8b1,#93abb3,#9bb6bb,#9fbcbf,#9ebbbe,#a0bdc0,#a4c3c4,#a6c5c6,#a5c4c5,#a9c8c8,#b8d2d2,#c4d9d9,#cadede,#c7dbdb,#b6d1d1,#abc9c9,#b0cdcd,#a5c4c5,#8da3ad,#8395a2,#8294a2,#7f8f9e,#8294a2,#95adb5,#accaca,#bfd6d6,#b6d1d1,#9cb8bc,#8ba0ab,#879ba7,#879aa7,#8294a2,#7d8d9d,#7d8c9c,#7a899a,#6d778d,#616681,#5d617d,#5a5c7a,#50506e,#494965,#494965,#4f4f6c,#525272,#4d4d6a,#42425b,#3c3c53,#3b3b52,#3a3a50,#38384d,#36364a,#333346,#303042,#2e2e3f,#2c2c3d,#282837,#252533,#252533,#262634,#252533,#232330,#20202c,#1d1d28,#1a1a24,#181821,#16161f,#17171f,#191923,#1d1d28,#21212d,#21212e,#21212d,#20202d,#21212d,#20202d,#1f1f2b,#1f1f2a,#1e1e2a,#1f1f2a,#1e1e2a,#1c1c27,#191922,#16161e,#13131a,#101016,#0d0d12,#0b0b0f,#0b0b0f,#0c0c11,#0d0d13,#0e0e13,#0e0e14,#0f0f15,#0f0f15,#0e0e14,#0e0e13,#0d0d12,#0d0d12,#0d0d12,#0c0c11,#0c0c11,#0d0d12,#101016,#13131a,#14141c,#15151d,#16161f,#181821,#181821,#171720)"></i>
<i style="background:linear-gradient(90deg,#8395a3,#97b0b7,#9bb7bb,#afcccc,#adcbcb,#c5dada,#a0bdc0,#9cb8bc,#889ba7,#9cb8bc,#8fa6af,#a1bec1,#9db8bc,#96afb6,#a5c4c5,#95aeb5,#a3c2c3,#9fbbbf,#9ab4b9,#b4cfcf,#a2c0c2,#9db8bc,#9fbbbf,#889ca8,#8a9eaa,#9db8bc,#96b0b6,#91a8b1,#95aeb5,#8fa5ae,#8ea4ae,#a1bec1,#a7c6c6,#95aeb5,#8ca2ac,#99b3b8,#a4c3c4,#a1bfc1,#9ebbbe,#a7c7c7,#a9c8c8,#97b1b7,#879aa7,#899da9,#92a9b1,#95aeb5,#8ea5ae,#879ba7,#8ea5ae,#99b4b9,#a0bec0,#a5c3c4,#a3c1c3,#9ebabe,#95aeb5,#8699a6,#7f8f9f,#8395a3,#8395a3,#8294a2,#8a9faa,#93abb3,#97b0b7,#9ab5ba,#9cb7bc,#91a9b1,#8699a6,#8a9faa,#9ab5ba,#abc9c9,#b1cdcd,#a9c8c8,#a5c3c4,#a2c0c2,#9db8bd,#91a9b1,#80909f,#758295,#7b8a9b,#8598a5,#8ea5ae,#97b1b7,#9ebabd,#98b2b8,#879ba7,#8294a2,#8ba0ab,#91a8b1,#91a9b1,#91a9b1,#90a7b0,#8ba0ab,#8193a1,#7e8f9e,#8a9faa,#99b4b9,#a3c1c3,#aac9c9,#b4cfcf,#b7d1d1,#afcccc,#a4c3c4,#a8c8c8,#bad3d3,#b0cccc,#94adb4,#879ba7,#93abb2,#a0bec0,#a3c1c3,#a5c3c5,#adcbcb,#abcaca,#9cb7bc,#8fa5af,#8ea5ae,#92aab2,#8da3ad,#8395a3,#7d8d9d,#798799,#758295,#778497,#768395,#6a738a,#5f637f,#5e617d,#5e637e,#5d617d,#5e627e,#606480,#5f637f,#5d617d,#5b5e7b,#565776,#4e4e6b,#454560,#3c3c53,#333347,#2f2f41,#2d2d3e,#292938,#262634,#232331,#1f1f2b,#1c1c26,#1c1c27,#1d1d27,#1a1a24,#171720,#15151e,#15151d,#15151e,#15151d,#14141b,#13131a,#15151c,#171720,#191922,#191923,#1a1a24,#1b1b25,#1c1c27,#1f1f2a,#21212d,#21212d,#1f1f2a,#1d1d28,#1e1e29,#1f1f2a,#1e1e2a,#1d1d28,#1c1c26,#191923,#171720,#15151e,#14141c,#121219,#0f0f15,#0e0e13,#0e0e13,#0d0d12,#0b0b0f,#0a0a0d,#0a0a0d,#0a0a0e,#0b0b0f,#0c0c11,#0e0e14,#101016,#111118,#14141b,#16161e,#16161f,#16161e,#14141c,#121219,#0f0f14,#0d0d12,#0d0d11)"></i>
<i style="background:linear-gradient(90deg,#7a899a,#9fbcbf,#8ea4ad,#97b1b7,#8ba0ab,#accaca,#a4c2c4,#b7d1d1,#b4cfcf,#a6c6c6,#a7c7c7,#8ba0ab,#97b0b7,#8da3ad,#8ca1ac,#94acb4,#8496a4,#90a7b0,#8fa6af,#8293a2,#9bb7bb,#b2cece,#aecbcb,#c6dbdb,#afcccc,#8ea4ae,#96afb6,#a6c6c6,#9cb8bc,#9ab4ba,#a8c7c7,#a6c6c6,#9db9bd,#a6c6c6,#b0cdcd,#9ab5ba,#8396a3,#8192a1,#8ba0ab,#8fa5af,#899ea9,#8da3ad,#a1bfc1,#b2cece,#a1bec0,#869aa6,#798799,#8192a1,#95adb4,#9cb7bc,#8a9eaa,#7c8b9c,#8ba0ab,#aac9c9,#c9dddd,#cee0e0,#b8d2d2,#9dbabd,#93abb3,#98b3b8,#a1bfc1,#a2c0c2,#9fbbbe,#9ebabe,#9db9bd,#92aab2,#8293a2,#7d8c9c,#879ba7,#97b1b7,#a1bec1,#a1bfc1,#a1bfc1,#a3c2c3,#a5c5c5,#a6c5c6,#a4c2c4,#a1bfc1,#a0bdc0,#a0bec0,#a3c1c3,#accaca,#c4d9d9,#d8e6e6,#d7e5e5,#c5dada,#a4c2c4,#8a9faa,#7a899a,#7b8a9b,#8699a6,#8fa6af,#90a7b0,#8ea4ad,#8da3ad,#899da8,#8497a4,#8da3ad,#9ebabe,#a4c2c4,#a6c6c6,#bdd5d5,#d5e4e4,#d4e4e4,#c9dddd,#c3d9d9,#bed6d6,#b8d2d2,#afcccc,#a7c6c6,#a4c3c4,#accaca,#c0d7d7,#c9dcdc,#bad3d3,#a2bfc2,#90a8b0,#889ca8,#879ba7,#899da9,#879ba7,#7d8d9d,#707b90,#676f87,#616781,#5e627e,#5d617d,#5b5d7b,#565776,#515171,#50506e,#515170,#535372,#50506e,#4d4d6b,#4d4d6a,#494965,#43435d,#3e3e56,#3d3d54,#3c3c52,#37374c,#333346,#303043,#2e2e3f,#2a2a3a,#272736,#282837,#292939,#292939,#2a2a3a,#2b2b3c,#2c2c3d,#2d2d3e,#2b2b3c,#282838,#232331,#1f1f2b,#1e1e2a,#1f1f2b,#20202d,#22222f,#232330,#232331,#232330,#20202d,#1b1b26,#15151d,#111117,#0e0e14,#0d0d12,#0d0d12,#0d0d12,#0e0e13,#0d0d12,#0a0a0e,#060609,#020203,#020203,#020203,#020203,#020203,#020203,#020203,#020203,#020203,#020203,#060608,#0a0a0e,#0d0d11,#0d0d11,#0b0b10,#0a0a0e,#0a0a0d,#0a0a0e,#0a0a0e,#0a0a0e,#0a0a0e,#0c0c10,#0e0e13)"></i>
<i style="background:linear-gradient(90deg,#7d8c9c,#8fa5af,#8ea4ae,#99b3b9,#99b3b9,#8fa5af,#9ab4ba,#889ca8,#94adb4,#8496a4,#8a9eaa,#97b0b6,#8da2ac,#99b4b9,#899ea9,#8598a5,#96afb6,#8395a3,#7e8e9e,#8ea5ae,#92aab2,#a3c2c3,#c2d8d8,#a5c5c5,#95aeb5,#96b0b6,#8a9faa,#8192a1,#96afb5,#a5c4c5,#94adb4,#889ca8,#96b0b6,#a1bec1,#98b2b8,#94adb4,#a3c1c3,#aac9c9,#98b2b8,#889ca8,#90a7b0,#a6c5c6,#b2cece,#a2c0c2,#8fa6af,#8ca1ac,#99b3b9,#a5c5c5,#a6c6c6,#9db9bd,#90a7b0,#899da9,#8b9faa,#94acb4,#9ab5ba,#90a8b0,#8091a0,#7d8d9d,#879aa7,#8fa5af,#92a9b2,#94adb4,#93acb3,#8ea4ae,#8395a3,#798899,#7d8c9d,#8a9faa,#93abb3,#95aeb5,#96afb6,#96afb6,#95aeb5,#97b1b7,#9db8bc,#9fbcbf,#9db9bd,#99b4b9,#9bb6bb,#a5c3c4,#b0cdcd,#b3cfcf,#aac9c9,#9db9bd,#95aeb5,#9ab4ba,#a7c7c7,#abcaca,#9db9bd,#92aab2,#90a7b0,#8fa6af,#8fa6af,#91a8b1,#95aeb5,#99b3b9,#99b3b9,#93abb3,#8ea4ae,#96afb6,#adcbcb,#c9dcdc,#dde9e9,#eff5f5,#f7fafa,#f6f9f9,#f2f7f7,#e2eded,#c3d9d9,#aac9c9,#a1bec1,#9bb7bb,#9ab5ba,#97b0b7,#8ba1ab,#8497a4,#8699a6,#8598a5,#7d8c9d,#758295,#707a90,#6c768c,#6d768d,#6f798e,#6e788e,#6c758b,#666e86,#5f647f,#585978,#50506f,#494965,#43435c,#3c3c53,#353549,#313144,#323245,#323245,#323245,#303042,#2c2c3c,#292938,#282838,#292938,#272736,#232330,#1f1f2b,#20202c,#222230,#242431,#242431,#252533,#282837,#2c2c3c,#2d2d3e,#2c2c3d,#2a2a3a,#282837,#252533,#242432,#252533,#262634,#252533,#232330,#21212e,#20202c,#1f1f2b,#1f1f2b,#20202d,#22222f,#21212d,#1f1f2b,#1e1e29,#1e1e29,#1d1d28,#1d1d28,#1e1e29,#1e1e2a,#1d1d28,#1c1c26,#1b1b25,#191923,#181821,#171720,#181820,#181821,#181820,#17171f,#15151d,#13131a,#111118,#111117,#111117,#101017,#0f0f15,#0f0f15,#111118,#13131b,#15151d,#16161f,#171720)"></i>
<i style="background:linear-gradient(90deg,#8a9ea9,#879ba7,#9bb7bb,#889ca8,#97b1b7,#8a9faa,#97b1b7,#9fbcbf,#98b3b8,#accaca,#94adb4,#95adb4,#96afb6,#8497a4,#94adb4,#94acb4,#8497a4,#8ea4ad,#8b9faa,#899da8,#a7c6c6,#b9d2d2,#a1bec1,#a2c0c2,#9fbcbf,#8ca1ac,#879ba7,#94acb4,#8da3ad,#7b8a9b,#8394a2,#9db9bd,#9ebabe,#899ea9,#889ca8,#99b3b8,#9db9bd,#94adb4,#8fa5af,#96afb6,#9fbcbf,#a4c3c4,#a3c2c3,#a1bec1,#a7c7c7,#b7d1d1,#bbd4d4,#accaca,#98b2b8,#8da3ad,#91a9b1,#9bb7bb,#9fbbbf,#95adb4,#8395a3,#768496,#758194,#7e8e9e,#8ca1ac,#97b0b7,#99b4b9,#94adb4,#8b9faa,#7f8f9f,#778597,#7a889a,#8496a3,#8fa5ae,#98b2b8,#a2c0c2,#abcaca,#a3c2c3,#8ca2ac,#788698,#768396,#7f909f,#899da9,#94adb4,#a5c3c5,#bad3d3,#bfd6d6,#b4cfcf,#abc9c9,#adcbcb,#b1cece,#aac9c9,#9fbbbf,#9ab4ba,#9cb7bc,#9bb7bb,#92aab2,#8699a6,#80909f,#8091a0,#869aa6,#91a8b1,#9ebbbe,#b0cdcd,#bdd5d5,#bed5d5,#b6d0d0,#accaca,#accaca,#bfd6d6,#d6e5e5,#dce9e9,#d0e1e1,#b8d2d2,#a3c2c3,#9dbabd,#9ab4ba,#8fa6af,#889ca8,#8fa5ae,#9db9bd,#a4c2c4,#9cb7bc,#8ea4ad,#80909f,#717c91,#666e86,#646b84,#676e87,#697189,#6a738a,#687088,#646a84,#616680,#5f637f,#5b5e7b,#555675,#4e4e6c,#45455f,#3e3e56,#3d3d54,#3c3c53,#36364b,#2f2f40,#2f2f41,#38384e,#43435d,#494965,#4c4c69,#4c4c69,#484864,#41415a,#3d3d55,#3d3d54,#3b3b52,#37374c,#343447,#323246,#303042,#2a2a3b,#252533,#21212d,#1e1e29,#1c1c27,#1c1c26,#1b1b25,#191922,#181821,#181822,#1b1b25,#1e1e29,#20202c,#21212e,#22222f,#22222f,#22222f,#21212d,#1e1e29,#191923,#15151d,#121218,#101016,#111118,#13131a,#15151d,#171720,#191923,#1b1b25,#1a1a24,#171720,#13131a,#0e0e13,#09090d,#060608,#040406,#030304,#020203,#020203,#020203,#020203,#060608,#09090d,#0c0c10,#0d0d11,#0c0c11,#0b0b0f)"></i>
<i style="background:linear-gradient(90deg,#93abb3,#8598a5,#99b4b9,#a5c4c5,#a6c5c6,#b9d2d2,#9ab5ba,#afcccc,#b7d1d1,#b0cdcd,#bfd6d6,#92aab2,#8597a5,#8da3ad,#899da8,#9ebabd,#b5d0d0,#9ab5ba,#9cb8bc,#b7d1d1,#a8c8c8,#a5c3c4,#c6dbdb,#c5dada,#a5c4c5,#a5c4c5,#a9c8c8,#9ab5ba,#8ca2ac,#90a7b0,#92a9b1,#8ea4ae,#90a7b0,#a0bdc0,#accaca,#a4c3c4,#98b2b8,#97b0b7,#a7c6c7,#bed6d6,#b3cfcf,#97b0b7,#899da8,#8fa6af,#9cb8bc,#a2bfc1,#99b3b9,#8ea5ae,#92aab2,#9db9bd,#9bb6bb,#8fa6af,#899da9,#8598a5,#8091a0,#879ba7,#9dbabd,#b6d1d1,#bcd4d4,#b1cdcd,#a2c0c2,#94adb4,#899ea9,#8699a6,#889ca8,#90a6af,#9db8bc,#a6c5c6,#a6c5c6,#a6c5c6,#aac9c9,#a4c2c3,#94acb4,#8598a5,#7e8e9e,#7e8d9d,#8395a3,#8ea4ad,#9fbbbf,#b3cfcf,#b7d1d1,#a9c9c9,#9ebabd,#8fa6af,#8496a4,#8699a6,#8ba0ab,#899da8,#8294a2,#8192a0,#869aa6,#90a7b0,#97b1b7,#97b1b7,#94acb4,#98b2b8,#a1bec1,#a5c4c5,#a4c3c4,#a0bdc0,#97b1b7,#95aeb5,#a1bfc1,#b4cfcf,#b7d1d1,#b2cece,#b8d2d2,#c2d8d8,#c3d9d9,#c4d9d9,#cbdede,#d0e1e1,#cee0e0,#bfd6d6,#a3c1c3,#8fa6af,#8394a2,#7e8e9d,#7d8d9d,#7d8d9d,#7a899a,#768396,#737f93,#717c90,#697189,#5f647f,#595b79,#555575,#51516f,#4d4d6b,#4d4d6a,#4c4c69,#4c4c69,#4e4e6c,#525271,#525272,#515170,#50506e,#4c4c69,#44445e,#3e3e55,#3d3d54,#3f3f57,#42425a,#44445f,#474762,#474763,#454560,#414159,#3a3a50,#323245,#2c2c3d,#292938,#262634,#21212e,#1d1d28,#1b1b26,#1b1b26,#1d1d28,#21212d,#252533,#282838,#2b2b3c,#2e2e3f,#303042,#303042,#2f2f41,#2c2c3c,#262634,#1e1e2a,#181822,#13131b,#0f0f15,#0b0b10,#08080b,#050507,#040406,#050507,#07070a,#0a0a0d,#0c0c11,#0f0f14,#101017,#13131a,#16161e,#181822,#191923,#191922,#171720,#15151d,#121219,#101016,#0e0e14,#0e0e14,#0f0f15,#101016,#111118,#121219,#13131a,#13131b)"></i>
<i style="background:linear-gradient(90deg,#7a899a,#8294a2,#7a889a,#9ebbbe,#9db9bd,#9bb7bb,#a1bec1,#8fa5ae,#97b1b7,#8ba0ab,#7c8b9c,#8ea4ae,#889ca8,#7f8f9e,#8ba0ab,#879aa7,#879ba7,#a4c2c3,#a4c3c4,#90a7b0,#98b3b8,#a6c6c6,#9fbcbf,#9ebabe,#b1cdcd,#a9c8c8,#95aeb5,#97b1b7,#a7c7c7,#9db9bd,#8394a2,#7b8a9b,#8a9eaa,#96afb6,#90a7b0,#8395a3,#8699a5,#98b2b8,#aac9c9,#a9c8c8,#9bb6ba,#95aeb5,#9cb7bc,#9db9bd,#92aab2,#8193a1,#758295,#758295,#8496a4,#9ab4ba,#a4c3c4,#9bb7bb,#8a9faa,#8192a1,#8395a3,#8ca1ac,#93abb3,#9ab5ba,#9dbabd,#92a9b1,#7f8f9f,#778597,#8193a1,#95aeb5,#a4c2c4,#a5c4c5,#9bb6bb,#93abb2,#94acb4,#99b3b9,#97b1b7,#91a9b1,#8fa5ae,#91a8b1,#93abb3,#8fa5ae,#8598a5,#8699a5,#97b1b7,#accaca,#accaca,#9ab4b9,#8fa6af,#91a9b1,#93abb3,#90a8b0,#8da3ad,#899da9,#8395a3,#8395a3,#8a9eaa,#8fa5af,#92aab2,#9bb7bb,#a6c5c5,#a7c7c7,#a5c4c5,#adcbcb,#c3d9d9,#ddeaea,#f4f8f8,#fcfdfd,#eef4f4,#cfe0e0,#b2cece,#a8c7c7,#aecccc,#b7d1d1,#c0d7d7,#c2d8d8,#b7d1d1,#b3cfcf,#b9d2d2,#b5d0d0,#a6c6c6,#99b3b8,#8699a6,#737f93,#6d768d,#748094,#7d8d9d,#7d8d9d,#727e92,#686f88,#646b84,#666d86,#666d86,#5f647f,#575977,#555575,#555675,#545474,#51516f,#4b4b68,#454560,#42425c,#42425b,#404058,#38384e,#303042,#2c2c3d,#2d2d3e,#303042,#313143,#2e2e40,#2a2a3a,#282838,#292939,#282837,#242431,#20202c,#1f1f2b,#20202c,#20202d,#1f1f2a,#1b1b26,#191923,#191923,#1a1a24,#1a1a24,#191923,#191922,#1a1a24,#1c1c27,#1d1d29,#1d1d28,#1c1c26,#1a1a23,#171720,#16161e,#16161f,#17171f,#16161f,#15151c,#13131a,#121219,#101017,#101016,#101016,#111118,#121218,#111117,#0e0e14,#0c0c10,#0a0a0e,#0b0b0f,#0c0c10,#0e0e13,#101016,#101016,#101017,#111118,#13131a,#14141b,#14141b,#13131b,#121219,#101016,#0f0f14,#0e0e14)"></i>
<i style="background:linear-gradient(90deg,#8395a3,#95aeb5,#99b3b8,#8ca1ac,#9ab5ba,#8da3ad,#98b3b8,#b1cdcd,#9fbbbf,#accaca,#b3cfcf,#9cb7bc,#aecbcb,#bcd4d4,#9db9bd,#a1bfc1,#b4cfcf,#a1bec1,#9cb7bc,#b4d0d0,#bad3d3,#aac9c9,#bad3d3,#c2d8d8,#a1bfc1,#889ca8,#8293a2,#7d8d9d,#758295,#758194,#8396a3,#92aab2,#8fa6af,#8395a3,#8091a0,#8ba1ab,#96b0b6,#99b3b9,#95afb5,#96b0b6,#a2c0c2,#b5d0d0,#bed5d5,#afcccc,#9cb7bb,#8fa6af,#8ca2ac,#91a8b1,#97b1b7,#98b1b7,#91a8b1,#8a9ea9,#8496a4,#8395a3,#8ba0ab,#97b0b6,#9cb8bc,#9ab4ba,#95aeb5,#90a7b0,#8ea5ae,#93abb3,#9bb6bb,#a1bfc1,#a4c2c3,#9ebabe,#94adb4,#91a8b1,#91a8b0,#8ea4ad,#8ca1ab,#8da3ad,#8da3ad,#8ba0ab,#8ba0ab,#91a8b0,#98b2b8,#9fbcbf,#a5c5c5,#abc9c9,#abcaca,#adcbcb,#b3cfcf,#b0cdcd,#a1bec1,#93acb3,#8fa5ae,#90a7b0,#92aab2,#95aeb5,#9cb8bc,#a7c7c7,#b0cdcd,#afcccc,#b0cdcd,#b8d2d2,#c1d8d8,#cbdede,#d0e1e1,#c8dcdc,#bfd6d6,#c9dddd,#dbe8e8,#dfebeb,#deeaea,#e0ebeb,#deeaea,#d2e3e3,#bed6d6,#a5c4c5,#92aab2,#8598a5,#8699a6,#8ba0ab,#899da8,#8395a3,#8394a2,#8598a5,#8698a5,#8294a2,#7d8c9c,#778497,#717c91,#6a738a,#646a84,#5f637f,#5a5c7a,#555575,#535372,#515170,#4c4c68,#474762,#474762,#484863,#474762,#45455f,#3f3f57,#37374b,#2f2f41,#2c2c3d,#2c2c3d,#2e2e40,#2e2e40,#2b2b3b,#272736,#252533,#242432,#232330,#1f1f2a,#1a1a23,#17171f,#17171f,#191923,#1b1b26,#1c1c26,#1b1b25,#1a1a24,#181822,#16161e,#14141c,#13131a,#121219,#101016,#0f0f15,#101015,#111118,#13131b,#14141c,#14141c,#14141b,#15151d,#16161f,#171720,#16161e,#14141c,#121219,#111118,#111117,#101016,#0f0f15,#0f0f15,#0f0f14,#0e0e14,#0e0e13,#0e0e13,#0d0d12,#0d0d11,#0c0c11,#0c0c11,#0c0c11,#0b0b0f,#0a0a0d,#09090c,#08080c,#09090c,#08080c,#08080b,#07070a,#07070a,#07070a)"></i>
<i style="background:linear-gradient(90deg,#8fa6af,#8293a2,#96afb6,#95afb5,#8da3ad,#a4c3c4,#a0bdc0,#a3c1c2,#bed6d6,#a4c3c4,#a1bfc1,#bbd4d4,#a7c7c7,#98b2b8,#98b3b8,#8294a2,#707b90,#7f909f,#90a7b0,#899ea9,#899da9,#9ab4b9,#9cb8bc,#93abb3,#9ab4b9,#aecbcb,#a8c8c8,#93abb3,#8a9faa,#97b1b7,#a4c3c4,#9fbcbf,#90a7b0,#8da3ad,#9ab5ba,#a3c2c3,#99b3b8,#8395a3,#7a8899,#8699a6,#9ab5ba,#a3c1c2,#9ab5ba,#8da3ad,#8ba0ab,#95aeb5,#9ebabe,#9db9bd,#93abb3,#899da9,#8496a3,#8395a3,#889ca8,#90a7b0,#97b0b7,#9fbbbf,#a4c2c3,#a1bec1,#9bb5ba,#97b0b6,#99b3b9,#a5c4c5,#bdd5d5,#c6dbdb,#bad3d3,#a7c6c7,#9ebabe,#9bb7bb,#a0bdbf,#a3c1c3,#9fbcbf,#96b0b6,#91a9b1,#91a8b1,#90a7b0,#8ea5ae,#92a9b2,#9ab5ba,#a2c0c2,#a5c4c5,#a3c1c3,#9db8bc,#94acb4,#8a9faa,#80909f,#768496,#737f93,#737e93,#758295,#7b8a9b,#8091a0,#8192a1,#879ba7,#99b3b8,#b0cdcd,#c3d9d9,#c8dcdc,#c7dcdc,#c4d9d9,#bcd4d4,#b9d3d3,#bed6d6,#bfd6d6,#bad3d3,#b3cfcf,#accaca,#a7c6c7,#a6c6c6,#a5c4c5,#a1bec1,#9cb8bc,#98b3b8,#94adb4,#91a8b1,#92aab2,#95aeb5,#98b3b8,#9ab4ba,#95aeb5,#889ca8,#798899,#707b90,#6c758c,#6a738a,#6a7289,#6a728a,#687088,#616681,#5a5c79,#555574,#51516f,#4c4c69,#494965,#484864,#484863,#474761,#464660,#454560,#464660,#45455f,#43435d,#404059,#3e3e55,#3d3d54,#3c3c53,#39394f,#333346,#2c2c3d,#272736,#252533,#222230,#20202c,#1e1e29,#1b1b25,#171720,#14141b,#121219,#13131a,#14141b,#14141c,#15151d,#171720,#191922,#191923,#191923,#1a1a23,#1b1b25,#1c1c27,#1c1c27,#1c1c27,#1c1c26,#1b1b25,#191923,#181821,#16161e,#15151d,#15151c,#15151d,#15151d,#15151d,#15151d,#14141c,#13131a,#121219,#121218,#111118,#111118,#111118,#111118,#101016,#0d0d12,#0a0a0d,#08080b,#08080b,#08080b,#08080c,#09090c,#0a0a0e,#0b0b0f,#0d0d11)"></i>
<i style="background:linear-gradient(90deg,#8293a2,#8da3ad,#7c8c9c,#8a9faa,#899da9,#7c8c9c,#8fa6af,#93acb3,#8ca2ac,#9dbabd,#9cb7bc,#8ea4ae,#9ebbbe,#aac9c9,#98b3b8,#98b2b8,#a5c4c5,#98b2b8,#8496a4,#8ba0ab,#98b2b8,#92aab2,#899da9,#94acb4,#a1bec1,#9ebabe,#99b3b9,#a6c5c6,#c6dbdb,#c6dbdb,#a6c5c6,#93acb3,#93abb3,#99b4b9,#9bb7bb,#9cb7bc,#9ebabe,#a7c7c7,#bcd5d5,#c9dddd,#c7dbdb,#b4cfcf,#a1bfc1,#9ebabe,#a7c6c6,#b9d2d2,#c1d8d8,#b0cccc,#94adb4,#8192a1,#8091a0,#8fa6af,#a1bec1,#afcccc,#b8d2d2,#b7d1d1,#a8c8c8,#9ab5ba,#90a7b0,#8fa6af,#97b0b7,#a1bfc1,#a8c8c8,#a9c8c8,#a8c8c8,#accaca,#abcaca,#a3c1c3,#9bb6bb,#96afb6,#97b0b7,#9ab5ba,#9db8bc,#a0bdc0,#a5c4c5,#a7c7c7,#a6c5c5,#a8c8c8,#aecbcb,#adcbcb,#a7c7c7,#9ebabe,#90a7b0,#8699a6,#8395a3,#8497a4,#8699a5,#8597a4,#8193a1,#8091a0,#8699a6,#91a9b1,#9ebabe,#a5c4c5,#a6c5c6,#aac9c9,#bbd4d4,#cfe0e0,#d9e7e7,#deeaea,#e2ecec,#eaf2f2,#f5f8f8,#f7fafa,#edf4f4,#e3eded,#dfebeb,#dae7e7,#c7dbdb,#aac9c9,#9cb8bc,#99b4b9,#9bb6bb,#98b2b8,#90a7b0,#899ea9,#879ba7,#879aa7,#8193a1,#778497,#6f798f,#6e788e,#6e798e,#697189,#606580,#5b5d7b,#5a5d7a,#5d607d,#5e627e,#5b5e7b,#545474,#494965,#42425b,#3e3e56,#3b3b51,#37374c,#353549,#353549,#353549,#343448,#333347,#353549,#36364b,#37374c,#38384e,#3a3a50,#3a3a50,#39394f,#39394e,#38384d,#36364a,#333346,#313144,#303042,#2d2d3e,#292938,#262634,#252533,#252533,#242432,#22222f,#20202d,#21212d,#22222f,#232331,#242432,#252534,#262635,#272736,#262635,#242431,#1f1f2b,#1a1a23,#14141c,#101017,#0f0f15,#0e0e14,#0e0e13,#0e0e13,#0e0e13,#0f0f15,#111118,#13131b,#14141c,#14141b,#13131a,#121218,#101016,#0f0f14,#0e0e13,#0d0d12,#0c0c11,#0c0c10,#0c0c11,#0d0d12,#0e0e13,#0e0e14,#0f0f14,#0f0f15,#111117)"></i>
<i style="background:linear-gradient(90deg,#7a899a,#899da9,#99b3b9,#879ba7,#90a7b0,#9cb7bb,#90a7b0,#9fbcbf,#b5d0d0,#9ebabe,#99b4b9,#a6c6c6,#9cb8bc,#8ca1ab,#90a7b0,#8ea4ae,#7e8e9e,#788698,#7d8d9d,#768395,#697188,#6b748b,#7d8d9d,#8497a4,#7c8c9c,#7a899a,#8fa5ae,#a6c5c6,#a8c7c7,#97b0b7,#8ca2ac,#8fa5af,#8ea5ae,#8597a4,#788698,#758194,#8091a0,#91a8b1,#9cb7bc,#9ebbbe,#99b3b9,#91a8b1,#91a8b1,#9bb6bb,#aac9c9,#b9d3d3,#b5d0d0,#a3c2c3,#97b1b7,#94adb4,#97b1b7,#9db9bd,#a5c4c5,#b0cdcd,#b1cece,#a6c5c6,#9db9bd,#9bb6ba,#9ebabe,#a2bfc1,#a6c5c5,#accaca,#aac9c9,#a1bec0,#98b2b8,#94adb4,#90a7b0,#889ca8,#7d8d9d,#727e92,#6a738a,#6c758c,#7c8b9c,#95aeb5,#adcbcb,#c1d7d7,#cbdede,#d1e2e2,#ccdfdf,#b7d1d1,#9db9bd,#8ea4ae,#8699a6,#7f909f,#7a899a,#7c8b9c,#8395a3,#899da8,#889ca8,#8598a5,#8699a6,#8da2ad,#95aeb5,#97b1b7,#92aab2,#8fa6af,#96b0b6,#a4c3c4,#b2cece,#b7d1d1,#b6d0d0,#b5d0d0,#b3cfcf,#afcccc,#aac9c9,#a8c7c7,#a5c3c5,#9db9bd,#94adb4,#90a7b0,#91a9b1,#94acb4,#96afb6,#96afb6,#92a9b2,#8ba0ab,#8598a5,#8395a3,#7f909f,#768396,#6b748b,#666d86,#656b85,#636983,#616681,#5f637e,#5b5e7b,#565776,#515170,#4e4e6b,#4d4d6b,#4c4c69,#494964,#454560,#42425c,#3f3f57,#3c3c52,#38384d,#36364b,#38384d,#3b3b51,#3c3c53,#3a3a51,#36364b,#333346,#313143,#313143,#313144,#313143,#303042,#2e2e40,#2d2d3e,#2a2a3a,#272735,#232331,#22222e,#20202c,#1e1e2a,#1c1c27,#1a1a24,#171720,#13131b,#101016,#0d0d11,#0b0b0f,#0b0b0f,#0c0c11,#0f0f14,#111118,#14141b,#16161e,#171720,#191922,#1a1a24,#1b1b26,#1c1c27,#1d1d29,#1f1f2b,#20202c,#20202c,#1f1f2a,#1d1d29,#1d1d29,#1e1e29,#1e1e2a,#1e1e29,#1d1d28,#1c1c26,#1a1a25,#1a1a23,#191922,#181822,#181821,#17171f,#16161e,#15151d,#14141c,#14141c,#14141c,#14141c)"></i>
<i style="background:linear-gradient(90deg,#8294a2,#8192a1,#8ea4ae,#b0cdcd,#9ebbbe,#90a7b0,#9cb8bc,#9ab5ba,#9ab4ba,#bed6d6,#c8dcdc,#aac9c9,#b2cece,#c4dada,#a5c4c5,#90a7b0,#99b4b9,#a4c3c4,#98b2b8,#8b9faa,#92aab2,#97b1b7,#8ba1ab,#8293a2,#90a7b0,#b5d0d0,#d4e3e3,#c5dada,#a6c6c6,#a2c0c2,#adcbcb,#b2cece,#a5c4c5,#9ab5ba,#9ab4ba,#a4c2c4,#aecbcb,#a7c6c7,#95aeb5,#8597a4,#8598a5,#95aeb5,#a5c5c5,#accaca,#a2c0c2,#92aab2,#869aa6,#8699a6,#90a7b0,#9cb7bc,#a3c1c3,#abc9c9,#b8d2d2,#bed5d5,#b2cece,#a0bdc0,#95aeb5,#91a8b1,#93acb3,#9ab5ba,#9fbcbf,#a2c0c2,#a2c0c2,#9fbbbf,#94adb4,#869aa6,#7b8b9b,#788598,#8091a0,#94adb4,#adcbcb,#ccdede,#d8e6e6,#cadddd,#b0cdcd,#a7c6c6,#b1cdcd,#bad3d3,#adcbcb,#98b2b8,#889ba7,#8294a2,#8699a6,#8ba0ab,#8ca2ac,#899da9,#8293a2,#7c8b9c,#7d8d9d,#899da9,#99b3b9,#a0bdc0,#99b3b9,#8ba1ab,#879ba7,#94adb4,#adcbcb,#cbdede,#dae8e8,#e0ecec,#e1ecec,#d9e7e7,#cadddd,#bfd6d6,#bbd4d4,#b9d3d3,#b6d0d0,#b6d1d1,#b7d1d1,#aac9c9,#96afb6,#8395a3,#7c8c9c,#8294a2,#8ca1ab,#8ea4ae,#8497a4,#768396,#6f798f,#6f798f,#707b90,#6f798f,#6d768c,#6a738a,#676e87,#626782,#5b5e7b,#545474,#4d4d6b,#494964,#454560,#43435c,#404059,#3f3f58,#404058,#404059,#3f3f57,#3d3d54,#3c3c52,#3d3d54,#3e3e55,#3c3c53,#36364b,#2e2e40,#282837,#242432,#232330,#22222f,#21212e,#21212e,#22222f,#232330,#242431,#242432,#232330,#21212e,#21212d,#22222f,#242432,#242432,#22222f,#20202c,#20202c,#20202c,#1f1f2b,#1e1e29,#1d1d27,#1b1b25,#191923,#191922,#191923,#1a1a24,#191923,#191922,#191923,#1a1a24,#1b1b25,#1c1c27,#1c1c27,#1d1d27,#1d1d28,#1d1d29,#1d1d28,#1c1c26,#1b1b25,#1a1a24,#1a1a24,#1a1a24,#1a1a24,#1a1a24,#1a1a24,#1a1a23,#191922,#171720,#16161f,#16161f,#171720,#171720,#171720,#16161f)"></i>
<i style="background:linear-gradient(90deg,#788698,#90a7b0,#8a9faa,#7b8a9b,#8ea4ae,#96b0b6,#8699a5,#8699a6,#8ba1ab,#879ba7,#91a8b1,#b4d0d0,#bad3d3,#9cb8bc,#97b1b7,#a2bfc2,#9cb8bc,#8da3ad,#92a9b1,#a3c2c3,#a6c5c5,#9bb6bb,#99b4b9,#accaca,#bbd4d4,#a3c1c3,#879ba7,#7c8b9b,#879ba7,#9bb7bb,#a9c8c8,#aac9c9,#a4c3c4,#a5c4c5,#aecbcb,#adcbcb,#9ebabd,#899da9,#7a8899,#7b8a9b,#8ca2ac,#9dbabd,#9ebabe,#8ea5ae,#7d8d9d,#758195,#778497,#8090a0,#899da8,#8ba1ab,#889ca8,#8394a2,#7c8c9c,#768496,#768396,#7c8c9c,#8598a5,#8ea4ae,#97b0b6,#9ebbbe,#a2c0c2,#a1bec1,#9ab5ba,#91a8b0,#8b9faa,#8ca1ac,#90a7b0,#90a8b0,#8b9faa,#8091a0,#798799,#7c8b9c,#8a9faa,#9db9bd,#a8c7c7,#a4c3c4,#98b2b8,#8ea5ae,#8ea4ad,#8fa6af,#8a9faa,#7f8f9e,#707b90,#676e87,#676f87,#6f7a8f,#7a8899,#8497a4,#8ca1ac,#8da3ad,#8ca1ac,#8ca2ac,#92aab2,#9fbcbf,#afcccc,#b6d0d0,#b0cdcd,#a7c6c7,#a0bdc0,#9cb7bc,#9fbcbf,#a9c8c8,#b3cfcf,#b5d0d0,#afcccc,#a5c5c5,#9ebabe,#99b3b9,#99b3b9,#9db9bd,#a1bec1,#a0bdc0,#9ab4ba,#92aab2,#8ba0ab,#8699a5,#8192a1,#7e8f9e,#7e8e9e,#7d8c9d,#7a889a,#758195,#6d778d,#646a84,#5a5d7a,#535373,#525271,#545474,#535373,#4f4f6d,#484864,#45455f,#454560,#474762,#484863,#45455f,#41415a,#3e3e55,#3c3c53,#39394f,#343448,#303043,#303042,#323245,#333347,#333347,#323244,#2f2f41,#2d2d3e,#2b2b3b,#292938,#272736,#262634,#232331,#22222f,#232330,#232330,#22222f,#1f1f2b,#1d1d28,#1d1d27,#1d1d28,#1d1d29,#1c1c27,#1a1a24,#181821,#17171f,#17171f,#16161e,#15151d,#13131a,#111117,#0e0e14,#0d0d12,#0d0d11,#0d0d12,#0d0d12,#0d0d12,#0d0d11,#0c0c10,#0b0b10,#0b0b0f,#0b0b10,#0c0c11,#0d0d12,#0e0e13,#0f0f15,#0f0f15,#0f0f15,#0e0e14,#0e0e14,#0f0f15,#0f0f15,#0f0f15,#0f0f14,#0e0e13,#0d0d12,#0d0d12,#0d0d11,#0c0c10)"></i>
<i style="background:linear-gradient(90deg,#a2c0c2,#92a9b1,#9cb8bc,#a4c3c4,#8a9faa,#7e8f9e,#8a9faa,#8ba1ab,#899ea9,#a2c0c2,#c8dcdc,#bad3d3,#a2c0c2,#a5c4c5,#a4c2c3,#95aeb5,#8ea4ae,#a2c0c2,#c4dada,#bed6d6,#9dbabd,#92a9b1,#95aeb5,#98b3b8,#96b0b6,#96afb6,#a3c1c3,#b8d2d2,#b5d0d0,#a1bfc1,#96afb5,#95aeb5,#a1bec0,#adcbcb,#abc9c9,#9cb7bc,#8ba0ab,#8293a1,#869aa6,#94acb4,#9dbabd,#99b3b9,#889ca8,#778497,#737f93,#8192a1,#9ab4ba,#b6d1d1,#c8dcdc,#c7dbdb,#bbd4d4,#accaca,#a3c1c3,#a0bdc0,#9fbcbf,#9fbcbf,#a2bfc2,#a5c4c5,#a6c6c6,#a3c2c3,#9db9bd,#92aab2,#889ba7,#8294a2,#8193a1,#8091a0,#7e8f9e,#8193a1,#8ba0ab,#96b0b6,#9db9bd,#9ebbbe,#9ebbbe,#9fbcbf,#a5c3c4,#b4cfcf,#bfd6d6,#b5d0d0,#a0bdc0,#90a7b0,#8699a6,#8192a1,#7e8f9e,#798899,#748094,#768295,#8293a2,#93acb3,#a1bfc1,#a7c7c7,#aac9c9,#abcaca,#adcbcb,#adcbcb,#b0cdcd,#b3cece,#aecbcb,#a8c8c8,#afcccc,#c3d9d9,#d6e5e5,#ddeaea,#e1ecec,#e8f0f0,#ebf2f2,#e1ecec,#cee0e0,#bdd5d5,#b2cece,#abc9c9,#a5c4c5,#a0bdc0,#98b2b8,#8da2ac,#8091a0,#778497,#717c91,#6c758c,#676e87,#626882,#636983,#676f87,#6a728a,#697189,#676e87,#636983,#5e617d,#555575,#4b4b67,#43435c,#404058,#404059,#404058,#3e3e55,#3a3a51,#38384d,#38384d,#39394e,#39394f,#39394f,#39394f,#39394f,#3a3a50,#3a3a50,#3a3a51,#3a3a50,#38384e,#36364b,#343448,#333347,#313144,#2e2e40,#2c2c3d,#2a2a3b,#292939,#292938,#2a2a3a,#2c2c3d,#2d2d3e,#2b2b3c,#282838,#272736,#262635,#262634,#232330,#1f1f2b,#1b1b26,#181821,#15151d,#121219,#101016,#0e0e13,#0c0c10,#09090c,#070709,#050507,#050507,#060609,#09090c,#0b0b0f,#0c0c10,#0d0d13,#101016,#121219,#13131b,#14141b,#13131b,#121219,#111118,#101017,#101016,#101016,#0f0f15,#0f0f15,#0f0f15,#101016,#111117,#13131a,#14141c,#15151d)"></i>
<i style="background:linear-gradient(90deg,#8395a3,#9ebabd,#9cb8bc,#94adb4,#a6c5c6,#a5c3c4,#8ca1ac,#899da9,#9bb6bb,#9db9bd,#93abb3,#9db9bd,#b3cfcf,#a7c7c7,#90a7b0,#8da2ad,#9bb6bb,#9fbcbf,#90a7b0,#8091a0,#8395a3,#90a7b0,#95adb4,#8ca1ac,#8597a5,#8ca2ac,#9cb7bc,#aac9c9,#accaca,#a2c0c2,#a0bec0,#a8c8c8,#adcbcb,#a2c0c2,#92aab2,#8597a5,#8091a0,#8293a2,#8699a6,#8ba0ab,#8fa6af,#90a7b0,#8ca1ac,#899da9,#8da3ad,#96afb6,#9ebabe,#a2c0c2,#a3c1c3,#a0bdc0,#9bb6bb,#97b1b7,#95aeb5,#94adb4,#90a7b0,#8ca2ac,#8fa6af,#9ab5ba,#a6c5c6,#aecccc,#accaca,#a2bfc1,#94adb4,#889ca8,#8395a3,#869aa6,#8fa6af,#9bb6bb,#a7c7c7,#b5d0d0,#bad3d3,#bdd5d5,#c1d8d8,#c3d9d9,#bcd4d4,#b1cdcd,#a9c8c8,#a3c2c3,#98b2b8,#869aa6,#768396,#6f798f,#717d91,#798799,#8091a0,#8294a2,#8496a4,#8a9faa,#97b1b7,#a1bfc1,#a5c3c4,#a4c3c4,#a7c6c7,#aecbcb,#b2cece,#b4cfcf,#bdd5d5,#d1e2e2,#e3eded,#e4eeee,#d6e5e5,#cadddd,#cddfdf,#d9e7e7,#e2eded,#dfebeb,#d2e2e2,#c0d7d7,#b3cfcf,#afcccc,#b0cdcd,#aecccc,#a7c7c7,#9ebabe,#90a7b0,#8192a1,#768396,#758295,#7b8a9b,#8293a1,#8496a4,#8293a2,#7c8c9c,#748094,#697189,#60647f,#5b5d7a,#585a78,#555675,#525271,#4e4e6b,#474762,#3f3f57,#39394f,#38384d,#3b3b52,#3e3e56,#3e3e56,#3d3d54,#3c3c53,#3b3b51,#38384d,#333346,#2d2d3e,#292939,#272736,#262634,#252533,#252533,#252533,#232331,#21212d,#1e1e2a,#1e1e29,#1e1e29,#1d1d29,#1c1c26,#191922,#16161f,#15151d,#15151c,#16161e,#171720,#171720,#171720,#171720,#181821,#191923,#1a1a24,#1a1a25,#1a1a24,#1a1a23,#181821,#16161e,#13131a,#101016,#0f0f14,#0f0f14,#0f0f15,#0f0f15,#0f0f15,#0f0f14,#0d0d12,#0d0d11,#0d0d11,#0d0d12,#0c0c11,#0b0b10,#0b0b10,#0c0c10,#0d0d11,#0d0d12,#0d0d13,#0d0d12,#0c0c10,#0a0a0e,#09090c,#07070a,#060608,#050507)"></i>
<i style="background:linear-gradient(90deg,#8598a5,#788698,#8496a4,#96afb6,#94adb4,#95adb4,#b0cdcd,#bed6d6,#a3c1c2,#99b4b9,#a8c8c8,#adcbcb,#95aeb5,#8193a1,#8293a2,#8b9faa,#8ea4ae,#899ea9,#8ea4ae,#9ab5ba,#9cb8bc,#91a8b1,#8699a5,#899ea9,#99b3b9,#a2c0c2,#9cb7bb,#8ca2ac,#8193a1,#8395a3,#8da2ac,#96b0b6,#9cb8bc,#99b4b9,#91a9b1,#8fa6af,#9ab5ba,#b7d1d1,#dbe8e8,#e2ecec,#c2d8d8,#9bb7bb,#8a9eaa,#8a9faa,#95aeb5,#a0bec0,#a7c7c7,#a6c5c6,#9cb8bc,#8ea4ae,#8597a5,#8496a4,#8b9faa,#96afb6,#a4c2c4,#b1cece,#b3cece,#aac9c9,#a6c5c5,#a3c2c3,#9ab4ba,#8a9ea9,#7f8f9f,#8193a1,#8ea5ae,#9db9bd,#aac9c9,#b2cece,#b0cdcd,#abc9c9,#accaca,#b3cfcf,#b7d1d1,#b5d0d0,#abcaca,#a2c0c2,#9bb7bb,#98b2b8,#95aeb5,#91a9b1,#8ca1ac,#879ba7,#8597a4,#8497a4,#889ba7,#91a8b1,#a0bdbf,#b0cdcd,#b7d1d1,#b0cdcd,#a5c5c5,#a0bdc0,#9ebabe,#9fbcbf,#a6c5c6,#b4cfcf,#c4d9d9,#cee0e0,#d2e2e2,#d4e4e4,#d6e5e5,#d7e5e5,#d7e6e6,#dce9e9,#e3eded,#e2eded,#d4e3e3,#bad3d3,#a2c0c2,#95aeb5,#8da3ad,#899da8,#8396a3,#7d8c9c,#758295,#6f7a8f,#6b738b,#676e87,#656c85,#666d86,#686f88,#676e86,#626882,#5e617d,#5a5d7a,#5a5c7a,#5b5d7b,#5b5e7b,#5b5d7b,#585a78,#515170,#474762,#3e3e56,#37374c,#323246,#2e2e40,#2c2c3d,#2c2c3c,#2d2d3e,#313143,#353549,#37374c,#39394e,#39394e,#37374c,#35354a,#343447,#323246,#323245,#323245,#333347,#343448,#333347,#323245,#313144,#303042,#2e2e40,#2d2d3e,#2c2c3d,#2c2c3d,#2d2d3e,#2d2d3f,#2e2e3f,#2e2e3f,#2d2d3f,#2d2d3e,#2c2c3d,#2c2c3d,#2d2d3e,#2d2d3e,#2b2b3c,#292939,#272736,#252534,#242432,#222230,#20202c,#1d1d28,#191923,#16161e,#13131a,#101017,#0e0e14,#0d0d11,#0c0c10,#0b0b10,#0c0c10,#0d0d12,#0e0e14,#101017,#121219,#13131a,#13131a,#121219,#13131a,#13131b,#14141c,#14141b,#13131a,#111117)"></i>
<i style="background:linear-gradient(90deg,#8395a3,#97b0b7,#92a9b2,#8294a2,#8da3ad,#9cb7bc,#97b1b7,#93acb3,#aecbcb,#d4e4e4,#c7dbdb,#a7c6c7,#a9c9c9,#bbd3d3,#adcbcb,#94adb4,#8a9eaa,#96afb6,#a3c2c3,#a0bdc0,#92a9b2,#8ba1ab,#96b0b6,#a4c2c4,#a5c4c5,#9ab4ba,#8ca2ac,#899da9,#90a8b0,#9bb6bb,#a3c1c3,#a2bfc2,#98b1b7,#8fa5af,#90a7b0,#9ab5ba,#a5c4c5,#aecccc,#abcaca,#a2c0c2,#99b3b9,#94acb4,#93abb2,#95aeb5,#9bb6bb,#a0bdc0,#a2c0c2,#a4c3c4,#a6c6c6,#a7c6c6,#a6c5c6,#a6c6c6,#aac9c9,#adcbcb,#afcccc,#afcccc,#b0cdcd,#afcccc,#a9c9c9,#a0bec0,#94adb4,#8598a5,#788698,#707b90,#6e788e,#727d92,#7b8a9b,#8a9faa,#98b2b8,#9fbbbf,#9ab5ba,#90a7b0,#8ca1ac,#91a9b1,#9cb7bc,#a4c2c4,#a4c3c4,#9db9bd,#91a9b1,#869aa6,#80909f,#7d8d9d,#7f8f9f,#8597a4,#8ea5ae,#99b3b9,#a1bec1,#a5c4c5,#a5c3c4,#a2bfc2,#a0bdc0,#a6c5c6,#bcd4d4,#d8e6e6,#edf4f4,#f1f6f6,#e2ecec,#c9dddd,#b2cece,#a4c3c4,#9db9bd,#9ab5ba,#9cb8bc,#a1bec1,#a1bfc1,#9bb7bb,#95afb5,#94acb3,#93acb3,#91a9b1,#8da3ad,#899da9,#8496a4,#7c8b9c,#748094,#737f93,#7a899a,#80909f,#7c8c9c,#727d92,#656c85,#5b5e7b,#535372,#4c4c69,#484864,#474762,#474762,#494965,#4b4b68,#4e4e6c,#525271,#535373,#525272,#4f4f6d,#4b4b68,#494965,#484863,#464661,#43435d,#404059,#3e3e55,#3d3d54,#3d3d54,#3c3c53,#3a3a50,#38384e,#37374d,#37374c,#36364a,#353549,#35354a,#36364b,#37374c,#37374c,#36364a,#323245,#2e2e40,#2b2b3b,#292938,#272736,#252533,#232330,#21212e,#20202c,#20202c,#1f1f2b,#1f1f2b,#1e1e2a,#1e1e2a,#1e1e29,#1d1d29,#1c1c27,#1b1b26,#1a1a24,#181821,#16161f,#14141c,#13131b,#13131a,#121219,#121219,#121219,#121219,#13131a,#13131a,#13131a,#13131a,#13131b,#14141c,#15151c,#15151d,#15151d,#15151d,#14141c,#14141c,#15151d,#16161e,#16161f,#16161f,#16161f)"></i>
<i style="background:linear-gradient(90deg,#9bb6bb,#8294a2,#8192a1,#8fa6af,#8fa5af,#8699a6,#92aab2,#b2cece,#bfd6d6,#a7c7c7,#a0bdc0,#a9c8c8,#a7c7c7,#98b2b8,#8da3ad,#96afb6,#aac9c9,#b3cece,#a0bdc0,#8fa5af,#8da2ad,#98b2b8,#a4c2c4,#a9c8c8,#a5c4c5,#a2c0c2,#a8c8c8,#b6d1d1,#bad3d3,#aecbcb,#9dbabd,#93acb3,#96afb6,#a3c2c3,#b6d0d0,#bdd5d5,#b9d3d3,#aecccc,#a4c2c4,#9fbcbf,#a3c1c2,#aecbcb,#bcd4d4,#c1d7d7,#b7d1d1,#a4c2c4,#95aeb5,#8ba1ab,#869aa6,#8598a5,#889ca8,#8da3ad,#94adb4,#99b4b9,#9cb7bc,#9bb6bb,#98b2b8,#95aeb5,#91a9b1,#8da2ac,#879aa7,#8497a4,#879ba7,#8fa6af,#9ab5ba,#a6c5c6,#b7d1d1,#c6dbdb,#d0e1e1,#d5e4e4,#d3e3e3,#cbdede,#bad3d3,#a6c5c6,#98b2b8,#8ea5ae,#899da9,#879aa7,#889ca8,#8ba1ab,#90a7b0,#92aab2,#91a8b1,#8da3ad,#8a9faa,#8ca1ac,#91a8b1,#98b3b8,#a0bdc0,#aac9c9,#b8d2d2,#c4d9d9,#cbdede,#ccdfdf,#c9dcdc,#c0d7d7,#b9d3d3,#b9d2d2,#bed6d6,#c2d8d8,#bed6d6,#b5d0d0,#aecbcb,#b0cccc,#b9d3d3,#c2d8d8,#c5dada,#c4d9d9,#c4d9d9,#c2d8d8,#b7d1d1,#a3c2c3,#94acb3,#899da9,#8598a5,#8395a3,#7d8d9d,#748093,#6b748b,#666d86,#646a84,#636983,#626781,#606580,#5e627e,#5a5c7a,#545474,#4d4d6a,#484863,#464661,#474762,#474762,#454560,#43435c,#404058,#3d3d54,#3a3a50,#36364b,#343448,#333346,#333346,#343448,#35354a,#353549,#333346,#313144,#303043,#303042,#303042,#303042,#303042,#303042,#2f2f41,#2d2d3f,#2b2b3b,#272736,#232330,#1f1f2b,#1c1c27,#1b1b25,#1b1b25,#1b1b25,#1a1a24,#191922,#181820,#171720,#171720,#171720,#171720,#17171f,#17171f,#171720,#181820,#181821,#191922,#191922,#171720,#16161e,#15151d,#15151c,#14141c,#13131a,#121219,#111118,#101017,#101016,#101016,#0f0f15,#0f0f15,#0f0f14,#0f0f14,#0e0e14,#0e0e13,#0e0e13,#0d0d12,#0c0c11,#0c0c11,#0c0c10,#0c0c10,#0c0c10)"></i>
<i style="background:linear-gradient(90deg,#6e788e,#8699a6,#91a8b1,#889ca8,#8ba0ab,#a7c7c7,#c0d7d7,#a7c7c7,#93acb3,#97b1b7,#a2c0c2,#a1bec1,#93acb3,#8da3ad,#96afb6,#a0bcbf,#a2bfc1,#9ebabe,#9fbcbf,#afcccc,#bbd3d3,#aac9c9,#92aab2,#8091a0,#7f8f9f,#8ea4ae,#a0bdc0,#a5c5c5,#9db9bd,#8ea4ae,#8597a4,#889da8,#96afb6,#a4c3c4,#b0cdcd,#b4cfcf,#aecbcb,#a4c2c4,#9db9bd,#9cb8bc,#9fbcbf,#a5c4c5,#aac9c9,#abc9c9,#a4c2c3,#9ab5ba,#8fa6af,#8496a4,#7c8b9b,#7b8a9b,#8598a5,#94adb4,#9fbcbf,#a1bfc1,#9ebabd,#99b3b9,#95aeb5,#91a8b1,#8da2ad,#8a9faa,#899ea9,#8a9faa,#8ca2ac,#8fa5ae,#92aab2,#98b2b8,#9ebbbe,#a2c0c2,#a2c0c2,#a2c0c2,#a3c1c3,#a6c5c6,#a8c8c8,#a7c7c7,#a3c1c3,#9db9bd,#9ab4b9,#98b2b8,#96afb6,#93abb2,#8fa5ae,#8ca1ac,#8ca1ac,#8fa5af,#93abb3,#97b0b7,#99b4b9,#9db8bd,#a3c1c2,#adcbcb,#bad3d3,#c2d8d8,#c1d7d7,#bad3d3,#b1cece,#aac9c9,#a9c8c8,#b3cfcf,#c6dbdb,#d8e6e6,#deeaea,#dbe8e8,#d6e5e5,#d4e4e4,#d1e2e2,#c7dbdb,#b8d2d2,#a6c5c6,#98b2b8,#889ca8,#7b8a9b,#758195,#748194,#768396,#778496,#758195,#727d92,#6e788e,#687088,#636883,#606580,#606580,#616781,#626882,#656b84,#676f87,#676e86,#626782,#5b5e7b,#555575,#50506f,#4d4d6a,#484863,#42425b,#3c3c52,#36364b,#323245,#2e2e40,#2b2b3c,#2a2a3a,#2a2a39,#2a2a3a,#292939,#282837,#252533,#22222f,#20202c,#1e1e2a,#1e1e2a,#1f1f2b,#21212d,#21212e,#1f1f2b,#1b1b25,#16161f,#13131a,#121218,#121219,#13131a,#14141b,#14141c,#15151d,#15151e,#17171f,#181821,#1a1a24,#1a1a24,#1a1a24,#191923,#181821,#171720,#16161f,#14141c,#121219,#111118,#101016,#0f0f15,#0e0e13,#0d0d12,#0d0d12,#0d0d12,#0e0e14,#0f0f15,#101016,#111117,#111117,#111117,#111117,#121218,#121219,#13131a,#13131a,#13131b,#14141b,#15151c,#15151d,#15151d,#15151c,#14141b,#13131a)"></i>
<i style="background:linear-gradient(90deg,#889ca8,#8395a3,#7d8d9d,#8fa5af,#a1bec0,#9ab5ba,#8a9faa,#8fa5af,#a7c6c7,#bdd5d5,#b0cccc,#9ebbbe,#a2c0c2,#b4cfcf,#b9d2d2,#a9c8c8,#9ebbbe,#a3c2c3,#b7d1d1,#bed6d6,#aac9c9,#95aeb5,#889ca8,#8ca1ac,#9ab5ba,#a7c6c6,#a9c8c8,#9fbcbf,#91a9b1,#8ba0ab,#91a8b1,#9cb8bc,#a3c1c3,#a0bec0,#98b1b7,#8fa6af,#8da3ad,#94adb4,#a4c3c4,#bcd4d4,#ccdfdf,#cddfdf,#c0d7d7,#a8c8c8,#95aeb5,#8496a3,#798798,#778497,#7e8e9e,#8a9faa,#97b0b7,#9ebbbe,#9fbcbf,#9ab5ba,#93acb3,#8da2ad,#889ba8,#8598a5,#8699a6,#8a9ea9,#90a7b0,#97b1b7,#9fbcbf,#a7c7c7,#aecccc,#afcccc,#accaca,#abc9c9,#accaca,#abcaca,#aac9c9,#a8c8c8,#a5c4c5,#a0bdc0,#98b2b8,#90a7b0,#8a9faa,#879ba7,#889da8,#8da3ad,#94acb4,#9ab5ba,#a0bdc0,#a6c5c6,#aecbcb,#b3cfcf,#b3cfcf,#aecbcb,#a7c6c7,#a3c2c3,#a3c1c2,#a5c4c5,#abc9c9,#b3cfcf,#bbd4d4,#bfd7d7,#c0d7d7,#bdd5d5,#bad3d3,#b6d0d0,#b0cdcd,#accaca,#accaca,#aecbcb,#afcccc,#accaca,#a6c6c6,#a1bec1,#9ab4b9,#91a8b0,#889ba7,#8192a1,#7e8f9e,#7f8f9f,#7f909f,#7e8e9d,#7b899a,#778497,#727d92,#6c758c,#666d86,#636882,#626882,#636983,#656b85,#656c85,#656b84,#636983,#606580,#5c5f7c,#565776,#50506e,#494965,#43435d,#3f3f57,#3c3c53,#39394f,#35354a,#323244,#2f2f40,#2d2d3e,#2c2c3c,#2b2b3b,#2b2b3b,#2c2c3c,#2b2b3c,#292939,#262634,#22222f,#20202c,#1f1f2a,#1f1f2b,#1f1f2a,#1e1e2a,#1e1e29,#1d1d28,#1d1d28,#1d1d28,#1d1d28,#1c1c27,#1c1c27,#1d1d28,#1d1d28,#1d1d29,#1d1d28,#1c1c27,#1c1c27,#1d1d28,#1e1e29,#1f1f2b,#1f1f2a,#1d1d28,#1b1b25,#181822,#171720,#16161f,#16161f,#16161e,#15151d,#14141c,#14141b,#14141c,#14141c,#15151c,#14141c,#13131b,#121219,#101017,#0f0f15,#0e0e13,#0d0d13,#0d0d12,#0d0d12,#0d0d13,#0e0e14,#0f0f15,#101016,#101017,#111117,#101017)"></i>
<i style="background:linear-gradient(90deg,#798799,#8396a3,#93abb3,#8fa5ae,#7e8e9e,#7b899a,#8ea4ae,#a1bec1,#a1bfc1,#97b0b7,#9bb6bb,#b9d2d2,#d7e5e5,#d3e3e3,#b6d0d0,#a5c4c5,#adcbcb,#bdd5d5,#bfd6d6,#accaca,#9ab5ba,#93aab2,#96b0b6,#9cb8bc,#9ebabd,#99b4b9,#91a9b1,#8ba1ab,#8da3ad,#93acb3,#97b1b7,#93acb3,#8a9faa,#8091a0,#788698,#758195,#778597,#7f8f9f,#899ea9,#95afb5,#a1bfc1,#a9c8c8,#a7c7c7,#9fbcbf,#97b0b7,#92aab2,#94acb3,#99b4b9,#a2c0c2,#b1cdcd,#bcd5d5,#bbd4d4,#adcbcb,#9fbcbf,#95aeb5,#8da3ad,#889ca8,#8699a5,#889ca8,#8ea4ae,#96afb5,#9db9bd,#a1bec1,#a0bdc0,#99b3b9,#90a7b0,#8ba0ab,#8da2ad,#91a9b1,#94adb4,#96afb6,#98b2b8,#99b4b9,#97b1b7,#92aab2,#8ea4ae,#8da3ad,#8ea5ae,#8fa5af,#8da3ad,#8a9faa,#889ba7,#879ba7,#8ca1ab,#93abb2,#99b3b9,#9db9bd,#9fbcbf,#a3c1c3,#a8c7c7,#afcccc,#b7d1d1,#bdd5d5,#c1d8d8,#c4dada,#cadddd,#d4e4e4,#dfebeb,#e6efef,#e5eeee,#dce9e9,#cfe1e1,#c3d9d9,#b9d3d3,#b3cfcf,#aac9c9,#9ebabe,#8fa6af,#8192a0,#778597,#758195,#778497,#7b8a9b,#7f909f,#8091a0,#7d8c9d,#788698,#748194,#727e92,#6e798e,#686f88,#5f637f,#555675,#4e4e6c,#4c4c69,#4e4e6b,#4f4f6e,#50506e,#4f4f6d,#4d4d6a,#4a4a66,#464661,#44445e,#44445e,#44445e,#44445d,#42425b,#41415a,#404058,#3e3e55,#3a3a4f,#353549,#313144,#2f2f40,#2d2d3e,#2c2c3d,#2d2d3e,#2d2d3e,#2c2c3c,#292939,#262635,#242432,#22222f,#20202d,#1e1e2a,#1c1c27,#1b1b25,#1a1a24,#1a1a24,#1b1b25,#1b1b25,#1a1a24,#181821,#15151d,#14141b,#13131b,#14141c,#15151d,#16161e,#15151d,#14141c,#14141b,#14141c,#15151c,#15151d,#16161e,#16161e,#15151d,#14141b,#121218,#101017,#101016,#101016,#101016,#101016,#0f0f15,#0e0e14,#0e0e13,#0d0d12,#0d0d12,#0e0e13,#0e0e13,#0e0e13,#0d0d12,#0c0c10,#0b0b0f,#0a0a0e,#0a0a0d,#0a0a0e,#0b0b0f)"></i>
<i style="background:linear-gradient(90deg,#889ba7,#95aeb5,#8ca1ab,#7e8e9e,#8394a2,#8ea4ae,#90a6af,#889ca8,#879ba7,#99b4b9,#b4cfcf,#bfd6d6,#adcbcb,#9ebabe,#a1bec1,#b2cece,#bed5d5,#b1cdcd,#9bb6ba,#8ba1ab,#899da9,#8ea5ae,#92a9b2,#90a7b0,#8ca1ac,#899da9,#8ba0ab,#93abb2,#9bb7bb,#a1bec1,#a3c1c3,#a0bdc0,#97b1b7,#8ea4ad,#879ba7,#8699a5,#8598a5,#8395a3,#8192a1,#8091a0,#8192a0,#8294a2,#8395a3,#8497a4,#879ba7,#8ea4ae,#98b1b7,#a5c3c4,#bbd4d4,#cfe1e1,#d8e6e6,#cfe1e1,#bcd4d4,#a7c7c7,#9ebabd,#98b2b8,#96afb6,#95aeb5,#94acb4,#92aab2,#92aab2,#97b0b7,#9fbcbf,#accaca,#bcd4d4,#c5dada,#c2d8d8,#b8d2d2,#adcbcb,#a9c8c8,#aac9c9,#abcaca,#a6c6c6,#9ebbbe,#94adb4,#8a9faa,#8395a3,#7f8f9f,#7f909f,#8497a4,#8ba0ab,#90a7b0,#92aab2,#91a8b1,#90a7b0,#91a8b1,#95aeb5,#9cb8bc,#a6c5c6,#b8d2d2,#c9dddd,#d6e5e5,#e1ecec,#ebf2f2,#f4f8f8,#f9fbfb,#f6fafa,#f1f6f6,#eff5f5,#f1f6f6,#eff5f5,#e2eded,#cddfdf,#b6d1d1,#a8c8c8,#a6c5c6,#a8c7c7,#a7c7c7,#a2bfc2,#97b1b7,#8ca2ac,#8597a4,#8192a0,#7f909f,#7e8f9e,#7e8e9d,#7c8b9c,#7a899a,#798899,#788698,#758295,#707a8f,#687088,#626882,#5f637f,#5d607d,#5a5c7a,#565776,#525271,#50506e,#4f4f6d,#50506f,#525271,#525271,#4d4d6b,#464661,#3f3f58,#3b3b52,#3a3a50,#3b3b52,#3c3c53,#3d3d54,#3c3c53,#3a3a4f,#37374c,#36364a,#36364a,#35354a,#353549,#333346,#303043,#2d2d3f,#2b2b3b,#292939,#282838,#272736,#252533,#222230,#20202c,#1e1e29,#1d1d28,#1c1c27,#1c1c27,#1c1c27,#1d1d28,#1e1e29,#1f1f2b,#20202c,#1f1f2b,#1d1d28,#1b1b26,#191923,#181821,#16161e,#15151d,#14141c,#14141c,#14141c,#15151d,#15151d,#14141c,#14141c,#14141c,#15151d,#15151e,#16161f,#171720,#181822,#191923,#1a1a24,#1a1a25,#1a1a24,#191923,#181822,#181821,#171720,#171720,#171720,#171720,#17171f)"></i>
<i style="background:linear-gradient(90deg,#8294a2,#768396,#7e8d9d,#93abb3,#9db8bc,#94acb4,#889ca8,#8ea4ae,#9fbcbf,#abcaca,#a6c5c6,#9cb7bc,#9bb6bb,#a5c5c5,#b1cece,#accaca,#9db8bc,#8ea5ae,#8ca1ac,#97b0b7,#a6c5c6,#b2cece,#accaca,#9db9bd,#91a8b1,#8ea5ae,#96afb6,#a0bdc0,#a6c5c6,#a2c0c2,#98b2b8,#8ca1ac,#8598a5,#889ba7,#92aab2,#a1bec1,#b1cece,#bcd4d4,#bbd4d4,#b0cdcd,#a3c1c3,#9ab5ba,#97b1b7,#9bb7bb,#a5c4c5,#b3cfcf,#bbd4d4,#b8d2d2,#adcbcb,#a1bfc1,#99b3b9,#92aab2,#8da2ac,#889ca8,#8497a4,#8192a1,#80909f,#8293a1,#889ba7,#90a7b0,#98b3b8,#9ebbbe,#a2c0c2,#a5c4c5,#a7c6c6,#a7c6c7,#a4c3c4,#9fbcbf,#98b2b8,#90a8b0,#8a9ea9,#8598a5,#8496a4,#8496a4,#8598a5,#879ba7,#899da9,#8a9faa,#8ca2ac,#8ea4ae,#91a8b0,#94adb4,#9ab4ba,#9fbcbf,#a4c3c4,#a7c7c7,#aac9c9,#aecbcb,#b4cfcf,#b9d2d2,#b9d3d3,#b5d0d0,#b0cccc,#abcaca,#a9c8c8,#a8c8c8,#abc9c9,#b3cfcf,#c0d7d7,#cddfdf,#d1e2e2,#cadddd,#bcd4d4,#aac9c9,#9fbbbf,#96afb6,#8fa6af,#899da9,#8496a4,#8192a1,#8091a0,#8192a1,#8091a0,#7e8e9e,#798799,#737f93,#6e798e,#6c768c,#6c758c,#6c758c,#6b748b,#697189,#656c85,#616781,#5f637f,#5d617d,#5d617d,#5c607c,#5a5d7a,#565776,#50506f,#4a4a66,#45455f,#41415a,#3e3e56,#3c3c53,#3c3c52,#3b3b52,#3b3b51,#39394f,#36364b,#333347,#313144,#2f2f41,#2d2d3e,#2b2b3c,#2a2a3a,#292938,#282838,#292938,#2a2a3a,#2a2a3a,#2a2a3a,#292938,#262635,#242431,#22222e,#20202c,#1f1f2b,#1f1f2a,#1e1e2a,#1d1d29,#1d1d28,#1d1d28,#1e1e29,#1e1e2a,#1e1e29,#1c1c27,#1a1a24,#181821,#16161e,#14141c,#14141b,#13131b,#14141b,#14141c,#14141c,#14141c,#14141b,#13131a,#121219,#101016,#0f0f15,#0f0f14,#0f0f14,#0f0f14,#0e0e14,#0e0e13,#0e0e13,#0e0e13,#0e0e13,#0e0e14,#0e0e14,#0e0e13,#0d0d13,#0d0d12,#0d0d12,#0d0d11,#0c0c11,#0c0c10)"></i>
<i style="background:linear-gradient(90deg,#6c768c,#7d8d9d,#8ba0ab,#899ea9,#7f909f,#8193a1,#94acb4,#a1bec1,#99b4b9,#8598a5,#7a8899,#8293a1,#95aeb5,#a2c1c2,#a0bdc0,#92a9b2,#869aa6,#889ca8,#93abb3,#9fbcbf,#a3c2c3,#9db8bd,#8fa6af,#8598a5,#8598a5,#8da3ad,#95aeb5,#99b4b9,#96afb6,#8da3ad,#8597a5,#8496a4,#8ca1ab,#98b2b8,#a2c0c2,#a5c4c5,#a0bec0,#97b1b7,#8da2ac,#8496a4,#7f909f,#7f8f9e,#8395a3,#8da3ad,#9ab5ba,#a8c8c8,#b8d2d2,#bdd5d5,#b4cfcf,#a4c3c4,#97b1b7,#8da2ad,#8699a6,#8496a4,#8598a5,#899ea9,#90a7b0,#98b2b8,#a0bdc0,#a7c7c7,#aecccc,#b1cdcd,#b1cdcd,#afcccc,#a8c8c8,#9fbcbf,#94acb4,#899da9,#8294a2,#8091a0,#8193a1,#8394a2,#8193a1,#7c8c9c,#768295,#6f7a8f,#6d768c,#707b90,#798799,#8699a6,#91a9b1,#99b4b9,#9ebabe,#a1bfc1,#a5c4c5,#a9c8c8,#adcbcb,#b0cdcd,#b3cfcf,#b6d1d1,#b8d2d2,#b6d0d0,#afcccc,#a9c8c8,#a7c7c7,#abcaca,#b2cece,#b4cfcf,#afcccc,#a6c6c6,#a2bfc1,#a0bdc0,#a0bdc0,#9fbcbf,#9dbabd,#9bb7bb,#99b3b9,#94acb4,#8ba1ab,#8192a1,#788598,#727d92,#707b90,#717d91,#748093,#748194,#737f93,#707b90,#6e788e,#6c768c,#6b748b,#697189,#676e87,#646a84,#606580,#5c5f7b,#575877,#535372,#50506f,#4e4e6c,#4c4c69,#484863,#42425b,#3b3b51,#343447,#2e2e40,#2a2a3b,#272736,#232331,#1f1f2a,#1a1a24,#17171f,#14141c,#15151d,#171720,#1b1b26,#1f1f2b,#22222f,#242431,#252533,#262634,#262635,#272735,#262635,#262634,#252533,#242431,#22222f,#1f1f2b,#1d1d28,#1c1c27,#1d1d28,#1e1e29,#1e1e2a,#1e1e2a,#1d1d29,#1d1d27,#1c1c27,#1c1c27,#1d1d28,#1e1e29,#1f1f2b,#1f1f2b,#1f1f2b,#1d1d28,#1a1a24,#171720,#14141c,#111117,#0d0d12,#0a0a0e,#07070a,#050507,#040406,#030304,#030304,#030304,#040405,#060608,#08080c,#0c0c11,#101016,#14141b,#171720,#1a1a24,#1d1d28,#20202c,#21212e,#232330,#232331)"></i>
<i style="background:linear-gradient(90deg,#879aa6,#8395a3,#778597,#758295,#8699a6,#9ab5ba,#a0bdc0,#94acb4,#8699a6,#879aa7,#96afb5,#a3c2c3,#a5c4c5,#9ab5ba,#8ea4ae,#8ea4ae,#9cb7bb,#b0cdcd,#bdd5d5,#b1cdcd,#9cb7bb,#8ca2ac,#8a9ea9,#94adb4,#a5c4c5,#b9d2d2,#bfd6d6,#b3cfcf,#a1bec0,#95adb5,#92a9b2,#99b3b9,#a6c5c6,#b8d2d2,#c3d9d9,#c1d8d8,#b5d0d0,#a4c3c4,#98b2b8,#8ea4ae,#899da9,#8a9faa,#90a7b0,#99b4b9,#a3c1c3,#aac9c9,#adcbcb,#a8c8c8,#a0bec0,#97b1b7,#8da3ad,#8598a5,#80909f,#7d8c9d,#7d8d9d,#8091a0,#8699a6,#8da4ad,#97b0b6,#9fbcbf,#a7c6c6,#afcccc,#b4cfcf,#b6d0d0,#b2cece,#aac9c9,#a1bfc1,#99b3b8,#90a8b0,#8ba0ab,#889ca8,#889ca8,#899ea9,#8a9ea9,#889ca8,#8699a6,#8598a5,#889ba7,#8da2ad,#93acb3,#9ab4b9,#9ebabe,#a0bdc0,#a0bec0,#a2bfc1,#a4c3c4,#aac9c9,#b2cece,#b8d2d2,#bad3d3,#bcd4d4,#c0d7d7,#c6dbdb,#cddfdf,#d2e2e2,#d4e4e4,#d2e2e2,#cddfdf,#c7dbdb,#c0d7d7,#bbd4d4,#b6d1d1,#b0cdcd,#a8c7c7,#a1bfc1,#9bb7bb,#97b1b7,#94acb4,#90a6af,#8a9faa,#8496a3,#7d8c9d,#778497,#748094,#737f93,#748194,#768396,#768396,#758295,#727e92,#6f7a8f,#6c768c,#6a7289,#666d86,#626882,#5d617d,#585a78,#545473,#50506f,#4f4f6d,#4e4e6b,#4c4c69,#494965,#464660,#42425b,#3e3e56,#3b3b51,#38384e,#36364b,#343448,#333346,#313144,#303042,#2f2f41,#2e2e3f,#2c2c3d,#2a2a3b,#292938,#282837,#272736,#262635,#252533,#242432,#222230,#21212e,#21212d,#20202d,#20202d,#21212d,#21212d,#21212e,#21212e,#21212d,#20202c,#1e1e29,#1b1b26,#191922,#17171f,#15151d,#13131a,#121219,#121219,#13131a,#13131b,#14141b,#13131b,#13131a,#121219,#121218,#111118,#111117,#111117,#101017,#111117,#111117,#101017,#101016,#0f0f15,#0f0f15,#0f0f15,#0f0f14,#0f0f14,#0e0e14,#0e0e13,#0d0d12,#0d0d12,#0c0c11,#0c0c10,#0b0b0f,#0a0a0e)"></i>
<i style="background:linear-gradient(90deg,#7b8a9b,#758194,#8394a2,#9bb7bb,#abcaca,#a5c4c5,#95aeb5,#8fa6af,#99b3b9,#a5c4c5,#a5c4c5,#99b3b9,#899ea9,#8496a4,#8da3ad,#9db8bd,#a6c6c6,#a4c3c4,#99b4b9,#8da3ad,#899da9,#8fa6af,#9cb8bc,#a7c7c7,#accaca,#a4c2c4,#97b1b7,#8a9eaa,#8193a1,#8193a1,#8a9eaa,#98b2b8,#a8c8c8,#bbd3d3,#bcd4d4,#abcaca,#98b2b8,#879aa7,#7d8c9c,#7c8b9c,#8598a5,#94adb4,#a5c5c5,#bbd3d3,#c7dbdb,#c8dcdc,#c0d7d7,#b2cece,#a3c1c3,#96b0b6,#8ca2ac,#8699a6,#8497a4,#879aa6,#8ca1ac,#94acb3,#9db8bc,#a5c4c5,#aecbcb,#b4d0d0,#b7d1d1,#b7d1d1,#b3cfcf,#accaca,#a4c3c4,#9db8bc,#96afb6,#91a8b1,#8da3ad,#8a9faa,#879aa7,#8395a3,#7f8f9f,#7c8c9c,#7b8a9b,#7a899a,#7a899a,#798899,#798899,#7c8b9c,#8294a2,#8ca1ab,#97b1b7,#a3c1c3,#b3cfcf,#c4d9d9,#d0e1e1,#d5e4e4,#d5e4e4,#d2e2e2,#cfe1e1,#cee0e0,#cee0e0,#cfe0e0,#cfe0e0,#cfe1e1,#d1e2e2,#d3e3e3,#d1e2e2,#c9dddd,#bcd4d4,#b0cdcd,#aac9c9,#aac9c9,#accaca,#accaca,#a6c6c6,#9fbcbf,#96afb6,#8da3ad,#879ba7,#8597a4,#8294a2,#8090a0,#7c8b9c,#778597,#737f93,#6f7a8f,#6c758c,#697189,#666d86,#636983,#606580,#5e617d,#5b5e7b,#595b79,#575977,#555675,#525272,#4f4f6d,#4b4b68,#484864,#45455f,#43435c,#41415a,#404059,#404058,#3e3e55,#3a3a51,#37374c,#343447,#313144,#303042,#2f2f41,#2f2f40,#2e2e40,#2d2d3e,#2b2b3b,#292938,#272735,#252533,#232331,#22222e,#20202c,#1e1e2a,#1d1d28,#1c1c27,#1c1c27,#1c1c27,#1c1c27,#1c1c26,#1b1b25,#1a1a24,#191923,#191923,#191923,#191923,#191923,#191923,#191923,#191923,#191923,#1a1a24,#1a1a24,#1a1a24,#1a1a23,#191922,#171720,#16161e,#14141c,#13131a,#111117,#101016,#0f0f15,#0f0f15,#0f0f15,#0f0f14,#0e0e13,#0d0d12,#0c0c11,#0c0c10,#0b0b10,#0b0b0f,#0b0b0f,#0b0b0f,#0b0b10,#0c0c10,#0c0c11,#0c0c11,#0c0c11)"></i>
<i style="background:linear-gradient(90deg,#727d92,#8496a4,#92aab2,#91a9b1,#8598a5,#7d8d9d,#8698a5,#97b1b7,#a5c4c5,#a7c6c7,#9ebbbe,#96b0b6,#9bb6ba,#abcaca,#c2d8d8,#cadddd,#bed6d6,#a6c6c6,#99b4b9,#98b2b8,#a3c1c3,#b8d2d2,#c8dcdc,#c3d9d9,#aecbcb,#9ab5ba,#8da3ad,#8a9faa,#90a7b0,#9ab4b9,#a3c1c3,#a9c8c8,#abc9c9,#a6c5c6,#9ebabe,#93aab2,#879ba7,#8091a0,#8090a0,#879aa7,#93abb3,#a0bec0,#accaca,#b0cdcd,#abc9c9,#a1bfc1,#98b2b8,#8fa6af,#889ca8,#8395a3,#8091a0,#8193a1,#879ba7,#92aab2,#a0bdc0,#b0cdcd,#bed6d6,#c5dada,#c5dada,#c0d7d7,#b9d2d2,#b2cece,#a9c9c9,#a1bfc1,#98b1b7,#8da3ad,#8598a5,#8091a0,#7e8e9e,#7d8d9d,#7d8c9c,#7c8c9c,#7d8c9d,#7f8f9f,#8396a3,#8ba0ab,#94adb4,#9fbcbf,#abcaca,#bbd4d4,#c9dddd,#d5e4e4,#dce9e9,#e0ebeb,#e1ecec,#e1ecec,#e4eeee,#e7f0f0,#eaf2f2,#edf3f3,#eef4f4,#ecf3f3,#e6efef,#dbe8e8,#cee0e0,#c5dada,#c2d8d8,#c3d9d9,#c2d8d8,#bed5d5,#b6d1d1,#aecbcb,#a6c5c6,#a1bec1,#9cb8bc,#97b1b7,#91a9b1,#8ba0ab,#879aa6,#8497a4,#8396a3,#8395a3,#8294a2,#8091a0,#7e8e9e,#7b8a9b,#778597,#748094,#707b90,#6c768c,#687088,#666c86,#646b84,#646a84,#636983,#616681,#5e637e,#5b5e7b,#575977,#545474,#515170,#4f4f6d,#4b4b68,#474762,#43435c,#3f3f57,#3c3c53,#3b3b52,#3b3b51,#3b3b51,#3a3a50,#38384d,#353549,#323245,#303042,#2e2e3f,#2d2d3d,#2b2b3c,#2a2a3a,#292938,#282837,#272736,#272735,#262635,#252534,#252533,#232331,#22222f,#20202c,#1f1f2b,#1e1e2a,#1e1e2a,#1e1e29,#1d1d28,#1c1c27,#1b1b25,#1a1a23,#181822,#171720,#17171f,#16161e,#15151d,#14141c,#14141c,#15151d,#15151e,#16161e,#16161e,#15151d,#15151d,#15151d,#16161e,#16161f,#17171f,#171720,#171720,#181821,#181821,#171720,#17171f,#16161e,#15151d,#14141b,#13131a,#121219,#121219,#13131a,#13131b,#14141c,#14141c)"></i>
<i style="background:linear-gradient(90deg,#94adb4,#96afb6,#8ba0ab,#8091a0,#8598a5,#9ab5ba,#b2cece,#bcd5d5,#abcaca,#98b2b8,#90a7b0,#98b3b8,#abc9c9,#c2d8d8,#cadede,#c0d7d7,#aecbcb,#a5c4c5,#aac9c9,#b7d1d1,#c0d7d7,#bfd6d6,#b3cfcf,#a3c1c3,#97b1b7,#8fa6af,#8ea4ae,#93abb3,#9db9bd,#a8c8c8,#b6d0d0,#b8d2d2,#aecbcb,#9fbbbf,#92aab2,#8a9eaa,#889ca8,#8ca1ac,#93abb3,#9cb8bc,#a6c5c6,#b0cdcd,#b4d0d0,#b1cdcd,#a6c5c6,#9cb8bc,#92aab2,#889da8,#8192a1,#7d8d9d,#7e8e9e,#8496a4,#8da3ad,#98b2b8,#a4c3c4,#b5d0d0,#c5dada,#cee0e0,#cfe0e0,#c8dcdc,#bcd5d5,#afcccc,#a4c3c4,#9db9bd,#97b0b7,#92a9b1,#8da3ad,#8a9faa,#879ba7,#8598a5,#8395a3,#8293a1,#8192a1,#8193a1,#8395a3,#869aa6,#8ba0ab,#90a6af,#92aab2,#92aab2,#91a8b1,#90a6af,#90a6af,#92a9b2,#96afb6,#9bb6bb,#9fbcbf,#a2c0c2,#a6c5c6,#adcbcb,#b6d1d1,#bed6d6,#c3d9d9,#c3d9d9,#bfd6d6,#b9d3d3,#b2cece,#abcaca,#a6c5c6,#a3c1c3,#a0bdc0,#9db8bc,#99b3b8,#94adb4,#91a9b1,#8fa6af,#8fa5af,#8ea5ae,#8ea4ae,#8ca1ac,#899da9,#8699a5,#8293a1,#7e8e9e,#7a899a,#778597,#758295,#727e92,#6e788e,#6a728a,#666d86,#626882,#5f637f,#5c607c,#5a5c7a,#585978,#565776,#545574,#535372,#51516f,#4e4e6c,#4c4c69,#4b4b67,#4a4a66,#494965,#474763,#45455f,#42425b,#3f3f57,#3c3c52,#38384e,#353549,#323246,#313143,#303042,#2f2f41,#2f2f41,#2e2e40,#2e2e3f,#2d2d3f,#2d2d3e,#2d2d3e,#2c2c3d,#2b2b3b,#2a2a39,#282837,#272735,#262634,#252533,#242432,#232330,#22222e,#20202c,#1f1f2b,#1e1e29,#1c1c27,#1b1b26,#1a1a24,#191923,#191922,#191922,#191923,#1a1a23,#1a1a24,#1a1a25,#1b1b25,#1b1b25,#1a1a24,#1a1a24,#1a1a24,#191923,#191923,#191922,#191922,#181822,#181821,#171720,#17171f,#16161e,#15151d,#15151d,#16161e,#16161f,#17171f,#171720,#171720,#181821,#181822,#191922,#191923)"></i>
<i style="background:linear-gradient(90deg,#9cb8bc,#8da3ad,#8ca1ab,#9cb7bc,#b1cdcd,#b9d3d3,#abcaca,#9bb6bb,#92aab2,#99b4b9,#a9c8c8,#b8d2d2,#b5d0d0,#a5c4c5,#98b2b8,#91a9b1,#96afb5,#a2c0c2,#b6d1d1,#c6dbdb,#cadddd,#c1d7d7,#adcbcb,#9ebabe,#96b0b6,#98b2b8,#a1bfc1,#b1cdcd,#c2d8d8,#c9dddd,#c2d8d8,#afcccc,#9ebbbe,#93abb3,#8da3ad,#8ea4ae,#94acb4,#9db9bd,#a9c8c8,#bbd4d4,#c9dddd,#d0e1e1,#cddfdf,#c4d9d9,#b7d1d1,#abc9c9,#a3c1c3,#9ebabd,#9ab5ba,#9ab5ba,#9ebabe,#a4c3c4,#afcccc,#bbd4d4,#c5dada,#cfe0e0,#d8e6e6,#e0ebeb,#e5eeee,#e5eeee,#dfebeb,#d4e4e4,#c6dbdb,#b8d2d2,#accaca,#a4c3c4,#9fbcbf,#9bb7bb,#98b3b8,#97b1b7,#98b2b8,#9ab5ba,#9ebbbe,#a2c0c2,#a6c6c6,#accaca,#b3cece,#b9d3d3,#bed6d6,#c0d7d7,#c0d7d7,#c2d8d8,#cadddd,#d7e6e6,#e6efef,#f0f6f6,#f4f8f8,#f2f7f7,#edf4f4,#e6efef,#dce8e8,#d0e1e1,#c5dada,#bbd4d4,#b5d0d0,#b1cdcd,#afcccc,#b0cdcd,#b3cfcf,#b9d2d2,#bdd5d5,#bdd5d5,#bad3d3,#b4cfcf,#accaca,#a5c3c5,#9fbcbf,#9ab5ba,#96b0b6,#93acb3,#90a8b0,#8da3ad,#8a9eaa,#8699a6,#8395a3,#8091a0,#7d8d9d,#7a8899,#758195,#6f7a8f,#6a7289,#646a84,#5f647f,#5b5e7b,#585a78,#565776,#545474,#525271,#4f4f6d,#4b4b68,#484863,#464660,#44445f,#44445d,#43435d,#42425c,#42425b,#41415a,#404059,#404058,#3f3f57,#3e3e55,#3b3b52,#39394e,#36364a,#333346,#303042,#2d2d3e,#2b2b3b,#2a2a3a,#2a2a3a,#2a2a3a,#2b2b3b,#2a2a3a,#292938,#262635,#242431,#22222e,#20202c,#20202c,#20202c,#20202d,#21212e,#222230,#232330,#232330,#22222f,#21212e,#1f1f2b,#1d1d29,#1c1c26,#1b1b25,#1a1a24,#191923,#191923,#191923,#181822,#171720,#16161e,#15151d,#14141c,#14141c,#14141c,#14141c,#14141c,#14141b,#13131b,#13131b,#14141b,#14141b,#14141c,#14141b,#13131b,#121219,#111118,#101016,#0f0f15,#0e0e13,#0d0d12,#0d0d11)"></i>
<i style="background:linear-gradient(90deg,#8193a1,#899ea9,#98b2b8,#a2bfc1,#a0bcbf,#95aeb5,#8ba0ab,#8ea4ad,#9db8bd,#b0cdcd,#bbd4d4,#b2cece,#a1bec0,#94acb4,#91a8b1,#9bb6bb,#b0cdcd,#ccdede,#dbe8e8,#dae7e7,#cadddd,#b5d0d0,#a7c7c7,#a7c7c7,#b3cfcf,#c5dada,#d4e4e4,#dce9e9,#dbe8e8,#d2e3e3,#c4d9d9,#b2cece,#a5c4c5,#9fbcbf,#9ebbbe,#a2c0c2,#accaca,#bbd4d4,#c9dddd,#d1e2e2,#d1e2e2,#c9dddd,#bdd5d5,#afcccc,#a4c3c4,#9ebbbe,#9bb6bb,#99b4b9,#99b4b9,#9bb6bb,#9ebabe,#a3c1c3,#accaca,#bad3d3,#c7dbdb,#d0e1e1,#d7e6e6,#dde9e9,#e1ecec,#e1ecec,#dce9e9,#d1e2e2,#c1d8d8,#afcccc,#a0bdc0,#96afb6,#8fa6af,#8da3ad,#8fa5af,#94acb3,#9ab4ba,#a0bdc0,#a5c5c5,#abcaca,#b0cdcd,#b5d0d0,#b8d2d2,#bcd4d4,#c0d7d7,#c3d9d9,#c6dbdb,#c8dcdc,#cbdede,#cee0e0,#d1e2e2,#d5e5e5,#dae7e7,#dde9e9,#e0ebeb,#e3eded,#e6efef,#e8f0f0,#e7f0f0,#e3eded,#e0ebeb,#dfeaea,#e0ecec,#e3eded,#e4eeee,#dfeaea,#d5e4e4,#c9dddd,#c0d7d7,#bcd5d5,#bdd5d5,#bed5d5,#bcd5d5,#b9d2d2,#b3cece,#accaca,#a6c5c6,#a3c1c3,#a0bdc0,#9cb8bc,#96b0b6,#8ea4ae,#8496a4,#7a899a,#737f93,#6e788e,#6a7289,#666d86,#636882,#606580,#5e627e,#5c5f7c,#595b79,#555675,#525271,#4e4e6c,#4c4c69,#4b4b67,#4a4a66,#4a4a66,#494965,#494965,#484863,#464661,#45455f,#43435c,#414159,#3e3e55,#3b3b51,#39394e,#38384d,#38384d,#39394e,#39394f,#38384d,#36364b,#343448,#323246,#313144,#313143,#303043,#303042,#2f2f41,#2e2e3f,#2c2c3c,#292939,#272736,#252533,#242432,#242431,#232331,#232330,#22222f,#22222f,#21212e,#21212d,#20202d,#20202c,#1f1f2b,#1e1e29,#1d1d28,#1c1c27,#1b1b26,#1b1b25,#1a1a24,#1a1a24,#1b1b25,#1c1c27,#1e1e2a,#20202c,#21212d,#21212e,#21212d,#20202d,#20202c,#20202c,#20202c,#1f1f2b,#1f1f2a,#1e1e29,#1c1c27,#1b1b25,#191922,#171720,#15151d,#13131b)"></i>
<i style="background:linear-gradient(90deg,#92a9b1,#94acb4,#8ca2ac,#7f909f,#748094,#737f93,#80909f,#92a9b2,#a0bdc0,#a5c4c5,#a2c0c2,#9bb7bb,#99b3b9,#a1bec1,#b5d0d0,#ccdede,#d6e5e5,#d0e1e1,#bcd4d4,#a4c3c4,#97b1b7,#93abb3,#9ab5ba,#a9c8c8,#c1d7d7,#d1e2e2,#d5e5e5,#cee0e0,#bed6d6,#abcaca,#9fbcbf,#99b3b9,#98b2b8,#9cb8bc,#a2c0c2,#a9c8c8,#b1cdcd,#b8d2d2,#bbd4d4,#b9d2d2,#b1cdcd,#a6c5c6,#9db8bd,#94adb4,#8da3ad,#899da9,#879aa7,#879aa7,#8a9faa,#91a8b1,#9bb7bb,#a9c8c8,#bed6d6,#cfe1e1,#dae7e7,#dce9e9,#d7e6e6,#cee0e0,#c3d9d9,#b7d1d1,#aac9c9,#a0bec0,#99b3b8,#92aab2,#8ea4ae,#8da2ac,#8da3ad,#8fa6af,#91a9b1,#93abb3,#94acb4,#96afb6,#9bb6bb,#a3c2c3,#afcccc,#bad3d3,#bed6d6,#bed5d5,#bcd4d4,#bcd4d4,#c0d7d7,#c8dcdc,#d3e3e3,#deeaea,#e8f0f0,#eef4f4,#f0f5f5,#edf4f4,#e8f0f0,#e2eded,#deeaea,#dce8e8,#dae8e8,#d9e7e7,#d6e5e5,#d2e3e3,#cee0e0,#c8dcdc,#c0d7d7,#b7d1d1,#aecbcb,#a6c5c6,#a0bec0,#9cb7bc,#99b3b9,#98b1b7,#98b2b8,#98b3b8,#97b0b7,#93abb2,#8ca2ac,#8699a6,#8193a1,#7f8f9f,#7e8e9e,#7e8d9d,#7d8d9d,#7d8c9c,#7b8a9b,#798799,#778497,#748094,#707b90,#6c758c,#687088,#646a84,#616681,#5f637f,#5d617d,#5c5f7c,#5b5e7b,#595b79,#555675,#50506f,#494965,#43435d,#3f3f56,#3c3c53,#3b3b52,#3c3c52,#3c3c53,#3b3b52,#3a3a50,#37374c,#343447,#303042,#2d2d3e,#2b2b3b,#2a2a3a,#2a2a3a,#2a2a3a,#2b2b3b,#2b2b3b,#2b2b3b,#2a2a3a,#282838,#272736,#252534,#242432,#232330,#22222f,#21212d,#20202d,#20202c,#20202c,#20202c,#20202c,#20202c,#1f1f2b,#1e1e2a,#1e1e29,#1d1d28,#1c1c27,#1c1c26,#1b1b26,#1a1a24,#191923,#181821,#171720,#16161e,#15151c,#13131b,#13131a,#121219,#111118,#111118,#111117,#101016,#101016,#101016,#101017,#111118,#121218,#121218,#111118,#111117,#101016,#0f0f15,#0f0f14,#0e0e14)"></i>
<i style="background:linear-gradient(90deg,#8ca1ac,#8598a5,#7b899a,#768396,#80909f,#93abb2,#a5c4c5,#b3cfcf,#b3cece,#a6c6c6,#9db9bd,#9db8bc,#a5c5c5,#b7d1d1,#c2d8d8,#c2d8d8,#b9d3d3,#abcaca,#a3c1c2,#a0bec0,#a5c5c5,#b4d0d0,#c3d9d9,#cbdede,#cadddd,#c2d8d8,#b4cfcf,#a5c4c5,#9ab5ba,#92aab2,#8fa6af,#92a9b2,#99b3b9,#a2bfc2,#aecbcb,#bcd4d4,#c7dbdb,#ccdfdf,#c9dddd,#bed6d6,#afcccc,#a2bfc2,#99b3b9,#92aab2,#8fa6af,#90a7b0,#94adb4,#9bb6bb,#a3c2c3,#adcbcb,#b7d1d1,#bed5d5,#c3d9d9,#c7dcdc,#cbdede,#cddfdf,#cbdede,#c7dbdb,#c1d7d7,#bad3d3,#b2cece,#a9c8c8,#a3c1c3,#9ebabd,#99b3b9,#95adb5,#92a9b2,#91a8b0,#91a9b1,#94acb4,#97b1b7,#9db9bd,#a4c3c4,#b1cdcd,#c1d7d7,#cee0e0,#d5e4e4,#d4e3e3,#cddfdf,#c5dada,#c0d7d7,#bfd7d7,#c5dada,#cfe0e0,#dae8e8,#e4eeee,#eaf1f1,#e9f1f1,#e5efef,#e1ecec,#dfebeb,#e1ecec,#e3eded,#e3eded,#e1ecec,#dce9e9,#d5e4e4,#cee0e0,#c7dbdb,#bfd6d6,#b7d1d1,#afcccc,#a9c8c8,#a5c4c5,#a1bec1,#9cb7bc,#95afb5,#8fa6af,#8a9eaa,#879aa7,#8699a6,#8598a5,#8497a4,#8294a2,#7e8f9e,#7a889a,#768396,#737e92,#707b90,#6f798f,#6e788e,#6c768c,#6a728a,#666d86,#626782,#5d617d,#595b79,#555575,#525271,#4f4f6d,#4d4d6a,#4c4c68,#4b4b67,#4a4a66,#484864,#464661,#44445e,#42425b,#404058,#3e3e55,#3c3c52,#39394f,#37374c,#353549,#333346,#313144,#2f2f41,#2d2d3e,#2a2a3a,#282838,#272736,#262635,#262635,#262635,#272736,#282837,#282837,#282838,#282837,#272736,#252534,#242431,#22222f,#21212d,#20202c,#1f1f2b,#1f1f2b,#1f1f2b,#20202d,#21212e,#232330,#232331,#242431,#232331,#222230,#21212d,#1f1f2b,#1d1d28,#1b1b26,#1a1a24,#191922,#181821,#171720,#171720,#171720,#171720,#181821,#181821,#171720,#16161f,#15151e,#14141c,#14141b,#13131b,#14141b,#14141b,#14141c,#14141c,#14141c,#14141c)"></i>
<i style="background:linear-gradient(90deg,#8395a3,#798899,#7d8d9d,#8ca2ac,#9cb7bc,#a3c2c3,#a1bec1,#97b1b7,#8ca2ac,#899da8,#8fa6af,#9bb7bb,#a5c4c5,#aac9c9,#a7c7c7,#a1bfc1,#9ab5ba,#96afb6,#98b1b7,#a1bfc1,#b4cfcf,#c9dddd,#d6e5e5,#d7e5e5,#cddfdf,#bbd4d4,#a7c6c6,#9ab5ba,#92aab2,#91a8b1,#97b0b6,#a2c0c2,#b4cfcf,#c8dcdc,#d6e5e5,#deeaea,#dfeaea,#d8e6e6,#cadddd,#b7d1d1,#a3c1c3,#96afb6,#8ca1ab,#8699a6,#8497a4,#8699a6,#8a9faa,#90a7b0,#96b0b6,#9ebabe,#a6c6c6,#b1cece,#bad3d3,#bdd5d5,#bdd5d5,#bcd4d4,#bbd4d4,#b9d3d3,#b5d0d0,#adcbcb,#a3c1c3,#99b4b9,#90a7b0,#899da8,#8497a4,#8496a3,#8598a5,#889ca8,#8da2ac,#92a9b2,#98b2b8,#9fbbbf,#a7c6c6,#b3cfcf,#c0d7d7,#cadddd,#d0e1e1,#d2e3e3,#d3e3e3,#d4e3e3,#d6e5e5,#dbe8e8,#e1ecec,#e3eded,#e2ecec,#dce9e9,#d5e4e4,#d1e2e2,#d1e2e2,#d6e5e5,#dfeaea,#e7f0f0,#edf3f3,#edf4f4,#e9f1f1,#dfebeb,#d3e3e3,#c4d9d9,#b5d0d0,#a7c7c7,#9fbcbf,#96b0b6,#8ea4ae,#869aa6,#8192a1,#7f8f9f,#7f8f9f,#8092a0,#8293a1,#8192a1,#7e8e9e,#7a889a,#768396,#737f93,#717d91,#717c91,#717c90,#707b90,#707a8f,#6e788e,#6c758c,#6a7289,#676f87,#656b85,#626782,#5f637e,#5a5d7a,#565776,#535372,#50506f,#4e4e6c,#4d4d6a,#4a4a66,#464661,#42425c,#3e3e56,#3b3b51,#38384d,#37374c,#37374c,#37374d,#38384e,#38384e,#38384d,#36364b,#343448,#323246,#313143,#2f2f41,#2e2e3f,#2c2c3d,#2b2b3c,#2a2a3b,#292939,#282837,#272736,#262634,#252533,#242432,#242432,#242431,#232331,#222230,#21212e,#20202c,#1f1f2a,#1d1d28,#1b1b25,#191922,#171720,#16161f,#16161e,#16161e,#16161f,#17171f,#17171f,#17171f,#16161f,#17171f,#171720,#171720,#181821,#181821,#181822,#181821,#181821,#181821,#181821,#181822,#191923,#1a1a23,#1a1a24,#1a1a24,#191923,#191922,#181821,#171720,#16161f,#16161e,#16161e)"></i>
<i style="background:linear-gradient(90deg,#788698,#8395a3,#95aeb5,#a5c4c5,#b0cccc,#aac9c9,#9ebbbe,#95aeb5,#96afb5,#9fbcbf,#accaca,#b5d0d0,#b2cece,#a5c5c5,#99b4b9,#8fa6af,#8ca2ac,#93abb3,#a2c0c2,#bbd4d4,#d2e2e2,#dce9e9,#d8e6e6,#c8dcdc,#b3cfcf,#a3c1c3,#9bb6bb,#9ab5ba,#a1bec0,#aecbcb,#c0d7d7,#cfe0e0,#d7e5e5,#d7e6e6,#d2e2e2,#c7dcdc,#bbd3d3,#adcbcb,#a2c0c2,#9ab5ba,#94acb4,#8fa6af,#8da2ad,#8da3ad,#91a8b0,#97b0b6,#9ebabe,#a5c5c5,#afcccc,#b8d2d2,#c0d7d7,#c7dbdb,#ccdfdf,#d0e1e1,#d2e3e3,#d3e3e3,#cfe1e1,#c7dbdb,#b9d2d2,#a7c7c7,#9bb6bb,#90a7b0,#879ba7,#8293a2,#7f8f9f,#7e8f9e,#8091a0,#8294a2,#8598a5,#899ea9,#8fa5ae,#95aeb5,#9ebabe,#a8c8c8,#b8d2d2,#c6dbdb,#d0e1e1,#d5e4e4,#d5e4e4,#d2e2e2,#cee0e0,#cbdede,#cadddd,#cbdede,#d0e1e1,#d6e5e5,#dfebeb,#e8f0f0,#f0f5f5,#f4f8f8,#f4f8f8,#edf3f3,#e1ecec,#d4e4e4,#c9dddd,#c2d8d8,#bdd5d5,#b8d2d2,#b1cdcd,#a7c6c7,#9fbbbe,#96b0b6,#90a6af,#8ca1ab,#8a9faa,#8a9faa,#8a9faa,#8b9faa,#8a9faa,#889da8,#879aa6,#8497a4,#8294a2,#8091a0,#7d8d9d,#7a889a,#768396,#727e92,#6f798e,#6b748b,#697088,#666c86,#636883,#606580,#5e617e,#5c607c,#5c5f7b,#5b5e7b,#5a5d7a,#595b79,#565876,#545474,#515171,#4f4f6d,#4c4c69,#494965,#464661,#44445e,#43435d,#43435c,#43435c,#42425b,#404059,#3e3e56,#3c3c53,#3a3a50,#38384d,#36364a,#343448,#333346,#333346,#333346,#333347,#333346,#323245,#303042,#2d2d3f,#2a2a3b,#282837,#262634,#242432,#242432,#242432,#242432,#252532,#242432,#242432,#232331,#22222f,#21212e,#20202c,#1e1e2a,#1d1d28,#1c1c27,#1c1c26,#1b1b25,#1b1b25,#1a1a24,#1a1a24,#1a1a23,#1a1a24,#1a1a24,#1a1a24,#1b1b25,#1b1b25,#1a1a24,#1a1a24,#1a1a24,#1a1a24,#1a1a24,#1a1a24,#1b1b25,#1b1b25,#1b1b25,#1b1b25,#1a1a24,#191922,#171720,#16161f,#15151d)"></i>
<i style="background:linear-gradient(90deg,#899ea9,#92a9b1,#93acb3,#8ea4ad,#8294a2,#778597,#748194,#7b8a9b,#879ba7,#95adb4,#9fbcbf,#a3c1c3,#a0bdc0,#97b1b7,#8fa5af,#8da3ad,#94acb4,#a0bec0,#b2cece,#c1d8d8,#c7dbdb,#c3d9d9,#b8d2d2,#abcaca,#a3c1c3,#9ebbbe,#9ebbbe,#a2c0c2,#a8c8c8,#b0cdcd,#b7d1d1,#bed5d5,#c5dada,#ccdfdf,#cfe1e1,#cbdede,#bed6d6,#accaca,#9ebbbe,#95aeb5,#90a7b0,#91a8b0,#95aeb5,#9db8bd,#a5c3c4,#aecccc,#b7d1d1,#bed6d6,#c4d9d9,#c7dbdb,#c8dcdc,#c5dada,#bfd6d6,#b5d0d0,#a8c8c8,#9ebabe,#93abb3,#889ca8,#7f8f9f,#788698,#748094,#737f93,#758194,#788698,#7d8c9c,#8293a2,#879aa7,#8ba0ab,#8fa6af,#92aab2,#94adb4,#97b1b7,#9cb8bc,#a3c1c3,#afcccc,#bed6d6,#cbdede,#d4e4e4,#d8e6e6,#d9e7e7,#d9e7e7,#dae7e7,#dbe8e8,#dae8e8,#d7e6e6,#d2e2e2,#cbdede,#c6dada,#c2d8d8,#c1d7d7,#c1d7d7,#c0d7d7,#bdd5d5,#b8d2d2,#b1cdcd,#a8c8c8,#a2c0c2,#9db9bd,#99b4b9,#96b0b6,#95adb4,#93abb3,#91a9b1,#90a7b0,#8fa6af,#8fa5ae,#8ea4ae,#8da3ad,#8ca1ac,#8a9faa,#879ba7,#8497a4,#8192a1,#7d8d9d,#798799,#758295,#727d91,#6f798e,#6c758b,#687088,#636983,#5e637e,#5a5c7a,#575877,#555575,#535373,#525271,#50506f,#4e4e6c,#4c4c69,#4c4c69,#4d4d6a,#4f4f6d,#50506f,#50506f,#4f4f6d,#4c4c69,#484864,#44445f,#41415a,#3e3e56,#3d3d54,#3c3c53,#3b3b52,#3a3a50,#39394e,#37374c,#36364a,#353549,#353549,#353549,#353549,#35354a,#353549,#343447,#323244,#2f2f41,#2c2c3c,#282838,#252534,#232331,#22222f,#21212d,#21212d,#20202d,#20202c,#1f1f2b,#1e1e2a,#1e1e29,#1d1d28,#1d1d28,#1d1d27,#1d1d28,#1d1d28,#1d1d28,#1e1e29,#1e1e2a,#1f1f2b,#20202c,#20202c,#20202c,#1f1f2b,#1f1f2b,#1e1e2a,#1e1e29,#1e1e29,#1d1d29,#1d1d28,#1d1d28,#1d1d28,#1c1c27,#1b1b25,#1a1a24,#191923,#181822,#181820,#17171f,#16161e,#15151c,#14141b)"></i>
<i style="background:linear-gradient(90deg,#90a7b0,#899ea9,#7f909f,#768396,#748094,#7c8b9c,#8ba0ab,#9bb6ba,#a6c5c6,#accaca,#a7c7c7,#9fbcbf,#96afb6,#92aab2,#97b1b7,#a5c4c5,#bfd6d6,#d9e7e7,#edf3f3,#f5f8f8,#eff5f5,#dfeaea,#c8dcdc,#b2cece,#a5c3c4,#a2bfc2,#a5c4c5,#b0cdcd,#bfd6d6,#cddfdf,#d8e6e6,#dce9e9,#dae7e7,#d1e2e2,#c3d9d9,#b1cdcd,#a0bec0,#94adb4,#8a9faa,#8598a5,#8598a5,#8a9ea9,#91a8b1,#9ab5ba,#a3c1c3,#adcbcb,#b7d1d1,#bed5d5,#c0d7d7,#bed6d6,#b9d3d3,#b2cece,#a9c8c8,#a2bfc1,#9bb6ba,#94acb3,#8da3ad,#889ca8,#8496a3,#8192a1,#7f8f9f,#7e8e9e,#7e8e9e,#7f909f,#8293a2,#8598a5,#899da9,#8da3ad,#91a8b1,#95aeb5,#9bb6bb,#a1bec1,#a6c6c6,#adcbcb,#b3cece,#b8d2d2,#bed6d6,#c5dada,#cbdede,#cfe1e1,#d1e2e2,#d2e2e2,#d2e2e2,#d3e3e3,#d5e4e4,#d7e6e6,#d9e7e7,#d8e6e6,#d6e5e5,#d2e2e2,#cee0e0,#cadddd,#c6dbdb,#c2d8d8,#c0d7d7,#bed5d5,#bbd4d4,#b9d2d2,#b6d1d1,#b2cece,#adcbcb,#a6c5c6,#a0bdc0,#99b3b9,#92aab2,#8ca2ac,#889da8,#869aa6,#8699a5,#8598a5,#8497a4,#8294a2,#80909f,#7c8b9c,#778497,#727e92,#6d778d,#697189,#656c85,#626882,#606480,#5e627e,#5c5f7c,#5a5d7a,#585a78,#565675,#535372,#50506e,#4d4d6b,#4c4c69,#4b4b67,#4a4a67,#4a4a67,#4b4b67,#4b4b67,#4b4b67,#494965,#474762,#43435d,#3f3f57,#3c3c52,#39394f,#37374c,#36364b,#36364b,#37374b,#37374d,#38384e,#39394e,#38384e,#37374c,#353549,#333346,#303042,#2d2d3e,#2a2a3a,#282837,#262635,#252533,#242432,#242431,#232330,#22222f,#21212e,#20202d,#20202c,#20202c,#20202c,#1f1f2b,#1f1f2a,#1e1e29,#1d1d28,#1c1c27,#1b1b25,#1a1a24,#1a1a23,#191922,#181821,#171720,#171720,#16161f,#16161e,#16161e,#15151e,#15151d,#15151c,#14141b,#13131a,#121219,#121218,#111118,#111118,#111118,#111117,#101017,#101016,#101016,#0f0f15,#0f0f15,#0f0f15)"></i>
<i style="background:linear-gradient(90deg,#8fa5af,#7f909f,#778497,#798899,#8597a5,#92aab2,#9dbabd,#a3c1c2,#a1bec1,#9ab5ba,#91a8b0,#8a9faa,#8ba0ab,#94acb4,#a1bec1,#b0cdcd,#bdd5d5,#c0d7d7,#bad3d3,#aecbcb,#a2c0c2,#9bb6bb,#98b2b8,#9bb6bb,#a5c4c5,#bad3d3,#d0e1e1,#e1ecec,#e9f1f1,#e8f0f0,#dfeaea,#d0e1e1,#bdd5d5,#a9c8c8,#9cb8bc,#92aab2,#8ca1ac,#899ea9,#8a9faa,#8ea4ae,#94adb4,#9db8bc,#a6c5c6,#b3cfcf,#bfd6d6,#c7dcdc,#cadddd,#c8dcdc,#c3d9d9,#bbd4d4,#b3cece,#a8c8c8,#a0bdc0,#98b2b8,#90a7b0,#899da9,#8497a4,#8293a2,#8192a0,#8091a0,#8091a0,#8092a0,#8192a1,#8293a1,#8395a3,#8598a5,#8a9ea9,#90a7b0,#98b2b8,#a1bec1,#a9c8c8,#b1cdcd,#b5d0d0,#b7d1d1,#b6d1d1,#b4cfcf,#b1cdcd,#aecbcb,#abcaca,#abc9c9,#adcbcb,#b2cece,#b7d1d1,#bbd4d4,#bdd5d5,#bdd5d5,#bbd4d4,#b8d2d2,#b4cfcf,#b0cdcd,#accaca,#a7c7c7,#a4c3c4,#a2c0c2,#a0bdc0,#9fbcbf,#9ebbbe,#9db9bd,#9cb7bb,#99b4b9,#97b1b7,#95aeb5,#92aab2,#90a7b0,#8da3ad,#8a9faa,#869aa6,#8395a3,#7f909f,#7d8d9d,#7c8b9b,#7b8a9b,#7c8b9b,#7c8b9c,#7c8b9c,#7b8a9b,#798798,#758295,#717c91,#6d768d,#687088,#646a83,#5f647f,#5c5f7c,#595b79,#575877,#565776,#555575,#545473,#525271,#50506e,#4d4d6a,#4a4a66,#474762,#44445e,#42425b,#404058,#3e3e55,#3c3c53,#3a3a50,#39394e,#38384d,#36364b,#36364a,#353549,#343448,#333347,#323245,#313144,#313143,#303042,#2f2f41,#2e2e40,#2d2d3f,#2c2c3d,#2b2b3c,#2a2a3a,#282837,#262635,#242431,#22222e,#20202c,#1e1e2a,#1d1d28,#1d1d28,#1d1d28,#1d1d28,#1d1d28,#1d1d29,#1e1e29,#1d1d28,#1d1d28,#1c1c27,#1b1b26,#1a1a25,#1a1a24,#1a1a23,#1a1a23,#1a1a23,#191923,#191922,#181822,#181821,#171720,#16161f,#16161e,#15151d,#14141c,#14141c,#14141c,#15151d,#15151d,#16161e,#16161e,#15151d,#14141c,#13131a,#121219,#111118,#111117)"></i>
<i style="background:linear-gradient(90deg,#525271,#555675,#626782,#737e92,#8395a3,#8da3ad,#8fa6af,#899da9,#7e8e9e,#737f93,#6d778d,#707a8f,#788598,#8395a3,#8ea4ae,#96b0b6,#9bb6bb,#9ab5ba,#96afb6,#8fa6af,#899da9,#8699a5,#879ba7,#8da2ac,#94acb4,#9ab5ba,#9ebbbe,#a0bdc0,#9fbcbf,#9db9bd,#9ab5ba,#95aeb5,#8fa6af,#899da9,#8496a4,#8193a1,#8193a1,#8497a4,#899ea9,#8fa6af,#96afb6,#9cb8bc,#a1bfc1,#a5c4c5,#a7c6c6,#a6c6c6,#a5c3c4,#a2c0c2,#9fbcbf,#9db9bd,#9bb6ba,#98b1b7,#94acb4,#8fa6af,#8a9faa,#8598a5,#8192a1,#7e8e9e,#7c8c9c,#7d8c9c,#7f8f9f,#8395a3,#889ca8,#8ea4ae,#93acb3,#98b2b8,#9cb7bc,#a0bdc0,#a4c3c4,#abc9c9,#b4d0d0,#bdd5d5,#c4d9d9,#c8dcdc,#c9dddd,#c8dcdc,#c5dada,#c2d8d8,#bed6d6,#bcd4d4,#bcd4d4,#bed6d6,#c1d8d8,#c3d9d9,#c2d8d8,#c0d7d7,#bdd5d5,#bdd5d5,#bed6d6,#c1d8d8,#c4dada,#c4dada,#c1d7d7,#b9d2d2,#aecbcb,#a3c2c3,#9cb7bc,#95aeb5,#90a7b0,#8da2ad,#8a9faa,#889ca8,#879aa7,#8699a6,#8699a6,#879aa7,#889ca8,#889ca8,#879ba7,#8496a4,#7f909f,#7b8a9b,#778496,#737f93,#717c91,#6f798e,#6c758c,#697289,#666e86,#636983,#606580,#5d617d,#5a5d7a,#585a78,#565776,#545474,#535372,#525271,#50506e,#4d4d6b,#4b4b67,#474763,#44445e,#41415a,#3f3f57,#3d3d55,#3c3c53,#3b3b52,#3b3b51,#3a3a51,#3b3b51,#3b3b52,#3c3c53,#3d3d54,#3d3d54,#3c3c53,#3a3a50,#38384d,#353549,#323246,#303042,#2e2e40,#2e2e3f,#2d2d3e,#2d2d3e,#2d2d3e,#2c2c3d,#2b2b3c,#2b2b3b,#2a2a3a,#292939,#292938,#282837,#272736,#262635,#252533,#242431,#22222f,#20202d,#1e1e2a,#1c1c27,#1a1a24,#181821,#17171f,#16161e,#16161f,#171720,#181821,#191922,#191923,#191923,#191923,#191923,#191923,#191923,#191923,#191922,#191922,#181822,#181821,#181821,#181821,#181821,#181821,#171720,#16161f,#15151d,#14141c,#14141b,#13131a)"></i>
<i style="background:linear-gradient(90deg,#7c8c9c,#899ea9,#96afb6,#9dbabd,#9ebbbe,#99b3b9,#8fa6af,#8699a6,#8293a2,#8699a6,#92aab2,#a2c0c2,#b8d2d2,#cbdede,#d6e5e5,#d6e5e5,#cddfdf,#bbd4d4,#a7c7c7,#9db9bd,#98b2b8,#9bb5ba,#a3c1c3,#b4cfcf,#cadddd,#dfebeb,#eff5f5,#f7fafa,#f5f9f9,#eaf2f2,#d9e7e7,#c4d9d9,#b1cdcd,#a4c2c4,#9fbbbe,#9fbbbf,#a4c2c3,#afcccc,#bfd6d6,#cee0e0,#d9e7e7,#e0ebeb,#e3eded,#e3eded,#e2eded,#e0ebeb,#dbe8e8,#d3e3e3,#c9dddd,#bed6d6,#b2cece,#a7c7c7,#a1bec1,#9bb7bb,#97b1b7,#95aeb5,#94acb4,#94adb4,#96afb5,#97b1b7,#99b4b9,#9bb6bb,#9db9bd,#9fbbbe,#a1bec0,#a3c1c2,#a4c3c4,#a5c4c5,#a5c5c5,#a7c7c7,#accaca,#b3cfcf,#bcd4d4,#c5dada,#cddfdf,#d4e3e3,#dae7e7,#dfebeb,#e5eeee,#eaf2f2,#eff5f5,#f2f7f7,#f4f8f8,#f5f9f9,#f5f8f8,#f3f7f7,#eff5f5,#e9f1f1,#e1ecec,#d8e6e6,#cfe1e1,#c8dcdc,#c3d9d9,#c0d7d7,#bed6d6,#bed5d5,#bcd5d5,#b9d3d3,#b5d0d0,#b0cdcd,#accaca,#a7c7c7,#a4c3c4,#a0bec0,#9cb8bc,#99b3b8,#95aeb5,#93abb3,#91a8b0,#8ea4ae,#8a9faa,#8598a5,#7f8f9f,#788598,#717c90,#6b738a,#666d86,#646a84,#646a83,#646b84,#666d86,#666e86,#666d86,#646a84,#616681,#5d607d,#595a78,#555575,#525272,#50506f,#4f4f6d,#4e4e6b,#4c4c69,#4a4a66,#484863,#45455f,#42425c,#404059,#3f3f57,#3e3e55,#3d3d55,#3d3d54,#3c3c53,#3b3b52,#3a3a50,#3a3a4f,#39394f,#3a3a50,#3a3a51,#3b3b52,#3b3b52,#3b3b52,#3a3a50,#38384e,#36364b,#343448,#323245,#303042,#2e2e3f,#2c2c3d,#2b2b3b,#292938,#272736,#252533,#242431,#22222f,#21212e,#20202d,#20202c,#1f1f2b,#1f1f2b,#1f1f2b,#1f1f2b,#20202c,#20202c,#20202c,#20202c,#1f1f2b,#1f1f2b,#1f1f2b,#1f1f2b,#1f1f2b,#20202c,#1f1f2b,#1f1f2b,#1e1e2a,#1e1e29,#1d1d28,#1c1c27,#1c1c26,#1b1b25,#1b1b25,#1a1a24,#191923,#191922,#181821,#171720,#16161f,#16161e,#15151d)"></i>
<i style="background:linear-gradient(90deg,#8293a2,#8598a5,#8395a3,#7d8d9d,#758195,#6d768d,#697189,#6c768c,#778597,#879ba7,#97b1b7,#a3c2c3,#aac9c9,#a7c7c7,#a1bec1,#98b3b8,#91a8b1,#8da3ad,#8ea4ae,#95aeb5,#a1bec1,#b2cece,#c5dada,#d1e2e2,#d4e4e4,#d0e1e1,#c8dcdc,#bed6d6,#b3cece,#a7c6c7,#9fbbbe,#97b0b7,#91a9b1,#8fa6af,#91a8b1,#97b1b7,#a1bec0,#aecccc,#c0d7d7,#d0e1e1,#dce9e9,#e4eeee,#e6efef,#e3eded,#dce9e9,#d2e2e2,#c7dbdb,#bcd4d4,#b3cfcf,#accaca,#a7c6c7,#a3c2c3,#a0bdc0,#9cb8bc,#99b3b9,#95aeb5,#93abb3,#93abb2,#94acb3,#96afb6,#99b4b9,#9db9bd,#a0bec0,#a3c1c3,#a5c4c5,#a7c7c7,#accaca,#b1cece,#b9d2d2,#c1d8d8,#c9dddd,#cee0e0,#d2e2e2,#d2e3e3,#d3e3e3,#d3e3e3,#d6e5e5,#dae8e8,#e0ebeb,#e6efef,#e9f1f1,#e8f0f0,#e2eded,#d8e6e6,#cddfdf,#c3d9d9,#bcd4d4,#bad3d3,#bcd4d4,#bfd6d6,#c1d7d7,#c1d7d7,#bfd6d6,#bcd4d4,#b8d2d2,#b4cfcf,#b0cdcd,#accaca,#a7c6c7,#a3c1c3,#9fbcbf,#9cb7bc,#99b4b9,#98b2b8,#97b0b6,#95aeb5,#93acb3,#91a8b1,#8ea4ae,#8ba0ab,#889ca8,#8598a5,#8293a1,#7e8e9e,#7a899a,#768396,#737f93,#707a90,#6d778d,#6a728a,#676e87,#646a83,#616580,#5e627e,#5b5e7b,#595b79,#575877,#555575,#535372,#50506f,#4e4e6b,#4b4b68,#494965,#484863,#474762,#474761,#474762,#474762,#474762,#474762,#464660,#44445e,#42425b,#3f3f57,#3b3b52,#38384d,#343448,#313144,#2e2e40,#2c2c3c,#2a2a3a,#292939,#282838,#282837,#282837,#282837,#282837,#282837,#272736,#272736,#272736,#272735,#262635,#262634,#252533,#242432,#232330,#22222f,#21212e,#21212e,#21212e,#22222f,#22222f,#22222f,#22222f,#22222f,#22222f,#21212e,#20202c,#1f1f2b,#1d1d29,#1c1c27,#1b1b25,#1a1a24,#1a1a24,#1a1a24,#1a1a24,#1a1a24,#1a1a23,#191923,#181822,#181821,#171720,#16161f,#15151e,#15151c,#14141b,#13131a,#121219,#111118)"></i>
<i style="background:linear-gradient(90deg,#7c8b9c,#778497,#6e788e,#636983,#5a5d7a,#575977,#5c5f7c,#676e87,#768396,#8699a6,#95adb4,#9fbbbf,#a3c1c3,#a2c0c2,#9db9bd,#97b0b7,#93abb3,#95adb5,#9cb7bc,#a7c7c7,#bbd4d4,#cddfdf,#dbe8e8,#e1ecec,#e1ecec,#dbe8e8,#d0e1e1,#c2d8d8,#b1cece,#a3c2c3,#9bb6ba,#94adb4,#92aab2,#94adb4,#9ab5ba,#a2c0c2,#afcccc,#bdd5d5,#c9dcdc,#d0e1e1,#d4e4e4,#d5e4e4,#d4e3e3,#d1e2e2,#cddfdf,#c8dcdc,#c0d7d7,#b7d1d1,#adcbcb,#a5c4c5,#a0bdc0,#9cb8bc,#9ab4b9,#97b1b7,#95aeb5,#94acb3,#92aab2,#91a8b1,#91a8b1,#92aab2,#94adb4,#98b2b8,#9cb7bc,#a0bdc0,#a5c4c5,#abc9c9,#b2cece,#bad3d3,#c2d8d8,#cadddd,#d2e2e2,#d9e7e7,#e0ebeb,#e6efef,#ebf2f2,#eef4f4,#eff5f5,#eff5f5,#eff5f5,#eef4f4,#eef4f4,#eff5f5,#f0f6f6,#f1f6f6,#f1f6f6,#eef4f4,#e8f0f0,#dfebeb,#d5e4e4,#cbdede,#c3d9d9,#bcd4d4,#b7d1d1,#b4cfcf,#b1cece,#aecbcb,#a7c7c7,#a1bfc1,#9bb6bb,#94adb4,#8fa6af,#8ca2ac,#8ba0ab,#8ba0ab,#8ba0ab,#8a9faa,#899da8,#8699a6,#8396a3,#8192a0,#7e8e9e,#7c8b9c,#798899,#778497,#748094,#707b90,#6c768c,#697189,#666c85,#636983,#616781,#606580,#5e637e,#5d607d,#5b5e7b,#5a5c79,#585a78,#575877,#565776,#555675,#545474,#535373,#525271,#50506e,#4e4e6c,#4b4b68,#494964,#464660,#43435c,#41415a,#404058,#3f3f57,#3f3f57,#3e3e56,#3d3d55,#3b3b52,#39394f,#37374c,#36364a,#343448,#343448,#333347,#333346,#323245,#313144,#2f2f42,#2e2e3f,#2c2c3c,#2a2a3a,#282838,#272736,#262635,#262634,#252533,#252533,#252533,#252534,#252533,#252533,#252533,#242432,#232331,#232330,#222230,#22222f,#22222f,#22222f,#21212e,#21212e,#21212d,#20202c,#1f1f2b,#1f1f2a,#1f1f2a,#1f1f2b,#20202c,#21212d,#22222f,#232330,#242432,#252533,#262635,#272735,#272736,#272736,#272735,#262635,#252534,#252533,#242432)"></i>
<i style="background:linear-gradient(90deg,#7d8d9d,#748194,#6d778d,#6b748b,#717c91,#7c8c9c,#8a9faa,#97b1b7,#a1bec1,#a6c5c5,#a5c4c5,#a0bec0,#98b2b8,#8ea4ae,#8598a5,#8091a0,#8192a1,#879ba7,#92a9b2,#9ebbbe,#adcbcb,#bed5d5,#c8dcdc,#cadddd,#c4d9d9,#b8d2d2,#a9c8c8,#9fbbbe,#96afb6,#90a6af,#8ca2ac,#8da3ad,#92a9b2,#99b4b9,#a3c2c3,#b2cece,#c1d8d8,#cddfdf,#d5e4e4,#d9e7e7,#dae8e8,#dbe8e8,#dae8e8,#d9e7e7,#d7e5e5,#d1e2e2,#c8dcdc,#bbd4d4,#accaca,#a1bfc1,#99b3b8,#91a9b1,#8ca2ac,#899da9,#879aa7,#879aa6,#879ba7,#899da9,#8ba0ab,#8da2ad,#8ea5ae,#90a6af,#91a8b0,#92a9b2,#93acb3,#96afb6,#99b3b9,#9cb8bc,#a0bdc0,#a5c4c5,#accaca,#b5d0d0,#bed6d6,#c7dbdb,#cfe0e0,#d5e4e4,#dae7e7,#deeaea,#e1ecec,#e3eded,#e5efef,#e5efef,#e3eded,#deeaea,#d8e6e6,#d1e2e2,#cadddd,#c5dada,#c2d8d8,#c1d7d7,#c1d8d8,#c1d8d8,#bfd7d7,#bcd4d4,#b7d1d1,#b1cdcd,#aac9c9,#a6c5c6,#a3c1c3,#a0bdc0,#9db9bd,#99b4b9,#94adb4,#8fa5af,#899da9,#8395a3,#7d8d9d,#798799,#768396,#758195,#758295,#778496,#788698,#798899,#798799,#778497,#737f93,#6e798e,#6a7289,#656c85,#616781,#5f637f,#5d607c,#5b5d7b,#595b79,#585977,#565776,#555575,#535373,#525271,#51516f,#4f4f6d,#4d4d6b,#4b4b68,#494965,#484863,#464660,#44445e,#42425b,#3f3f57,#3c3c53,#39394e,#353549,#313144,#2e2e3f,#2b2b3b,#292939,#282837,#282837,#282838,#292939,#2a2a3a,#2b2b3b,#2b2b3b,#2b2b3b,#2a2a3a,#292938,#272736,#252534,#232331,#22222f,#21212d,#20202d,#21212d,#21212e,#22222e,#22222f,#22222f,#21212e,#21212d,#20202c,#1f1f2b,#1e1e2a,#1e1e29,#1d1d28,#1d1d28,#1c1c27,#1c1c26,#1b1b25,#1a1a24,#191923,#191922,#181822,#181821,#181821,#181822,#181822,#191922,#191922,#191922,#191922,#191922,#191922,#191922,#191922,#191922,#191922,#181821,#181821,#171720)"></i>
<i style="background:linear-gradient(90deg,#6d768d,#666d86,#666e86,#6d778d,#788598,#8395a3,#8ca2ac,#93abb3,#95aeb5,#94adb4,#90a6af,#899ea9,#8396a3,#8192a0,#8294a2,#8a9ea9,#94adb4,#a0bdc0,#adcbcb,#bad3d3,#c2d8d8,#c4dada,#c2d8d8,#bcd5d5,#b5d0d0,#accaca,#a4c3c4,#9ebbbe,#99b4b9,#96b0b6,#96afb6,#97b1b7,#9bb7bb,#a1bec1,#a7c7c7,#b0cdcd,#b9d3d3,#c0d7d7,#c6dada,#c8dcdc,#c8dcdc,#c6dada,#c1d7d7,#bbd4d4,#b6d1d1,#b3cece,#b0cdcd,#aecbcb,#aac9c9,#a5c4c5,#a1bec1,#9cb7bc,#97b1b7,#94adb4,#93abb3,#93abb3,#94adb4,#97b0b6,#99b4b9,#9cb8bc,#a0bdc0,#a4c3c4,#aac9c9,#b1cdcd,#b8d2d2,#bed6d6,#c4d9d9,#cadddd,#d2e3e3,#dce9e9,#e6efef,#eff5f5,#f5f9f9,#f8fafa,#f7fafa,#f3f7f7,#eef4f4,#e8f1f1,#e3eded,#dfebeb,#dbe8e8,#d7e6e6,#d4e4e4,#d0e1e1,#ccdede,#c7dbdb,#c2d8d8,#bdd5d5,#b9d3d3,#b6d0d0,#b4cfcf,#b3cece,#b3cece,#b3cfcf,#b3cfcf,#b3cfcf,#b1cece,#aecccc,#aac9c9,#a6c6c6,#a3c2c3,#a0bec0,#9db9bd,#9ab5ba,#96afb6,#90a8b0,#8a9faa,#8496a4,#7e8e9e,#788698,#737f93,#6f7a8f,#6c758c,#697289,#676f87,#666d86,#666d86,#666d86,#666d86,#666c85,#656b84,#626882,#606480,#5c607c,#595b79,#575877,#555575,#535373,#525271,#50506f,#4f4f6d,#4d4d6a,#4c4c69,#4b4b67,#4a4a66,#494964,#474762,#45455f,#42425c,#404058,#3e3e56,#3d3d55,#3d3d54,#3d3d54,#3d3d54,#3d3d54,#3c3c53,#3b3b51,#39394e,#36364b,#343447,#313143,#2e2e3f,#2b2b3c,#2a2a3a,#292938,#292938,#292938,#292939,#292939,#292939,#292939,#292938,#282837,#272736,#262634,#252533,#242432,#242431,#232330,#232330,#232330,#222230,#222230,#22222f,#22222f,#22222f,#22222f,#22222f,#21212e,#21212d,#20202c,#1f1f2b,#1f1f2a,#1e1e29,#1e1e29,#1d1d28,#1d1d28,#1d1d27,#1c1c27,#1c1c26,#1b1b26,#1b1b25,#1b1b25,#1b1b26,#1b1b26,#1c1c26,#1c1c26,#1c1c26,#1c1c26)"></i>
<i style="background:linear-gradient(90deg,#768396,#7a899a,#8496a4,#8da3ad,#95aeb5,#99b3b8,#98b2b8,#94adb4,#8da3ad,#8598a5,#7e8e9e,#7a889a,#7a899a,#8091a0,#8a9ea9,#95aeb5,#a0bec0,#abcaca,#b6d0d0,#bbd4d4,#bcd4d4,#b8d2d2,#b0cccc,#a5c5c5,#9ebabe,#97b1b7,#92aab2,#91a8b1,#93abb3,#98b2b8,#a0bdc0,#a9c8c8,#b7d1d1,#c2d8d8,#cadddd,#cfe0e0,#d0e1e1,#d0e1e1,#cfe0e0,#cddfdf,#cbdede,#c8dcdc,#c4dada,#bfd6d6,#b8d2d2,#b1cdcd,#a9c8c8,#a4c2c3,#9ebabe,#98b2b8,#92aab2,#8ca1ac,#879aa7,#8395a3,#8192a1,#8193a1,#8597a4,#8a9eaa,#90a7b0,#97b1b7,#9ebabe,#a4c2c4,#aac9c9,#b0cdcd,#b5d0d0,#b9d2d2,#bdd5d5,#c1d8d8,#c7dbdb,#cddfdf,#d3e3e3,#d9e7e7,#deeaea,#e1ecec,#e3eded,#e3eded,#e1ecec,#deeaea,#d9e7e7,#d3e3e3,#cddfdf,#c7dbdb,#c1d8d8,#bcd4d4,#b6d0d0,#afcccc,#a8c7c7,#a3c1c3,#9fbbbf,#9cb8bc,#9cb7bc,#9db9bd,#9fbcbf,#a2bfc1,#a2c0c2,#a1bec1,#9db9bd,#98b2b8,#93abb3,#8ea4ae,#8a9eaa,#879ba7,#8699a6,#8699a6,#869aa6,#889ba7,#899da9,#8a9faa,#8ba0ab,#8ba0aa,#8a9eaa,#889ca8,#8699a6,#8395a3,#7f909f,#7b8a9b,#778497,#727e92,#6e788e,#6a7289,#666d86,#626882,#5f647f,#5c607c,#595c79,#575877,#555574,#535372,#515170,#50506e,#4e4e6b,#4b4b67,#474762,#43435c,#3f3f57,#3b3b52,#39394e,#37374c,#37374b,#37374c,#37374d,#38384d,#38384d,#38384d,#37374c,#36364b,#353549,#333347,#323244,#2f2f41,#2d2d3f,#2b2b3c,#2a2a3a,#292939,#292938,#292939,#292939,#2a2a3a,#2a2a3b,#2b2b3b,#2a2a3a,#292939,#282837,#262635,#252533,#232331,#22222f,#22222f,#22222f,#22222f,#22222f,#22222f,#21212e,#21212d,#20202d,#1f1f2b,#1f1f2a,#1e1e29,#1d1d28,#1c1c27,#1c1c26,#1b1b25,#1b1b25,#1a1a24,#1a1a24,#191923,#191923,#181822,#181821,#171720,#17171f,#16161e,#15151d,#14141c,#13131b,#13131a,#13131a,#12121a,#121219,#121219)"></i>
<i style="background:linear-gradient(90deg,#707b90,#798798,#8192a1,#879ba7,#8ba0ab,#8ba0ab,#899da9,#8497a4,#7f8f9f,#7a899a,#798799,#7c8c9c,#8597a5,#90a7b0,#9db9bd,#a9c9c9,#b8d2d2,#c1d7d7,#c4dada,#c2d8d8,#bbd4d4,#b0cdcd,#a4c2c3,#99b4b9,#90a7b0,#889ca8,#8497a4,#8597a5,#899ea9,#91a9b1,#9cb7bb,#a7c6c7,#b7d1d1,#c5dada,#d0e1e1,#d7e5e5,#dbe8e8,#dce9e9,#dce9e9,#d9e7e7,#d5e4e4,#cee0e0,#c4dada,#b8d2d2,#abc9c9,#a1bfc1,#9ab4b9,#94acb3,#8fa6af,#8ca2ac,#8ba0ab,#8a9faa,#8ba0ab,#8da3ad,#90a7b0,#95aeb5,#9bb6bb,#a2c0c2,#accaca,#b9d2d2,#c5dada,#d0e1e1,#d8e6e6,#dce9e9,#dfeaea,#e0ebeb,#e1ecec,#e3eded,#e5eeee,#e7f0f0,#e9f1f1,#e9f1f1,#eaf1f1,#eaf2f2,#eaf2f2,#ebf2f2,#ebf2f2,#e9f1f1,#e5eeee,#deeaea,#d5e4e4,#cbdede,#c0d7d7,#b7d1d1,#afcccc,#a9c8c8,#a6c5c6,#a5c4c5,#a6c5c6,#a8c8c8,#accaca,#b1cdcd,#b4cfcf,#b6d0d0,#b5d0d0,#b3cfcf,#aecccc,#a8c8c8,#a3c2c3,#9ebbbe,#9ab4ba,#96afb5,#92aab2,#90a7b0,#8ea4ad,#8ba1ab,#899da9,#8598a5,#8091a0,#7b8a9b,#768395,#717c91,#6d778d,#6a738a,#697189,#686f88,#676f87,#676e87,#666d86,#656c85,#636983,#616681,#5f637e,#5c5f7b,#585a78,#555575,#515170,#4d4d6b,#4a4a66,#474762,#45455f,#44445d,#43435d,#43435d,#44445e,#44445e,#44445e,#44445d,#42425b,#404059,#3f3f57,#3d3d54,#3b3b52,#39394f,#37374c,#343448,#323245,#2f2f42,#2e2e3f,#2c2c3d,#2c2c3d,#2c2c3d,#2c2c3d,#2d2d3e,#2d2d3e,#2e2e3f,#2e2e40,#2e2e40,#2e2e40,#2e2e3f,#2d2d3e,#2c2c3d,#2a2a3b,#292939,#282837,#272736,#262634,#252534,#252533,#252533,#252533,#262634,#262634,#262634,#252534,#252532,#232331,#22222e,#20202c,#1f1f2b,#1e1e29,#1e1e29,#1d1d29,#1d1d29,#1d1d29,#1d1d28,#1c1c27,#1b1b25,#1a1a24,#191922,#181821,#171720,#171720,#171720,#181821,#181821,#181821,#181821,#181821,#181821)"></i>
<i style="background:linear-gradient(90deg,#8091a0,#869aa6,#8ba0ab,#8da3ad,#8ba0ab,#8699a6,#7f8f9f,#788597,#727e92,#717c91,#758195,#7c8b9c,#8598a5,#8fa5ae,#97b1b7,#9ebbbe,#a3c1c3,#a5c4c5,#a4c3c4,#a1bfc1,#9db8bc,#97b1b7,#93abb3,#8fa6af,#8ea4ae,#8fa5af,#92aab2,#97b1b7,#9ebabe,#a5c3c4,#adcbcb,#b5d0d0,#bbd4d4,#c0d7d7,#c2d8d8,#c3d9d9,#c4d9d9,#c4d9d9,#c3d9d9,#c2d8d8,#bfd6d6,#bad3d3,#b2cece,#a7c7c7,#9fbcbf,#96afb6,#8da3ad,#8497a4,#7d8d9d,#778597,#737f93,#717d91,#727d92,#758195,#7a889a,#8091a0,#879aa7,#8ea4ad,#94acb4,#99b4b9,#9ebabe,#a2bfc1,#a5c4c5,#a8c8c8,#aecbcb,#b4cfcf,#bcd4d4,#c4d9d9,#ccdede,#d3e3e3,#d9e7e7,#dde9e9,#deeaea,#deeaea,#deeaea,#dde9e9,#dde9e9,#deeaea,#dfebeb,#e0ebeb,#e0ebeb,#ddeaea,#d9e7e7,#d2e3e3,#cadddd,#c2d8d8,#b9d2d2,#b2cece,#accaca,#a9c8c8,#a7c7c7,#a6c6c6,#a5c4c5,#a3c2c3,#a0bdc0,#9cb8bc,#98b1b7,#93abb3,#8fa5af,#8ba0ab,#889ca8,#8699a6,#8496a4,#8293a2,#7f909f,#7d8c9c,#7a889a,#778497,#748094,#717c91,#6f798e,#6c768c,#6a738a,#687088,#676e87,#666d86,#646b84,#636882,#616681,#5f637f,#5d617d,#5b5e7b,#5a5d7a,#595b79,#585977,#565776,#545474,#515170,#4f4f6d,#4d4d6a,#4b4b68,#4a4a66,#484864,#474762,#454560,#43435c,#404059,#3d3d54,#3a3a50,#37374d,#36364a,#343448,#343447,#333347,#333346,#323245,#313144,#303043,#2f2f41,#2e2e40,#2d2d3e,#2c2c3c,#2b2b3b,#2a2a3a,#292939,#292938,#282837,#272736,#272735,#262634,#252533,#242432,#242431,#232331,#232331,#232330,#232330,#232330,#22222f,#22222f,#21212e,#21212d,#20202c,#1f1f2b,#1e1e2a,#1d1d29,#1d1d27,#1c1c26,#1b1b25,#1b1b25,#1a1a24,#1a1a23,#191923,#181821,#171720,#16161e,#14141c,#13131b,#121219,#121218,#111118,#111117,#101017,#101016,#101016,#101015,#101016,#101016,#101017,#111118)"></i>
<i style="background:linear-gradient(90deg,#8a9faa,#8ba0ab,#8a9ea9,#8598a5,#7e8f9e,#768496,#707a90,#6c758c,#6c768c,#707b90,#768396,#7d8d9d,#8497a4,#8ca1ac,#93abb3,#99b4b9,#9db9bd,#9fbbbe,#9db8bc,#97b1b7,#90a7b0,#889ba7,#8091a0,#7b8a9b,#798899,#7b8a9b,#8091a0,#889ca8,#92aab2,#9db9bd,#a9c8c8,#b8d2d2,#c5dada,#cfe1e1,#d6e5e5,#dae8e8,#dce9e9,#dae8e8,#d6e5e5,#d0e1e1,#c6dbdb,#bad3d3,#accaca,#a1bfc1,#99b4b9,#92aab2,#8da3ad,#8ba0ab,#8ba0ab,#8da3ad,#91a9b1,#97b1b7,#9dbabd,#a4c3c4,#accaca,#b5d0d0,#bdd5d5,#c4d9d9,#c9dddd,#cfe1e1,#d6e5e5,#dce9e9,#e3eded,#e8f0f0,#ebf2f2,#ecf3f3,#e9f1f1,#e4eeee,#ddeaea,#d6e5e5,#d0e1e1,#cbdede,#c8dcdc,#c9dcdc,#cbdede,#cee0e0,#d2e2e2,#d3e3e3,#d2e3e3,#cfe1e1,#cbdede,#c5dada,#c1d7d7,#bed6d6,#bdd5d5,#bdd5d5,#bfd6d6,#c1d8d8,#c3d9d9,#c4dada,#c3d9d9,#bfd6d6,#b9d2d2,#b0cdcd,#a7c6c6,#a0bdc0,#9bb6ba,#96afb6,#93abb3,#90a8b0,#8ea5ae,#8ca2ac,#8a9faa,#879ba7,#8597a4,#8294a2,#8091a0,#80909f,#80909f,#8091a0,#8091a0,#8090a0,#7f8f9f,#7d8d9d,#7a899a,#778597,#748094,#707b90,#6d768c,#697189,#656c85,#626882,#5f647f,#5c607c,#5a5c7a,#575877,#555575,#535372,#51516f,#4f4f6d,#4d4d6a,#4b4b68,#4a4a66,#494965,#494965,#494965,#494964,#484863,#464661,#44445e,#42425b,#3f3f57,#3d3d54,#3a3a50,#38384e,#37374b,#353549,#343448,#333347,#333347,#333347,#343448,#343448,#343448,#353549,#343448,#343448,#333347,#323245,#303043,#2e2e40,#2d2d3d,#2b2b3b,#292939,#282837,#262635,#252533,#242431,#222230,#22222e,#21212e,#21212d,#20202d,#20202d,#20202c,#20202c,#1f1f2b,#1e1e2a,#1e1e29,#1d1d28,#1c1c27,#1c1c26,#1b1b26,#1b1b25,#1b1b25,#1a1a25,#1a1a24,#1a1a23,#191922,#181821,#181820,#171720,#16161f,#16161e,#15151d,#15151d,#15151d,#15151d,#15151c,#14141c)"></i>
<i style="background:linear-gradient(90deg,#889ca8,#8192a1,#798799,#717c91,#6b748b,#687088,#6a728a,#707b90,#798799,#8294a2,#8ca1ac,#94adb4,#9bb6bb,#a0bec0,#a4c2c4,#a5c4c5,#a3c2c3,#9fbcbf,#99b3b9,#92aab2,#8ca1ac,#879ba7,#869aa6,#899da9,#8ea4ae,#96afb6,#9fbcbf,#aac9c9,#bad3d3,#c8dcdc,#d5e4e4,#e0ebeb,#e9f1f1,#eef4f4,#f0f5f5,#edf3f3,#e6efef,#dbe8e8,#cddfdf,#bed6d6,#afcccc,#a3c2c3,#9bb7bb,#94adb4,#8fa5ae,#8a9eaa,#8699a6,#8395a3,#8293a1,#8294a2,#8497a4,#899da9,#8fa5ae,#95aeb5,#9cb8bc,#a3c2c3,#abcaca,#b5d0d0,#bed6d6,#c7dbdb,#cee0e0,#d5e4e4,#dae7e7,#dde9e9,#ddeaea,#dde9e9,#dde9e9,#dde9e9,#deeaea,#dfebeb,#e1ecec,#e2eded,#e3eded,#e2eded,#e2ecec,#e2eded,#e4eeee,#e7efef,#e9f1f1,#ebf2f2,#ebf2f2,#e8f0f0,#e3eded,#dce8e8,#d3e3e3,#cadddd,#c1d7d7,#b9d2d2,#b1cdcd,#abc9c9,#a6c5c6,#a2c0c2,#a0bcbf,#9db9bd,#9bb6ba,#98b2b8,#96afb6,#94acb4,#92aab2,#90a8b0,#8fa6af,#8ea5ae,#8ea4ae,#8da3ad,#8ca2ac,#8ba0ab,#899da9,#879ba7,#8598a5,#8394a2,#8091a0,#7d8d9d,#7a899a,#768396,#727e92,#6d778d,#697189,#656c85,#626782,#606580,#5f637e,#5e627e,#5d617d,#5d607c,#5b5e7b,#5a5c7a,#585a78,#565776,#555575,#535373,#535372,#525272,#525272,#525272,#525271,#525271,#525271,#525272,#535372,#535373,#535373,#535373,#525271,#50506f,#4e4e6c,#4b4b67,#484863,#44445e,#414159,#3d3d55,#3b3b51,#38384e,#36364b,#353549,#343447,#323246,#313144,#303042,#2f2f41,#2e2e3f,#2c2c3d,#2c2c3c,#2b2b3b,#2a2a3a,#2a2a39,#292938,#282838,#282837,#272736,#272736,#272736,#272736,#262635,#262635,#262634,#252533,#252532,#242432,#232331,#232330,#22222f,#21212e,#20202d,#20202c,#20202c,#1f1f2b,#1f1f2b,#1f1f2b,#1f1f2b,#1f1f2b,#1f1f2a,#1e1e2a,#1e1e29,#1e1e29,#1d1d28,#1d1d28,#1d1d28,#1d1d28,#1d1d28,#1d1d29)"></i>
<i style="background:linear-gradient(90deg,#7f909f,#748194,#6d768c,#687088,#697189,#6f798f,#788597,#8294a2,#8da2ac,#96afb6,#9db9bd,#a1bec1,#a2c0c2,#a0bec0,#9cb8bc,#96afb6,#8ea5ae,#879aa6,#7f909f,#7a889a,#778597,#788698,#7c8b9c,#8395a3,#8da2ad,#97b1b7,#a2bfc2,#adcbcb,#b9d3d3,#c2d8d8,#c9dcdc,#cddfdf,#d1e1e1,#d2e3e3,#d3e3e3,#d1e2e2,#cee0e0,#c8dcdc,#c2d8d8,#bbd4d4,#b4cfcf,#adcbcb,#a7c7c7,#a3c1c3,#9fbcbf,#9cb8bc,#9ab4ba,#98b2b8,#97b1b7,#97b0b7,#97b1b7,#99b3b9,#9bb6bb,#9ebbbe,#a2c0c2,#a7c6c7,#adcbcb,#b4cfcf,#bad3d3,#bfd6d6,#c4dada,#cadede,#d2e2e2,#dbe8e8,#e6efef,#f1f6f6,#fbfdfd,#ffffff,#ffffff,#ffffff,#ffffff,#ffffff,#fdfefe,#f6f9f9,#eff5f5,#e9f1f1,#e5eeee,#e0ecec,#dce9e9,#d7e6e6,#d1e2e2,#cbdede,#c3d9d9,#bcd4d4,#b5d0d0,#afcccc,#aac9c9,#a6c6c6,#a3c1c3,#a0bdc0,#9cb8bc,#99b3b9,#96afb5,#93abb3,#91a9b1,#91a8b1,#91a8b1,#92aab2,#93abb3,#93abb3,#93abb3,#91a9b1,#8fa6af,#8ca1ac,#889ca8,#8497a4,#8192a0,#7d8c9d,#798899,#768496,#748094,#727e92,#717c91,#707b90,#6f798f,#6e788e,#6c768c,#6b738b,#687088,#666c86,#636882,#5f637f,#5b5e7b,#585977,#545474,#51516f,#4e4e6c,#4d4d6a,#4c4c69,#4c4c69,#4c4c68,#4b4b68,#4a4a67,#494965,#464661,#44445d,#404059,#3e3e55,#3b3b52,#3a3a4f,#39394e,#39394e,#39394f,#39394f,#39394f,#39394f,#38384e,#38384d,#36364b,#35354a,#343448,#333346,#313144,#303042,#2f2f41,#2e2e3f,#2d2d3e,#2c2c3d,#2b2b3c,#2b2b3c,#2b2b3c,#2b2b3c,#2b2b3b,#2b2b3b,#2a2a3b,#2a2a3a,#2a2a3a,#2a2a3a,#292939,#292939,#292938,#282837,#272736,#262634,#242432,#232330,#21212e,#20202d,#20202c,#1f1f2b,#1e1e2a,#1e1e29,#1d1d28,#1c1c27,#1b1b26,#1a1a24,#1a1a23,#191923,#191922,#191922,#191922,#191922,#181822,#181821,#181821,#171720,#16161f,#15151d,#15151d,#14141c)"></i>
<i style="background:linear-gradient(90deg,#5d617d,#575876,#555575,#575877,#5d617d,#656c85,#6e788e,#768396,#7e8e9e,#8497a4,#899da9,#8ca2ac,#8ea4ae,#8da4ad,#8ba0ab,#879aa7,#8293a2,#7d8d9d,#7a899a,#798899,#7c8b9b,#8192a0,#889ca8,#91a9b1,#9bb7bb,#a6c5c6,#b5d0d0,#c4d9d9,#d0e1e1,#d8e6e6,#dde9e9,#deeaea,#dce9e9,#d6e5e5,#cee0e0,#c3d9d9,#b6d0d0,#a7c7c7,#9ebabe,#95adb4,#8ca2ac,#8699a6,#8192a1,#7e8e9e,#7d8d9d,#7e8f9e,#8193a1,#8699a6,#8ba1ab,#92a9b1,#98b2b8,#9fbbbf,#a5c4c5,#accaca,#b3cece,#b8d2d2,#bcd4d4,#bed6d6,#c0d7d7,#c1d7d7,#c2d8d8,#c4d9d9,#c6dbdb,#c9dddd,#cddfdf,#d0e1e1,#d5e4e4,#d9e7e7,#deeaea,#e3eded,#e7f0f0,#e9f1f1,#ebf2f2,#eaf2f2,#e8f0f0,#e5eeee,#e1ecec,#dde9e9,#d9e7e7,#d6e5e5,#d3e3e3,#d1e2e2,#cfe0e0,#cddfdf,#cbdede,#c9dddd,#c6dbdb,#c3d9d9,#c0d7d7,#bbd3d3,#b4cfcf,#accaca,#a5c4c5,#9fbcbf,#99b4b9,#94acb4,#90a7b0,#8ca2ac,#8a9faa,#899da9,#889ba7,#879aa6,#8699a5,#8497a4,#8395a3,#8192a1,#7f8f9f,#7c8c9c,#7a899a,#778597,#758195,#727d92,#6f798f,#6c758c,#687088,#656b85,#626781,#5e637e,#5c5f7c,#5a5c79,#585a78,#575877,#565776,#565676,#555575,#545474,#535372,#515170,#50506e,#4e4e6c,#4c4c69,#4b4b67,#494965,#474762,#464660,#44445e,#42425b,#404059,#3e3e56,#3d3d54,#3c3c53,#3b3b51,#3a3a50,#39394f,#39394e,#38384d,#38384d,#37374c,#37374c,#37374c,#37374c,#37374c,#36364b,#35354a,#343448,#333347,#323245,#313144,#303042,#2f2f41,#2f2f41,#2e2e40,#2e2e3f,#2d2d3e,#2d2d3d,#2c2c3d,#2b2b3c,#2b2b3b,#2a2a3a,#2a2a3a,#2a2a3a,#2a2a3a,#2a2a3a,#2a2a3a,#2a2a3a,#2a2a39,#292939,#292939,#292938,#282838,#282837,#282837,#282837,#272736,#272736,#272735,#262635,#262634,#252534,#252533,#252533,#242432,#242431,#232331,#232330,#22222f,#21212d,#20202c,#1f1f2b,#1e1e2a)"></i>
<i style="background:linear-gradient(90deg,#5b5e7b,#5e627e,#656c85,#6f7a8f,#7b8a9b,#8699a6,#90a6af,#96b0b6,#9ab5ba,#9ab5ba,#97b1b7,#91a9b1,#8a9faa,#8294a2,#7a899a,#737f93,#6f798e,#6d768c,#6e778d,#717d91,#788698,#8091a0,#8a9faa,#94adb4,#9fbbbf,#a9c8c8,#b7d1d1,#c1d8d8,#c9dddd,#cddfdf,#cfe0e0,#cddfdf,#c9dcdc,#c2d8d8,#bad3d3,#b1cdcd,#a7c6c7,#a0bdc0,#99b4b9,#93abb2,#8da2ad,#889ca8,#8496a4,#8293a2,#8192a1,#8294a2,#8597a5,#899da9,#8ea5ae,#95aeb5,#9cb7bb,#a2c0c2,#aac9c9,#b3cfcf,#bcd4d4,#c4d9d9,#cbdede,#d1e2e2,#d6e5e5,#dbe8e8,#deeaea,#e0ebeb,#e1ecec,#e1ecec,#e1ecec,#e0ebeb,#dfebeb,#dfeaea,#deeaea,#dfeaea,#dfebeb,#e1ecec,#e2ecec,#e2eded,#e2eded,#e1ecec,#dde9e9,#d8e6e6,#d1e1e1,#c8dcdc,#bfd7d7,#b7d1d1,#afcccc,#a9c8c8,#a6c5c6,#a4c2c4,#a2c0c2,#a2bfc1,#a1bfc1,#a1bfc1,#a1bfc1,#a1bfc1,#a1bec0,#9fbcbf,#9db9bd,#9ab5ba,#95afb5,#90a7b0,#8a9faa,#8496a4,#7e8e9e,#788698,#748094,#707b90,#6d778d,#6c758b,#6b748b,#6a738a,#6a738a,#6a728a,#697289,#687088,#676e87,#656b85,#636983,#616681,#5f637f,#5e627e,#5d617d,#5d607d,#5d607d,#5d607d,#5c607c,#5c5f7b,#5a5c7a,#585a78,#565876,#555575,#535373,#525271,#515170,#50506f,#4f4f6d,#4e4e6c,#4c4c69,#4b4b67,#494964,#474762,#45455f,#43435d,#42425a,#404058,#3f3f56,#3d3d54,#3c3c52,#3a3a51,#39394f,#38384d,#37374c,#36364a,#353549,#343447,#323246,#313144,#303043,#303042,#2f2f41,#2e2e40,#2d2d3f,#2d2d3e,#2b2b3c,#2a2a3a,#292938,#282837,#272735,#262634,#252533,#242432,#242431,#232330,#21212e,#20202c,#1f1f2b,#1e1e29,#1d1d28,#1c1c27,#1c1c27,#1c1c27,#1d1d28,#1d1d28,#1d1d29,#1e1e29,#1d1d28,#1d1d28,#1c1c26,#1b1b25,#1a1a24,#1a1a24,#191923,#191923,#191923,#1a1a23,#1a1a24,#1a1a24,#1a1a24,#1a1a24,#1a1a24,#1a1a23,#191923,#191922)"></i>
<i style="background:linear-gradient(90deg,#768396,#7e8e9e,#889ca8,#92a9b1,#9ab5ba,#a0bcbf,#a2c0c2,#a1bfc1,#9db9bd,#97b1b7,#8fa6af,#869aa6,#7d8d9d,#768396,#707a90,#6c768c,#6c768c,#6f7a8f,#758295,#7d8d9d,#879ba7,#91a8b1,#9bb6bb,#a3c2c3,#accaca,#b6d0d0,#bdd5d5,#c2d8d8,#c5dada,#c6dbdb,#c5dada,#c1d8d8,#bbd4d4,#b3cfcf,#a9c8c8,#a1bfc1,#9ab5ba,#93acb3,#8ea4ad,#899da9,#8598a5,#8395a3,#8395a2,#8395a3,#8598a5,#889ca8,#8ca1ac,#91a9b1,#98b2b8,#a0bdc0,#a8c8c8,#b5d0d0,#c2d8d8,#ccdfdf,#d5e5e5,#dde9e9,#e2eded,#e7f0f0,#eaf2f2,#edf4f4,#f0f5f5,#f2f7f7,#f4f8f8,#f6f9f9,#f8fafa,#f9fbfb,#fafcfc,#f9fbfb,#f8fafa,#f5f9f9,#f2f7f7,#eff5f5,#ebf2f2,#e8f0f0,#e5eeee,#e2ecec,#dfeaea,#dce8e8,#d8e6e6,#d5e4e4,#d1e2e2,#cddfdf,#c9dddd,#c5dada,#c2d8d8,#bed6d6,#bad3d3,#b6d1d1,#b2cece,#adcbcb,#a8c7c7,#a4c3c4,#a0bdc0,#9cb8bc,#98b2b8,#94acb4,#90a6af,#8ba1ab,#889ba7,#8497a4,#8193a1,#7f909f,#7e8e9e,#7d8d9d,#7d8d9d,#7d8d9d,#7e8d9d,#7d8d9d,#7d8d9d,#7c8b9c,#7a899a,#788598,#758295,#727d92,#6f798f,#6c758c,#697189,#666e86,#646b84,#636883,#616681,#606580,#5f637f,#5d617d,#5b5e7b,#595b79,#575876,#545474,#515170,#4f4f6c,#4c4c69,#4a4a66,#484864,#474762,#464661,#464660,#45455f,#44445e,#43435d,#42425b,#41415a,#404059,#404058,#404058,#404058,#404058,#404058,#404059,#404059,#404058,#404058,#3f3f57,#3e3e56,#3d3d54,#3c3c52,#3a3a50,#38384e,#37374b,#353549,#333346,#313144,#303042,#2e2e40,#2d2d3e,#2c2c3c,#2a2a3b,#292939,#282837,#272736,#262634,#252532,#232331,#22222f,#21212d,#20202c,#1f1f2b,#1f1f2a,#1f1f2a,#1f1f2a,#1f1f2b,#1f1f2b,#1f1f2b,#1f1f2b,#1f1f2b,#1f1f2b,#1e1e2a,#1e1e29,#1d1d28,#1c1c27,#1b1b26,#1b1b25,#1a1a24,#1a1a24,#191923,#191923,#191923,#191922,#191922,#191922,#181822)"></i>
<i style="background:linear-gradient(90deg,#8598a5,#8ea4ae,#97b0b7,#9ebbbe,#a4c2c4,#a7c7c7,#a8c7c7,#a5c4c5,#a1bec0,#9ab4ba,#92a9b1,#899da9,#8192a1,#7b8a9b,#788698,#788698,#7b8a9b,#8091a0,#879aa7,#8ea4ae,#96afb6,#9dbabd,#a5c4c5,#afcccc,#b9d2d2,#c1d7d7,#c6dbdb,#c7dcdc,#c5dada,#c0d7d7,#b8d2d2,#afcccc,#a6c6c6,#a1bec1,#9cb8bc,#98b2b8,#95aeb5,#93abb2,#91a8b1,#90a6af,#8fa6af,#8fa6af,#91a8b1,#93abb3,#96afb6,#9ab5ba,#9fbcbf,#a4c3c4,#aac9c9,#b2cece,#b8d2d2,#bdd5d5,#c1d7d7,#c4d9d9,#c6dbdb,#c9dddd,#cddfdf,#d1e2e2,#d5e5e5,#dae7e7,#deeaea,#e2eded,#e6efef,#eaf1f1,#edf4f4,#f1f6f6,#f5f8f8,#f7fafa,#f8fafa,#f7fafa,#f3f8f8,#eff5f5,#e9f1f1,#e3eded,#dde9e9,#d8e6e6,#d5e4e4,#d3e3e3,#d3e3e3,#d4e4e4,#d6e5e5,#d8e6e6,#d9e7e7,#d8e6e6,#d6e5e5,#d3e3e3,#cee0e0,#c9dddd,#c3d9d9,#bdd5d5,#b7d1d1,#b0cdcd,#a9c8c8,#a3c2c3,#9fbbbf,#9ab5ba,#96afb6,#92aab2,#8fa5af,#8ca2ac,#8a9eaa,#879ba7,#8598a5,#8395a3,#8192a1,#7f8f9f,#7d8c9c,#7a899a,#788597,#758295,#727e92,#707b90,#6e788d,#6b748b,#697189,#666d86,#646a83,#616681,#5e637e,#5c5f7c,#5a5c7a,#585a78,#575877,#555675,#535373,#525271,#50506e,#4e4e6c,#4d4d6a,#4c4c68,#4b4b67,#4a4a66,#494965,#494964,#484864,#484863,#474762,#474761,#464660,#45455f,#44445e,#43435c,#41415a,#404058,#3d3d55,#3b3b51,#39394e,#36364b,#343448,#333346,#313144,#303043,#303042,#2f2f41,#2f2f42,#303042,#303042,#303043,#303043,#303042,#2f2f41,#2e2e40,#2d2d3e,#2b2b3c,#2a2a3a,#292938,#282837,#272736,#272736,#272736,#272736,#272736,#272736,#272736,#282837,#282837,#282837,#282837,#282837,#282838,#282838,#282837,#282837,#272736,#262635,#252533,#242432,#232330,#21212e,#20202d,#20202c,#1f1f2b,#1e1e2a,#1e1e29,#1e1e29,#1e1e29,#1e1e2a,#1f1f2a,#1f1f2b,#20202c)"></i>
<i style="background:linear-gradient(90deg,#95adb5,#98b2b8,#9cb7bc,#9ebabe,#9ebabd,#9ab5ba,#95adb4,#8da3ad,#8496a4,#7b8b9b,#748194,#6f7a8f,#6e788e,#6f7a8f,#748194,#7c8b9c,#8598a5,#8fa6af,#99b4b9,#a3c1c3,#aecccc,#bad3d3,#c4dada,#ccdfdf,#d2e2e2,#d4e4e4,#d4e4e4,#d1e2e2,#ccdfdf,#c6dbdb,#bed6d6,#b6d0d0,#adcbcb,#a5c5c5,#a0bdc0,#9bb6bb,#96afb6,#92a9b2,#8ea5ae,#8ca1ac,#8ba0ab,#8ba0ab,#8da2ad,#90a6af,#93acb3,#98b2b8,#9ebabe,#a4c2c4,#accaca,#b6d1d1,#c0d7d7,#cadddd,#d3e3e3,#dce8e8,#e4eeee,#ecf3f3,#f3f7f7,#fafcfc,#ffffff,#ffffff,#ffffff,#ffffff,#ffffff,#ffffff,#ffffff,#fefefe,#fbfdfd,#f9fbfb,#f8fbfb,#f7fafa,#f6f9f9,#f5f9f9,#f3f7f7,#f1f6f6,#eff5f5,#ecf3f3,#e9f1f1,#e6efef,#e4eeee,#e1ecec,#dfebeb,#ddeaea,#dce9e9,#dae7e7,#d8e6e6,#d5e4e4,#d2e2e2,#cee0e0,#cadddd,#c4dada,#bed6d6,#b8d2d2,#b2cece,#abcaca,#a6c6c6,#a3c1c3,#a0bdc0,#9db9bd,#9bb6bb,#99b3b8,#96b0b6,#95adb5,#93abb3,#92a9b2,#91a8b0,#8fa6af,#8ea5ae,#8da2ad,#8ba0ab,#889ca8,#8598a5,#8294a2,#7e8e9e,#7a899a,#778497,#748093,#717c91,#6e788e,#6c758c,#697289,#666e86,#636983,#5f647f,#5b5e7b,#565776,#525271,#4e4e6c,#4b4b68,#494965,#474762,#464661,#464660,#454560,#454560,#454560,#454560,#454560,#45455f,#44445e,#44445d,#43435d,#42425c,#42425b,#41415a,#414159,#404059,#404058,#404058,#3f3f57,#3e3e56,#3d3d55,#3c3c53,#3b3b51,#39394f,#38384d,#37374c,#36364b,#35354a,#353549,#353549,#343448,#343448,#343447,#333347,#333346,#323246,#323245,#313144,#313144,#313143,#303042,#303042,#2f2f41,#2f2f41,#2e2e40,#2d2d3f,#2d2d3e,#2c2c3d,#2b2b3b,#2a2a3a,#292939,#292938,#282837,#282837,#272736,#262635,#262634,#252533,#242432,#242431,#232331,#232330,#232330,#22222f,#22222f,#21212e,#21212e,#21212e,#21212e,#21212e)"></i>
<i style="background:linear-gradient(90deg,#8fa5af,#8ea5ae,#8ea4ae,#8ca1ac,#899da9,#8497a4,#7f909f,#798899,#748194,#717c91,#6f7a8f,#717c91,#768396,#7e8e9d,#889ba8,#93abb3,#9fbcbf,#accaca,#bcd5d5,#cadddd,#d5e4e4,#dce9e9,#e1ecec,#e2eded,#e1ecec,#deeaea,#d9e7e7,#d1e2e2,#c7dcdc,#bcd4d4,#afcccc,#a3c2c3,#9bb6bb,#93abb3,#8da2ac,#879ba7,#8396a3,#8193a1,#8192a1,#8293a2,#8497a4,#889ba7,#8ca1ac,#91a8b1,#96afb6,#9cb7bb,#a1bfc1,#a7c6c7,#afcccc,#b8d2d2,#c1d8d8,#cadede,#d3e3e3,#dbe8e8,#e2ecec,#e7f0f0,#ecf3f3,#eff5f5,#f1f6f6,#f2f7f7,#f2f7f7,#f0f6f6,#eef4f4,#ecf3f3,#ecf3f3,#ecf3f3,#eef4f4,#f1f6f6,#f5f9f9,#f9fbfb,#fcfdfd,#fefefe,#fefefe,#fcfdfd,#f8fbfb,#f4f8f8,#eef4f4,#e7f0f0,#e1ecec,#dae8e8,#d5e4e4,#cfe1e1,#cadddd,#c6dbdb,#c1d8d8,#bcd5d5,#b7d1d1,#b2cece,#abcaca,#a5c4c5,#a0bdc0,#9bb6bb,#96afb6,#91a8b1,#8ca2ac,#889da8,#8699a5,#8496a3,#8294a2,#8293a1,#8192a1,#8091a0,#7f909f,#7e8e9e,#7c8b9c,#798899,#768496,#737f93,#707a90,#6c768c,#697289,#676e86,#646b84,#626882,#616681,#5f647f,#5e627e,#5d607d,#5b5e7b,#5a5c7a,#585a78,#565776,#545574,#535372,#515170,#4f4f6d,#4d4d6b,#4c4c69,#4b4b67,#4a4a66,#494964,#484864,#484864,#484864,#494964,#494965,#4a4a66,#4a4a66,#494965,#494964,#484863,#464661,#45455f,#43435c,#41415a,#404058,#3e3e55,#3c3c53,#3b3b52,#3a3a50,#39394f,#38384d,#37374c,#36364a,#353549,#333347,#323245,#313143,#2f2f41,#2e2e40,#2d2d3f,#2d2d3e,#2d2d3e,#2d2d3e,#2e2e3f,#2e2e40,#2f2f41,#2f2f41,#2f2f41,#2f2f41,#2f2f40,#2e2e3f,#2d2d3e,#2c2c3d,#2c2c3c,#2b2b3b,#2a2a3a,#292939,#282838,#272736,#272735,#262634,#252533,#252533,#242432,#232331,#222230,#22222e,#21212d,#20202c,#1f1f2b,#1e1e2a,#1e1e29,#1d1d28,#1d1d28,#1d1d28,#1d1d28,#1e1e29,#1e1e2a,#1f1f2a)"></i>
<i style="background:linear-gradient(90deg,#97b0b7,#91a8b1,#8ba0ab,#8597a4,#7e8e9e,#788597,#727d92,#6e778d,#6b748b,#6c758c,#6f7a8f,#768396,#7e8f9e,#889ca8,#93abb3,#9db9bd,#a7c7c7,#b4d0d0,#c0d7d7,#cadddd,#d2e2e2,#d8e6e6,#dde9e9,#dfebeb,#e0ebeb,#dfebeb,#dce9e9,#d6e5e5,#cee0e0,#c3d9d9,#b8d2d2,#accaca,#a3c1c3,#9cb8bc,#97b1b7,#95adb4,#94acb4,#95adb5,#97b1b7,#9bb6bb,#a0bcbf,#a4c3c4,#aac9c9,#b1cece,#b9d2d2,#c0d7d7,#c7dbdb,#cddfdf,#d3e3e3,#d9e7e7,#dde9e9,#e0ebeb,#e2eded,#e4eeee,#e4eeee,#e5eeee,#e6efef,#e6efef,#e6efef,#e7efef,#e7f0f0,#e7f0f0,#e8f0f0,#e9f1f1,#ecf3f3,#f0f5f5,#f5f8f8,#fafcfc,#ffffff,#ffffff,#ffffff,#ffffff,#ffffff,#ffffff,#fafcfc,#f3f7f7,#ecf3f3,#e5efef,#e0ebeb,#dbe8e8,#d8e6e6,#d5e4e4,#d3e3e3,#d2e2e2,#d0e1e1,#cee0e0,#cbdede,#c6dbdb,#c0d7d7,#bad3d3,#b2cece,#aac9c9,#a4c2c4,#9fbbbe,#9ab4ba,#95aeb5,#91a8b1,#8da3ad,#8a9faa,#889ba7,#8598a5,#8396a3,#8294a2,#8192a1,#8091a0,#7f909f,#7e8e9e,#7d8d9d,#7c8b9c,#7a899a,#788698,#768496,#748194,#727e92,#707b90,#6e788e,#6c768c,#6b748b,#6a7289,#687088,#686f87,#676e87,#666e86,#666d86,#656c85,#646a84,#626882,#616580,#5e627e,#5b5e7b,#585978,#545474,#50506f,#4c4c69,#494965,#464661,#43435d,#41415a,#404058,#3e3e56,#3d3d55,#3c3c54,#3b3b52,#3b3b51,#3a3a50,#39394e,#38384e,#38384d,#37374c,#37374c,#37374c,#37374c,#37374c,#37374c,#36364b,#36364a,#353549,#343448,#333346,#313144,#303043,#2f2f41,#2f2f41,#2f2f41,#2f2f41,#303042,#303043,#303043,#303043,#303042,#2f2f41,#2e2e3f,#2c2c3d,#2b2b3b,#2a2a3a,#292938,#282837,#272736,#272736,#272735,#262635,#262634,#262634,#252533,#252533,#242432,#232331,#232330,#232330,#22222f,#22222f,#22222f,#22222f,#222230,#232330,#232330,#232330,#232330,#232330,#232330)"></i>
<i style="background:linear-gradient(90deg,#8ba0ab,#8597a5,#7e8f9e,#788597,#717c91,#6b748b,#676e87,#646b84,#656c85,#687088,#6d778d,#748094,#7c8b9b,#8395a3,#8a9faa,#91a8b1,#97b0b7,#9bb7bb,#9fbbbf,#a1bec1,#a2bfc1,#a1bfc1,#a0bdc0,#9ebabe,#9bb6bb,#98b2b8,#95adb5,#91a9b1,#8da3ad,#899ea9,#8598a5,#8192a1,#7d8c9d,#798799,#768395,#737f93,#727d91,#717c91,#727d92,#748094,#778496,#7b899b,#8090a0,#8699a6,#8ca2ac,#94acb4,#9cb7bc,#a4c3c4,#b0cdcd,#bed6d6,#ccdede,#d8e6e6,#e4eeee,#edf3f3,#f4f8f8,#f8fbfb,#fafcfc,#fbfcfc,#f9fbfb,#f7fafa,#f5f9f9,#f3f8f8,#f2f7f7,#f1f6f6,#f0f6f6,#f0f5f5,#eff5f5,#edf3f3,#eaf2f2,#e7f0f0,#e3eded,#e0ebeb,#dce9e9,#d9e7e7,#d7e5e5,#d4e4e4,#d1e2e2,#cee0e0,#c9dddd,#c3d9d9,#bcd4d4,#b3cfcf,#abc9c9,#a4c3c4,#9fbcbf,#9ab5ba,#96afb6,#92aab2,#8fa6af,#8da3ad,#8ba0ab,#899ea9,#889ca8,#879ba7,#869aa6,#8598a5,#8496a4,#8294a2,#7f909f,#7c8c9c,#788698,#748194,#707b90,#6c758c,#687088,#656b84,#626782,#606580,#5f637f,#5e627e,#5d617d,#5c607c,#5b5e7b,#5a5d7a,#585a78,#575876,#545574,#525272,#50506f,#4e4e6c,#4d4d6a,#4b4b68,#4a4a67,#4a4a66,#494965,#494964,#484864,#484863,#474763,#474762,#464660,#45455f,#43435c,#41415a,#3f3f57,#3d3d54,#3b3b52,#39394f,#38384d,#36364b,#36364a,#353549,#343448,#333347,#333346,#323245,#313144,#303042,#2f2f41,#2e2e40,#2d2d3f,#2c2c3d,#2b2b3c,#2b2b3b,#2a2a3a,#292939,#292938,#282837,#272736,#272736,#262635,#252534,#252533,#242432,#242431,#232330,#222230,#22222f,#21212e,#21212d,#20202c,#20202c,#1f1f2b,#1e1e2a,#1e1e29,#1d1d28,#1d1d28,#1c1c27,#1c1c27,#1c1c26,#1b1b25,#1b1b25,#1a1a24,#1a1a24,#1a1a24,#1a1a23,#1a1a23,#1a1a23,#1a1a24,#1a1a24,#1a1a25,#1b1b25,#1b1b25,#1b1b25,#1b1b26,#1b1b26,#1b1b25,#1b1b25,#1b1b25,#1a1a25)"></i>
<i style="background:linear-gradient(90deg,#7f909f,#768396,#6e798e,#697188,#656b85,#636983,#646a84,#687088,#6e788e,#758295,#7d8d9d,#8598a5,#8da3ad,#95aeb5,#9cb7bb,#a2bfc2,#a7c7c7,#aecbcb,#b3cfcf,#b6d1d1,#b7d1d1,#b6d1d1,#b3cfcf,#adcbcb,#a7c6c6,#a1bfc1,#9bb7bb,#95aeb5,#8fa6af,#8a9faa,#8598a5,#8193a1,#7f8f9f,#7d8d9d,#7d8c9c,#7d8d9d,#7f909f,#8294a2,#869aa6,#8ba1ab,#91a8b1,#97b1b7,#9db9bd,#a4c2c4,#accaca,#b5d0d0,#bed6d6,#c7dbdb,#cfe1e1,#d7e6e6,#dfeaea,#e6efef,#ecf3f3,#f2f7f7,#f8fbfb,#fefefe,#ffffff,#ffffff,#ffffff,#ffffff,#ffffff,#ffffff,#ffffff,#ffffff,#ffffff,#ffffff,#ffffff,#ffffff,#ffffff,#fefefe,#f6f9f9,#edf4f4,#e5efef,#deeaea,#d7e6e6,#d1e2e2,#ccdede,#c7dbdb,#c3d9d9,#bed6d6,#bad3d3,#b7d1d1,#b3cece,#afcccc,#accaca,#a8c8c8,#a6c5c5,#a3c1c3,#a0bdc0,#9db9bd,#99b4b9,#95aeb5,#91a8b1,#8ca2ac,#889ca8,#8597a5,#8293a2,#80909f,#7e8f9e,#7e8e9d,#7d8d9d,#7d8d9d,#7e8d9d,#7d8d9d,#7d8c9c,#7b8a9b,#7a8899,#788597,#758295,#737f93,#717c91,#6f798f,#6d778d,#6b748b,#697189,#676e87,#646a84,#616681,#5e627e,#5b5e7b,#585a78,#555675,#535373,#515170,#50506e,#4f4f6d,#4e4e6b,#4d4d6a,#4c4c69,#4c4c68,#4b4b67,#4a4a67,#4a4a66,#494965,#484863,#474762,#464660,#44445e,#43435d,#42425b,#41415a,#414159,#404059,#404058,#404058,#3f3f57,#3f3f57,#3e3e56,#3e3e55,#3d3d54,#3b3b52,#3a3a50,#38384e,#36364b,#353549,#333347,#323245,#313144,#313143,#303043,#303043,#303043,#303043,#303043,#303042,#2f2f41,#2e2e40,#2d2d3e,#2c2c3d,#2b2b3b,#292939,#282837,#272735,#262634,#252533,#242432,#232331,#232330,#22222f,#22222f,#21212e,#21212e,#21212d,#20202c,#20202c,#1f1f2b,#1f1f2a,#1e1e29,#1e1e29,#1d1d29,#1d1d28,#1d1d28,#1d1d28,#1d1d29,#1e1e29,#1e1e29,#1e1e2a,#1f1f2a,#1f1f2a,#1f1f2a)"></i>
<i style="background:linear-gradient(90deg,#6a7289,#616781,#5c5f7c,#595b79,#595a78,#5b5e7b,#606580,#676e87,#6f798f,#778597,#8091a0,#889da8,#90a8b0,#98b2b8,#9ebabe,#a3c2c3,#a8c7c7,#accaca,#aecccc,#aecccc,#accaca,#a8c8c8,#a4c3c4,#a0bdc0,#9bb7bb,#96b0b6,#91a9b1,#8ca2ac,#889ba7,#8396a3,#8090a0,#7d8c9d,#7b8a9b,#7a899a,#7a899a,#7c8b9c,#7f8f9e,#8294a2,#879ba7,#8da2ad,#93abb3,#9ab4b9,#a1bec0,#a8c7c7,#b3cece,#bed5d5,#c8dcdc,#d3e3e3,#dde9e9,#e7efef,#f0f5f5,#f8fafa,#ffffff,#ffffff,#ffffff,#ffffff,#ffffff,#ffffff,#ffffff,#ffffff,#ffffff,#ffffff,#ffffff,#fefefe,#f8fafa,#f1f6f6,#eaf2f2,#e4eeee,#deeaea,#d8e6e6,#d3e3e3,#cee0e0,#c9dddd,#c5dada,#c0d7d7,#bcd4d4,#b8d2d2,#b4cfcf,#b0cdcd,#adcbcb,#a9c8c8,#a6c5c6,#a3c2c3,#a1bec0,#9ebabd,#9ab5ba,#97b1b7,#94acb4,#90a7b0,#8da2ad,#899ea9,#8699a6,#8395a3,#8192a1,#7f8f9f,#7d8d9d,#7c8c9c,#7b8b9b,#7b8a9b,#7a899a,#798799,#788698,#768496,#758194,#737e92,#717c90,#6f798f,#6d778d,#6c758c,#6b748b,#6a728a,#697189,#687088,#676f87,#666d86,#656b84,#636983,#616681,#5f637f,#5d617d,#5b5e7b,#595c79,#585978,#565776,#545574,#535372,#515170,#50506e,#4e4e6b,#4c4c68,#494965,#464661,#44445d,#404059,#3d3d55,#3a3a50,#37374d,#353549,#333347,#323245,#323245,#323244,#323244,#323245,#323245,#323245,#323244,#313144,#313144,#313143,#303043,#303042,#303042,#2f2f41,#2f2f41,#2f2f41,#2f2f40,#2e2e40,#2e2e3f,#2d2d3f,#2d2d3e,#2c2c3d,#2c2c3c,#2b2b3b,#2a2a3b,#2a2a3a,#2a2a3a,#292939,#292939,#292939,#292939,#292939,#292939,#292939,#2a2a39,#2a2a39,#2a2a39,#2a2a39,#2a2a39,#2a2a39,#292939,#292939,#292939,#292938,#282838,#282837,#272736,#262635,#252533,#242432,#232331,#22222f,#21212e,#20202c,#1f1f2b,#1e1e2a,#1d1d28,#1c1c27,#1c1c26,#1b1b25)"></i>
<i style="background:linear-gradient(90deg,#636983,#5e627e,#5c5f7c,#5e627e,#636882,#6a728a,#737f93,#7d8d9d,#879ba7,#91a8b1,#99b4b9,#a0bec0,#a6c5c5,#aac9c9,#accaca,#abcaca,#a9c8c8,#a6c5c6,#a2c0c2,#9fbbbf,#9bb6bb,#97b1b7,#93abb3,#8fa5af,#8ba0ab,#879ba7,#8396a3,#8091a0,#7d8d9d,#7b8a9b,#798799,#788698,#798799,#7a899a,#7d8d9d,#8192a1,#8699a6,#8ca1ac,#92aab2,#99b3b9,#9fbcbf,#a6c5c6,#afcccc,#b7d1d1,#bfd6d6,#c5dada,#cbdede,#d1e2e2,#d6e5e5,#dce9e9,#e1ecec,#e6efef,#eaf2f2,#eef4f4,#f2f7f7,#f5f8f8,#f7fafa,#f8fbfb,#f9fbfb,#f9fbfb,#f7fafa,#f5f9f9,#f1f6f6,#ecf3f3,#e5efef,#deeaea,#d6e5e5,#cee0e0,#c7dbdb,#c1d7d7,#bcd4d4,#b9d3d3,#b8d2d2,#b9d2d2,#bbd4d4,#bdd5d5,#c0d7d7,#c2d8d8,#c2d8d8,#c1d8d8,#bfd6d6,#bbd4d4,#b7d1d1,#b2cece,#accaca,#a7c7c7,#a5c3c4,#a2c0c2,#a0bdc0,#9ebabe,#9cb7bb,#99b4b9,#97b0b7,#94acb4,#91a8b1,#8da3ad,#8a9ea9,#8699a6,#8394a2,#7f909f,#7d8c9c,#7a899a,#788698,#768496,#758195,#737f93,#717c91,#6f798f,#6c768c,#6a728a,#676f87,#656b85,#636883,#616681,#5f647f,#5e627e,#5e617d,#5d617d,#5d607d,#5d607d,#5d607d,#5d607d,#5d607d,#5c5f7c,#5b5e7b,#5a5c7a,#585978,#555675,#535372,#50506e,#4d4d6a,#4a4a66,#474762,#45455f,#42425c,#404059,#3f3f57,#3d3d54,#3b3b52,#3a3a50,#39394e,#37374c,#36364a,#353549,#333347,#323245,#313144,#313143,#313143,#313143,#313143,#313144,#323245,#323245,#333346,#333347,#333347,#333346,#323246,#323244,#303043,#2f2f41,#2e2e3f,#2c2c3d,#2a2a3b,#292939,#282837,#272736,#262635,#262634,#252533,#252533,#252533,#252533,#252534,#262634,#262634,#262635,#262635,#262635,#262634,#252534,#252533,#242432,#232331,#232330,#22222f,#21212e,#21212e,#20202d,#20202c,#20202c,#1f1f2b,#1f1f2a,#1e1e2a,#1e1e29,#1d1d28,#1d1d28,#1c1c27,#1c1c27)"></i>
<i style="background:linear-gradient(90deg,#5c5f7c,#5b5e7b,#5e627e,#636983,#6a728a,#717d91,#798899,#8192a1,#889ca8,#8fa5af,#94adb4,#99b4b9,#9ebabd,#a1bec1,#a4c2c3,#a5c4c5,#a5c5c5,#a5c3c4,#a3c1c2,#9fbcbf,#9bb7bb,#96b0b6,#91a8b1,#8ba0ab,#8598a5,#7f909f,#7a899a,#768295,#727e92,#707b90,#6f798f,#707a8f,#727d91,#758295,#7a889a,#8091a0,#879ba7,#8fa6af,#98b2b8,#a1bec1,#aac9c9,#b7d1d1,#c2d8d8,#ccdede,#d3e3e3,#d7e6e6,#dae8e8,#dce8e8,#dce9e9,#dce9e9,#dbe8e8,#dbe8e8,#dbe8e8,#dbe8e8,#dce8e8,#dce8e8,#dbe8e8,#dbe8e8,#dbe8e8,#dbe8e8,#dce8e8,#dce9e9,#dde9e9,#deeaea,#deeaea,#deeaea,#dce9e9,#dae7e7,#d6e5e5,#d2e2e2,#cee0e0,#cadddd,#c6dbdb,#c3d9d9,#c1d8d8,#c1d7d7,#c1d7d7,#c2d8d8,#c2d8d8,#c2d8d8,#c2d8d8,#c1d7d7,#bed6d6,#bbd4d4,#b7d1d1,#b3cece,#aecccc,#a9c9c9,#a6c5c6,#a3c1c3,#a0bdc0,#9db9bd,#9ab4ba,#97b0b6,#94acb3,#91a8b0,#8ea4ae,#8ba0ab,#889da8,#8699a6,#8496a4,#8193a1,#7f8f9f,#7c8b9c,#798799,#768396,#737f93,#707b90,#6e788e,#6b758b,#6a7289,#687088,#676e86,#656c85,#646a84,#636983,#626781,#606580,#5f637e,#5d617d,#5b5e7b,#5a5c7a,#585a78,#565776,#545474,#525272,#50506f,#4e4e6c,#4d4d6a,#4b4b68,#494965,#484863,#464660,#44445e,#42425b,#404059,#3e3e56,#3d3d54,#3b3b51,#39394e,#37374c,#36364a,#343448,#333346,#323245,#313143,#303042,#2f2f41,#2e2e40,#2e2e40,#2e2e3f,#2e2e40,#2e2e40,#2e2e40,#2e2e40,#2e2e40,#2e2e3f,#2d2d3e,#2c2c3d,#2b2b3c,#2a2a3a,#292938,#272736,#262635,#252533,#242432,#242432,#242431,#242431,#242431,#242432,#242432,#252532,#252533,#252533,#252533,#252533,#252533,#252533,#252533,#252533,#252532,#242432,#242432,#242432,#242431,#242431,#232331,#232330,#232330,#22222f,#22222f,#22222e,#21212e,#21212d,#20202d,#20202c,#1f1f2b,#1f1f2b,#1f1f2a)"></i>
<i style="background:linear-gradient(90deg,#666d86,#687088,#6c758c,#717c91,#778497,#7d8d9d,#8496a3,#8a9ea9,#8fa6af,#94adb4,#99b3b9,#9cb8bc,#9fbbbe,#a0bcbf,#9fbcbf,#9ebabe,#9bb6bb,#98b1b7,#93acb3,#8fa5ae,#8a9ea9,#8497a4,#7f909f,#7b8a9b,#778497,#748094,#727d92,#717c91,#717c91,#737f93,#768396,#7a889a,#7f8f9f,#8597a5,#8ba0ab,#92aab2,#99b4b9,#a1bec1,#a8c8c8,#b3cfcf,#bdd5d5,#c6dbdb,#cee0e0,#d5e4e4,#dae8e8,#dfebeb,#e2eded,#e4eeee,#e6efef,#e7f0f0,#e8f0f0,#e9f1f1,#e9f1f1,#e9f1f1,#eaf1f1,#eaf2f2,#ebf2f2,#ecf3f3,#edf3f3,#eff5f5,#f1f6f6,#f3f7f7,#f4f8f8,#f5f8f8,#f4f8f8,#f2f7f7,#eff5f5,#eaf2f2,#e5eeee,#deeaea,#d8e6e6,#d1e2e2,#cbdede,#c6dbdb,#c1d8d8,#bdd5d5,#b9d2d2,#b5d0d0,#b1cdcd,#adcbcb,#a8c8c8,#a5c4c5,#a3c1c2,#a0bdc0,#9db9bd,#9bb6bb,#98b3b8,#96b0b6,#94adb4,#92aab2,#90a7b0,#8ea4ae,#8ca1ac,#8a9eaa,#889ca8,#8699a6,#8497a4,#8294a2,#8192a1,#80909f,#7e8e9e,#7d8d9d,#7c8b9b,#7a889a,#788698,#768395,#737f93,#707a90,#6c768c,#697189,#656c85,#626882,#5f637f,#5c607c,#5a5d7a,#595b79,#585977,#575877,#565776,#565776,#565676,#555675,#555675,#555575,#545474,#535373,#535372,#525271,#50506f,#4f4f6d,#4e4e6c,#4d4d6a,#4b4b68,#4a4a67,#494965,#484863,#474762,#464660,#44445e,#43435d,#42425b,#404059,#3f3f57,#3d3d55,#3c3c52,#3a3a50,#39394e,#37374d,#36364b,#35354a,#343448,#343447,#333346,#323245,#323245,#313144,#313144,#313143,#303043,#303042,#2f2f41,#2e2e40,#2e2e3f,#2d2d3e,#2c2c3c,#2b2b3b,#2a2a3a,#292938,#282837,#272735,#252534,#242432,#232331,#22222f,#21212e,#20202c,#1f1f2b,#1e1e2a,#1e1e29,#1d1d29,#1d1d28,#1d1d28,#1d1d28,#1d1d28,#1d1d28,#1d1d28,#1d1d28,#1d1d28,#1d1d28,#1d1d28,#1d1d28,#1d1d28,#1d1d28,#1d1d28,#1d1d28,#1d1d28,#1c1c27,#1c1c27,#1c1c26,#1c1c26)"></i>
<i style="background:linear-gradient(90deg,#6a738a,#707a90,#778497,#80909f,#899da9,#92aab2,#9ab5ba,#a2bfc2,#a8c7c7,#adcbcb,#b0cdcd,#afcccc,#abcaca,#a5c5c5,#a0bdc0,#99b4b9,#92aab2,#8ca1ab,#8598a5,#7f8f9f,#798799,#748194,#707b90,#6d778d,#6b748b,#697289,#697189,#697189,#6a738a,#6d768c,#6f7a8f,#737f93,#778497,#7c8b9c,#8192a1,#869aa6,#8ca2ac,#93abb3,#99b4b9,#9fbcbf,#a5c5c5,#adcbcb,#b4cfcf,#bad3d3,#bed5d5,#c0d7d7,#c0d7d7,#bfd7d7,#bed6d6,#bcd5d5,#bbd4d4,#bad3d3,#bad3d3,#bbd4d4,#bdd5d5,#c1d7d7,#c4dada,#c8dcdc,#ccdede,#cfe0e0,#d1e2e2,#d2e2e2,#d1e2e2,#d0e1e1,#cee0e0,#cbdede,#c8dcdc,#c4d9d9,#c0d7d7,#bdd5d5,#b9d2d2,#b5d0d0,#b2cece,#b0cccc,#adcbcb,#accaca,#aac9c9,#aac9c9,#a9c8c8,#a8c8c8,#a7c7c7,#a6c5c6,#a4c3c4,#a2c0c2,#a0bdc0,#9ebabe,#9bb6bb,#99b3b9,#97b0b6,#95adb5,#93abb3,#92aab2,#91a9b1,#91a8b1,#90a7b0,#90a6af,#8fa5af,#8ea4ae,#8ca2ac,#8a9faa,#889ca8,#8699a5,#8395a3,#8090a0,#7d8c9c,#798899,#768396,#737f93,#707b90,#6d768c,#697289,#666d86,#636983,#606480,#5d607d,#5a5c7a,#585978,#565676,#545474,#535373,#525272,#525271,#515171,#515170,#51516f,#50506e,#4f4f6c,#4d4d6b,#4c4c68,#4a4a66,#484864,#474762,#464660,#45455f,#44445e,#44445d,#43435d,#43435c,#43435c,#42425b,#41415a,#414159,#404058,#3f3f56,#3d3d55,#3c3c53,#3b3b51,#3a3a4f,#38384e,#37374b,#353549,#333347,#323245,#303042,#2e2e40,#2d2d3e,#2c2c3d,#2b2b3c,#2b2b3b,#2a2a3a,#2a2a3a,#2a2a3a,#2a2a3b,#2b2b3b,#2b2b3b,#2a2a3b,#2a2a3a,#2a2a3a,#292939,#292939,#292938,#282837,#282837,#282837,#282837,#282837,#282837,#282837,#282837,#282837,#282837,#272736,#272735,#262634,#252533,#242432,#232330,#22222e,#21212d,#1f1f2b,#1e1e2a,#1d1d28,#1c1c27,#1b1b25,#1a1a24,#1a1a23,#191923,#191923,#191923,#191923)"></i>
<i style="background:linear-gradient(90deg,#7d8d9d,#8091a0,#8598a5,#8a9eaa,#8fa5af,#93abb3,#97b1b7,#9ab5ba,#9cb8bc,#9db9bd,#9db9bd,#9cb7bc,#99b4b9,#96afb6,#92aab2,#8ea4ae,#899da9,#8496a4,#7f8f9f,#7a899a,#768295,#717d91,#6e788e,#6b748b,#697189,#687088,#687088,#697289,#6c758b,#6f798f,#737e93,#778597,#7d8d9d,#8395a3,#8a9ea9,#91a8b0,#98b2b7,#9fbbbf,#a6c5c6,#afcccc,#b9d2d2,#c1d8d8,#c9dddd,#cfe1e1,#d5e4e4,#d9e7e7,#dce9e9,#dfebeb,#e2ecec,#e4eeee,#e7efef,#e9f1f1,#ebf2f2,#edf4f4,#f0f5f5,#f2f7f7,#f4f8f8,#f6f9f9,#f7fafa,#f8fafa,#f8fafa,#f7fafa,#f5f9f9,#f2f7f7,#eff5f5,#ebf2f2,#e6efef,#e1ecec,#dce9e9,#d6e5e5,#d1e2e2,#ccdede,#c6dbdb,#c1d7d7,#bbd4d4,#b6d0d0,#b0cdcd,#abc9c9,#a6c5c6,#a2c0c2,#9fbcbf,#9db9bd,#9bb6bb,#99b4b9,#98b3b8,#98b2b8,#98b2b8,#98b2b8,#98b3b8,#99b3b8,#98b3b8,#98b2b8,#97b1b7,#96b0b6,#95aeb5,#93acb3,#91a9b1,#8fa6af,#8ca2ac,#899ea9,#8699a6,#8294a2,#7e8e9e,#7a899a,#768396,#737e92,#6f7a8f,#6c758c,#697189,#666d86,#646a84,#626782,#606480,#5e627e,#5d607c,#5b5e7b,#5b5d7a,#5a5c7a,#5a5c79,#595b79,#595b79,#595b79,#595b79,#595b79,#585a78,#585978,#575877,#565776,#555675,#545474,#535373,#525272,#515170,#50506f,#4f4f6d,#4e4e6c,#4d4d6a,#4b4b68,#4a4a66,#484864,#474762,#45455f,#43435d,#42425b,#404059,#3f3f57,#3d3d55,#3c3c53,#3c3c52,#3b3b51,#3a3a51,#3a3a50,#3a3a50,#3a3a50,#39394f,#39394f,#38384e,#38384d,#37374b,#36364a,#353549,#343447,#333346,#323245,#313143,#303042,#2f2f41,#2e2e40,#2e2e3f,#2d2d3e,#2c2c3d,#2b2b3b,#2a2a3a,#292939,#282837,#272736,#262635,#262634,#252533,#242432,#242431,#232330,#222230,#22222f,#21212e,#20202c,#1f1f2b,#1e1e2a,#1d1d28,#1c1c27,#1c1c26,#1b1b25,#1a1a25,#1a1a24,#1a1a24,#1a1a24,#1a1a23,#191923,#191923,#191922)"></i>
<i style="background:linear-gradient(90deg,#768396,#7b8a9b,#8092a0,#879aa7,#8da3ad,#93acb3,#99b3b9,#9ebabe,#a2bfc2,#a4c3c4,#a5c4c5,#a4c2c4,#a1bfc1,#9db9bd,#97b1b7,#91a8b0,#8a9ea9,#8294a2,#7b8b9b,#758295,#707a90,#6b748b,#687088,#666d86,#656c85,#656c85,#676e87,#697189,#6c758c,#6f7a8f,#737f93,#788597,#7c8c9c,#8193a1,#869aa6,#8ba1ab,#90a7b0,#95aeb5,#99b3b9,#9db9bd,#a0bec0,#a4c2c4,#a7c7c7,#accaca,#b2cece,#b8d2d2,#bfd6d6,#c6dbdb,#cddfdf,#d4e4e4,#dae8e8,#dfebeb,#e4eeee,#e6efef,#e8f0f0,#e8f0f0,#e6efef,#e5eeee,#e2eded,#e0ebeb,#deeaea,#dde9e9,#dce9e9,#dde9e9,#deeaea,#dfebeb,#e1ecec,#e3eded,#e3eded,#e3eded,#e2ecec,#dfebeb,#dce9e9,#d8e6e6,#d3e3e3,#cee0e0,#c9dddd,#c5dada,#c1d8d8,#bed5d5,#bbd4d4,#b9d2d2,#b7d1d1,#b6d1d1,#b5d0d0,#b4cfcf,#b3cece,#b1cdcd,#afcccc,#accaca,#a8c8c8,#a5c3c4,#a1bec1,#9db8bd,#98b2b8,#93abb3,#8ea4ae,#899da9,#8497a4,#8091a0,#7c8c9c,#798799,#778496,#748194,#737e93,#717c91,#707a90,#6e798e,#6d778d,#6b758b,#6a728a,#687088,#676e87,#656c85,#646a84,#636983,#626782,#616681,#60647f,#5e637e,#5d617d,#5c5f7c,#5a5d7a,#595a78,#575876,#545574,#525272,#50506f,#4e4e6c,#4c4c69,#4a4a66,#484863,#464661,#45455f,#43435d,#42425b,#41415a,#414159,#404058,#404058,#404058,#404058,#3f3f58,#3f3f57,#3f3f56,#3e3e56,#3d3d54,#3c3c53,#3b3b52,#3a3a50,#39394e,#38384d,#36364b,#35354a,#353549,#343448,#333347,#333346,#323245,#323245,#313144,#313143,#303042,#2f2f42,#2f2f41,#2e2e40,#2d2d3f,#2d2d3e,#2c2c3d,#2b2b3c,#2b2b3b,#2b2b3b,#2a2a3a,#2a2a3a,#2a2a3a,#2a2a39,#292939,#292938,#282838,#282837,#272736,#272735,#262634,#252533,#242432,#242431,#232330,#22222f,#22222f,#21212e,#21212d,#20202d,#20202c,#20202c,#1f1f2b,#1f1f2b,#1e1e2a,#1e1e29,#1d1d28,#1c1c27)"></i>
<i style="background:linear-gradient(90deg,#b6d1d1,#bad3d3,#bed6d6,#c2d8d8,#c5dada,#c6dbdb,#c6dada,#c3d9d9,#bed5d5,#b7d1d1,#aecbcb,#a5c4c5,#9db9bd,#96afb6,#8ea4ae,#8699a6,#7f909f,#798799,#737f93,#6f798f,#6c758c,#6a738a,#6a728a,#6b738a,#6d768c,#707a90,#748094,#788698,#7e8e9e,#8496a3,#8a9eaa,#90a7b0,#96b0b6,#9db8bc,#a3c1c3,#a9c9c9,#b2cece,#bad3d3,#c2d8d8,#c8dcdc,#cee0e0,#d3e3e3,#d7e5e5,#dae7e7,#dce9e9,#deeaea,#e0ebeb,#e1ecec,#e2ecec,#e2eded,#e3eded,#e3eded,#e3eded,#e3eded,#e3eded,#e4eeee,#e4eeee,#e5eeee,#e5eeee,#e5eeee,#e4eeee,#e2eded,#e0ebeb,#deeaea,#dae8e8,#d7e5e5,#d3e3e3,#cfe0e0,#cbdede,#c7dcdc,#c4dada,#c2d8d8,#bfd7d7,#bed6d6,#bdd5d5,#bcd4d4,#bbd4d4,#bad3d3,#b9d3d3,#b8d2d2,#b6d1d1,#b4d0d0,#b2cece,#b0cdcd,#aecbcb,#abcaca,#a9c8c8,#a7c7c7,#a6c5c6,#a5c3c5,#a3c2c3,#a2c0c2,#a0bdc0,#9ebbbe,#9cb8bc,#9ab4ba,#97b0b7,#94acb3,#90a7b0,#8ca2ac,#899da8,#8597a5,#8192a1,#7e8e9e,#7b8a9b,#788698,#768396,#748194,#737f93,#727e92,#717d91,#717c91,#707b90,#707a8f,#6f798f,#6e788e,#6d778d,#6c758c,#6b748b,#6a728a,#687088,#676e87,#656c85,#636983,#616681,#5f637f,#5c607c,#5a5c7a,#575977,#555575,#525271,#50506e,#4d4d6b,#4b4b67,#494964,#474762,#45455f,#43435d,#42425b,#41415a,#404059,#404058,#3f3f57,#3e3e56,#3e3e56,#3d3d55,#3d3d54,#3c3c53,#3c3c53,#3b3b52,#3b3b51,#3a3a50,#39394f,#39394e,#38384d,#37374c,#37374b,#36364a,#35354a,#353549,#343448,#333347,#323246,#323245,#313144,#303042,#2f2f41,#2e2e40,#2d2d3f,#2c2c3d,#2b2b3c,#2b2b3b,#2a2a3a,#292939,#282838,#282837,#282837,#282837,#282837,#282837,#282837,#282837,#282837,#282838,#282838,#282837,#282837,#282837,#282837,#282837,#272736,#272736,#272736,#272736,#272735,#262635,#262634,#252534,#252533,#242432)"></i>
<i style="background:linear-gradient(90deg,#899da9,#899ea9,#8a9faa,#8ba0ab,#8ba1ab,#8ca1ac,#8ca1ac,#8ca1ac,#8ba0ab,#8a9ea9,#879ba7,#8597a5,#8192a1,#7d8d9d,#788698,#748094,#6f7a8f,#6c758b,#687088,#666e86,#666c85,#666d86,#686f87,#6b738a,#6f798e,#748093,#798899,#8091a0,#879ba7,#8ea5ae,#95afb5,#9cb8bc,#a3c1c3,#aac9c9,#b3cfcf,#bad3d3,#c0d7d7,#c5dada,#c9dddd,#cddfdf,#cfe1e1,#d2e2e2,#d4e4e4,#d7e6e6,#dae8e8,#ddeaea,#e1ecec,#e5eeee,#e8f1f1,#ecf3f3,#eef4f4,#f0f6f6,#f1f6f6,#f1f6f6,#f0f6f6,#eff5f5,#ecf3f3,#e9f1f1,#e5eeee,#e1ecec,#ddeaea,#dae8e8,#d7e6e6,#d5e5e5,#d4e4e4,#d3e3e3,#d3e3e3,#d4e3e3,#d4e4e4,#d4e4e4,#d4e4e4,#d3e3e3,#d2e2e2,#d0e1e1,#cddfdf,#c9dcdc,#c4dada,#bfd6d6,#bad3d3,#b4cfcf,#aecccc,#a9c8c8,#a5c4c5,#a2bfc1,#9ebbbe,#9bb7bb,#99b3b8,#96afb6,#94acb3,#92a9b1,#90a7b0,#8ea5ae,#8da3ad,#8ba1ab,#8a9eaa,#889ca8,#8699a6,#8395a3,#8091a0,#7d8d9d,#7a8899,#768496,#737f93,#717c91,#6f798e,#6d778d,#6c768c,#6c758c,#6c768c,#6d778d,#6e788e,#6f798f,#707b90,#717c91,#717c91,#717c91,#707b90,#6f7a8f,#6e788e,#6b748b,#697189,#666d86,#636983,#606480,#5c607c,#5a5c79,#575877,#555574,#535372,#515170,#4f4f6e,#4e4e6c,#4d4d6a,#4b4b68,#4a4a66,#494964,#474762,#454560,#44445e,#42425b,#414159,#3f3f57,#3d3d55,#3c3c53,#3a3a51,#39394f,#38384d,#37374c,#36364a,#353549,#343448,#333347,#333346,#323245,#323245,#313144,#313144,#313144,#313144,#313143,#313143,#313143,#303043,#303043,#303042,#2f2f42,#2f2f41,#2e2e40,#2e2e3f,#2d2d3e,#2c2c3d,#2b2b3c,#2b2b3b,#2a2a3a,#292939,#282837,#272736,#262635,#252533,#242431,#232330,#22222e,#20202d,#20202c,#1f1f2b,#1e1e2a,#1e1e29,#1e1e29,#1e1e29,#1e1e29,#1e1e2a,#1e1e2a,#1e1e2a,#1e1e2a,#1e1e2a,#1e1e2a,#1e1e29,#1e1e29,#1e1e29,#1d1d29)"></i>
</div>
<svg width="1900" height="873" viewBox="0 0 1900 873">
<defs><linearGradient id="bone" x1="0" y1="1" x2="0" y2="0"><stop offset="0.000" stop-color="#000000"/><stop offset="0.062" stop-color="#0e0e13"/><stop offset="0.125" stop-color="#1c1c27"/><stop offset="0.188" stop-color="#2a2a3a"/><stop offset="0.250" stop-color="#38384d"/><stop offset="0.312" stop-color="#464660"/><stop offset="0.375" stop-color="#545474"/><stop offset="0.438" stop-color="#626781"/><stop offset="0.500" stop-color="#707a8f"/><stop offset="0.562" stop-color="#7e8d9d"/><stop offset="0.625" stop-color="#8ba1ab"/><stop offset="0.688" stop-color="#99b4b9"/><stop offset="0.750" stop-color="#a7c7c7"/><stop offset="0.812" stop-color="#bdd5d5"/><stop offset="0.875" stop-color="#d3e3e3"/><stop offset="0.938" stop-color="#e9f1f1"/><stop offset="1.000" stop-color="#ffffff"/></linearGradient></defs>
<line x1="128.90" y1="149.30" x2="608.10" y2="149.30" stroke="#384EA6" stroke-width="3.3" stroke-dasharray="25 14.87"/>
<g font-family='"Liberation Serif", "Times New Roman", Times, serif' font-size="30" fill="#384EA6">
<text transform="translate(140.30 139.30) scale(1.22 1)" font-style="italic">f</text>
<text transform="translate(164.20 139.90) scale(1.27 1)">=</text>
<text x="196.60" y="139.30" textLength="12.6" lengthAdjust="spacingAndGlyphs">5</text>
<text x="221.80" y="139.30" textLength="61.6" lengthAdjust="spacingAndGlyphs">MHz</text>
</g>
<line x1="128.90" y1="342.45" x2="608.10" y2="342.45" stroke="#6CC344" stroke-width="3.3" stroke-dasharray="25 14.87"/>
<g font-family='"Liberation Serif", "Times New Roman", Times, serif' font-size="30" fill="#6CC344">
<text transform="translate(140.30 332.45) scale(1.22 1)" font-style="italic">f</text>
<text transform="translate(164.20 333.05) scale(1.27 1)">=</text>
<text x="196.60" y="332.45" textLength="12.6" lengthAdjust="spacingAndGlyphs">2</text>
<text x="221.80" y="332.45" textLength="61.6" lengthAdjust="spacingAndGlyphs">MHz</text>
</g>
<line x1="128.90" y1="518.70" x2="608.10" y2="518.70" stroke="#EE2225" stroke-width="3.3" stroke-dasharray="25 14.87"/>
<g font-family='"Liberation Serif", "Times New Roman", Times, serif' font-size="30" fill="#EE2225">
<text transform="translate(140.30 508.70) scale(1.22 1)" font-style="italic">f</text>
<text transform="translate(164.20 509.30) scale(1.27 1)">=</text>
<text x="196.60" y="508.70" textLength="35.8" lengthAdjust="spacingAndGlyphs">0.5</text>
<text x="245.80" y="508.70" textLength="60.8" lengthAdjust="spacingAndGlyphs">MHz</text>
</g>
<line x1="445.46" y1="776.90" x2="445.46" y2="38.10" stroke="#fff" stroke-width="3.5" stroke-dasharray="20 7.5 5 7.37"/>
<text transform="translate(434.40 761.20) rotate(-90)" font-family='"Liberation Serif", "Times New Roman", Times, serif' font-size="30" fill="#fff" textLength="159.4" lengthAdjust="spacingAndGlyphs">Focal lenght</text>
<rect x="573.20" y="531.90" width="21.80" height="227.30" fill="url(#bone)" stroke="#fff" stroke-width="1.8"/>
<path d="M573.20 645.55h4" stroke="#fff" stroke-width="1.6"/>
<text transform="translate(558.40 543.50) scale(1 1.050)" font-family='"Liberation Sans", Arial, Helvetica, sans-serif' font-size="28.20" text-anchor="end" fill="#fff" >1</text>
<text transform="translate(558.40 657.20) scale(1 1.050)" font-family='"Liberation Sans", Arial, Helvetica, sans-serif' font-size="28.20" text-anchor="end" fill="#fff" >0.5</text>
<text transform="translate(558.40 769.60) scale(1 1.050)" font-family='"Liberation Sans", Arial, Helvetica, sans-serif' font-size="28.20" text-anchor="end" fill="#fff" >0</text>
<rect x="128.90" y="38.10" width="479.20" height="738.80" fill="none" stroke="#000" stroke-width="1.70"/>
<path d="M156.90 776.90v-4.60M156.90 38.10v4.60M189.04 776.90v-4.60M189.04 38.10v4.60M221.18 776.90v-4.60M221.18 38.10v4.60M253.32 776.90v-4.60M253.32 38.10v4.60M285.46 776.90v-8.00M285.46 38.10v8.00M317.60 776.90v-4.60M317.60 38.10v4.60M349.74 776.90v-4.60M349.74 38.10v4.60M381.88 776.90v-4.60M381.88 38.10v4.60M414.02 776.90v-4.60M414.02 38.10v4.60M446.16 776.90v-8.00M446.16 38.10v8.00M478.30 776.90v-4.60M478.30 38.10v4.60M510.44 776.90v-4.60M510.44 38.10v4.60M542.58 776.90v-4.60M542.58 38.10v4.60M574.72 776.90v-4.60M574.72 38.10v4.60M606.86 776.90v-8.00M606.86 38.10v8.00M128.90 665.70h4.60M608.10 665.70h-4.60M128.90 600.65h4.60M608.10 600.65h-4.60M128.90 554.50h4.60M608.10 554.50h-4.60M128.90 518.70h4.60M608.10 518.70h-4.60M128.90 489.45h4.60M608.10 489.45h-4.60M128.90 464.72h4.60M608.10 464.72h-4.60M128.90 443.30h4.60M608.10 443.30h-4.60M128.90 424.40h4.60M608.10 424.40h-4.60M128.90 407.50h8.00M608.10 407.50h-8.00M128.90 296.30h4.60M608.10 296.30h-4.60M128.90 231.25h4.60M608.10 231.25h-4.60M128.90 185.10h4.60M608.10 185.10h-4.60M128.90 149.30h4.60M608.10 149.30h-4.60M128.90 120.05h4.60M608.10 120.05h-4.60M128.90 95.32h4.60M608.10 95.32h-4.60M128.90 73.90h4.60M608.10 73.90h-4.60M128.90 55.00h4.60M608.10 55.00h-4.60" stroke="#000" stroke-width="1.7" fill="none"/>
<text x="-1.80" y="25.20" font-family='"Liberation Serif", "Times New Roman", Times, serif' font-size="34.5" text-anchor="start"><tspan font-size="36.5" dy="0.6">(</tspan><tspan dy="-0.6">a</tspan><tspan font-size="36.5" dy="0.6">)</tspan></text>
<text transform="translate(608.90 27.60) scale(1 1.045)" font-family='"Liberation Sans", Arial, Helvetica, sans-serif' font-size="29.70" text-anchor="end" fill="#000" textLength="385.6" lengthAdjust="spacingAndGlyphs">Truncated ideal Bessel beam</text>
<text transform="translate(64.60 57.30) scale(1 1.08)" font-family='"Liberation Sans", Arial, Helvetica, sans-serif' font-size="32" fill="#000">10<tspan dy="-14.4" dx="1.8" font-size="25.2">1</tspan></text>
<text transform="translate(64.60 425.50) scale(1 1.08)" font-family='"Liberation Sans", Arial, Helvetica, sans-serif' font-size="32" fill="#000">10<tspan dy="-14.4" dx="1.8" font-size="25.2">0</tspan></text>
<text transform="translate(54.60 794.50) scale(1 1.08)" font-family='"Liberation Sans", Arial, Helvetica, sans-serif' font-size="32" fill="#000">10<tspan dy="-14.4" dx="1.8" font-size="25.2">-1</tspan></text>
<text transform="translate(285.46 822.50) scale(1 1.065)" font-family='"Liberation Sans", Arial, Helvetica, sans-serif' font-size="33.60" text-anchor="middle" fill="#000" >0.5</text>
<text transform="translate(446.16 822.50) scale(1 1.065)" font-family='"Liberation Sans", Arial, Helvetica, sans-serif' font-size="33.60" text-anchor="middle" fill="#000" >1</text>
<text transform="translate(607.66 822.50) scale(1 1.065)" font-family='"Liberation Sans", Arial, Helvetica, sans-serif' font-size="33.60" text-anchor="middle" fill="#000" >1.5</text>
<text transform="translate(30.60 408.30) rotate(-90)" font-family='"Liberation Serif", "Times New Roman", Times, serif' font-size="39" text-anchor="middle" textLength="277.5" lengthAdjust="spacingAndGlyphs">Frequency (MHz)</text>
<g font-family='"Liberation Serif", "Times New Roman", Times, serif' font-size="38.5">
<text transform="translate(336.90 863.9) scale(1.07 1)" font-style="italic">z</text>
<text transform="translate(355.70 873.2) scale(1.28 1.42)" font-size="40">/</text>
<text transform="translate(373.50 863.9) scale(1.12 1)" font-style="italic">F</text>
</g>
<line x1="764.90" y1="149.30" x2="1244.10" y2="149.30" stroke="#384EA6" stroke-width="3.3" stroke-dasharray="25 14.87"/>
<g font-family='"Liberation Serif", "Times New Roman", Times, serif' font-size="30" fill="#384EA6">
<text transform="translate(780.00 139.30) scale(1.22 1)" font-style="italic">f</text>
<text transform="translate(803.90 139.90) scale(1.27 1)">=</text>
<text x="836.30" y="139.30" textLength="12.6" lengthAdjust="spacingAndGlyphs">5</text>
<text x="861.50" y="139.30" textLength="61.6" lengthAdjust="spacingAndGlyphs">MHz</text>
</g>
<line x1="764.90" y1="342.45" x2="1244.10" y2="342.45" stroke="#6CC344" stroke-width="3.3" stroke-dasharray="25 14.87"/>
<g font-family='"Liberation Serif", "Times New Roman", Times, serif' font-size="30" fill="#6CC344">
<text transform="translate(780.00 332.45) scale(1.22 1)" font-style="italic">f</text>
<text transform="translate(803.90 333.05) scale(1.27 1)">=</text>
<text x="836.30" y="332.45" textLength="12.6" lengthAdjust="spacingAndGlyphs">2</text>
<text x="861.50" y="332.45" textLength="61.6" lengthAdjust="spacingAndGlyphs">MHz</text>
</g>
<line x1="764.90" y1="518.70" x2="1244.10" y2="518.70" stroke="#EE2225" stroke-width="3.3" stroke-dasharray="25 14.87"/>
<g font-family='"Liberation Serif", "Times New Roman", Times, serif' font-size="30" fill="#EE2225">
<text transform="translate(780.00 508.70) scale(1.22 1)" font-style="italic">f</text>
<text transform="translate(803.90 509.30) scale(1.27 1)">=</text>
<text x="836.30" y="508.70" textLength="35.8" lengthAdjust="spacingAndGlyphs">0.5</text>
<text x="885.50" y="508.70" textLength="60.8" lengthAdjust="spacingAndGlyphs">MHz</text>
</g>
<line x1="1081.46" y1="776.90" x2="1081.46" y2="38.10" stroke="#fff" stroke-width="3.5" stroke-dasharray="20 7.5 5 7.37"/>
<text transform="translate(1070.40 761.20) rotate(-90)" font-family='"Liberation Serif", "Times New Roman", Times, serif' font-size="30" fill="#fff" textLength="159.4" lengthAdjust="spacingAndGlyphs">Focal lenght</text>
<rect x="1209.20" y="531.90" width="21.80" height="227.30" fill="url(#bone)" stroke="#fff" stroke-width="1.8"/>
<path d="M1209.20 645.55h4" stroke="#fff" stroke-width="1.6"/>
<text transform="translate(1194.40 543.50) scale(1 1.050)" font-family='"Liberation Sans", Arial, Helvetica, sans-serif' font-size="28.20" text-anchor="end" fill="#fff" >1</text>
<text transform="translate(1194.40 657.20) scale(1 1.050)" font-family='"Liberation Sans", Arial, Helvetica, sans-serif' font-size="28.20" text-anchor="end" fill="#fff" >0.5</text>
<text transform="translate(1194.40 769.60) scale(1 1.050)" font-family='"Liberation Sans", Arial, Helvetica, sans-serif' font-size="28.20" text-anchor="end" fill="#fff" >0</text>
<rect x="764.90" y="38.10" width="479.20" height="738.80" fill="none" stroke="#000" stroke-width="1.70"/>
<path d="M792.90 776.90v-4.60M792.90 38.10v4.60M825.04 776.90v-4.60M825.04 38.10v4.60M857.18 776.90v-4.60M857.18 38.10v4.60M889.32 776.90v-4.60M889.32 38.10v4.60M921.46 776.90v-8.00M921.46 38.10v8.00M953.60 776.90v-4.60M953.60 38.10v4.60M985.74 776.90v-4.60M985.74 38.10v4.60M1017.88 776.90v-4.60M1017.88 38.10v4.60M1050.02 776.90v-4.60M1050.02 38.10v4.60M1082.16 776.90v-8.00M1082.16 38.10v8.00M1114.30 776.90v-4.60M1114.30 38.10v4.60M1146.44 776.90v-4.60M1146.44 38.10v4.60M1178.58 776.90v-4.60M1178.58 38.10v4.60M1210.72 776.90v-4.60M1210.72 38.10v4.60M1242.86 776.90v-8.00M1242.86 38.10v8.00M764.90 665.70h4.60M1244.10 665.70h-4.60M764.90 600.65h4.60M1244.10 600.65h-4.60M764.90 554.50h4.60M1244.10 554.50h-4.60M764.90 518.70h4.60M1244.10 518.70h-4.60M764.90 489.45h4.60M1244.10 489.45h-4.60M764.90 464.72h4.60M1244.10 464.72h-4.60M764.90 443.30h4.60M1244.10 443.30h-4.60M764.90 424.40h4.60M1244.10 424.40h-4.60M764.90 407.50h8.00M1244.10 407.50h-8.00M764.90 296.30h4.60M1244.10 296.30h-4.60M764.90 231.25h4.60M1244.10 231.25h-4.60M764.90 185.10h4.60M1244.10 185.10h-4.60M764.90 149.30h4.60M1244.10 149.30h-4.60M764.90 120.05h4.60M1244.10 120.05h-4.60M764.90 95.32h4.60M1244.10 95.32h-4.60M764.90 73.90h4.60M1244.10 73.90h-4.60M764.90 55.00h4.60M1244.10 55.00h-4.60" stroke="#000" stroke-width="1.7" fill="none"/>
<text x="647.60" y="31.50" font-family='"Liberation Serif", "Times New Roman", Times, serif' font-size="34.5" text-anchor="start"><tspan font-size="36.5" dy="0.6">(</tspan><tspan dy="-0.6">b</tspan><tspan font-size="36.5" dy="0.6">)</tspan></text>
<text transform="translate(1244.60 27.60) scale(1 1.045)" font-family='"Liberation Sans", Arial, Helvetica, sans-serif' font-size="29.70" text-anchor="end" fill="#000" textLength="283.6" lengthAdjust="spacingAndGlyphs">Phase-only hologram</text>
<text transform="translate(700.60 57.30) scale(1 1.08)" font-family='"Liberation Sans", Arial, Helvetica, sans-serif' font-size="32" fill="#000">10<tspan dy="-14.4" dx="1.8" font-size="25.2">1</tspan></text>
<text transform="translate(700.60 425.50) scale(1 1.08)" font-family='"Liberation Sans", Arial, Helvetica, sans-serif' font-size="32" fill="#000">10<tspan dy="-14.4" dx="1.8" font-size="25.2">0</tspan></text>
<text transform="translate(690.60 794.50) scale(1 1.08)" font-family='"Liberation Sans", Arial, Helvetica, sans-serif' font-size="32" fill="#000">10<tspan dy="-14.4" dx="1.8" font-size="25.2">-1</tspan></text>
<text transform="translate(921.46 822.50) scale(1 1.065)" font-family='"Liberation Sans", Arial, Helvetica, sans-serif' font-size="33.60" text-anchor="middle" fill="#000" >0.5</text>
<text transform="translate(1082.16 822.50) scale(1 1.065)" font-family='"Liberation Sans", Arial, Helvetica, sans-serif' font-size="33.60" text-anchor="middle" fill="#000" >1</text>
<text transform="translate(1243.66 822.50) scale(1 1.065)" font-family='"Liberation Sans", Arial, Helvetica, sans-serif' font-size="33.60" text-anchor="middle" fill="#000" >1.5</text>
<text transform="translate(666.60 408.30) rotate(-90)" font-family='"Liberation Serif", "Times New Roman", Times, serif' font-size="39" text-anchor="middle" textLength="277.5" lengthAdjust="spacingAndGlyphs">Frequency (MHz)</text>
<g font-family='"Liberation Serif", "Times New Roman", Times, serif' font-size="38.5">
<text transform="translate(972.90 863.9) scale(1.07 1)" font-style="italic">z</text>
<text transform="translate(991.70 873.2) scale(1.28 1.42)" font-size="40">/</text>
<text transform="translate(1009.50 863.9) scale(1.12 1)" font-style="italic">F</text>
</g>
<clipPath id="clip1"><rect x="1395.10" y="39.10" width="484.00" height="196.90"/></clipPath>
<g clip-path="url(#clip1)" fill="none" stroke-linejoin="round">
<path d="M1400.5 61.6L1402.9 58.1L1405.3 61.7L1407.7 67.7L1410.1 71.7L1412.5 71.6L1414.9 68.2L1417.3 64.1L1419.7 61.5L1422.1 61.4L1424.5 63.8L1426.9 68.1L1429.3 73.1L1431.7 76.2L1434.1 74.1L1436.5 67.2L1438.9 62.3L1441.3 66.6L1443.8 76.2L1446.2 75.4L1448.6 64.3L1451.0 64.3L1453.4 75.1L1455.8 70.2L1458.2 63.4L1460.6 75.6L1463.0 71.5L1465.4 62.8L1467.8 75.7L1470.2 65.3L1472.6 68.5L1475.0 75.0L1477.4 63.5L1479.8 77.5L1482.2 61.9L1484.6 75.6L1487.0 63.1L1489.5 75.5L1491.9 64.4L1494.3 76.3L1496.7 62.8L1499.1 76.8L1501.5 61.0L1503.9 77.0L1506.3 63.9L1508.7 72.7L1511.1 71.7L1513.5 63.3L1515.9 77.6L1518.3 62.4L1520.7 70.2L1523.1 75.8L1525.5 61.4L1527.9 74.1L1530.3 73.7L1532.7 60.2L1535.1 72.9L1537.6 75.8L1540.0 61.4L1542.4 68.7L1544.8 79.3L1547.2 66.3L1549.6 60.4L1552.0 74.4L1554.4 77.8L1556.8 63.8L1559.2 61.5L1561.6 74.7L1564.0 79.0L1566.4 66.2L1568.8 58.7L1571.2 67.8L1573.6 80.1L1576.0 77.3L1578.4 63.9L1580.8 57.8L1583.3 65.6L1585.7 78.3L1588.1 81.2L1590.5 71.4L1592.9 60.0L1595.3 57.2L1597.7 65.0L1600.1 77.0L1602.5 83.3L1604.9 78.7L1607.3 67.6L1609.7 57.8L1612.1 55.0L1614.5 60.1L1616.9 70.6L1619.3 81.0L1621.7 86.0L1624.1 83.0L1626.5 73.9L1629.0 63.2L1631.4 54.9L1633.8 51.3L1636.2 52.9L1638.6 59.0L1641.0 67.9L1643.4 77.5L1645.8 85.7L1648.2 90.7L1650.6 91.3L1653.0 87.5L1655.4 80.5L1657.8 71.6L1660.2 62.3L1662.6 53.9L1665.0 47.1L1667.4 42.5L1669.8 39.9L1672.2 39.1L1674.7 40.0L1677.1 42.4L1679.5 46.4L1681.9 51.7L1684.3 58.1L1686.7 65.1L1689.1 72.4L1691.5 79.8L1693.9 87.4L1696.3 95.2L1698.7 103.0L1701.1 110.7L1703.5 118.1L1705.9 125.1L1708.3 131.6L1710.7 137.8L1713.1 143.7L1715.5 149.5L1717.9 154.9L1720.4 160.0L1722.8 164.5L1725.2 168.7L1727.6 172.5L1730.0 176.1L1732.4 179.6L1734.8 182.9L1737.2 185.9L1739.6 188.7L1742.0 191.1L1744.4 193.3L1746.8 195.3L1749.2 197.3L1751.6 199.2L1754.0 201.0L1756.4 202.7L1758.8 204.2L1761.2 205.6L1763.6 206.7L1766.1 207.8L1768.5 208.9L1770.9 209.9L1773.3 211.0L1775.7 212.0L1778.1 213.0L1780.5 213.8L1782.9 214.5L1785.3 215.1L1787.7 215.7L1790.1 216.2L1792.5 216.8L1794.9 217.4L1797.3 218.1L1799.7 218.7L1802.1 219.2L1804.5 219.7L1806.9 220.0L1809.3 220.4L1811.8 220.7L1814.2 221.0L1816.6 221.3L1819.0 221.7L1821.4 222.1L1823.8 222.5L1826.2 222.9L1828.6 223.2L1831.0 223.5L1833.4 223.7L1835.8 223.9L1838.2 224.0L1840.6 224.2L1843.0 224.4L1845.4 224.6L1847.8 224.9L1850.2 225.2L1852.6 225.4L1855.0 225.7L1857.5 225.9L1859.9 226.1L1862.3 226.2L1864.7 226.3L1867.1 226.4L1869.5 226.5L1871.9 226.6L1874.3 226.7L1876.7 226.9L1879.1 227.1" stroke="#384EA6" stroke-width="3.4"/>
<path d="M1400.5 45.9L1402.9 57.7L1405.3 49.2L1407.7 24.0L1410.1 41.3L1412.5 65.8L1414.9 57.4L1417.3 65.5L1419.7 63.9L1422.1 64.0L1424.5 67.1L1426.9 59.0L1429.3 69.0L1431.7 77.1L1434.1 63.8L1436.5 56.2L1438.9 75.0L1441.3 72.3L1443.8 84.2L1446.2 79.2L1448.6 39.1L1451.0 39.1L1453.4 71.6L1455.8 72.0L1458.2 72.9L1460.6 81.7L1463.0 84.5L1465.4 76.4L1467.8 75.3L1470.2 69.4L1472.6 51.1L1475.0 64.1L1477.4 79.1L1479.8 78.4L1482.2 69.1L1484.6 73.4L1487.0 63.4L1489.5 94.4L1491.9 68.8L1494.3 72.4L1496.7 50.8L1499.1 80.8L1501.5 54.1L1503.9 83.9L1506.3 68.4L1508.7 74.4L1511.1 50.5L1513.5 40.4L1515.9 40.6L1518.3 40.3L1520.7 51.0L1523.1 60.3L1525.5 61.3L1527.9 67.8L1530.3 54.3L1532.7 55.4L1535.1 66.9L1537.6 68.8L1540.0 50.5L1542.4 66.7L1544.8 76.5L1547.2 58.7L1549.6 56.1L1552.0 76.8L1554.4 68.7L1556.8 75.1L1559.2 78.1L1561.6 85.6L1564.0 68.1L1566.4 65.7L1568.8 67.0L1571.2 74.6L1573.6 81.5L1576.0 77.9L1578.4 61.2L1580.8 53.6L1583.3 63.4L1585.7 79.3L1588.1 82.9L1590.5 70.6L1592.9 56.3L1595.3 52.9L1597.7 62.6L1600.1 77.6L1602.5 85.4L1604.9 79.8L1607.3 65.8L1609.7 53.7L1612.1 50.1L1614.5 56.5L1616.9 69.6L1619.3 82.7L1621.7 88.9L1624.1 85.1L1626.5 73.8L1629.0 60.4L1631.4 50.0L1633.8 45.5L1636.2 47.5L1638.6 55.1L1641.0 66.2L1643.4 78.2L1645.8 88.5L1648.2 94.7L1650.6 95.4L1653.0 90.8L1655.4 82.0L1657.8 70.9L1660.2 59.3L1662.6 48.7L1665.0 40.3L1667.4 34.5L1669.8 31.2L1672.2 30.2L1674.7 31.4L1677.1 34.4L1679.5 39.4L1681.9 46.0L1684.3 53.9L1686.7 62.7L1689.1 71.8L1691.5 81.1L1693.9 90.6L1696.3 95.2L1698.7 103.0L1701.1 110.7L1703.5 118.1L1705.9 125.1L1708.3 131.6L1710.7 137.8L1713.1 143.7L1715.5 149.5L1717.9 154.8L1720.4 157.8L1722.8 160.9L1725.2 164.5L1727.6 168.8L1730.0 173.7L1732.4 179.0L1734.8 184.2L1737.2 188.8L1739.6 192.4L1742.0 194.7L1744.4 196.0L1746.8 196.5L1749.2 196.7L1751.6 197.0L1754.0 197.9L1756.4 199.3L1758.8 201.4L1761.2 203.9L1763.6 206.7L1766.1 209.3L1768.5 211.5L1770.9 213.0L1773.3 213.8L1775.7 213.9L1778.1 213.6L1780.5 212.9L1782.9 212.4L1785.3 212.4L1787.7 212.9L1790.1 214.1L1792.5 215.8L1794.9 217.7L1797.3 219.6L1799.7 221.0L1802.1 221.8L1804.5 221.9L1806.9 221.4L1809.3 220.6L1811.8 219.7L1814.2 219.1L1816.6 219.0L1819.0 219.5L1821.4 220.5L1823.8 221.9L1826.2 223.4L1828.6 224.6L1831.0 225.5L1833.4 225.8L1835.8 225.5L1838.2 224.9L1840.6 224.1L1843.0 223.4L1845.4 222.9L1847.8 223.0L1850.2 223.4L1852.6 224.3L1855.0 225.4L1857.5 226.5L1859.9 227.4L1862.3 227.9L1864.7 228.0L1867.1 227.6L1869.5 227.0L1871.9 226.3L1874.3 225.7L1876.7 225.4L1879.1 225.5" stroke="#000" stroke-width="3.4" stroke-dasharray="25 15"/>
</g>
<rect x="1395.10" y="39.10" width="484.00" height="196.90" fill="none" stroke="#000" stroke-width="1.70"/>
<path d="M1427.37 236.00v-3.40M1427.37 39.10v3.40M1459.63 236.00v-3.40M1459.63 39.10v3.40M1491.90 236.00v-3.40M1491.90 39.10v3.40M1524.17 236.00v-3.40M1524.17 39.10v3.40M1556.43 236.00v-5.60M1556.43 39.10v5.60M1588.70 236.00v-3.40M1588.70 39.10v3.40M1620.97 236.00v-3.40M1620.97 39.10v3.40M1653.23 236.00v-3.40M1653.23 39.10v3.40M1685.50 236.00v-3.40M1685.50 39.10v3.40M1717.77 236.00v-5.60M1717.77 39.10v5.60M1750.03 236.00v-3.40M1750.03 39.10v3.40M1782.30 236.00v-3.40M1782.30 39.10v3.40M1814.57 236.00v-3.40M1814.57 39.10v3.40M1846.83 236.00v-3.40M1846.83 39.10v3.40M1395.10 216.31h3.40M1879.10 216.31h-3.40M1395.10 196.62h3.40M1879.10 196.62h-3.40M1395.10 176.93h3.40M1879.10 176.93h-3.40M1395.10 157.24h3.40M1879.10 157.24h-3.40M1395.10 137.55h5.60M1879.10 137.55h-5.60M1395.10 117.86h3.40M1879.10 117.86h-3.40M1395.10 98.17h3.40M1879.10 98.17h-3.40M1395.10 78.48h3.40M1879.10 78.48h-3.40M1395.10 58.79h3.40M1879.10 58.79h-3.40" stroke="#000" stroke-width="1.7" fill="none"/>
<text transform="translate(1380.40 52.00) scale(1 1.065)" font-family='"Liberation Sans", Arial, Helvetica, sans-serif' font-size="33.60" text-anchor="end" fill="#000" >1</text>
<text transform="translate(1380.40 150.45) scale(1 1.065)" font-family='"Liberation Sans", Arial, Helvetica, sans-serif' font-size="33.60" text-anchor="end" fill="#000" >0.5</text>
<text transform="translate(1380.40 248.90) scale(1 1.065)" font-family='"Liberation Sans", Arial, Helvetica, sans-serif' font-size="33.60" text-anchor="end" fill="#000" >0</text>
<text transform="translate(1395.10 282.00) scale(1 1.065)" font-family='"Liberation Sans", Arial, Helvetica, sans-serif' font-size="33.60" text-anchor="middle" fill="#000" >0</text>
<text transform="translate(1556.43 282.00) scale(1 1.065)" font-family='"Liberation Sans", Arial, Helvetica, sans-serif' font-size="33.60" text-anchor="middle" fill="#000" >0.5</text>
<text transform="translate(1717.77 282.00) scale(1 1.065)" font-family='"Liberation Sans", Arial, Helvetica, sans-serif' font-size="33.60" text-anchor="middle" fill="#000" >1</text>
<text transform="translate(1879.10 282.00) scale(1 1.065)" font-family='"Liberation Sans", Arial, Helvetica, sans-serif' font-size="33.60" text-anchor="middle" fill="#000" >1.5</text>
<text x="1868.80" y="78.60" font-family='"Liberation Serif", "Times New Roman", Times, serif' font-size="34.5" text-anchor="end"><tspan font-size="36.5" dy="0.6">(</tspan><tspan dy="-0.6">c</tspan><tspan font-size="36.5" dy="0.6">)</tspan></text>
<g font-family='"Liberation Serif", "Times New Roman", Times, serif' font-size="30" fill="#384EA6">
<text transform="translate(1412.30 211.90) scale(1.22 1)" font-style="italic">f</text>
<text transform="translate(1436.20 212.50) scale(1.27 1)">=</text>
<text x="1468.60" y="211.90" textLength="12.6" lengthAdjust="spacingAndGlyphs">5</text>
<text x="1494.70" y="211.90" textLength="61.1" lengthAdjust="spacingAndGlyphs">MHz</text>
</g>
<g transform="translate(1310.3 197.15) rotate(-90)" font-family='"Liberation Serif", "Times New Roman", Times, serif' font-size="37"><text transform="translate(-1.5 1.5)" font-size="40.8">|</text><text transform="translate(8.7 0)" font-style="italic">p</text><text transform="translate(27.1 1.5)" font-size="40.8">|</text><text transform="translate(39.0 9.9) scale(1.2 1.385)" font-size="40">/</text><text transform="translate(57.4 0)" font-style="italic">p</text><text transform="translate(74.5 6.5)" font-size="26" textLength="44.9" lengthAdjust="spacingAndGlyphs">max</text></g>
<clipPath id="clip2"><rect x="1395.10" y="310.60" width="484.00" height="194.30"/></clipPath>
<g clip-path="url(#clip2)" fill="none" stroke-linejoin="round">
<path d="M1400.5 363.0L1402.9 350.4L1405.3 364.8L1407.7 352.2L1410.1 333.8L1412.5 347.1L1414.9 348.8L1417.3 328.0L1419.7 332.2L1422.1 348.6L1424.5 336.9L1426.9 325.5L1429.3 340.4L1431.7 351.9L1434.1 338.0L1436.5 330.8L1438.9 346.0L1441.3 357.6L1443.8 345.7L1446.2 334.4L1448.6 342.8L1451.0 357.9L1453.4 354.9L1455.8 338.9L1458.2 333.2L1460.6 344.0L1463.0 355.8L1465.4 351.0L1467.8 335.7L1470.2 328.6L1472.6 336.2L1475.0 349.8L1477.4 353.7L1479.8 343.7L1482.2 331.5L1484.6 328.7L1487.0 337.5L1489.5 350.8L1491.9 357.5L1494.3 352.2L1496.7 340.6L1499.1 332.2L1501.5 332.1L1503.9 340.2L1506.3 351.5L1508.7 359.0L1511.1 357.5L1513.5 348.4L1515.9 337.2L1518.3 329.5L1520.7 328.2L1523.1 333.2L1525.5 342.4L1527.9 351.8L1530.3 357.3L1532.7 356.5L1535.1 350.0L1537.6 341.0L1540.0 332.7L1542.4 327.5L1544.8 326.7L1547.2 330.1L1549.6 336.9L1552.0 345.5L1554.4 354.0L1556.8 360.3L1559.2 362.8L1561.6 361.2L1564.0 355.9L1566.4 348.5L1568.8 340.4L1571.2 332.9L1573.6 327.1L1576.0 323.6L1578.4 322.5L1580.8 323.9L1583.3 327.5L1585.7 332.8L1588.1 339.3L1590.5 346.4L1592.9 353.3L1595.3 359.3L1597.7 364.0L1600.1 366.7L1602.5 367.4L1604.9 366.1L1607.3 363.0L1609.7 358.5L1612.1 353.1L1614.5 347.2L1616.9 341.1L1619.3 335.2L1621.7 329.6L1624.1 324.6L1626.5 320.3L1629.0 316.7L1631.4 313.9L1633.8 312.0L1636.2 310.9L1638.6 310.6L1641.0 311.1L1643.4 312.3L1645.8 314.1L1648.2 316.5L1650.6 319.3L1653.0 322.6L1655.4 326.2L1657.8 330.1L1660.2 334.1L1662.6 338.3L1665.0 342.5L1667.4 346.8L1669.8 351.2L1672.2 355.5L1674.7 359.8L1677.1 364.1L1679.5 368.3L1681.9 372.6L1684.3 376.8L1686.7 380.9L1689.1 385.0L1691.5 389.1L1693.9 393.1L1696.3 397.1L1698.7 400.9L1701.1 404.7L1703.5 408.4L1705.9 412.0L1708.3 415.4L1710.7 418.7L1713.1 421.9L1715.5 424.9L1717.9 427.8L1720.4 430.6L1722.8 433.1L1725.2 435.6L1727.6 437.9L1730.0 440.1L1732.4 442.1L1734.8 444.1L1737.2 446.0L1739.6 447.7L1742.0 449.5L1744.4 451.1L1746.8 452.7L1749.2 454.3L1751.6 455.8L1754.0 457.2L1756.4 458.7L1758.8 460.1L1761.2 461.4L1763.6 462.7L1766.1 464.0L1768.5 465.3L1770.9 466.5L1773.3 467.6L1775.7 468.7L1778.1 469.8L1780.5 470.8L1782.9 471.8L1785.3 472.7L1787.7 473.5L1790.1 474.3L1792.5 475.1L1794.9 475.8L1797.3 476.4L1799.7 477.1L1802.1 477.6L1804.5 478.2L1806.9 478.7L1809.3 479.2L1811.8 479.7L1814.2 480.1L1816.6 480.5L1819.0 480.9L1821.4 481.4L1823.8 481.8L1826.2 482.2L1828.6 482.6L1831.0 482.9L1833.4 483.3L1835.8 483.7L1838.2 484.1L1840.6 484.5L1843.0 484.9L1845.4 485.3L1847.8 485.6L1850.2 486.0L1852.6 486.4L1855.0 486.7L1857.5 487.1L1859.9 487.4L1862.3 487.8L1864.7 488.1L1867.1 488.4L1869.5 488.7L1871.9 489.0L1874.3 489.3L1876.7 489.6L1879.1 489.9" stroke="#6CC344" stroke-width="3.4"/>
<path d="M1400.3 349.5L1401.0 363.6L1401.7 376.0L1402.3 384.9L1403.0 388.3L1403.7 387.8L1404.4 386.3L1405.1 384.3L1405.8 381.8L1406.5 379.4L1407.2 377.1L1407.9 375.3L1408.6 373.9L1409.3 372.3L1410.0 370.1L1410.7 366.7L1411.4 352.3L1412.1 333.8L1412.8 326.9L1413.5 324.9L1414.1 323.3L1414.8 322.2L1415.5 321.6L1416.2 321.9L1416.9 329.6L1417.6 339.2L1418.3 341.0L1419.0 338.6L1419.7 334.5L1420.4 329.8L1421.1 325.6L1421.8 322.8L1422.5 322.5L1423.2 325.3L1423.9 330.1L1424.6 335.6L1425.3 340.5L1426.0 343.6L1426.6 343.9L1427.3 342.9L1428.0 341.3L1428.7 339.4L1429.4 337.6L1430.1 336.0L1430.8 335.2L1431.5 335.4L1432.2 337.2L1432.9 339.7L1433.6 342.0L1434.3 343.4L1435.0 342.4L1435.7 339.0L1436.4 335.0L1437.1 332.5L1437.8 332.9L1438.4 335.1L1439.1 338.4L1439.8 342.5L1440.5 346.6L1441.2 350.3L1441.9 353.0L1442.6 354.3L1443.3 353.9L1444.0 352.3L1444.7 349.9L1445.4 347.0L1446.1 343.8L1446.8 340.9L1447.5 338.3L1448.2 336.6L1448.9 335.9L1449.6 336.9L1450.2 339.7L1450.9 343.9L1451.6 348.8L1452.3 354.0L1453.0 358.9L1453.7 363.0L1454.4 365.7L1455.1 366.5L1455.8 365.2L1456.5 362.0L1457.2 357.6L1457.9 352.5L1458.6 347.2L1459.3 342.3L1460.0 338.3L1460.7 335.7L1461.4 335.1L1462.1 336.1L1462.7 338.1L1463.4 340.7L1464.1 343.5L1464.8 346.3L1465.5 348.5L1466.2 349.9L1466.9 350.1L1467.6 348.4L1468.3 345.3L1469.0 341.2L1469.7 336.8L1470.4 332.6L1471.1 329.3L1471.8 327.2L1472.5 327.1L1473.2 328.3L1473.9 330.6L1474.5 333.8L1475.2 337.5L1475.9 341.6L1476.6 345.8L1477.3 349.9L1478.0 353.5L1478.7 356.6L1479.4 358.7L1480.1 359.7L1480.8 359.5L1481.5 358.4L1482.2 356.7L1482.9 354.6L1483.6 352.2L1484.3 349.7L1485.0 347.4L1485.7 345.5L1486.4 344.1L1487.0 343.5L1487.7 343.8L1488.4 345.2L1489.1 347.3L1489.8 350.0L1490.5 352.9L1491.2 355.9L1491.9 358.7L1492.6 361.0L1493.3 362.6L1494.0 363.3L1494.7 362.9L1495.4 362.0L1496.1 360.4L1496.8 358.5L1497.5 356.1L1498.2 353.5L1498.8 350.8L1499.5 348.0L1500.2 345.3L1500.9 342.7L1501.6 340.4L1502.3 338.5L1503.0 337.0L1503.7 336.1L1504.4 335.9L1505.1 336.5L1505.8 337.8L1506.5 339.7L1507.2 341.9L1507.9 344.4L1508.6 347.0L1509.3 349.4L1510.0 351.5L1510.7 353.1L1511.3 354.1L1512.0 354.3L1512.7 353.7L1513.4 352.5L1514.1 350.9L1514.8 348.8L1515.5 346.4L1516.2 343.8L1516.9 341.2L1517.6 338.5L1518.3 335.9L1519.0 333.5L1519.7 331.4L1520.4 329.6L1521.1 328.4L1521.8 327.8L1522.5 327.8L1523.1 328.4L1523.8 329.4L1524.5 330.8L1525.2 332.6L1525.9 334.6L1526.6 336.7L1527.3 338.9L1528.0 341.1L1528.7 343.2L1529.4 345.1L1530.1 346.7L1530.8 348.1L1531.5 349.0L1532.2 349.4L1532.9 349.3L1533.6 348.8L1534.3 348.0L1534.9 346.8L1535.6 345.3L1536.3 343.7L1537.0 341.9L1537.7 340.1L1538.4 338.2L1539.1 336.3L1539.8 334.5L1540.5 332.8L1541.2 331.3L1541.9 330.1L1542.6 329.1L1543.3 328.5L1544.0 328.3L1544.7 328.5L1545.4 329.2L1546.1 330.3L1546.8 331.7L1547.4 333.4L1548.1 335.3L1548.8 337.4L1549.5 339.5L1550.2 341.7L1550.9 343.9L1551.6 346.0L1552.3 348.0L1553.0 349.8L1553.7 351.7L1554.4 353.8L1555.1 356.2L1555.8 358.5L1556.5 360.7L1557.2 362.7L1557.9 364.4L1558.6 365.7L1559.2 366.4L1559.9 366.5L1560.6 366.1L1561.3 365.2L1562.0 364.0L1562.7 362.5L1563.4 360.8L1564.1 358.9L1564.8 356.9L1565.5 354.8L1566.2 352.8L1566.9 350.8L1567.6 348.9L1568.3 347.2L1569.0 345.2L1569.7 343.0L1570.4 340.7L1571.1 338.3L1571.7 336.0L1572.4 333.7L1573.1 331.6L1573.8 329.8L1574.5 328.4L1575.2 327.4L1575.9 326.9L1576.6 326.9L1577.3 327.0L1578.0 327.2L1578.7 327.5L1579.4 327.8L1580.1 328.1L1580.8 328.6L1581.5 329.1L1582.2 329.6L1582.9 330.2L1583.5 330.8L1584.2 331.5L1584.9 332.2L1585.6 332.9L1586.3 333.7L1587.0 334.4L1587.7 335.4L1588.4 336.7L1589.1 338.3L1589.8 340.2L1590.5 342.3L1591.2 344.4L1591.9 346.6L1592.6 348.7L1593.3 350.7L1594.0 352.6L1594.7 354.2L1595.4 355.4L1596.0 356.6L1596.7 357.9L1597.4 359.1L1598.1 360.3L1598.8 361.5L1599.5 362.6L1600.2 363.6L1600.9 364.5L1601.6 365.4L1602.3 366.1L1603.0 366.7L1603.7 367.1L1604.4 367.3L1605.1 367.3L1605.8 367.1L1606.5 366.6L1607.2 365.8L1607.8 364.9L1608.5 363.8L1609.2 362.5L1609.9 361.1L1610.6 359.6L1611.3 358.0L1612.0 356.4L1612.7 354.8L1613.4 353.2L1614.1 351.6L1614.8 350.1L1615.5 348.7L1616.2 347.4L1616.9 346.1L1617.6 344.7L1618.3 343.3L1619.0 341.9L1619.7 340.5L1620.3 339.0L1621.0 337.6L1621.7 336.2L1622.4 334.8L1623.1 333.5L1623.8 332.2L1624.5 330.9L1625.2 329.6L1625.9 328.2L1626.6 326.8L1627.3 325.3L1628.0 323.9L1628.7 322.5L1629.4 321.2L1630.1 319.9L1630.8 318.6L1631.5 317.5L1632.1 316.4L1632.8 315.4L1633.5 314.6L1634.2 313.9L1634.9 313.4L1635.6 312.9L1636.3 312.5L1637.0 312.1L1637.7 311.7L1638.4 311.4L1639.1 311.2L1639.8 311.0L1640.5 311.0L1641.2 311.2L1641.9 311.7L1642.6 312.5L1643.3 313.4L1643.9 314.5L1644.6 315.7L1645.3 316.9L1646.0 318.2L1646.7 319.5L1647.4 320.7L1648.1 321.8L1648.8 322.9L1649.5 323.9L1650.2 324.9L1650.9 325.9L1651.6 326.9L1652.3 327.9L1653.0 329.0L1653.7 330.0L1654.4 331.0L1655.1 332.1L1655.8 333.1L1656.4 334.2L1657.1 335.2L1657.8 336.3L1658.5 337.4L1659.2 338.4L1659.9 339.5L1660.6 340.6L1661.3 341.7L1662.0 342.8L1662.7 343.9L1663.4 345.0L1664.1 346.2L1664.8 347.3L1665.5 348.5L1666.2 349.6L1666.9 350.8L1667.6 352.0L1668.2 353.2L1668.9 354.5L1669.6 355.7L1670.3 357.0L1671.0 358.2L1671.7 359.5L1672.4 360.8L1673.1 362.1L1673.8 363.4L1674.5 364.7L1675.2 366.0L1675.9 367.3L1676.6 368.6L1677.3 369.9L1678.0 371.2L1678.7 372.4L1679.4 373.7L1680.1 374.9L1680.7 376.2L1681.4 377.4L1682.1 378.6L1682.8 379.8L1683.5 380.9L1684.2 382.1L1684.9 383.3L1685.6 384.4L1686.3 385.6L1687.0 386.7L1687.7 387.9L1688.4 389.0L1689.1 390.1L1689.8 391.3L1690.5 392.4L1691.2 393.5L1691.9 394.6L1692.5 395.7L1693.2 396.8L1693.9 397.9L1694.6 399.0L1695.3 400.0L1696.0 401.1L1696.7 402.2L1697.4 403.2L1698.1 404.3L1698.8 405.3L1699.5 406.4L1700.2 407.4L1700.9 408.4L1701.6 409.5L1702.3 410.5L1703.0 411.6L1703.7 412.6L1704.4 413.6L1705.0 414.7L1705.7 415.7L1706.4 416.7L1707.1 417.7L1707.8 418.7L1708.5 419.7L1709.2 420.7L1709.9 421.7L1710.6 422.7L1711.3 423.6L1712.0 424.6L1712.7 425.5L1713.4 426.4L1714.1 427.3L1714.8 428.2L1715.5 429.1L1716.2 429.9L1716.8 430.7L1717.5 431.6L1718.2 432.4L1718.9 433.2L1719.6 434.0L1720.3 434.8L1721.0 435.6L1721.7 436.4L1722.4 437.2L1723.1 438.0L1723.8 438.7L1724.5 439.5L1725.2 440.2L1725.9 440.9L1726.6 441.5L1727.3 442.2L1728.0 442.8L1728.6 443.3L1729.3 443.8L1730.0 444.3L1730.7 444.7L1731.4 445.1L1732.1 445.5L1732.8 445.9L1733.5 446.3L1734.2 446.7L1734.9 447.1L1735.6 447.4L1736.3 447.8L1737.0 448.1L1737.7 448.3L1738.4 448.5L1739.1 448.7L1739.8 448.8L1740.5 448.9L1741.1 448.9L1741.8 448.9L1742.5 448.9L1743.2 448.8L1743.9 448.8L1744.6 448.7L1745.3 448.6L1746.0 448.5L1746.7 448.4L1747.4 448.2L1748.1 448.1L1748.8 448.0L1749.5 447.8L1750.2 447.7L1750.9 447.5L1751.6 447.4L1752.3 447.3L1752.9 447.1L1753.6 447.0L1754.3 446.9L1755.0 446.8L1755.7 446.8L1756.4 446.7L1757.1 446.6L1757.8 446.6L1758.5 446.6L1759.2 446.6L1759.9 446.7L1760.6 446.8L1761.3 447.0L1762.0 447.2L1762.7 447.4L1763.4 447.6L1764.1 447.9L1764.8 448.2L1765.4 448.6L1766.1 448.9L1766.8 449.3L1767.5 449.7L1768.2 450.1L1768.9 450.5L1769.6 451.0L1770.3 451.4L1771.0 451.9L1771.7 452.3L1772.4 452.8L1773.1 453.3L1773.8 453.8L1774.5 454.2L1775.2 454.7L1775.9 455.2L1776.6 455.7L1777.2 456.3L1777.9 456.9L1778.6 457.5L1779.3 458.2L1780.0 458.9L1780.7 459.7L1781.4 460.4L1782.1 461.2L1782.8 462.0L1783.5 462.9L1784.2 463.7L1784.9 464.6L1785.6 465.4L1786.3 466.3L1787.0 467.2L1787.7 468.0L1788.4 468.9L1789.1 469.8L1789.7 470.6L1790.4 471.5L1791.1 472.3L1791.8 473.1L1792.5 473.9L1793.2 474.7L1793.9 475.5L1794.6 476.3L1795.3 477.1L1796.0 478.0L1796.7 478.9L1797.4 479.7L1798.1 480.6L1798.8 481.5L1799.5 482.3L1800.2 483.1L1800.9 484.0L1801.5 484.7L1802.2 485.5L1802.9 486.2L1803.6 486.9L1804.3 487.6L1805.0 488.2L1805.7 488.8L1806.4 489.3L1807.1 489.8L1807.8 490.3L1808.5 490.8L1809.2 491.2L1809.9 491.7L1810.6 492.2L1811.3 492.6L1812.0 493.0L1812.7 493.4L1813.3 493.7L1814.0 494.0L1814.7 494.3L1815.4 494.5L1816.1 494.6L1816.8 494.6L1817.5 494.5L1818.2 494.4L1818.9 494.1L1819.6 493.8L1820.3 493.4L1821.0 492.9L1821.7 492.4L1822.4 491.8L1823.1 491.2L1823.8 490.5L1824.5 489.8L1825.2 489.2L1825.8 488.4L1826.5 487.7L1827.2 487.1L1827.9 486.4L1828.6 485.7L1829.3 485.1L1830.0 484.6L1830.7 484.1L1831.4 483.5L1832.1 483.0L1832.8 482.5L1833.5 482.0L1834.2 481.4L1834.9 480.9L1835.6 480.3L1836.3 479.8L1837.0 479.3L1837.6 478.7L1838.3 478.2L1839.0 477.7L1839.7 477.2L1840.4 476.7L1841.1 476.2L1841.8 475.7L1842.5 475.2L1843.2 474.8L1843.9 474.3L1844.6 473.9L1845.3 473.5L1846.0 473.1L1846.7 472.7L1847.4 472.4L1848.1 472.1L1848.8 471.8L1849.5 471.5L1850.1 471.1L1850.8 470.8L1851.5 470.5L1852.2 470.2L1852.9 469.9L1853.6 469.7L1854.3 469.4L1855.0 469.1L1855.7 468.8L1856.4 468.6L1857.1 468.3L1857.8 468.1L1858.5 467.9L1859.2 467.7L1859.9 467.5L1860.6 467.3L1861.3 467.1L1861.9 466.9L1862.6 466.8L1863.3 466.7L1864.0 466.5L1864.7 466.5L1865.4 466.4L1866.1 466.3L1866.8 466.2L1867.5 466.1L1868.2 466.1L1868.9 466.0L1869.6 465.9L1870.3 465.9L1871.0 465.8L1871.7 465.7L1872.4 465.7L1873.1 465.6L1873.8 465.6L1874.4 465.6L1875.1 465.5L1875.8 465.5L1876.5 465.4L1877.2 465.4L1877.9 465.4L1878.6 465.4L1879.3 465.4L1880.0 465.3L1880.7 465.3L1881.4 465.3L1882.1 465.3L1882.8 465.3L1883.5 465.3L1884.2 465.3L1884.9 465.3L1885.6 465.3" stroke="#000" stroke-width="3.4" stroke-dasharray="25 15"/>
</g>
<rect x="1395.10" y="310.60" width="484.00" height="194.30" fill="none" stroke="#000" stroke-width="1.70"/>
<path d="M1427.37 504.90v-3.40M1427.37 310.60v3.40M1459.63 504.90v-3.40M1459.63 310.60v3.40M1491.90 504.90v-3.40M1491.90 310.60v3.40M1524.17 504.90v-3.40M1524.17 310.60v3.40M1556.43 504.90v-5.60M1556.43 310.60v5.60M1588.70 504.90v-3.40M1588.70 310.60v3.40M1620.97 504.90v-3.40M1620.97 310.60v3.40M1653.23 504.90v-3.40M1653.23 310.60v3.40M1685.50 504.90v-3.40M1685.50 310.60v3.40M1717.77 504.90v-5.60M1717.77 310.60v5.60M1750.03 504.90v-3.40M1750.03 310.60v3.40M1782.30 504.90v-3.40M1782.30 310.60v3.40M1814.57 504.90v-3.40M1814.57 310.60v3.40M1846.83 504.90v-3.40M1846.83 310.60v3.40M1395.10 485.47h3.40M1879.10 485.47h-3.40M1395.10 466.04h3.40M1879.10 466.04h-3.40M1395.10 446.61h3.40M1879.10 446.61h-3.40M1395.10 427.18h3.40M1879.10 427.18h-3.40M1395.10 407.75h5.60M1879.10 407.75h-5.60M1395.10 388.32h3.40M1879.10 388.32h-3.40M1395.10 368.89h3.40M1879.10 368.89h-3.40M1395.10 349.46h3.40M1879.10 349.46h-3.40M1395.10 330.03h3.40M1879.10 330.03h-3.40" stroke="#000" stroke-width="1.7" fill="none"/>
<text transform="translate(1380.40 323.50) scale(1 1.065)" font-family='"Liberation Sans", Arial, Helvetica, sans-serif' font-size="33.60" text-anchor="end" fill="#000" >1</text>
<text transform="translate(1380.40 420.65) scale(1 1.065)" font-family='"Liberation Sans", Arial, Helvetica, sans-serif' font-size="33.60" text-anchor="end" fill="#000" >0.5</text>
<text transform="translate(1380.40 517.80) scale(1 1.065)" font-family='"Liberation Sans", Arial, Helvetica, sans-serif' font-size="33.60" text-anchor="end" fill="#000" >0</text>
<text transform="translate(1395.10 550.50) scale(1 1.065)" font-family='"Liberation Sans", Arial, Helvetica, sans-serif' font-size="33.60" text-anchor="middle" fill="#000" >0</text>
<text transform="translate(1556.43 550.50) scale(1 1.065)" font-family='"Liberation Sans", Arial, Helvetica, sans-serif' font-size="33.60" text-anchor="middle" fill="#000" >0.5</text>
<text transform="translate(1717.77 550.50) scale(1 1.065)" font-family='"Liberation Sans", Arial, Helvetica, sans-serif' font-size="33.60" text-anchor="middle" fill="#000" >1</text>
<text transform="translate(1879.10 550.50) scale(1 1.065)" font-family='"Liberation Sans", Arial, Helvetica, sans-serif' font-size="33.60" text-anchor="middle" fill="#000" >1.5</text>
<text x="1865.80" y="355.70" font-family='"Liberation Serif", "Times New Roman", Times, serif' font-size="34.5" text-anchor="end"><tspan font-size="36.5" dy="0.6">(</tspan><tspan dy="-0.6">d</tspan><tspan font-size="36.5" dy="0.6">)</tspan></text>
<g font-family='"Liberation Serif", "Times New Roman", Times, serif' font-size="30" fill="#6CC344">
<text transform="translate(1412.30 487.80) scale(1.22 1)" font-style="italic">f</text>
<text transform="translate(1436.20 488.40) scale(1.27 1)">=</text>
<text x="1468.60" y="487.80" textLength="12.6" lengthAdjust="spacingAndGlyphs">2</text>
<text x="1494.70" y="487.80" textLength="61.1" lengthAdjust="spacingAndGlyphs">MHz</text>
</g>
<g transform="translate(1310.3 467.35) rotate(-90)" font-family='"Liberation Serif", "Times New Roman", Times, serif' font-size="37"><text transform="translate(-1.5 1.5)" font-size="40.8">|</text><text transform="translate(8.7 0)" font-style="italic">p</text><text transform="translate(27.1 1.5)" font-size="40.8">|</text><text transform="translate(39.0 9.9) scale(1.2 1.385)" font-size="40">/</text><text transform="translate(57.4 0)" font-style="italic">p</text><text transform="translate(74.5 6.5)" font-size="26" textLength="44.9" lengthAdjust="spacingAndGlyphs">max</text></g>
<clipPath id="clip3"><rect x="1395.10" y="582.00" width="484.00" height="194.50"/></clipPath>
<g clip-path="url(#clip3)" fill="none" stroke-linejoin="round">
<path d="M1400.5 626.2L1402.9 622.2L1405.3 623.2L1407.7 629.7L1410.1 639.8L1412.5 650.0L1414.9 655.7L1417.3 653.6L1419.7 644.1L1422.1 630.9L1424.5 618.0L1426.9 608.5L1429.3 604.1L1431.7 605.0L1434.1 610.7L1436.5 619.3L1438.9 628.6L1441.3 635.7L1443.8 638.1L1446.2 635.0L1448.6 627.2L1451.0 617.0L1453.4 606.5L1455.8 597.7L1458.2 591.8L1460.6 589.2L1463.0 590.2L1465.4 594.3L1467.8 600.9L1470.2 608.9L1472.6 617.3L1475.0 624.8L1477.4 630.1L1479.8 632.5L1482.2 631.7L1484.6 628.1L1487.0 622.3L1489.5 615.3L1491.9 608.2L1494.3 601.5L1496.7 595.8L1499.1 591.6L1501.5 589.0L1503.9 588.1L1506.3 588.9L1508.7 591.2L1511.1 594.9L1513.5 599.7L1515.9 605.3L1518.3 611.5L1520.7 618.0L1523.1 624.4L1525.5 630.5L1527.9 635.9L1530.3 640.3L1532.7 643.6L1535.1 645.6L1537.6 646.3L1540.0 645.7L1542.4 643.9L1544.8 641.2L1547.2 637.7L1549.6 633.6L1552.0 629.2L1554.4 624.5L1556.8 619.7L1559.2 615.1L1561.6 610.5L1564.0 606.2L1566.4 602.2L1568.8 598.5L1571.2 595.2L1573.6 592.2L1576.0 589.6L1578.4 587.5L1580.8 585.6L1583.3 584.2L1585.7 583.1L1588.1 582.4L1590.5 582.1L1592.9 582.0L1595.3 582.3L1597.7 582.8L1600.1 583.6L1602.5 584.7L1604.9 586.0L1607.3 587.5L1609.7 589.3L1612.1 591.2L1614.5 593.3L1616.9 595.5L1619.3 597.9L1621.7 600.4L1624.1 603.0L1626.5 605.7L1629.0 608.5L1631.4 611.4L1633.8 614.3L1636.2 617.2L1638.6 620.2L1641.0 623.3L1643.4 626.3L1645.8 629.4L1648.2 632.4L1650.6 635.5L1653.0 638.5L1655.4 641.6L1657.8 644.6L1660.2 647.5L1662.6 650.5L1665.0 653.4L1667.4 656.2L1669.8 659.0L1672.2 661.8L1674.7 664.5L1677.1 667.1L1679.5 669.7L1681.9 672.3L1684.3 674.8L1686.7 677.2L1689.1 679.6L1691.5 681.9L1693.9 684.1L1696.3 686.3L1698.7 688.4L1701.1 690.5L1703.5 692.4L1705.9 694.4L1708.3 696.3L1710.7 698.1L1713.1 699.8L1715.5 701.5L1717.9 703.2L1720.4 704.8L1722.8 706.3L1725.2 707.8L1727.6 709.3L1730.0 710.7L1732.4 712.0L1734.8 713.3L1737.2 714.6L1739.6 715.8L1742.0 717.0L1744.4 718.1L1746.8 719.2L1749.2 720.3L1751.6 721.3L1754.0 722.3L1756.4 723.2L1758.8 724.2L1761.2 725.1L1763.6 726.0L1766.1 726.8L1768.5 727.6L1770.9 728.4L1773.3 729.2L1775.7 730.0L1778.1 730.7L1780.5 731.4L1782.9 732.1L1785.3 732.8L1787.7 733.5L1790.1 734.1L1792.5 734.7L1794.9 735.4L1797.3 736.0L1799.7 736.5L1802.1 737.1L1804.5 737.7L1806.9 738.2L1809.3 738.8L1811.8 739.3L1814.2 739.8L1816.6 740.3L1819.0 740.8L1821.4 741.3L1823.8 741.8L1826.2 742.3L1828.6 742.7L1831.0 743.2L1833.4 743.6L1835.8 744.1L1838.2 744.5L1840.6 744.9L1843.0 745.4L1845.4 745.8L1847.8 746.2L1850.2 746.6L1852.6 747.0L1855.0 747.4L1857.5 747.7L1859.9 748.1L1862.3 748.5L1864.7 748.9L1867.1 749.2L1869.5 749.6L1871.9 749.9L1874.3 750.3L1876.7 750.6L1879.1 750.9" stroke="#EE2225" stroke-width="3.4"/>
<path d="M1400.9 645.6L1402.1 641.8L1403.3 637.3L1404.6 632.7L1405.8 628.4L1407.0 625.1L1408.2 623.2L1409.4 623.3L1410.6 625.0L1411.8 627.9L1413.1 631.2L1414.3 634.5L1415.5 637.5L1416.7 639.7L1417.9 640.9L1419.1 640.8L1420.3 639.4L1421.6 637.0L1422.8 633.8L1424.0 630.1L1425.2 625.9L1426.4 621.6L1427.6 617.5L1428.8 614.0L1430.1 611.6L1431.3 610.8L1432.5 611.7L1433.7 614.1L1434.9 617.5L1436.1 621.5L1437.3 625.9L1438.6 630.0L1439.8 633.5L1441.0 636.0L1442.2 636.9L1443.4 635.9L1444.6 633.0L1445.9 628.6L1447.1 623.3L1448.3 617.3L1449.5 611.2L1450.7 605.0L1451.9 599.0L1453.1 593.2L1454.4 587.8L1455.6 582.8L1456.8 578.3L1458.0 574.5L1459.2 571.3L1460.4 568.9L1461.6 567.3L1462.9 566.5L1464.1 566.6L1465.3 567.5L1466.5 569.4L1467.7 572.0L1468.9 575.4L1470.1 579.6L1471.4 584.5L1472.6 589.9L1473.8 595.6L1475.0 601.3L1476.2 606.5L1477.4 611.1L1478.6 614.8L1479.9 617.7L1481.1 619.7L1482.3 620.8L1483.5 620.8L1484.7 619.9L1485.9 618.1L1487.1 615.7L1488.4 612.7L1489.6 609.4L1490.8 605.8L1492.0 602.1L1493.2 598.4L1494.4 594.8L1495.7 591.3L1496.9 588.0L1498.1 585.0L1499.3 582.4L1500.5 580.3L1501.7 578.6L1502.9 577.3L1504.2 576.5L1505.4 576.2L1506.6 576.2L1507.8 576.6L1509.0 577.4L1510.2 578.5L1511.4 580.0L1512.7 581.7L1513.9 583.6L1515.1 585.8L1516.3 588.3L1517.5 591.0L1518.7 594.0L1519.9 597.4L1521.2 601.0L1522.4 604.8L1523.6 608.7L1524.8 612.7L1526.0 616.6L1527.2 620.4L1528.4 624.0L1529.7 627.3L1530.9 630.4L1532.1 633.1L1533.3 635.5L1534.5 637.5L1535.7 639.1L1536.9 640.3L1538.2 640.9L1539.4 641.1L1540.6 640.9L1541.8 640.4L1543.0 639.5L1544.2 638.4L1545.5 637.0L1546.7 635.5L1547.9 633.8L1549.1 632.0L1550.3 630.1L1551.5 628.3L1552.7 626.4L1554.0 624.5L1555.2 622.5L1556.4 620.6L1557.6 618.7L1558.8 616.7L1560.0 614.8L1561.2 612.8L1562.5 610.9L1563.7 608.9L1564.9 607.0L1566.1 605.1L1567.3 603.2L1568.5 601.4L1569.7 599.6L1571.0 597.8L1572.2 596.2L1573.4 594.6L1574.6 593.1L1575.8 591.7L1577.0 590.4L1578.2 589.2L1579.5 588.1L1580.7 587.2L1581.9 586.3L1583.1 585.5L1584.3 584.8L1585.5 584.2L1586.7 583.7L1588.0 583.2L1589.2 582.8L1590.4 582.5L1591.6 582.3L1592.8 582.2L1594.0 582.1L1595.3 582.1L1596.5 582.1L1597.7 582.2L1598.9 582.3L1600.1 582.5L1601.3 582.8L1602.5 583.1L1603.8 583.4L1605.0 583.8L1606.2 584.2L1607.4 584.7L1608.6 585.1L1609.8 585.7L1611.0 586.2L1612.3 586.8L1613.5 587.4L1614.7 588.1L1615.9 588.8L1617.1 589.5L1618.3 590.3L1619.5 591.1L1620.8 591.9L1622.0 592.8L1623.2 593.8L1624.4 594.8L1625.6 595.8L1626.8 596.9L1628.0 598.0L1629.3 599.2L1630.5 600.4L1631.7 601.6L1632.9 602.9L1634.1 604.1L1635.3 605.4L1636.6 606.7L1637.8 607.9L1639.0 609.2L1640.2 610.4L1641.4 611.6L1642.6 612.9L1643.8 614.1L1645.1 615.3L1646.3 616.5L1647.5 617.8L1648.7 619.0L1649.9 620.3L1651.1 621.6L1652.3 622.9L1653.6 624.2L1654.8 625.6L1656.0 627.0L1657.2 628.5L1658.4 629.9L1659.6 631.5L1660.8 633.0L1662.1 634.5L1663.3 636.1L1664.5 637.7L1665.7 639.3L1666.9 640.9L1668.1 642.6L1669.3 644.2L1670.6 645.9L1671.8 647.5L1673.0 649.2L1674.2 650.8L1675.4 652.5L1676.6 654.1L1677.8 655.8L1679.1 657.4L1680.3 659.1L1681.5 660.7L1682.7 662.3L1683.9 663.9L1685.1 665.4L1686.4 667.0L1687.6 668.5L1688.8 670.1L1690.0 671.6L1691.2 673.1L1692.4 674.6L1693.6 676.1L1694.9 677.6L1696.1 679.1L1697.3 680.6L1698.5 682.1L1699.7 683.5L1700.9 685.0L1702.1 686.5L1703.4 687.9L1704.6 689.4L1705.8 690.9L1707.0 692.3L1708.2 693.7L1709.4 695.2L1710.6 696.6L1711.9 698.0L1713.1 699.4L1714.3 700.8L1715.5 702.2L1716.7 703.6L1717.9 704.9L1719.1 706.2L1720.4 707.6L1721.6 708.8L1722.8 710.1L1724.0 711.4L1725.2 712.6L1726.4 713.8L1727.6 715.0L1728.9 716.1L1730.1 717.2L1731.3 718.3L1732.5 719.4L1733.7 720.4L1734.9 721.4L1736.2 722.4L1737.4 723.3L1738.6 724.2L1739.8 725.1L1741.0 726.0L1742.2 726.8L1743.4 727.7L1744.7 728.5L1745.9 729.2L1747.1 730.0L1748.3 730.7L1749.5 731.4L1750.7 732.1L1751.9 732.8L1753.2 733.5L1754.4 734.1L1755.6 734.7L1756.8 735.3L1758.0 735.8L1759.2 736.4L1760.4 736.9L1761.7 737.4L1762.9 737.8L1764.1 738.3L1765.3 738.7L1766.5 739.1L1767.7 739.5L1768.9 739.8L1770.2 740.2L1771.4 740.5L1772.6 740.8L1773.8 741.1L1775.0 741.3L1776.2 741.6L1777.4 741.8L1778.7 742.0L1779.9 742.2L1781.1 742.4L1782.3 742.6L1783.5 742.7L1784.7 742.9L1786.0 743.0L1787.2 743.1L1788.4 743.3L1789.6 743.4L1790.8 743.5L1792.0 743.5L1793.2 743.6L1794.5 743.7L1795.7 743.8L1796.9 743.8L1798.1 743.9L1799.3 743.9L1800.5 744.0L1801.7 744.0L1803.0 744.0L1804.2 744.0L1805.4 744.0L1806.6 744.0L1807.8 744.0L1809.0 744.0L1810.2 744.0L1811.5 744.0L1812.7 744.0L1813.9 744.0L1815.1 743.9L1816.3 743.9L1817.5 743.8L1818.7 743.8L1820.0 743.7L1821.2 743.7L1822.4 743.6L1823.6 743.6L1824.8 743.5L1826.0 743.4L1827.3 743.3L1828.5 743.3L1829.7 743.2L1830.9 743.1L1832.1 743.0L1833.3 742.9L1834.5 742.8L1835.8 742.8L1837.0 742.7L1838.2 742.6L1839.4 742.5L1840.6 742.4L1841.8 742.3L1843.0 742.2L1844.3 742.1L1845.5 742.1L1846.7 742.0L1847.9 741.9L1849.1 741.8L1850.3 741.7L1851.5 741.6L1852.8 741.6L1854.0 741.5L1855.2 741.4L1856.4 741.3L1857.6 741.2L1858.8 741.2L1860.0 741.1L1861.3 741.0L1862.5 740.9L1863.7 740.9L1864.9 740.8L1866.1 740.7L1867.3 740.6L1868.5 740.6L1869.8 740.5L1871.0 740.4L1872.2 740.3L1873.4 740.3L1874.6 740.2L1875.8 740.1L1877.1 740.1L1878.3 740.0L1879.5 739.9L1880.7 739.8L1881.9 739.8L1883.1 739.7L1884.3 739.6L1885.6 739.5" stroke="#000" stroke-width="3.4" stroke-dasharray="25 15"/>
</g>
<rect x="1395.10" y="582.00" width="484.00" height="194.50" fill="none" stroke="#000" stroke-width="1.70"/>
<path d="M1427.37 776.50v-3.40M1427.37 582.00v3.40M1459.63 776.50v-3.40M1459.63 582.00v3.40M1491.90 776.50v-3.40M1491.90 582.00v3.40M1524.17 776.50v-3.40M1524.17 582.00v3.40M1556.43 776.50v-5.60M1556.43 582.00v5.60M1588.70 776.50v-3.40M1588.70 582.00v3.40M1620.97 776.50v-3.40M1620.97 582.00v3.40M1653.23 776.50v-3.40M1653.23 582.00v3.40M1685.50 776.50v-3.40M1685.50 582.00v3.40M1717.77 776.50v-5.60M1717.77 582.00v5.60M1750.03 776.50v-3.40M1750.03 582.00v3.40M1782.30 776.50v-3.40M1782.30 582.00v3.40M1814.57 776.50v-3.40M1814.57 582.00v3.40M1846.83 776.50v-3.40M1846.83 582.00v3.40M1395.10 757.05h3.40M1879.10 757.05h-3.40M1395.10 737.60h3.40M1879.10 737.60h-3.40M1395.10 718.15h3.40M1879.10 718.15h-3.40M1395.10 698.70h3.40M1879.10 698.70h-3.40M1395.10 679.25h5.60M1879.10 679.25h-5.60M1395.10 659.80h3.40M1879.10 659.80h-3.40M1395.10 640.35h3.40M1879.10 640.35h-3.40M1395.10 620.90h3.40M1879.10 620.90h-3.40M1395.10 601.45h3.40M1879.10 601.45h-3.40" stroke="#000" stroke-width="1.7" fill="none"/>
<text transform="translate(1380.40 594.90) scale(1 1.065)" font-family='"Liberation Sans", Arial, Helvetica, sans-serif' font-size="33.60" text-anchor="end" fill="#000" >1</text>
<text transform="translate(1380.40 692.15) scale(1 1.065)" font-family='"Liberation Sans", Arial, Helvetica, sans-serif' font-size="33.60" text-anchor="end" fill="#000" >0.5</text>
<text transform="translate(1380.40 789.40) scale(1 1.065)" font-family='"Liberation Sans", Arial, Helvetica, sans-serif' font-size="33.60" text-anchor="end" fill="#000" >0</text>
<text transform="translate(1395.10 822.50) scale(1 1.065)" font-family='"Liberation Sans", Arial, Helvetica, sans-serif' font-size="33.60" text-anchor="middle" fill="#000" >0</text>
<text transform="translate(1556.43 822.50) scale(1 1.065)" font-family='"Liberation Sans", Arial, Helvetica, sans-serif' font-size="33.60" text-anchor="middle" fill="#000" >0.5</text>
<text transform="translate(1717.77 822.50) scale(1 1.065)" font-family='"Liberation Sans", Arial, Helvetica, sans-serif' font-size="33.60" text-anchor="middle" fill="#000" >1</text>
<text transform="translate(1879.10 822.50) scale(1 1.065)" font-family='"Liberation Sans", Arial, Helvetica, sans-serif' font-size="33.60" text-anchor="middle" fill="#000" >1.5</text>
<text x="1867.80" y="621.90" font-family='"Liberation Serif", "Times New Roman", Times, serif' font-size="34.5" text-anchor="end"><tspan font-size="36.5" dy="0.6">(</tspan><tspan dy="-0.6">e</tspan><tspan font-size="36.5" dy="0.6">)</tspan></text>
<g font-family='"Liberation Serif", "Times New Roman", Times, serif' font-size="30" fill="#EE2225">
<text transform="translate(1412.30 761.70) scale(1.22 1)" font-style="italic">f</text>
<text transform="translate(1436.20 762.30) scale(1.27 1)">=</text>
<text x="1468.60" y="761.70" textLength="42.8" lengthAdjust="spacingAndGlyphs">500</text>
<text x="1524.10" y="761.70" textLength="50.0" lengthAdjust="spacingAndGlyphs">kHz</text>
</g>
<g transform="translate(1310.3 738.85) rotate(-90)" font-family='"Liberation Serif", "Times New Roman", Times, serif' font-size="37"><text transform="translate(-1.5 1.5)" font-size="40.8">|</text><text transform="translate(8.7 0)" font-style="italic">p</text><text transform="translate(27.1 1.5)" font-size="40.8">|</text><text transform="translate(39.0 9.9) scale(1.2 1.385)" font-size="40">/</text><text transform="translate(57.4 0)" font-style="italic">p</text><text transform="translate(74.5 6.5)" font-size="26" textLength="44.9" lengthAdjust="spacingAndGlyphs">max</text></g>
<g font-family='"Liberation Serif", "Times New Roman", Times, serif' font-size="38.5">
<text transform="translate(1605.50 863.9) scale(1.07 1)" font-style="italic">z</text>
<text transform="translate(1624.30 873.2) scale(1.28 1.42)" font-size="40">/</text>
<text transform="translate(1642.10 863.9) scale(1.12 1)" font-style="italic">F</text>
</g>
</svg></div></body></html>
